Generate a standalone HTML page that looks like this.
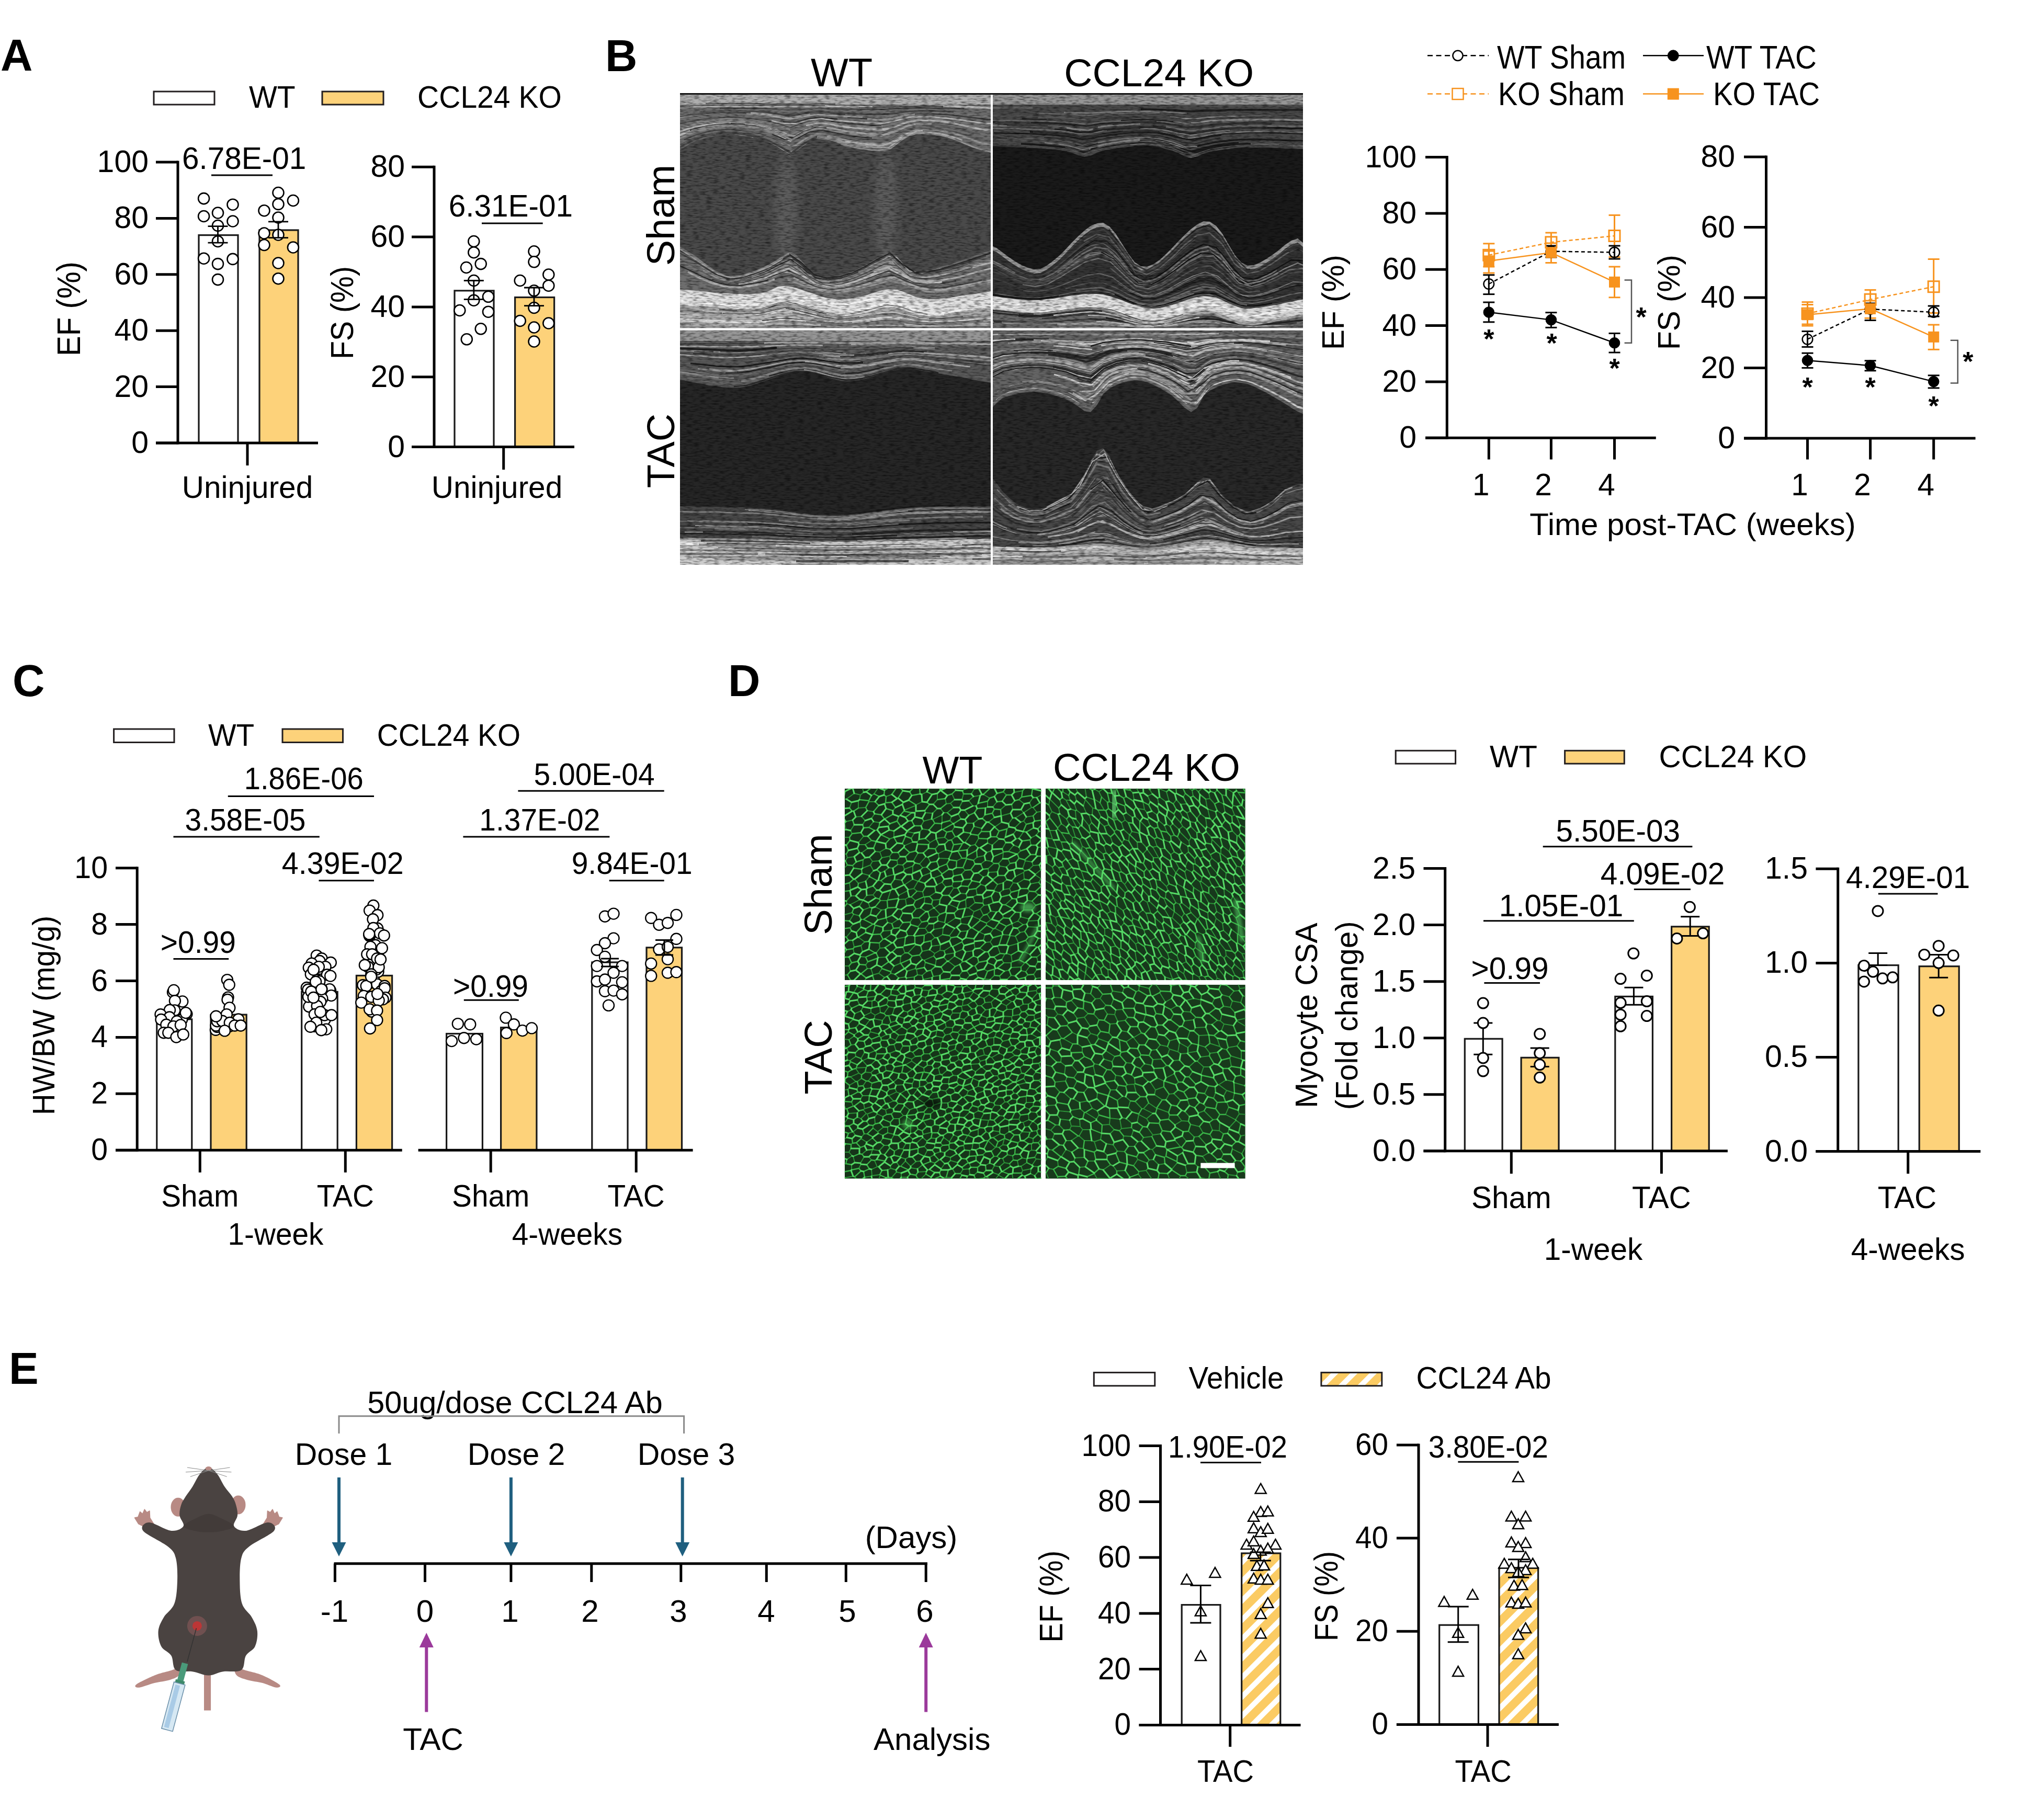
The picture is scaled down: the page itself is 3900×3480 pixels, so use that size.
<!DOCTYPE html><html><head><meta charset="utf-8"><style>html,body{margin:0;padding:0;background:#fff;width:3900px;height:3480px;overflow:hidden}svg{display:block}</style></head><body>
<svg width="3900" height="3480" viewBox="0 0 3900 3480" font-family="Liberation Sans, sans-serif" font-size="58.5">
<defs><pattern id="hatch" patternUnits="userSpaceOnUse" width="26" height="26" patternTransform="rotate(45)"><rect width="26" height="26" fill="#fff"/><rect width="16" height="26" fill="#FBCB63"/></pattern></defs>
<text x="1" y="135" font-size="85" font-weight="bold">A</text>
<rect x="294" y="175" width="116" height="25" fill="#fff" stroke="#231F20" stroke-width="3"/>
<text x="476" y="206" textLength="88.7" lengthAdjust="spacingAndGlyphs">WT</text>
<rect x="616" y="175" width="117" height="25" fill="#FDD27A" stroke="#231F20" stroke-width="3"/>
<text x="798" y="206" textLength="275.8" lengthAdjust="spacingAndGlyphs">CCL24 KO</text>
<rect x="380" y="449.6" width="75" height="397.4" fill="#fff" stroke="#1a1a1a" stroke-width="3.2"/>
<rect x="496" y="440" width="74" height="407" fill="#FDD27A" stroke="#1a1a1a" stroke-width="3.2"/>
<line x1="340" y1="307.5" x2="340" y2="849.5" stroke="#000" stroke-width="5"/>
<line x1="298" y1="847" x2="340" y2="847" stroke="#000" stroke-width="5"/>
<text x="284" y="866" textLength="32.8" lengthAdjust="spacingAndGlyphs" text-anchor="end" font-size="59">0</text>
<line x1="298" y1="739.6" x2="340" y2="739.6" stroke="#000" stroke-width="5"/>
<text x="284" y="758.6" textLength="65.6" lengthAdjust="spacingAndGlyphs" text-anchor="end" font-size="59">20</text>
<line x1="298" y1="632.2" x2="340" y2="632.2" stroke="#000" stroke-width="5"/>
<text x="284" y="651.2" textLength="65.6" lengthAdjust="spacingAndGlyphs" text-anchor="end" font-size="59">40</text>
<line x1="298" y1="524.8" x2="340" y2="524.8" stroke="#000" stroke-width="5"/>
<text x="284" y="543.8" textLength="65.6" lengthAdjust="spacingAndGlyphs" text-anchor="end" font-size="59">60</text>
<line x1="298" y1="417.4" x2="340" y2="417.4" stroke="#000" stroke-width="5"/>
<text x="284" y="436.4" textLength="65.6" lengthAdjust="spacingAndGlyphs" text-anchor="end" font-size="59">80</text>
<line x1="298" y1="310" x2="340" y2="310" stroke="#000" stroke-width="5"/>
<text x="284" y="329" textLength="98.4" lengthAdjust="spacingAndGlyphs" text-anchor="end" font-size="59">100</text>
<line x1="298" y1="847" x2="608" y2="847" stroke="#000" stroke-width="5"/>
<line x1="473" y1="847" x2="473" y2="890" stroke="#000" stroke-width="5"/>
<circle cx="389.6" cy="379.6" r="10.5" fill="#fff" stroke="#000" stroke-width="2.6"/>
<circle cx="445" cy="391.2" r="10.5" fill="#fff" stroke="#000" stroke-width="2.6"/>
<circle cx="389.6" cy="413.5" r="10.5" fill="#fff" stroke="#000" stroke-width="2.6"/>
<circle cx="416.5" cy="407" r="10.5" fill="#fff" stroke="#000" stroke-width="2.6"/>
<circle cx="445" cy="423" r="10.5" fill="#fff" stroke="#000" stroke-width="2.6"/>
<circle cx="416.5" cy="431.5" r="10.5" fill="#fff" stroke="#000" stroke-width="2.6"/>
<circle cx="416.5" cy="461.5" r="10.5" fill="#fff" stroke="#000" stroke-width="2.6"/>
<circle cx="389.6" cy="494.2" r="10.5" fill="#fff" stroke="#000" stroke-width="2.6"/>
<circle cx="445" cy="495.4" r="10.5" fill="#fff" stroke="#000" stroke-width="2.6"/>
<circle cx="416.5" cy="504.6" r="10.5" fill="#fff" stroke="#000" stroke-width="2.6"/>
<circle cx="416.5" cy="534.6" r="10.5" fill="#fff" stroke="#000" stroke-width="2.6"/>
<line x1="416.5" y1="432.7" x2="416.5" y2="464.2" stroke="#000" stroke-width="2.8"/>
<line x1="397.5" y1="432.7" x2="435.5" y2="432.7" stroke="#000" stroke-width="2.8"/>
<line x1="397.5" y1="464.2" x2="435.5" y2="464.2" stroke="#000" stroke-width="2.8"/>
<circle cx="532" cy="368.5" r="10.5" fill="#fff" stroke="#000" stroke-width="2.6"/>
<circle cx="560.4" cy="383.5" r="10.5" fill="#fff" stroke="#000" stroke-width="2.6"/>
<circle cx="532" cy="390.4" r="10.5" fill="#fff" stroke="#000" stroke-width="2.6"/>
<circle cx="505" cy="402.7" r="10.5" fill="#fff" stroke="#000" stroke-width="2.6"/>
<circle cx="532" cy="416" r="10.5" fill="#fff" stroke="#000" stroke-width="2.6"/>
<circle cx="505" cy="446" r="10.5" fill="#fff" stroke="#000" stroke-width="2.6"/>
<circle cx="532" cy="449" r="10.5" fill="#fff" stroke="#000" stroke-width="2.6"/>
<circle cx="505" cy="468.5" r="10.5" fill="#fff" stroke="#000" stroke-width="2.6"/>
<circle cx="560.4" cy="473" r="10.5" fill="#fff" stroke="#000" stroke-width="2.6"/>
<circle cx="532" cy="503" r="10.5" fill="#fff" stroke="#000" stroke-width="2.6"/>
<circle cx="532" cy="532.7" r="10.5" fill="#fff" stroke="#000" stroke-width="2.6"/>
<line x1="532" y1="423.8" x2="532" y2="454.6" stroke="#000" stroke-width="2.8"/>
<line x1="513" y1="423.8" x2="551" y2="423.8" stroke="#000" stroke-width="2.8"/>
<line x1="513" y1="454.6" x2="551" y2="454.6" stroke="#000" stroke-width="2.8"/>
<text x="348" y="323" textLength="237.4" lengthAdjust="spacingAndGlyphs">6.78E-01</text>
<line x1="404" y1="335" x2="521" y2="335" stroke="#000" stroke-width="3"/>
<text transform="translate(153 590.5) rotate(-90)" textLength="181" lengthAdjust="spacingAndGlyphs" text-anchor="middle" font-size="62.5">EF (%)</text>
<text x="473" y="952" textLength="250.4" lengthAdjust="spacingAndGlyphs" text-anchor="middle">Uninjured</text>
<rect x="869" y="555.8" width="75" height="298.8" fill="#fff" stroke="#1a1a1a" stroke-width="3.2"/>
<rect x="984.6" y="568.5" width="75" height="286.1" fill="#FDD27A" stroke="#1a1a1a" stroke-width="3.2"/>
<line x1="830" y1="316.7" x2="830" y2="857.1" stroke="#000" stroke-width="5"/>
<line x1="787" y1="854.6" x2="830" y2="854.6" stroke="#000" stroke-width="5"/>
<text x="774" y="873.6" textLength="32.8" lengthAdjust="spacingAndGlyphs" text-anchor="end" font-size="59">0</text>
<line x1="787" y1="720.8" x2="830" y2="720.8" stroke="#000" stroke-width="5"/>
<text x="774" y="739.8" textLength="65.6" lengthAdjust="spacingAndGlyphs" text-anchor="end" font-size="59">20</text>
<line x1="787" y1="586.9" x2="830" y2="586.9" stroke="#000" stroke-width="5"/>
<text x="774" y="605.9" textLength="65.6" lengthAdjust="spacingAndGlyphs" text-anchor="end" font-size="59">40</text>
<line x1="787" y1="453" x2="830" y2="453" stroke="#000" stroke-width="5"/>
<text x="774" y="472" textLength="65.6" lengthAdjust="spacingAndGlyphs" text-anchor="end" font-size="59">60</text>
<line x1="787" y1="319.2" x2="830" y2="319.2" stroke="#000" stroke-width="5"/>
<text x="774" y="338.2" textLength="65.6" lengthAdjust="spacingAndGlyphs" text-anchor="end" font-size="59">80</text>
<line x1="787" y1="854.6" x2="1098" y2="854.6" stroke="#000" stroke-width="5"/>
<line x1="962.7" y1="854.6" x2="962.7" y2="898" stroke="#000" stroke-width="5"/>
<circle cx="905.8" cy="461.5" r="10.5" fill="#fff" stroke="#000" stroke-width="2.6"/>
<circle cx="905.8" cy="482.7" r="10.5" fill="#fff" stroke="#000" stroke-width="2.6"/>
<circle cx="891.5" cy="511.5" r="10.5" fill="#fff" stroke="#000" stroke-width="2.6"/>
<circle cx="919.2" cy="504.6" r="10.5" fill="#fff" stroke="#000" stroke-width="2.6"/>
<circle cx="905.8" cy="536.5" r="10.5" fill="#fff" stroke="#000" stroke-width="2.6"/>
<circle cx="933.5" cy="567.3" r="10.5" fill="#fff" stroke="#000" stroke-width="2.6"/>
<circle cx="905.8" cy="574.2" r="10.5" fill="#fff" stroke="#000" stroke-width="2.6"/>
<circle cx="878.8" cy="593.5" r="10.5" fill="#fff" stroke="#000" stroke-width="2.6"/>
<circle cx="933.5" cy="596.2" r="10.5" fill="#fff" stroke="#000" stroke-width="2.6"/>
<circle cx="919.2" cy="628.8" r="10.5" fill="#fff" stroke="#000" stroke-width="2.6"/>
<circle cx="892.3" cy="648.8" r="10.5" fill="#fff" stroke="#000" stroke-width="2.6"/>
<line x1="905.8" y1="536.5" x2="905.8" y2="572.3" stroke="#000" stroke-width="2.8"/>
<line x1="886.8" y1="536.5" x2="924.8" y2="536.5" stroke="#000" stroke-width="2.8"/>
<line x1="886.8" y1="572.3" x2="924.8" y2="572.3" stroke="#000" stroke-width="2.8"/>
<circle cx="1021" cy="480.8" r="10.5" fill="#fff" stroke="#000" stroke-width="2.6"/>
<circle cx="1021" cy="500.8" r="10.5" fill="#fff" stroke="#000" stroke-width="2.6"/>
<circle cx="994.2" cy="536.5" r="10.5" fill="#fff" stroke="#000" stroke-width="2.6"/>
<circle cx="1048.8" cy="525" r="10.5" fill="#fff" stroke="#000" stroke-width="2.6"/>
<circle cx="1048.8" cy="546.2" r="10.5" fill="#fff" stroke="#000" stroke-width="2.6"/>
<circle cx="1021" cy="555.8" r="10.5" fill="#fff" stroke="#000" stroke-width="2.6"/>
<circle cx="1021" cy="588.5" r="10.5" fill="#fff" stroke="#000" stroke-width="2.6"/>
<circle cx="994.2" cy="613.5" r="10.5" fill="#fff" stroke="#000" stroke-width="2.6"/>
<circle cx="1048.8" cy="618" r="10.5" fill="#fff" stroke="#000" stroke-width="2.6"/>
<circle cx="1021" cy="626" r="10.5" fill="#fff" stroke="#000" stroke-width="2.6"/>
<circle cx="1021" cy="653" r="10.5" fill="#fff" stroke="#000" stroke-width="2.6"/>
<line x1="1021" y1="550" x2="1021" y2="584.6" stroke="#000" stroke-width="2.8"/>
<line x1="1002" y1="550" x2="1040" y2="550" stroke="#000" stroke-width="2.8"/>
<line x1="1002" y1="584.6" x2="1040" y2="584.6" stroke="#000" stroke-width="2.8"/>
<text x="857.7" y="413.5" textLength="237.4" lengthAdjust="spacingAndGlyphs">6.31E-01</text>
<line x1="921" y1="427" x2="1037.7" y2="427" stroke="#000" stroke-width="3"/>
<text transform="translate(675 598) rotate(-90)" textLength="178" lengthAdjust="spacingAndGlyphs" text-anchor="middle" font-size="61">FS (%)</text>
<text x="950" y="952" textLength="250.4" lengthAdjust="spacingAndGlyphs" text-anchor="middle">Uninjured</text>
<text x="1157" y="136" font-size="85" font-weight="bold">B</text>
<filter id="speck" x="0" y="0" width="100%" height="100%"><feTurbulence type="fractalNoise" baseFrequency="0.08 0.35" numOctaves="2" seed="3"/><feColorMatrix type="matrix" values="0 0 0 0 0  0 0 0 0 0  0 0 0 0 0  -2.2 0 0 0 1.25"/></filter><filter id="eblur"><feGaussianBlur stdDeviation="8"/></filter>
<clipPath id="ewt1"><rect x="1300" y="181" width="594" height="446.5"/></clipPath>
<g clip-path="url(#ewt1)">
<path d="M1295 175 1307 175 1319 175 1331 175 1343 175 1355 175 1367 175 1379 175 1391 175 1403 175 1415 175 1427 175 1439 175 1451 175 1463 175 1475 175 1487 175 1499 175 1511 175 1523 175 1535 175 1547 175 1559 175 1571 175 1583 175 1595 175 1607 175 1619 175 1631 175 1643 175 1655 175 1667 175 1679 175 1691 175 1703 175 1715 175 1727 175 1739 175 1751 175 1763 175 1775 175 1787 175 1799 175 1811 175 1823 175 1835 175 1847 175 1859 175 1871 175 1883 175 1895 175 1899 175 L1899 640 1895 640 1883 640 1871 640 1859 640 1847 640 1835 640 1823 640 1811 640 1799 640 1787 640 1775 640 1763 640 1751 640 1739 640 1727 640 1715 640 1703 640 1691 640 1679 640 1667 640 1655 640 1643 640 1631 640 1619 640 1607 640 1595 640 1583 640 1571 640 1559 640 1547 640 1535 640 1523 640 1511 640 1499 640 1487 640 1475 640 1463 640 1451 640 1439 640 1427 640 1415 640 1403 640 1391 640 1379 640 1367 640 1355 640 1343 640 1331 640 1319 640 1307 640 1295 640Z" fill="#6e6e6e"/>
<path d="M1295 180 1307 180 1319 180 1331 180 1343 180 1355 180 1367 180 1379 180 1391 180 1403 180 1415 180 1427 180 1439 180 1451 180 1463 180 1475 180 1487 180 1499 180 1511 180 1523 180 1535 180 1547 180 1559 180 1571 180 1583 180 1595 180 1607 180 1619 180 1631 180 1643 180 1655 180 1667 180 1679 180 1691 180 1703 180 1715 180 1727 180 1739 180 1751 180 1763 180 1775 180 1787 180 1799 180 1811 180 1823 180 1835 180 1847 180 1859 180 1871 180 1883 180 1895 180 1899 180 L1899 200 1895 200 1883 200 1871 200 1859 200 1847 200 1835 200 1823 200 1811 200 1799 200 1787 200 1775 200 1763 200 1751 200 1739 200 1727 200 1715 200 1703 200 1691 200 1679 200 1667 200 1655 200 1643 200 1631 200 1619 200 1607 200 1595 200 1583 200 1571 200 1559 200 1547 200 1535 200 1523 200 1511 200 1499 200 1487 200 1475 200 1463 200 1451 200 1439 200 1427 200 1415 200 1403 200 1391 200 1379 200 1367 200 1355 200 1343 200 1331 200 1319 200 1307 200 1295 200Z" fill="#afafaf"/>
<g fill="none" opacity="0.70"><path d="M1472 233l24 7 24 2 24 -9 24 -3 24 3 24 3 24 2 24 2 24 0 24 -4 24 -8 24 -3 24 1 24 2 24 4 24 4 24 4 19 1" stroke="#787878" stroke-width="3"/><path d="M1451 214l24 2 24 3 24 -1 24 -3 24 -1 24 1 24 2 24 0 24 1 24 0 24 -2 24 -3 24 -1 15 0M1544 215l24 -1 24 1 24 1 24 1 20 1M1620 225l24 1 24 1 24 1 24 -5 24 -5 24 -1 24 1 24 1 24 3 24 3 24 3 15 1" stroke="#282828" stroke-width="2.5"/><path d="M1577 203l24 1 24 1 24 0 24 0 24 0 24 -1 24 -1 24 -1 24 1 24 0 24 1 24 1 24 1 10 0M1295 260l24 -9 24 -6 24 -4 24 -2 24 1 24 3 24 5 24 9 24 12 24 -14 16 -8" stroke="#d8d8d8" stroke-width="4"/><path d="M1495 255l24 4 24 -14 24 -5 24 4 24 5 7 1" stroke="#787878" stroke-width="1.5"/><path d="M1337 213l24 -2 24 0 24 0 1 0" stroke="#686868" stroke-width="3.5"/><path d="M1506 251l24 -6 24 -9 24 0 24 4 24 4 24 2 24 1 24 0 24 -9 24 -7 24 -1 7 1M1637 217l24 1 24 0 24 -1 24 -4 24 -1 24 0 24 1 24 1 24 2 24 2 22 1M1637 258l24 2 24 2 24 -6 24 -13 24 -5 24 1 24 3 9 1" stroke="#686868" stroke-width="2"/><path d="M1656 288l24 3 24 -6 24 -18 24 -9 24 0 24 4 24 6 24 10 24 10 24 5 3 0" stroke="#585858" stroke-width="2"/><path d="M1295 225l24 -4 24 -3 24 -1 24 -1 24 0 24 2 24 2 24 4 24 4 24 -5 24 -4 24 1 24 2 24 1 18 1" stroke="#b8b8b8" stroke-width="2.5"/><path d="M1593 268l24 7 24 5 12 1M1417 214l24 1 24 2 24 2 24 3 24 -4 24 -2 24 0 24 2 24 1 24 1 24 0 24 -1 24 -3 24 -2 24 0 24 1 17 0" stroke="#c8c8c8" stroke-width="2.5"/><path d="M1403 257l24 3 24 6 24 9 19 12" stroke="#a8a8a8" stroke-width="2"/><path d="M1376 207l24 0 24 0 24 0 24 1 24 1 24 1 24 -2 24 -1 24 1 24 1 24 0 24 0 24 0 24 -1 24 -1 24 -1 24 1 24 0 24 1 11 0M1359 238l24 -2 24 0 24 2 24 4 24 6 14 6" stroke="#282828" stroke-width="2"/><path d="M1295 207l24 -1 24 -1 24 -1 24 0 24 0 24 0 24 1 24 2 24 1 24 -2 24 -1 24 0 24 1 24 0 24 1 2 0M1453 267l24 10 24 15 24 -4 24 -18 24 -3 24 7 24 7 24 4 24 3 14 1" stroke="#888888" stroke-width="2.5"/><path d="M1349 215l24 -1 24 0 24 1 24 1 24 1 24 3 24 2 24 -4 24 -2 24 1 24 2 24 1 24 0 24 1 24 -2 24 -4 24 -1 24 0 24 1 15 1M1410 212l24 1 24 2 24 2 24 4 24 -3 24 -4 24 1 24 1 24 2 24 0 24 1 24 0 24 -4 13 -2" stroke="#585858" stroke-width="3.5"/><path d="M1402 213l24 1 24 1 24 2 24 3 24 0 24 -4 24 -1 24 1 24 2 24 1 24 0 24 1 24 -3 24 -3 24 -1 24 0 24 1 13 1" stroke="#282828" stroke-width="4"/><path d="M1344 213l24 -1 24 -1 24 1 24 0 24 2 24 3 24 3 24 -4 24 -3 24 1 24 2 24 1 24 1 24 0 24 -1 24 -4 3 0M1295 279l24 -12 24 -8 24 -5 24 -2 24 1 24 4 14 4" stroke="#484848" stroke-width="1.5"/><path d="M1481 208l24 1 24 -1 24 -1 24 0 24 0 24 1 19 0M1456 244l24 7 24 10 24 -5 24 -12 24 0 24 4 24 5 24 2 24 2 24 1 24 -11 24 -9 24 -1 24 1 24 4 24 5 24 7 9 2M1319 218l24 -2 24 -1 24 -1 24 0 24 1 24 2 24 3 24 5 24 -5 24 -4 24 1 20 2" stroke="#585858" stroke-width="2.5"/><path d="M1440 263l24 7 24 13 24 15 24 -18 24 -14 24 3 24 8 24 5 24 4 24 2 24 -5 24 -17 14 -7M1295 224l24 -4 24 -2 24 -2 24 0 24 0 12 1M1308 267l24 -10 24 -6 24 -3 24 0 24 2 24 5 24 8 24 12 10 7" stroke="#383838" stroke-width="2"/><path d="M1581 261l24 7 24 5 24 4 24 2 24 -2 24 -16 21 -10M1658 228l24 1 24 -2 24 -6 19 -2" stroke="#a8a8a8" stroke-width="4"/><path d="M1642 205l24 0 24 0 24 -1 24 0 24 -1 24 0 17 1M1295 284l24 -13 24 -9 24 -5 24 -3 24 2 10 1" stroke="#484848" stroke-width="3.5"/><path d="M1595 240l24 4 24 2 24 2 24 1 24 -8 24 -9 24 -2 24 1 24 3 24 5 24 6 24 4 16 1M1369 229l24 -1 24 1 24 2 24 4 24 6 21 7" stroke="#c8c8c8" stroke-width="2"/><path d="M1349 198l24 0 24 0 24 0 24 0 24 1 24 0 24 0 24 0 24 -1 24 1 8 0" stroke="#383838" stroke-width="2.5"/><path d="M1295 253l24 -8 24 -5 24 -4 24 -1 24 1 24 2 24 5 24 7 17 6M1616 270l24 4 24 2 24 2 24 -9 24 -15 24 -4 4 0" stroke="#d8d8d8" stroke-width="3"/><path d="M1482 253l24 11 24 -8 24 -12 24 0 23 6" stroke="#181818" stroke-width="4"/><path d="M1642 260l24 3 24 1 21 -7M1616 220l24 1 24 1 24 0 24 -2 24 -4 24 -1 24 0 24 1 24 2 24 2 24 2 19 0" stroke="#787878" stroke-width="3.5"/><path d="M1533 264l24 -12 24 1 24 6 24 5 24 2 24 2 24 -1 24 -14 24 -8 24 -1 24 3 24 4 24 7 24 8 24 4 6 0M1514 292l24 -19 24 -11 24 4 24 7 24 5 24 3 24 3 24 -7 24 -16 24 -7 7 0" stroke="#585858" stroke-width="3"/><path d="M1603 270l24 6 24 4 24 2 24 0 24 -17 24 -11 24 -1 24 2 24 6 21 7" stroke="#c8c8c8" stroke-width="3"/><path d="M1397 236l24 2 24 3 24 5 24 9 24 6 24 -13 24 -6 24 3 24 5 24 3 24 2 24 2 18 -3M1497 233l24 1 24 -7 24 -2 24 2 8 1" stroke="#282828" stroke-width="3"/><path d="M1607 276l24 6 24 4 24 2 24 -4 24 -18 24 -10 24 0 24 3 24 7 24 10 24 9 24 6 4 0" stroke="#a8a8a8" stroke-width="3"/><path d="M1589 233l24 3 24 3 24 1 24 1" stroke="#181818" stroke-width="3"/><path d="M1332 233l24 -3 24 -2 24 0 24 1 24 3 24 5 24 7 24 -1 24 -9 24 -2 24 4 24 3 24 2 24 2 20 0" stroke="#888888" stroke-width="4"/><path d="M1369 235l24 -2 24 1 24 3 24 4 21 7" stroke="#b8b8b8" stroke-width="3.5"/><path d="M1426 257l24 5 24 10 24 15 20 4M1555 243l24 1 24 5 24 3 24 3 24 1 24 1 24 -12 24 -8 24 0 10 0" stroke="#c8c8c8" stroke-width="1.5"/><path d="M1476 256l24 11 24 -2 24 -13 24 -3 24 5 24 5 24 3 23 2" stroke="#181818" stroke-width="2"/><path d="M1295 238l24 -6 24 -4 24 -2 24 -2 24 1 24 2 24 3 24 6 24 8 24 -9 24 -6 24 1 24 4 24 2 24 2 1 0" stroke="#383838" stroke-width="1.5"/><path d="M1424 239l24 3 24 6 24 9 24 3 24 -13 24 -4 24 3 24 5 24 3 24 2 24 2 24 -7 24 -11 14 -3M1435 216l24 2 24 3 24 5 24 -4 18 -3" stroke="#b8b8b8" stroke-width="4"/><path d="M1319 249l24 -6 24 -4 24 -2 24 1 24 3 24 5 24 9 24 12 24 -14 24 -9 21 1" stroke="#181818" stroke-width="2.5"/><path d="M1311 256l24 -8 24 -5 24 -3 24 0 24 3 24 4 24 8 7 3M1303 246l24 -8 24 -4 24 -2 24 -1 24 1 24 3 2 1" stroke="#989898" stroke-width="3"/><path d="M1540 271l24 -10 24 5 24 8 24 4 19 3" stroke="#989898" stroke-width="4"/><path d="M1475 231l24 5 24 0 24 -7 24 -2 24 3 24 2 24 2 24 1 24 1 24 -6 24 -6 24 -1 24 1 24 2 24 3 24 4 24 3 16 0M1541 240l24 -5 24 3 24 4 24 3 24 1 24 2 24 -5 24 -9 24 -4 24 1 24 2 24 4 24 5 24 5 22 2" stroke="#d8d8d8" stroke-width="2.5"/><path d="M1322 250l24 -6 24 -4 24 -1 24 1 24 3 24 5 24 9 24 10 24 -14 24 -8 24 3 24 5 24 3 24 3 24 1 5 0" stroke="#989898" stroke-width="3.5"/><path d="M1560 234l24 2 24 4 24 3 24 2 24 1 24 -2 24 -10 24 -5 24 0 24 1 24 4 2 1" stroke="#b8b8b8" stroke-width="1.5"/><path d="M1320 242l24 -5 24 -3 24 -1 24 1 24 2 24 4 24 8 24 9 24 -11 24 -8 24 2 23 4" stroke="#888888" stroke-width="1.5"/><path d="M1295 267l24 -11 24 -7 24 -4 20 -2" stroke="#989898" stroke-width="2.5"/><path d="M1494 273l24 7 24 -17 24 -8 24 4 24 7 24 4 24 3 24 2 24 -8 24 -15 24 -5 24 0 24 4 24 6 24 9 24 8 21 3" stroke="#a8a8a8" stroke-width="3.5"/><path d="M1369 256l24 -2 24 2 24 4 24 7 24 12 24 14 24 -19 24 -12 1 0" stroke="#383838" stroke-width="4"/><path d="M1413 246l24 4 24 6 24 10 24 15 24 -15 24 -13 24 2 24 7 24 5 24 3 24 2 24 -2 24 -15 24 -9 24 -1 24 3 10 1" stroke="#686868" stroke-width="3"/><path d="M1320 204l24 0 24 0 24 -1 24 1 24 0 24 0 24 0 24 0 24 0 24 0 24 0 24 0 24 0 24 0 12 0" stroke="#d8d8d8" stroke-width="2"/></g>
<path d="M1295 288 1307 283 1319 275 1331 269 1343 266 1355 262 1367 260 1379 258 1391 257 1403 257 1415 259 1427 261 1439 263 1451 266 1463 270 1475 276 1487 283 1499 291 1511 300 1523 291 1535 281 1547 271 1559 266 1571 267 1583 270 1595 274 1607 277 1619 281 1631 283 1643 285 1655 287 1667 288 1679 289 1691 290 1703 285 1715 276 1727 267 1739 260 1751 257 1763 256 1775 257 1787 258 1799 260 1811 263 1823 267 1835 272 1847 277 1859 282 1871 286 1883 290 1895 292 1899 292 L1899 478 1895 478 1883 482 1871 486 1859 491 1847 495 1835 499 1823 503 1811 507 1799 510 1787 514 1775 517 1763 519 1751 520 1739 516 1727 505 1715 490 1703 479 1691 484 1679 491 1667 499 1655 506 1643 513 1631 519 1619 524 1607 527 1595 529 1583 531 1571 530 1559 526 1547 517 1535 502 1523 488 1511 481 1499 487 1487 495 1475 503 1463 509 1451 514 1439 519 1427 523 1415 527 1403 529 1391 528 1379 524 1367 518 1355 509 1343 500 1331 490 1319 483 1307 475 1295 470Z" fill="#4a4a4a"/>
<g fill="#6a6a6a" opacity="0.6" filter="url(#eblur)"><ellipse cx="1503" cy="400" rx="22" ry="105"/><ellipse cx="1693" cy="395" rx="22" ry="105"/></g>
<g fill="none" opacity="0.75"><path d="M1556 540l24 6 24 -1 24 -6 24 -9 24 -10 24 -9 24 12 24 14 24 2 24 -2 24 -4 8 -2M1295 500l24 11 24 13 24 11 24 7 24 0 24 -4 24 -6 24 -10 24 -7 24 14 24 14 24 5 24 -2 1 0" stroke="#383838" stroke-width="1.5"/><path d="M1295 475l24 13 24 16 24 17 24 10 24 -1 24 -7 24 -9 24 -14 24 -13 24 20 9 10" stroke="#888888" stroke-width="2"/><path d="M1321 496l24 16 24 15 24 9 24 -2 24 -7 24 -9 24 -13 24 -11 24 22 24 19 24 4 24 -4 24 -7 24 -12 24 -14 24 -10 24 25 7 6" stroke="#c8c8c8" stroke-width="1.5"/><path d="M1637 520l24 -13 24 -15 24 -8 24 32 24 7 24 -4 24 -6 24 -7 24 -8 24 -8 16 -6" stroke="#585858" stroke-width="2.5"/><path d="M1417 537l24 -5 24 -7 24 -11 24 -7 24 16 24 15 24 4 24 -2 24 -6 24 -9 24 -11 24 -8 24 17 2 2M1295 497l24 12 24 14 24 12 24 7 24 0 24 -5 24 -6 24 -11 24 -8 24 15 24 15 24 5 24 -2 24 -6 24 -9 24 -11 0 0" stroke="#989898" stroke-width="3"/><path d="M1427 528l24 -8 24 -10 24 -15 24 2 24 25 24 12 24 0 24 -5 24 -10 24 -12 24 -13 24 4 24 23 24 4 24 -3 13 -3M1619 541l24 -8 24 -9 24 -10 4 -1M1538 514l24 18 24 4 24 -4 24 -8 24 -11 24 -13 24 -9 24 25 24 10 24 -2 24 -4 24 -7 24 -7" stroke="#383838" stroke-width="2"/><path d="M1406 544l24 -3 24 -5 24 -9 24 -10 24 7 24 15 24 9 24 0 24 -4 24 -8 24 -9 24 -9 24 5 2 1M1631 537l24 -9 24 -10 24 -8 24 15 24 12 24 1 24 -2 24 -4 24 -6 24 -7 24 -6 4 0M1558 539l24 5 24 -1 24 -6 24 -9 24 -11 24 -8 24 14 24 13 24 1 11 0" stroke="#c8c8c8" stroke-width="3"/><path d="M1620 534l24 -10 24 -12 24 -12 24 5 24 22 24 3 24 -3 24 -5 24 -7 24 -7 24 -8 15 -3M1607 557l24 -4 24 -7 24 -7 24 -6 24 8 24 10 24 5 24 1 24 -3 24 -5 24 -5 24 -4 4 0M1336 529l24 10 24 8 24 2 24 -3 12 -2M1506 535l24 9 24 8 24 6 24 2 24 -4 24 -6 24 -6 24 -7 24 4 24 9 24 7 17 2M1555 529l24 7 24 -2 24 -7 24 -11 24 -13 24 -12 24 17 24 17M1328 514l24 13 24 12 24 4 9 0" stroke="#a8a8a8" stroke-width="2.5"/><path d="M1295 506l24 11 24 12 24 10 24 6 24 1 24 -4 24 -5 6 -2M1415 535l24 -6 24 -9 24 -13 24 -11 24 17 24 22 24 4 15 -1" stroke="#181818" stroke-width="2"/><path d="M1499 521l24 4 24 15 24 10 24 2 24 -4 24 -7 14 -6M1453 535l24 -9 24 -11 24 6 24 18 24 8 24 1 24 -4 8 -3" stroke="#989898" stroke-width="2"/><path d="M1476 529l24 -10 24 4 24 15 24 9 24 2 24 -4 24 -7 24 -9 24 -9 24 2 24 15 21 5" stroke="#d8d8d8" stroke-width="3"/><path d="M1557 542l24 6 24 -1 24 -5 24 -8 24 -9 24 -7 24 10 24 11 24 4 24 0 24 -4 24 -5 24 -6 24 -6 6 0M1505 533l24 8 24 8 24 7 24 1 24 -4 24 -5 24 -6 24 -7 24 3 24 9 24 7 24 4 24 -2 24 -4 24 -4 24 -5 10 -1M1350 519l24 13 24 6 24 -3 24 -6 24 -9 24 -12 24 -5 24 22 24 14 24 2 24 -4 24 -7 24 -11 24 -12 13 -6" stroke="#888888" stroke-width="3"/><path d="M1405 533l24 -4 24 -8 24 -11 9 -5" stroke="#585858" stroke-width="1.5"/><path d="M1618 532l24 -9 24 -12 24 -12 24 3 24 22 24 4 24 -2 24 -6 24 -6 24 -8 24 -7 17 -4M1462 530l24 -11 24 -9 24 14 24 17 24 5 24 -2 24 -6 24 -9 24 -11 24 -8 24 14 24 13 24 2 24 -3 24 -4 5 -1" stroke="#c8c8c8" stroke-width="2.5"/><path d="M1628 522l24 -13 24 -14 24 -13 24 21 24 18 8 0M1389 536l24 0 24 -5 24 -8 24 -11 24 -11 24 14 24 19 24 6 24 -1 11 -3" stroke="#383838" stroke-width="2.5"/><path d="M1295 500l24 11 24 13 24 11 24 7 24 0 24 -4 24 -6 24 -10 24 -7 24 14 24 14 24 5 24 -2 24 -6 24 -8 24 -10 24 -7 16 7M1605 528l24 -7 24 -12 24 -14 21 -11M1354 540l24 7 24 3 21 -1" stroke="#787878" stroke-width="2.5"/><path d="M1356 523l24 11 24 4 24 -4 24 -7 24 -9 24 -13 24 4 24 21 24 10 24 1 24 -5 24 -9 24 -11 24 -12 1 0" stroke="#484848" stroke-width="3"/><path d="M1295 482l24 12 24 15 24 15 24 8 14 1M1361 533l24 8 24 2 24 -3 24 -6 24 -8 24 -9 24 9 24 14 24 7 24 0 24 -5 24 -7 24 -9 24 -8 24 7 24 13 4 1M1464 540l24 -9 24 -5 24 12 24 11 24 5 24 -1 24 -5 24 -7 24 -9 24 -6 24 10 24 10 24 4 24 1 24 -4 24 -5 24 -5 5 -1M1550 523l24 10 24 -1 24 -6 24 -11 24 -13 24 -13 24 10 24 22 24 1 24 -4 24 -6 24 -7 24 -8 23 -8M1655 534l24 -10 24 -7 24 13 24 11 24 2 24 -1 24 -4 5 -1" stroke="#383838" stroke-width="3"/><path d="M1614 535l24 -8 24 -10 24 -12 24 -4 24 22 24 7 24 0 24 -4 24 -6 24 -7 24 -7 21 -5M1315 520l24 12 24 10 24 6 24 2 24 -3 24 -5 22 -8" stroke="#c8c8c8" stroke-width="3.5"/><path d="M1618 526l24 -10 24 -13 24 -14 24 3 24 26 24 4 24 -5 24 -6 24 -7 24 -9 1 0" stroke="#c8c8c8" stroke-width="2"/><path d="M1295 497l24 12 24 13 24 12 24 8 24 0 24 -5 24 -7 24 -11 24 -7 24 14M1467 523l24 -13 24 -8 24 21 24 16 24 3 24 -3 24 -7 24 -11 24 -12 24 -9 24 24 24 9 24 -1 24 -4 24 -6 15 -4" stroke="#686868" stroke-width="2"/><path d="M1412 543l24 -4 24 -7 24 -10 24 -8 24 12 24 15 24 6 24 -1 24 -5 24 -9 24 -9 24 -9 24 12 24 12 24 3 24 -1 5 -1" stroke="#d8d8d8" stroke-width="3.5"/><path d="M1295 472l24 12 24 17 24 17 24 11 24 -2 20 -6" stroke="#888888" stroke-width="1.5"/><path d="M1295 498l24 12 24 13 19 10M1510 532l24 10 24 8 24 6 24 -1 24 -4 24 -6 24 -6 24 -6 24 6 24 9 24 6 24 2 24 -2 24 -4 24 -5 24 -5 5 0" stroke="#787878" stroke-width="3"/><path d="M1437 531l24 -8 24 -11 24 -11 24 15 24 19 24 5 5 0" stroke="#a8a8a8" stroke-width="3"/><path d="M1295 474l24 13 24 16 24 18 24 10 24 -2 24 -7 24 -9 24 -14 24 -13 24 20 24 23 24 4 24 -3 24 -7 24 -13 24 -14 9 -5M1632 551l24 -6 24 -7 24 -5 24 7 24 10 24 5 24 1 24 -3 24 -4 24 -5 24 -5 3 0" stroke="#a8a8a8" stroke-width="2"/><path d="M1344 517l24 13 24 8 24 -1 24 -5 24 -8 24 -12 24 -8 24 17 24 17 24 4 24 -2 24 -7 24 -10 24 -11 24 -9 24 18 19 11" stroke="#989898" stroke-width="3.5"/><path d="M1363 519l24 11 24 1 24 -7 24 -9 24 -13 24 -14 24 14 24 26 24 6 24 -2 24 -7 24 -12 24 -14 24 -13 24 19 7 8M1404 539l24 -4 24 -7 24 -10 24 -13 24 3 24 22 24 11 24 0 24 -5 24 -9 24 -11 24 -12 24 5 24 20 24 4 24 -2 24 -5 24 -7 23 -7" stroke="#484848" stroke-width="2"/><path d="M1542 522l24 14 24 2 24 -3 24 -8 24 -11 24 -12 24 -5 24 23 23 8M1435 523l24 -10 24 -13 24 -15 24 14 24 27 24 7 24 -3 24 -7 24 -12 1 -1" stroke="#989898" stroke-width="2.5"/><path d="M1295 477l24 12 24 16 24 18 24 10 24 -2 24 -7 24 -9 24 -14 24 -13 24 20 24 23 24 4 24 -3 24 -7 10 -5" stroke="#282828" stroke-width="3"/><path d="M1517 531l24 12 24 10 24 3 24 -2 24 -5 24 -7 24 -9 24 -3 24 11 24 9 24 4 24 -1 24 -4 24 -5 24 -5 22 -4" stroke="#b8b8b8" stroke-width="3.5"/><path d="M1297 494l24 13 24 14 24 13 24 7 24 0 24 -6 24 -7 24 -12 24 -8 24 17 24 16 24 5 24 -3 24 -7 24 -10 13 -6" stroke="#585858" stroke-width="2"/><path d="M1509 486l24 17 24 23 24 6 24 -3 24 -7 24 -12 24 -14 24 -12 24 21 24 16 24 -1 24 -5 24 -7 24 -8 24 -8 24 -8 4 0" stroke="#181818" stroke-width="2.5"/><path d="M1610 534l24 -8 24 -11 24 -13 24 -9 24 24 24 11 24 -2 24 -4 24 -6 24 -8 24 -7 24 -6 1 0" stroke="#787878" stroke-width="3.5"/><path d="M1301 477l24 16 24 16 24 15 24 7 24 -3 24 -8 24 -9 24 -14 4 -3" stroke="#b8b8b8" stroke-width="2.5"/></g>
<path d="M1295 553 1307 554 1319 555 1331 556 1343 557 1355 558 1367 560 1379 561 1391 561 1403 562 1415 562 1427 563 1439 562 1451 561 1463 559 1475 554 1487 548 1499 547 1511 548 1523 551 1535 555 1547 559 1559 563 1571 567 1583 570 1595 572 1607 573 1619 572 1631 570 1643 567 1655 565 1667 561 1679 557 1691 554 1703 553 1715 554 1727 558 1739 563 1751 568 1763 571 1775 572 1787 572 1799 571 1811 570 1823 568 1835 566 1847 564 1859 563 1871 561 1883 559 1895 557 1899 557 L1899 587 1895 587 1883 589 1871 591 1859 593 1847 594 1835 596 1823 598 1811 600 1799 601 1787 602 1775 602 1763 601 1751 598 1739 593 1727 588 1715 584 1703 583 1691 584 1679 587 1667 591 1655 595 1643 597 1631 600 1619 602 1607 603 1595 602 1583 600 1571 597 1559 593 1547 589 1535 585 1523 581 1511 578 1499 577 1487 578 1475 584 1463 589 1451 591 1439 592 1427 593 1415 592 1403 592 1391 591 1379 591 1367 590 1355 588 1343 587 1331 586 1319 585 1307 584 1295 583Z" fill="#e1e1e1"/>
<g fill="none" opacity="0.90"><path d="M1582 572l24 3 24 -3 24 -5 24 -7 24 -5 24 5 24 10 24 4 24 -1 24 -3 24 -3 24 -4 24 -4 5 0M1358 577l24 3 24 1 24 0 24 -1 24 -8 24 -6 24 5 24 7 24 8 3 1M1295 558l24 2 24 3 24 2 24 2 24 1 24 0 24 -3 24 -11 24 0 24 6 24 8 24 7 24 3 14 -1" stroke="#d8d8d8" stroke-width="3"/><path d="M1295 574l24 2 24 3 24 2 24 2 24 1 24 -1 24 -2 24 -11 24 0 24 6 4 2" stroke="#f8f8f8" stroke-width="4"/><path d="M1363 584l24 2 24 2 24 0 24 -3 24 -10 24 -2 24 6 24 8 24 7 24 4 24 -2 24 -5 24 -7 24 -6 24 4 24 10 10 3M1511 573l24 6 24 8 18 5M1429 582l24 -1 24 -8 16 -6M1473 583l24 -9 24 4 24 8 24 7 24 6 24 1 24 -5 24 -6 24 -7 24 -1 24 9 24 8 24 1 24 -2 24 -3 6 -1" stroke="#f8f8f8" stroke-width="2.5"/><path d="M1323 580l24 3 24 2 24 2 24 0 24 0 24 -4 24 -11 24 2 24 7 24 8 24 7 24 2 2 0" stroke="#d8d8d8" stroke-width="4.5"/><path d="M1366 568l24 2 24 1 24 -1 21 -2M1295 565l24 2 24 2 24 2 24 2 24 1 24 0 24 -3 24 -11 24 0 24 7 24 8 24 7 24 3 24 -3 24 -5 24 -8 24 -4 12 1M1531 567l24 8 24 8 24 4 24 -2 24 -5 24 -8 24 -5 24 4 24 9 24 5 24 0 24 -3 24 -3 24 -4 24 -4 8 0" stroke="#e8e8e8" stroke-width="4"/><path d="M1526 562l24 8 24 7 24 5 24 0 8 -2" stroke="#e8e8e8" stroke-width="5"/><path d="M1517 560l24 7 24 8 24 6 24 2 24 -4 24 -6 24 -7 0 -1" stroke="#f8f8f8" stroke-width="3"/><path d="M1486 573l24 -2 24 7 24 8 24 7 2 0" stroke="#d8d8d8" stroke-width="2.5"/><path d="M1582 592l24 3 24 -3 24 -5 24 -7 24 -5 24 5 24 9 24 5 24 -1 7 -1" stroke="#e8e8e8" stroke-width="2"/></g>
<path d="M1295 583 1307 584 1319 585 1331 586 1343 587 1355 588 1367 590 1379 591 1391 591 1403 592 1415 592 1427 593 1439 592 1451 591 1463 589 1475 584 1487 578 1499 577 1511 578 1523 581 1535 585 1547 589 1559 593 1571 597 1583 600 1595 602 1607 603 1619 602 1631 600 1643 597 1655 595 1667 591 1679 587 1691 584 1703 583 1715 584 1727 588 1739 593 1751 598 1763 601 1775 602 1787 602 1799 601 1811 600 1823 598 1835 596 1847 594 1859 593 1871 591 1883 589 1895 587 1899 587 L1899 640 1895 640 1883 640 1871 640 1859 640 1847 640 1835 640 1823 640 1811 640 1799 640 1787 640 1775 640 1763 640 1751 640 1739 640 1727 640 1715 640 1703 640 1691 640 1679 640 1667 640 1655 640 1643 640 1631 640 1619 640 1607 640 1595 640 1583 640 1571 640 1559 640 1547 640 1535 640 1523 640 1511 640 1499 640 1487 640 1475 640 1463 640 1451 640 1439 640 1427 640 1415 640 1403 640 1391 640 1379 640 1367 640 1355 640 1343 640 1331 640 1319 640 1307 640 1295 640Z" fill="#aaaaaa"/>
<g fill="none" opacity="0.70"><path d="M1375 592l24 2 24 0 24 -1 24 -5 24 -9 24 3 24 7 24 8 13 3M1336 618l24 1 24 0 24 0 24 0 24 0 1 0M1378 605l24 1 24 0 24 -1 24 -4 24 -5 24 3 24 4 24 5 24 4 24 0 24 -3 24 -3 24 -5 24 0 24 5 24 5 24 1 24 -1 24 -2 18 -2" stroke="#383838" stroke-width="2.5"/><path d="M1568 613l24 3 24 0 24 -2 24 -3 24 -4 24 0 24 4 24 4 24 1 24 -1 24 -2 24 -2 24 -1 19 -1M1467 624l24 -1 24 0 24 1 24 1 24 0 24 1 24 -1 24 0 17 -1M1654 626l24 -1 24 0 24 0 24 1 24 0 24 0 24 0 24 0 24 -1 24 0 5 0" stroke="#484848" stroke-width="3.5"/><path d="M1453 630l24 -1 24 0 24 0 24 1 24 0 24 0 24 0 24 0 24 0 24 -1 24 0 24 1 24 0 24 0 24 0 3 0" stroke="#585858" stroke-width="4"/><path d="M1319 610l24 1 24 1 24 1 23 0M1573 608l24 3 24 0 24 -3 18 -4" stroke="#a8a8a8" stroke-width="3"/><path d="M1628 609l24 -3 24 -5 24 -3 24 2 24 7 24 3 24 0 24 -2 21 -2" stroke="#484848" stroke-width="4"/><path d="M1617 606l24 -4 24 -5 24 -6 24 -1 24 8 24 6 24 2 24 -2 24 -3 24 -3 24 -3 18 -2M1458 604l24 -5 24 -2 24 3 24 5 24 4 24 2 24 -1 24 -3 24 -4 24 -3 24 2 21 5" stroke="#a8a8a8" stroke-width="2"/><path d="M1614 610l24 -3 24 -4 24 -5 24 -1 24 5 24 6 18 2" stroke="#d8d8d8" stroke-width="2"/><path d="M1295 606l24 1 22 1M1615 603l24 -4 24 -5 24 -8 24 -1 24 8 24 8 24 2 22 -2" stroke="#f8f8f8" stroke-width="4"/><path d="M1365 616l24 1 24 0 24 0 24 -1 24 -3 24 -1 24 3 24 2 24 3 24 1 24 -1 24 -2 24 -2 24 -2 8 0" stroke="#787878" stroke-width="3"/><path d="M1295 619l24 0 24 1 24 0 19 1M1364 616l24 0 24 1 24 0 24 -1 24 -3 24 0 24 1 24 2 24 2 24 1 24 0 24 -2 23 -1" stroke="#484848" stroke-width="2.5"/><path d="M1308 608l24 1 24 1 24 1 24 0 24 0 24 0 24 -4 24 -2 24 2 24 3 24 3 16 2" stroke="#a8a8a8" stroke-width="2.5"/><path d="M1295 610l24 0 24 1 24 1 24 1 24 0 24 0 24 -1 24 -4 24 0 24 2 24 3 24 3 12 1M1433 600l24 -2 24 -7 24 -3 24 4 24 6 24 6 24 4 22 -1" stroke="#f8f8f8" stroke-width="3"/><path d="M1409 610l24 0 24 -1 24 -5 24 -2 24 3 24 4 24 4 24 3 24 -1 24 -3 24 -3 24 -4 24 2 12 2M1295 605l24 1 23 1" stroke="#c8c8c8" stroke-width="3.5"/><path d="M1656 613l24 -4 24 -2 24 3 24 5 24 2 24 -1 24 -1 24 -2 24 -2 24 -2 3 0" stroke="#787878" stroke-width="2.5"/><path d="M1618 617l24 -2 24 -3 24 -3 24 0 24 4 24 3 24 1 24 -1 24 -2 24 -1 24 -2 17 -1M1342 595l24 2 24 1 24 1 24 0 24 -2 24 -8 24 -1 24 5 24 6 24 6 24 2 24 -2 5 -1" stroke="#888888" stroke-width="4"/><path d="M1295 600l24 1 24 2 24 1 24 2 24 0 24 0 24 -2 24 -7 24 0 24 4 24 5 24 5 24 2 18 -1" stroke="#c8c8c8" stroke-width="3"/><path d="M1403 611l24 1 24 -1 24 -3 10 -3M1552 610l24 4 24 3 24 -1 24 -2 24 -4 24 -3 24 1 24 5 24 3 7 1" stroke="#989898" stroke-width="2"/><path d="M1402 600l24 1 24 -1 24 -5 24 -5 24 3 24 5 16 4M1385 620l24 0 24 0 24 0 24 -2 24 0 24 1 24 1 24 1 24 1 24 0 20 -1" stroke="#e8e8e8" stroke-width="4"/><path d="M1601 621l24 0 24 -2 24 -2 24 -2 24 1 24 3 24 2 24 0 24 -1 23 -1" stroke="#585858" stroke-width="3.5"/><path d="M1617 619l24 -2 24 -3 24 -3 24 0 6 0" stroke="#484848" stroke-width="3"/><path d="M1295 625l24 0 24 0 24 0 24 0 7 0" stroke="#686868" stroke-width="1.5"/><path d="M1580 624l24 0 24 0 24 0 24 -1 24 -1 24 1 24 1 24 0 24 0 12 0M1336 601l24 1 24 1 24 1 5 0" stroke="#a8a8a8" stroke-width="1.5"/><path d="M1322 608l24 1 24 1 24 1 24 1 24 0 24 -2 24 -6 17 0" stroke="#e8e8e8" stroke-width="2"/><path d="M1502 590l24 4 24 6 24 6 24 4 24 -1 21 -3" stroke="#383838" stroke-width="2"/><path d="M1367 620l24 0 24 0 24 0 24 0 24 -3 24 0 24 1 24 3 24 2 24 0 24 0 24 -2 24 -2 24 -1 24 1 24 3 24 1 24 0 9 0M1575 604l24 4 24 -1 24 -4 24 -5 0 0" stroke="#c8c8c8" stroke-width="2"/><path d="M1632 617l24 -2 24 -2 24 -1 24 2 24 2 24 2 24 -1 24 -1 24 -1 24 -1 8 0M1515 598l24 4 24 5 24 4 24 2 24 -3 24 -3 24 -5 24 -2 24 5 24 5 24 2 24 -1 24 -2 24 -2 24 -2 24 -2 0 0" stroke="#585858" stroke-width="2.5"/><path d="M1318 614l24 1 24 0 24 1 24 0 24 0 17 0" stroke="#b8b8b8" stroke-width="3.5"/><path d="M1517 625l24 1 24 0 24 1 24 0 24 0 24 -1 24 0 9 0" stroke="#383838" stroke-width="4"/><path d="M1467 602l24 -8 24 1 24 5 24 6 24 5 19 1M1409 593l24 0 24 -2 24 -9 24 -3 24 5 24 7 24 7 24 4 22 0" stroke="#f8f8f8" stroke-width="1.5"/><path d="M1508 607l24 2 24 4 24 3 24 2 24 -1 24 -2 24 -4 24 -2 20 1" stroke="#d8d8d8" stroke-width="3"/><path d="M1592 615l24 0 24 -2 24 -3 24 -3 24 -1 24 4 24 4 24 1 24 -1 24 -1 24 -2 24 -2 19 -1" stroke="#f8f8f8" stroke-width="2"/><path d="M1305 617l24 0 24 1 24 0 24 0 24 1 24 -1 24 -1 24 -2 24 1 24 2 24 1 24 2 24 0 5 0M1557 608l24 3 24 2 24 -1 24 -3 24 -4 24 -2 24 2 24 5 24 2 24 0 24 -1 24 -2 24 -2 24 -2 6 0" stroke="#888888" stroke-width="3.5"/><path d="M1569 621l24 1 24 0 24 -1 24 -1 24 -1 24 0 16 1" stroke="#585858" stroke-width="3"/><path d="M1295 607l24 1 24 1 24 1 24 1 24 0 24 0 24 -1 24 -6 24 0 24 4 24 4 3 0" stroke="#a8a8a8" stroke-width="3.5"/><path d="M1299 591l24 2 24 2 20 1" stroke="#888888" stroke-width="2.5"/><path d="M1457 614l24 -3 24 -2 24 3 24 2 24 3 24 2 24 -1 4 0" stroke="#383838" stroke-width="3.5"/><path d="M1343 595l24 2 24 2 24 1 24 -1 24 -2 7 -2" stroke="#d8d8d8" stroke-width="3.5"/><path d="M1337 586l24 2 24 2 24 2 24 0 24 -2 24 -9 24 -4 24 6 24 7 24 7 24 5 24 -2 24 -5 24 -6 24 -6 24 3 24 9 24 5 4 1" stroke="#787878" stroke-width="2"/><path d="M1295 613l24 1 24 1 24 1 24 0 24 1 24 0 24 -1 2 -1" stroke="#e8e8e8" stroke-width="3"/><path d="M1431 626l24 0 24 -1 24 -1 24 1 24 1 24 1 24 0 24 0 24 -1 10 0" stroke="#787878" stroke-width="3.5"/><path d="M1382 599l24 1 24 0 24 -1 24 -6 24 -5 18 3" stroke="#484848" stroke-width="2"/><path d="M1321 620l24 0 24 0 24 0 24 1 24 -1 24 0 24 -1 24 0 24 1 6 0" stroke="#b8b8b8" stroke-width="2.5"/><path d="M1295 594l24 1 24 2 24 2 13 0" stroke="#787878" stroke-width="4"/><path d="M1349 614l24 1 24 1 24 0 24 0 24 -2 24 -3 24 1 24 2 20 2" stroke="#f8f8f8" stroke-width="2.5"/><path d="M1541 615l24 2 24 2 24 0 24 -1 24 -1 24 -2 24 0 24 1 24 2 24 1 24 0 24 -1 24 -1 24 -1 22 0" stroke="#686868" stroke-width="2.5"/><path d="M1608 607l24 -3 24 -5 24 -7 24 -4 24 6 24 8 24 4 24 -1 6 -1" stroke="#989898" stroke-width="1.5"/></g>
<rect x="1300" y="181" width="594" height="446.5" filter="url(#speck)" opacity="0.55"/>
</g>
<clipPath id="eko1"><rect x="1898" y="181" width="593" height="446.5"/></clipPath>
<g clip-path="url(#eko1)">
<path d="M1893 175 1905 175 1917 175 1929 175 1941 175 1953 175 1965 175 1977 175 1989 175 2001 175 2013 175 2025 175 2037 175 2049 175 2061 175 2073 175 2085 175 2097 175 2109 175 2121 175 2133 175 2145 175 2157 175 2169 175 2181 175 2193 175 2205 175 2217 175 2229 175 2241 175 2253 175 2265 175 2277 175 2289 175 2301 175 2313 175 2325 175 2337 175 2349 175 2361 175 2373 175 2385 175 2397 175 2409 175 2421 175 2433 175 2445 175 2457 175 2469 175 2481 175 2493 175 2496 175 L2496 640 2493 640 2481 640 2469 640 2457 640 2445 640 2433 640 2421 640 2409 640 2397 640 2385 640 2373 640 2361 640 2349 640 2337 640 2325 640 2313 640 2301 640 2289 640 2277 640 2265 640 2253 640 2241 640 2229 640 2217 640 2205 640 2193 640 2181 640 2169 640 2157 640 2145 640 2133 640 2121 640 2109 640 2097 640 2085 640 2073 640 2061 640 2049 640 2037 640 2025 640 2013 640 2001 640 1989 640 1977 640 1965 640 1953 640 1941 640 1929 640 1917 640 1905 640 1893 640Z" fill="#1e1e1e"/>
<path d="M1893 180 1905 180 1917 180 1929 180 1941 180 1953 180 1965 180 1977 180 1989 180 2001 180 2013 180 2025 180 2037 180 2049 180 2061 180 2073 180 2085 180 2097 180 2109 180 2121 180 2133 180 2145 180 2157 180 2169 180 2181 180 2193 180 2205 180 2217 180 2229 180 2241 180 2253 180 2265 180 2277 180 2289 180 2301 180 2313 180 2325 180 2337 180 2349 180 2361 180 2373 180 2385 180 2397 180 2409 180 2421 180 2433 180 2445 180 2457 180 2469 180 2481 180 2493 180 2496 180 L2496 200 2493 200 2481 200 2469 200 2457 200 2445 200 2433 200 2421 200 2409 200 2397 200 2385 200 2373 200 2361 200 2349 200 2337 200 2325 200 2313 200 2301 200 2289 200 2277 200 2265 200 2253 200 2241 200 2229 200 2217 200 2205 200 2193 200 2181 200 2169 200 2157 200 2145 200 2133 200 2121 200 2109 200 2097 200 2085 200 2073 200 2061 200 2049 200 2037 200 2025 200 2013 200 2001 200 1989 200 1977 200 1965 200 1953 200 1941 200 1929 200 1917 200 1905 200 1893 200Z" fill="#969696"/>
<path d="M1893 200 1905 200 1917 200 1929 200 1941 200 1953 200 1965 200 1977 200 1989 200 2001 200 2013 200 2025 200 2037 200 2049 200 2061 200 2073 200 2085 200 2097 200 2109 200 2121 200 2133 200 2145 200 2157 200 2169 200 2181 200 2193 200 2205 200 2217 200 2229 200 2241 200 2253 200 2265 200 2277 200 2289 200 2301 200 2313 200 2325 200 2337 200 2349 200 2361 200 2373 200 2385 200 2397 200 2409 200 2421 200 2433 200 2445 200 2457 200 2469 200 2481 200 2493 200 2496 200 L2496 285 2493 285 2481 285 2469 284 2457 284 2445 283 2433 283 2421 282 2409 282 2397 282 2385 282 2373 282 2361 283 2349 285 2337 286 2325 288 2313 290 2301 294 2289 299 2277 302 2265 299 2253 293 2241 288 2229 285 2217 281 2205 279 2193 278 2181 278 2169 279 2157 281 2145 282 2133 284 2121 286 2109 288 2097 292 2085 298 2073 300 2061 297 2049 292 2037 289 2025 287 2013 286 2001 285 1989 284 1977 283 1965 283 1953 282 1941 282 1929 281 1917 281 1905 280 1893 280Z" fill="#484848"/>
<g fill="none" opacity="0.70"><path d="M1893 279l24 1 24 1 21 1M2241 201l24 1 24 0 24 -1 24 0 24 0 24 0 24 0 24 0 17 0M1893 263l24 1 24 1 24 0 24 2 24 1 24 3 24 6 24 0 24 -7 24 -3 24 -3 24 -2 24 1 24 4 5 1" stroke="#282828" stroke-width="2"/><path d="M1979 253l24 1 24 2 24 3 24 5 24 -6 24 -4 24 -2 24 -2 24 -1 24 3 24 4 24 8 24 -1 24 -6 24 -3 24 -1 24 -1 24 0 3 0" stroke="#b8b8b8" stroke-width="2.5"/><path d="M2226 253l24 5 24 6 24 -4 24 -4 24 -2 24 -2 24 0 24 0 24 0 24 1 24 1 6 0" stroke="#888888" stroke-width="1.5"/><path d="M2082 285l24 -8 24 -4 24 -4 24 -2 24 1 24 4 24 7 23 9M1893 240l24 0 24 0 24 1 24 1 24 1 24 1 24 4 5 1" stroke="#a8a8a8" stroke-width="3"/><path d="M2160 276l24 -2 24 1 24 6 24 8 24 7 24 -8 24 -5 24 -4 24 -1 24 -1 24 1 24 1 24 0 24 1 0 0" stroke="#888888" stroke-width="3"/><path d="M2237 224l24 3 24 1 24 -3 24 -1 24 -1 24 0 24 0 24 0M2015 233l24 2 24 2 24 0 24 -3 24 -2 24 -1 24 -1 24 1 24 2 14 2" stroke="#b8b8b8" stroke-width="3"/><path d="M2181 209l24 0 24 1 24 1 24 2 24 -2 24 0 24 -1 24 0 24 0 24 0 24 0 24 0 24 0 3 0M2179 264l24 1 24 4 24 6 24 8 24 -6 24 -5 24 -3 24 -2 24 0 24 0 24 1 24 1 24 0 5 0M2221 278l24 7 24 10 24 -3 24 -7 24 -4 24 -3 24 -1 24 1 24 0 24 1 11 1" stroke="#080808" stroke-width="3"/><path d="M2223 203l24 0 24 0 24 0 24 0 24 0 24 0 24 0 24 0 24 0 24 0 24 0 9 0M2198 224l24 1 24 3 24 4 24 -2 24 -2 24 -2 24 -1 24 0 24 0 24 0 24 1 24 0 10 0" stroke="#484848" stroke-width="3"/><path d="M1963 276l24 1 24 2 24 3 24 7 24 2 24 -9 24 -4 24 -3 24 -3 1 0" stroke="#383838" stroke-width="3"/><path d="M2016 247l24 2 24 4 24 -1 24 -4 24 -2 24 -2 24 -1 24 0 24 4 24 5 24 3 24 -4 24 -3 24 -2 8 -1M1893 233l24 0 24 1 24 0 24 1 24 0 24 2 19 2" stroke="#181818" stroke-width="4"/><path d="M1893 230l24 0 24 1 24 0 24 1 24 0 24 2 24 3 24 0 24 -4 24 -1 24 -2 24 -1 24 1 24 2 24 3 24 4 24 -3 11 -2" stroke="#686868" stroke-width="2.5"/><path d="M1984 225l24 0 24 1 24 2 24 2 24 -3 21 -2" stroke="#686868" stroke-width="3.5"/><path d="M1918 250l24 0 24 1 24 1 24 1 24 2 24 5 24 0 24 -6 24 -2 24 -3 24 -1 24 1 24 3 24 6 17 5M1893 268l24 0 24 1 24 1 24 1 4 0M2172 214l24 0 24 1 24 1 24 2 24 0 24 -2 24 -1 24 0 24 0 24 0 24 0 24 0 24 0 12 0M2178 253l24 0 24 4 24 5 24 7 24 -4 24 -5 24 -3 24 -1 24 -1 24 0 24 1 24 1 24 0 6 0" stroke="#484848" stroke-width="3.5"/><path d="M2027 281l24 5 24 6 24 -8 24 -5 24 -4 24 -2 24 -1 24 4 24 6 24 10 24 -1 24 -8 24 -4 24 -2 24 -2 24 1 24 0 10 1" stroke="#686868" stroke-width="3"/><path d="M2147 283l24 -3 24 -1 24 4 24 7 24 11 24 -2 24 -8 24 -5 24 -2 24 -1 20 0M1893 230l24 1 24 0 24 1 24 0 24 1 24 1 24 4 24 0 24 -4 24 -2 24 -1 24 -1 24 0 24 3 24 3 5 1" stroke="#787878" stroke-width="2.5"/><path d="M1977 254l24 1 24 2 24 3 24 5 24 -5 12 -3M1909 267l24 1 24 1 24 1 24 1 24 3 24 5 24 5 9 -2" stroke="#585858" stroke-width="2"/><path d="M2143 230l24 -1 24 0 24 1 24 2 24 4 24 0 24 -3 24 -1 24 -1 24 -1 24 0 24 0 24 1 24 0 17 0M1900 254l24 1 24 0 24 1 24 1 24 2 24 2 24 6 24 -3 24 -5 24 -3 24 -2 24 -1 24 1 24 5 24 6 24 3 24 -6 24 -3 3 -1" stroke="#080808" stroke-width="2.5"/><path d="M2029 262l24 4 24 4 24 -7 24 -3 24 -3 24 -2 21 0" stroke="#383838" stroke-width="1.5"/><path d="M1893 245l24 1 24 0 24 1 24 1 24 1 24 2 24 5 24 0 24 -6 7 0" stroke="#989898" stroke-width="1.5"/><path d="M2249 256l24 7 24 -4 24 -4 24 -3 24 -1 24 -1 24 0 24 1 24 0 24 1 7 0M2170 231l24 0 24 1 24 2 24 4 24 0 24 -3 24 -2 24 -1 24 0 1 0M2049 287l24 7 24 -8 24 -5 24 -4 24 -3 24 -1 24 4 24 6 24 10 24 0 24 -8 24 -4 24 -3 24 -1 24 0 24 1 24 1 24 1 10 0" stroke="#686868" stroke-width="2"/><path d="M1913 239l24 1 24 0 24 1 24 1 24 1 24 4 24 2 9 -2M2099 243l24 -3 24 -1 24 -2 9 0" stroke="#989898" stroke-width="3"/><path d="M1996 263l24 1 24 3 24 7 24 -4 24 -6 24 -3 24 -2 24 -1 24 1 24 5 24 8 24 3 24 -7 24 -4 1 0" stroke="#181818" stroke-width="1.5"/><path d="M1933 234l24 0 24 0 24 1 24 1 24 2 24 3 24 -4 24 -2 24 -1 24 -1 24 0 14 0" stroke="#181818" stroke-width="3"/><path d="M2086 286l24 -8 24 -4 24 -3 24 -2 24 1 24 5 24 8 24 7 24 -7 24 -5 24 -3 18 -2M1969 252l24 1 24 2 24 2 24 6 24 -2 24 -5 24 -3 10 -1M2204 242l24 3 24 4 24 5 24 -3 24 -4 24 -2 24 -1 24 0 24 0 24 0 24 1 24 0 4 0" stroke="#080808" stroke-width="4"/><path d="M2173 252l24 -1 24 3 24 5 24 8 24 -3 24 -5 24 -3 24 -1 24 -1 24 0 24 0 24 1 24 1 11 0M2055 276l24 4 24 -7 24 -4 24 -3 24 -2 24 -1 24 4 24 6 24 9 24 -4 24 -6 24 -3 24 -2 24 -1 24 0 24 1 24 1 24 1 1 0" stroke="#080808" stroke-width="2"/><path d="M2229 242l24 5 24 4 24 -4 24 -3 24 -2 24 -1 24 0 24 0 24 0 24 1 24 0 3 0" stroke="#787878" stroke-width="3.5"/><path d="M2243 231l24 4 24 -1 24 -3 24 -1 24 -1 24 0 24 0 24 0 24 0 24 1 13 0" stroke="#a8a8a8" stroke-width="3.5"/><path d="M1893 221l24 1 24 0 24 0 24 1 24 0 24 1" stroke="#585858" stroke-width="2.5"/><path d="M2034 215l24 1 24 0 24 -1 24 -1 24 -1 24 0 24 0 24 1 24 1 19 2" stroke="#989898" stroke-width="2.5"/><path d="M1925 240l24 1 24 0 24 1 24 1 18 2" stroke="#383838" stroke-width="2"/><path d="M2253 202l24 1 24 -1 24 0 24 0 24 0 24 0 24 0 24 0 24 0 24 0 3 0M2107 230l24 -2 24 -1 24 -1 24 0 24 2 24 3 24 4 2 0" stroke="#585858" stroke-width="3.5"/><path d="M1954 227l24 1 24 0 16 1M2230 211l24 2 24 1 24 -1 24 -1 24 -1 24 0 24 0 24 0 24 0 24 0 24 0 2 0" stroke="#181818" stroke-width="2.5"/><path d="M1925 264l24 1 24 0 24 2 24 1 24 4 24 6 24 -4 24 -6 24 -3 24 -2 19 -1" stroke="#787878" stroke-width="1.5"/><path d="M2080 290l24 -9 24 -5 24 -3 24 -2 24 0 24 4 24 7 20 9" stroke="#888888" stroke-width="4"/><path d="M2001 227l24 1 24 1 24 3 24 -3 24 -2 24 -1 24 -1 24 -1 24 2 24 2 24 4 24 0 7 -2" stroke="#484848" stroke-width="4"/><path d="M2180 246l24 0 24 3 24 5 24 5 24 -4 24 -4 24 -2 3 0M1997 273l24 2 24 4 24 7 24 -5 24 -6 24 -4 24 -2 14 -1" stroke="#989898" stroke-width="2"/><path d="M2121 246l24 -2 24 -1 24 -1 24 2 24 3 24 6 24 0 24 -4 24 -3 24 -1 24 -1 24 0 14 0" stroke="#282828" stroke-width="3"/><path d="M1907 238l24 1 24 0 24 1 24 0" stroke="#383838" stroke-width="2.5"/><path d="M2127 237l24 -2 24 -1 24 0 24 2 24 3 24 5 24 -2 24 -3 24 -2 24 -1 24 -1 24 0 16 1M1975 253l24 1 24 2 24 3 24 5 24 -4 24 -4 24 -3 24 -2 24 -1 24 2 1 0" stroke="#282828" stroke-width="3.5"/><path d="M1893 206l24 0 24 0 24 0 9 0" stroke="#686868" stroke-width="4"/><path d="M2104 227l24 -1 24 -1 24 -1 6 0M1903 234l24 1 24 0 20 0" stroke="#383838" stroke-width="3.5"/><path d="M2099 273l24 -4 24 -3 24 -2 24 -1 24 3 24 6 24 9 22 -1" stroke="#888888" stroke-width="2.5"/><path d="M2031 205l24 1 24 0 24 -1 24 0 24 0 24 0 10 0" stroke="#484848" stroke-width="1.5"/><path d="M1952 275l24 1 24 2 24 2 24 4 24 7 24 -7 24 -5 24 -4 24 -2 24 -1 24 2 24 6 24 10 24 1 24 -8 24 -4 24 -3 24 -1 7 0" stroke="#080808" stroke-width="3.5"/><path d="M2195 222l24 1 24 2 24 4 24 -1 24 -2 24 -2 24 0 24 -1 24 0 24 0 24 1 24 0 13 0M2036 281l24 7 24 1 24 -9 24 -4 24 -3 24 -2 24 1 24 5 24 7 24 8 2 0" stroke="#484848" stroke-width="2"/><path d="M1982 217l24 0 24 1 24 1 24 2 24 -3 24 -1 24 0 24 -1 24 0 19 0" stroke="#787878" stroke-width="2"/></g>
<path d="M1893 280 1905 280 1917 281 1929 281 1941 282 1953 282 1965 283 1977 283 1989 284 2001 285 2013 286 2025 287 2037 289 2049 292 2061 297 2073 300 2085 298 2097 292 2109 288 2121 286 2133 284 2145 282 2157 281 2169 279 2181 278 2193 278 2205 279 2217 281 2229 285 2241 288 2253 293 2265 299 2277 302 2289 299 2301 294 2313 290 2325 288 2337 286 2349 285 2361 283 2373 282 2385 282 2397 282 2409 282 2421 282 2433 283 2445 283 2457 284 2469 284 2481 285 2493 285 2496 285 L2496 466 2493 466 2481 456 2469 460 2457 468 2445 478 2433 487 2421 495 2409 502 2397 507 2385 508 2373 502 2361 488 2349 468 2337 447 2325 432 2313 424 2301 423 2289 429 2277 438 2265 449 2253 461 2241 474 2229 486 2217 497 2205 505 2193 510 2181 509 2169 501 2157 485 2145 466 2133 447 2121 433 2109 426 2097 427 2085 432 2073 441 2061 452 2049 464 2037 477 2025 489 2013 499 2001 508 1989 514 1977 515 1965 512 1953 507 1941 500 1929 492 1917 483 1905 474 1893 469Z" fill="#1a1a1a"/>
<path d="M1893 469 1905 474 1917 483 1929 492 1941 500 1953 507 1965 512 1977 515 1989 514 2001 508 2013 499 2025 489 2037 477 2049 464 2061 452 2073 441 2085 432 2097 427 2109 426 2121 433 2133 447 2145 466 2157 485 2169 501 2181 509 2193 510 2205 505 2217 497 2229 486 2241 474 2253 461 2265 449 2277 438 2289 429 2301 423 2313 424 2325 432 2337 447 2349 468 2361 488 2373 502 2385 508 2397 507 2409 502 2421 495 2433 487 2445 478 2457 468 2469 460 2481 456 2493 466 2496 466 L2496 474 2493 474 2481 464 2469 468 2457 476 2445 486 2433 495 2421 503 2409 510 2397 515 2385 516 2373 510 2361 496 2349 476 2337 455 2325 440 2313 432 2301 431 2289 437 2277 446 2265 457 2253 469 2241 482 2229 494 2217 505 2205 513 2193 518 2181 517 2169 509 2157 493 2145 474 2133 455 2121 441 2109 434 2097 435 2085 440 2073 449 2061 460 2049 472 2037 485 2025 497 2013 507 2001 516 1989 522 1977 523 1965 520 1953 515 1941 508 1929 500 1917 491 1905 482 1893 477Z" fill="#969696"/>
<path d="M1893 477 1905 482 1917 491 1929 500 1941 508 1953 515 1965 520 1977 523 1989 522 2001 516 2013 507 2025 497 2037 485 2049 472 2061 460 2073 449 2085 440 2097 435 2109 434 2121 441 2133 455 2145 474 2157 493 2169 509 2181 517 2193 518 2205 513 2217 505 2229 494 2241 482 2253 469 2265 457 2277 446 2289 437 2301 431 2313 432 2325 440 2337 455 2349 476 2361 496 2373 510 2385 516 2397 515 2409 510 2421 503 2433 495 2445 486 2457 476 2469 468 2481 464 2493 474 2496 474 L2496 572 2493 572 2481 574 2469 577 2457 579 2445 582 2433 584 2421 586 2409 588 2397 589 2385 590 2373 589 2361 585 2349 580 2337 574 2325 569 2313 567 2301 566 2289 568 2277 571 2265 575 2253 579 2241 583 2229 586 2217 589 2205 590 2193 589 2181 587 2169 583 2157 579 2145 574 2133 570 2121 566 2109 563 2097 562 2085 562 2073 562 2061 564 2049 565 2037 567 2025 569 2013 571 2001 572 1989 574 1977 574 1965 574 1953 573 1941 572 1929 570 1917 569 1905 567 1893 566Z" fill="#343434"/>
<g fill="none" opacity="0.70"><path d="M1957 526l24 4 24 -8 24 -19 24 -22 24 -20 24 -10 15 3M1938 529l24 9 24 2 24 -8 24 -15 24 -17 24 -13 24 -6 24 13 24 27 24 20 24 1 24 -12 24 -18 24 -18 24 -12 24 4 0 0" stroke="#383838" stroke-width="2.5"/><path d="M1893 501l24 11 24 13 24 9 24 1 24 -11 24 -17 14 -11M1899 499l24 15 24 14 24 7 24 -2 24 -14 24 -19 23 -19M2031 545l24 -10 24 -9 24 -3 24 7 24 18 24 16 24 4 24 -7 24 -12 24 -13 24 -10 24 0 24 16 24 20 24 6 24 -5 24 -8 7 -3" stroke="#989898" stroke-width="1.5"/><path d="M2038 485l24 -23 24 -19 24 -4 24 21 24 37 24 22 24 -5 24 -19 24 -24 24 -22 24 -14 24 10 19 27M1893 517l24 9 24 11 24 7 24 0 24 -9 24 -13 24 -15 24 -11 24 -2 24 13 24 25 24 16 24 0 24 -12 24 -17 24 -15 24 -10 24 5 3 3" stroke="#484848" stroke-width="2.5"/><path d="M2136 462l24 38 24 20 24 -7 24 -21 24 -24 24 -23 24 -13 24 13 24 38 24 32 24 1 24 -13 24 -18 24 -17 13 -1M1893 490l24 12 24 15 24 10 24 1 24 -12 24 -20 24 -21 24 -17 24 -5 24 18 12 17M1911 511l24 14 24 10 24 4 24 -8 24 -16 24 -19 24 -16 24 -8 24 11 24 28 10 12" stroke="#585858" stroke-width="2"/><path d="M1893 522l24 8 24 10 24 6 24 1 24 -8 24 -13 24 -14 24 -10 24 -2 24 13 24 23 10 9M2196 577l24 -3 24 -9 24 -11 24 -8 24 -1 24 12 24 15 24 5 6 0M1984 533l24 -10 24 -17 24 -20 24 -17 24 -8 24 13 24 31 24 24 24 2 13 -6" stroke="#383838" stroke-width="1.5"/><path d="M1893 499l24 11 24 14 24 10 24 1 24 -12 24 -18 24 -20 24 -15 24 -5 24 18 24 31 24 20 17 1M1903 561l24 4 24 4 24 1 24 -2 24 -3 24 -5 24 -3 24 -2 24 4 24 9 23 10" stroke="#787878" stroke-width="2"/><path d="M1893 530l24 8 24 9 24 6 24 1 24 -8 20 -10M2255 521l24 -16 24 -9 24 7 24 24 24 21 24 2 24 -8 24 -11 24 -12 24 2 1 0M2251 579l24 -8 24 -5 24 2 24 11 17 7" stroke="#484848" stroke-width="1.5"/><path d="M2185 545l24 -3 24 -14 24 -18 24 -16 5 -3" stroke="#585858" stroke-width="3"/><path d="M2157 515l24 20 24 -2 24 -15 24 -20 24 -19 24 -12 24 6 24 29 24 28 24 4 24 -9 24 -14 24 -14 24 2 3 0M2131 563l24 11 24 9 24 3 24 -4 24 -8 24 -9 24 -5 24 2 24 12 24 10 24 1 24 -3 13 -2M1893 563l24 3 24 3 24 2 24 0 24 -3 11 -2" stroke="#080808" stroke-width="2.5"/><path d="M2168 582l24 6 24 -1 24 -6 24 -8 24 -8 24 -2 24 8 24 12 24 6 18 -1M2249 519l24 -18 24 -12 24 2 24 24 24 26 24 7 24 -7 24 -12 24 -13 24 -3 7 3" stroke="#888888" stroke-width="2.5"/><path d="M2178 542l24 1 24 -12 24 -18 24 -18 24 -12 24 3 24 25 24 27 24 6 24 -8 24 -12 1 -1M2155 571l24 10 24 3 24 -5 5 -2M2188 581l24 -1 24 -7 24 -10 24 -10 24 -4 16 4" stroke="#888888" stroke-width="1.5"/><path d="M2037 515l24 -17 24 -14 24 -3 24 16 24 28 24 18 24 -2 24 -13 24 -19 24 -18 24 -11 5 -1M2010 533l24 -14 24 -17 24 -13 24 -5 24 13 24 26 24 20 24 1 24 -12 24 -18 24 -17 24 -12 24 3 24 24 24 26 22 7M2117 476l24 23 24 29 24 12 24 -8 24 -17 24 -20 24 -17 24 -7 24 15 24 32 24 20 24 -3 24 -11 12 -7" stroke="#989898" stroke-width="2.5"/><path d="M2122 512l24 20 24 21 24 7 24 -7 24 -14 24 -15 24 -13 24 -3 24 16 24 24 24 11 23 -3" stroke="#686868" stroke-width="2.5"/><path d="M2138 542l24 16 24 10 24 -1 24 -9 24 -12 24 -11 24 -6 24 8 24 18 24 13 24 -1 24 -6 24 -8 24 -8 22 0M1956 556l24 2 24 -4 24 -8 24 -10 24 -9 24 -4 24 6 24 17 24 16 24 5 24 -5 24 -12 24 -13 24 -10 24 -1 24 14 24 20 19 7" stroke="#787878" stroke-width="1.5"/><path d="M2200 545l24 -12 24 -17 24 -18 24 -13 24 2 24 22 24 28 24 8 24 -7 15 -7M1924 509l24 13 24 8 24 -2 24 -15 24 -20 24 -19 24 -14 24 1 24 24 24 31 24 15 16 -4M2105 482l24 13 24 27 24 20 24 2 24 -13 24 -17 24 -18 24 -13 24 3 24 25 24 27 10 5" stroke="#080808" stroke-width="1.5"/><path d="M2243 555l24 -12 24 -10 24 -2 24 13 24 19 24 7 24 -3 24 -7 24 -9 24 -6 13 1M2102 477l24 11 24 27 24 23 24 4 24 -11 24 -19 24 -19 24 -14 24 1 24 22 24 30 24 10 24 -7 24 -12 24 -14 24 -7 10 6M2160 560l24 10 24 1 24 -8 24 -11 24 -11 24 -6 24 6 15 10" stroke="#181818" stroke-width="2.5"/><path d="M1893 491l24 12 24 16 24 10 24 1 24 -12 24 -21 24 -21 24 -18 24 -5 24 19 8 11" stroke="#383838" stroke-width="3"/><path d="M2241 518l24 -20 24 -15 24 -4 24 18 24 31 24 15 24 -5 24 -11 24 -14 24 -10 15 6" stroke="#a8a8a8" stroke-width="2.5"/><path d="M2051 490l24 -18 24 -11 24 7 24 29 24 29 24 7 24 -12 24 -20 24 -21 24 -17 24 -3 24 22 2 3" stroke="#282828" stroke-width="2"/><path d="M2003 523l24 -18 24 -21 24 -20 24 -12 24 8 24 32 24 30 24 6 24 -13 24 -21 24 -22 18 -14M2217 513l24 -21 24 -23 24 -19 24 -5 24 23 24 37 24 19 24 -6 24 -14 24 -18 24 -11 15 9" stroke="#585858" stroke-width="1.5"/><path d="M2110 495l24 15 24 24 24 16 24 -1 24 -12 24 -16 24 -16 24 -10 24 6 24 25 24 22 24 2 24 -8 24 -11 24 -12 24 1 2 0" stroke="#282828" stroke-width="1.5"/><path d="M2150 529l24 20 24 5 24 -9 24 -15 10 -8M2037 552l24 -7 24 -4 24 0 24 9 24 13 24 11 24 1 24 -6 24 -9 24 -11 24 -6 24 4 24 14 24 13 24 1 24 -4 13 -3" stroke="#686868" stroke-width="2"/><path d="M1893 496l24 12 24 14M1955 544l24 4 24 -5 24 -13 24 -15 24 -14 24 -7 24 7 24 23 24 22 24 6 24 -9 14 -8" stroke="#989898" stroke-width="2"/><path d="M2181 586l24 2 24 -3 24 -8 24 -8 24 -5 24 3 24 11 24 9 24 1 24 -3 24 -5 24 -5 18 -4M1905 517l24 12 24 10 24 4 24 -5 24 -12 24 -16 24 -14 24 -8 24 5 24 23 24 23 8 5M2200 552l24 -10 24 -16 24 -16 24 -11 24 1 24 21 24 24 24 7 24 -7 24 -10 24 -12 24 -4 8 3" stroke="#585858" stroke-width="2.5"/><path d="M1899 508l24 13 24 12 24 7 24 -2 24 -12 24 -17 24 -17 24 -13 24 1 24 21 24 28 24 14 24 -6 24 -16 24 -19 24 -17 24 -9 24 13 7 8" stroke="#484848" stroke-width="2"/><path d="M2072 461l24 -13 24 5 24 30 24 32 24 10 24 -11 24 -21 24 -24 24 -19 24 -5 24 21 24 38 24 20 24 -6 24 -14 24 -17 8 -5" stroke="#787878" stroke-width="2.5"/><path d="M2160 554l24 11 24 -1 24 -10 24 -14 24 -12 24 -8 24 8 24 21 24 16 24 0 24 -7 24 -9 24 -10 24 1M2153 571l24 10 24 4 24 -4 24 -8 24 -9 10 -3" stroke="#a8a8a8" stroke-width="1.5"/><path d="M2022 521l24 -18 24 -18 24 -12 24 3 24 23 24 29 24 12 24 -8 24 -17 24 -20 24 -17 24 -6 24 15 14 19" stroke="#888888" stroke-width="3"/><path d="M1893 552l24 5 24 5 24 4 9 0M1980 568l24 -3 24 -6 24 -6 24 -5 24 -2 24 5 24 12 24 13 24 5 24 -4 23 -8" stroke="#383838" stroke-width="2"/><path d="M2057 555l24 -4 24 -1 24 7 24 12 24 10 24 4 24 -4 24 -9 24 -9 24 -7 24 1 24 13 24 12 15 3" stroke="#787878" stroke-width="3"/><path d="M1986 539l24 -9 24 -15 24 -17 24 -14 24 -4 24 13 24 27 24 20 24 1 1 -1" stroke="#686868" stroke-width="1.5"/><path d="M2226 575l24 -9 24 -10 24 -8 24 2 24 14 24 14 24 2 24 -4 24 -6 24 -7 24 -4 6 0" stroke="#888888" stroke-width="2"/><path d="M2120 439l24 31 24 35 24 12 24 -13 24 -22 24 -25 24 -20 24 -7 24 22 24 40 24 23 6 0" stroke="#181818" stroke-width="3"/></g>
<path d="M1893 566 1905 567 1917 569 1929 570 1941 572 1953 573 1965 574 1977 574 1989 574 2001 572 2013 571 2025 569 2037 567 2049 565 2061 564 2073 562 2085 562 2097 562 2109 563 2121 566 2133 570 2145 574 2157 579 2169 583 2181 587 2193 589 2205 590 2217 589 2229 586 2241 583 2253 579 2265 575 2277 571 2289 568 2301 566 2313 567 2325 569 2337 574 2349 580 2361 585 2373 589 2385 590 2397 589 2409 588 2421 586 2433 584 2445 582 2457 579 2469 577 2481 574 2493 572 2496 572 L2496 600 2493 600 2481 602 2469 605 2457 607 2445 610 2433 612 2421 614 2409 616 2397 617 2385 618 2373 617 2361 613 2349 608 2337 602 2325 597 2313 595 2301 594 2289 596 2277 599 2265 603 2253 607 2241 611 2229 614 2217 617 2205 618 2193 617 2181 615 2169 611 2157 607 2145 602 2133 598 2121 594 2109 591 2097 590 2085 590 2073 590 2061 592 2049 593 2037 595 2025 597 2013 599 2001 600 1989 602 1977 602 1965 602 1953 601 1941 600 1929 598 1917 597 1905 595 1893 594Z" fill="#dcdcdc"/>
<g fill="none" opacity="0.90"><path d="M1917 590l24 4 24 1 24 0 24 -3 24 -3 24 -4 24 -2 24 2 24 6 24 10 1 0" stroke="#d8d8d8" stroke-width="2.5"/><path d="M1893 576l24 3 24 3 24 2 16 0" stroke="#f8f8f8" stroke-width="3"/><path d="M2213 619l24 -5 24 -8 24 -7 24 -3 24 6 10 5" stroke="#f8f8f8" stroke-width="3.5"/><path d="M2118 577l24 8 24 9 24 7 24 0 24 -5 24 -8 24 -7 24 -3 24 7 24 11 24 6 3 0M1971 597l24 -1 24 -3 24 -4 24 -3 24 -1 24 3 24 7 24 10 24 7 24 1 24 -5 24 -8 24 -7 22 -4" stroke="#f8f8f8" stroke-width="2.5"/><path d="M1893 579l24 2 24 4 24 1 24 0 24 -3 24 -3 2 -1" stroke="#c8c8c8" stroke-width="2.5"/><path d="M1959 582l24 0 24 -2 14 -2" stroke="#d8d8d8" stroke-width="4.5"/><path d="M2173 610l24 4 24 -1 24 -7 24 -8 24 -6 24 0 24 9 24 11 24 3 24 -3 24 -4 24 -5 24 -5 11 -1" stroke="#d8d8d8" stroke-width="4"/><path d="M2238 597l24 -7 24 -7 24 -3 24 7 24 11 24 6 24 -2 24 -3 24 -5 24 -6 7 -1" stroke="#f8f8f8" stroke-width="5"/><path d="M2137 589l24 10 24 7 24 2 24 -5 24 -7 7 -3M1893 584l24 3 24 3 24 2 24 -1 24 -2 24 -4 24 -3 24 -2 24 1 24 7 24 9 5 2" stroke="#e8e8e8" stroke-width="4"/><path d="M2094 571l24 4 24 8 24 9 24 7 24 0 2 -1" stroke="#e8e8e8" stroke-width="4.5"/></g>
<path d="M1893 594 1905 595 1917 597 1929 598 1941 600 1953 601 1965 602 1977 602 1989 602 2001 600 2013 599 2025 597 2037 595 2049 593 2061 592 2073 590 2085 590 2097 590 2109 591 2121 594 2133 598 2145 602 2157 607 2169 611 2181 615 2193 617 2205 618 2217 617 2229 614 2241 611 2253 607 2265 603 2277 599 2289 596 2301 594 2313 595 2325 597 2337 602 2349 608 2361 613 2373 617 2385 618 2397 617 2409 616 2421 614 2433 612 2445 610 2457 607 2469 605 2481 602 2493 600 2496 600 L2496 640 2493 640 2481 640 2469 640 2457 640 2445 640 2433 640 2421 640 2409 640 2397 640 2385 640 2373 640 2361 640 2349 640 2337 640 2325 640 2313 640 2301 640 2289 640 2277 640 2265 640 2253 640 2241 640 2229 640 2217 640 2205 640 2193 640 2181 640 2169 640 2157 640 2145 640 2133 640 2121 640 2109 640 2097 640 2085 640 2073 640 2061 640 2049 640 2037 640 2025 640 2013 640 2001 640 1989 640 1977 640 1965 640 1953 640 1941 640 1929 640 1917 640 1905 640 1893 640Z" fill="#696969"/>
<g fill="none" opacity="0.70"><path d="M1893 616l24 1 24 1 24 0 24 0 24 -1 24 -1 24 -1 24 0 24 0 12 1M1987 604l24 -2 24 -3 24 -3 24 -2 24 1 24 5 24 9 24 7 24 3 24 -3 24 -6 24 -7 24 -5 24 2 24 9 24 9 24 1 24 -2 12 -2" stroke="#888888" stroke-width="2.5"/><path d="M2155 617l24 4 24 2 24 -2 24 -4 24 -4 24 -2 24 1 18 4" stroke="#383838" stroke-width="2"/><path d="M1900 615l24 1 24 1 24 1 24 -1 24 -1 24 -1 24 -1 24 -1 24 1 24 3 24 3 24 3 24 0 24 -2 24 -2 24 -3 13 -1" stroke="#181818" stroke-width="3.5"/><path d="M1958 599l24 1 24 -3 24 -3 24 -4 24 -2 24 0 24 5 24 9 24 8 24 5 24 -2 24 -6 24 -8 24 -6 0 0" stroke="#b8b8b8" stroke-width="3"/><path d="M1965 630l24 0 24 0 24 0 24 0 24 0 24 0 24 0 24 0 24 1 24 0 24 0 24 -1 24 0 24 0 24 0 24 0 24 1 2 0" stroke="#787878" stroke-width="1.5"/><path d="M2176 619l24 3 24 -2 13 -2" stroke="#888888" stroke-width="3.5"/><path d="M2228 619l24 -5 24 -4 24 -4 24 2 12 3" stroke="#484848" stroke-width="3"/><path d="M1996 609l24 -2 24 -3 24 -2 24 -1 24 2 24 6 24 7 24 6 24 0 24 -4 10 -2M1948 601l24 1 24 -1 24 -3 3 0" stroke="#080808" stroke-width="2"/><path d="M2135 600l24 8 24 6 24 2 24 -3 24 -6 24 -7 24 -4 24 3 24 10 24 7 24 0 24 -3 24 -4 24 -4 24 -4 1 0M2021 620l24 0 24 -1 24 0 24 0 24 2 24 2 24 1 24 0 24 -1 24 -1 24 -2 24 0 24 1 24 2 24 1 3 0M2106 614l24 3 24 3 24 4 24 1 24 -1 24 -3 24 -3 24 -2 24 0 24 5 24 3 22 1" stroke="#c8c8c8" stroke-width="3.5"/><path d="M2084 610l24 1 24 3 24 5 24 5 24 1 24 -2 24 -4 24 -4 24 -2 24 1 24 6 24 4 24 1 24 -2 24 -2 24 -3 11 -1" stroke="#383838" stroke-width="3.5"/><path d="M1893 612l24 2 24 1 24 1 24 0 24 -1 24 -2 24 -2 24 -1 24 1 24 3 10 2" stroke="#181818" stroke-width="1.5"/><path d="M2180 621l24 1 24 -2 24 -2 24 -3 24 -2 24 1 24 4 24 3 24 1 24 -2 2 0M2200 628l24 0 24 0 24 -1 24 -1 24 0 24 1 24 1 24 0 24 0 24 0 24 -1 17 0" stroke="#a8a8a8" stroke-width="3"/><path d="M2177 619l24 3 24 -2 24 -5 24 -6 24 -5 24 1 24 8 24 7 24 2 24 -2 24 -4 24 -3 1 -1" stroke="#383838" stroke-width="2.5"/><path d="M2115 619l24 2 24 3 24 3 24 0 24 -2 24 -2 24 -3 24 -1 24 2 24 4 24 2 24 0 24 -1 24 -2 24 -2 21 -1M2035 596l24 -4 24 -2 24 1 24 6 24 9 24 8 24 3 24 -3 19 -5" stroke="#b8b8b8" stroke-width="1.5"/><path d="M2114 608l24 4 24 5 24 4 24 0 24 -2 24 -4 24 -4 24 -2 24 2 24 6 24 4 24 0 24 -2 24 -2 24 -3 22 -2M2051 602l24 -2 24 0 24 3 24 7 24 7 24 5 13 0M1893 593l24 2 24 3 24 2 24 0 24 -3 24 -3 24 -4 24 -1 24 1 24 6 24 9 24 8 24 2 24 -3 24 -7 9 -3" stroke="#080808" stroke-width="3"/><path d="M2104 624l24 0 24 2 24 1 24 0 24 0 2 0M1915 617l24 1 24 0 24 0 24 0 24 -2 24 -1 24 -1 24 1 24 2 24 3 24 3 24 1 24 -1 24 -3 24 -2 2 0" stroke="#d8d8d8" stroke-width="3"/><path d="M2177 624l24 1 24 0 24 -1 24 -1 24 0 24 0 24 1 24 1 24 0 6 0" stroke="#b8b8b8" stroke-width="2.5"/><path d="M2160 622l24 2 24 0 24 -1 24 -1 24 -2 24 0 24 0 24 3 24 1 24 0 24 -1 24 -1 24 -1 24 0" stroke="#585858" stroke-width="2"/><path d="M2080 602l24 0 24 4 24 7 24 6 24 3 24 -2 24 -5 24 -5 21 -4" stroke="#e8e8e8" stroke-width="4"/><path d="M2090 589l24 3 24 7 24 10 24 7 24 1 24 -5 24 -7 24 -8 24 -3 24 5 24 11 24 7 17 0" stroke="#b8b8b8" stroke-width="3.5"/><path d="M2101 599l24 4 24 6 24 7 24 4 24 -1 7 -2" stroke="#585858" stroke-width="3.5"/><path d="M1947 605l24 1 24 -1 24 -2 24 -4 24 -2 24 -1 24 2 24 6 24 8 24 6 24 2 24 -5 24 -6 24 -7 24 -3 24 5 24 10 24 6 24 -1 7 -1" stroke="#181818" stroke-width="2.5"/><path d="M1893 597l24 3 24 2 24 2 24 0 24 -3 24 -3 24 -3 24 -1 22 1" stroke="#080808" stroke-width="2.5"/><path d="M2028 625l24 0 24 0 24 0 24 0 24 1 24 0 24 1 24 -1 24 0 13 0M1999 608l24 -2 24 -3 24 -2 24 0 24 2 24 6 24 6 24 5 24 0 24 -4 24 -6 24 -5 11 -1" stroke="#484848" stroke-width="2.5"/><path d="M2014 603l24 -3 24 -2 24 -2 24 2 24 5 24 8 24 6 24 2 24 -3 24 -6 24 -6 24 -4 24 3 24 9 24 6 24 1 24 -3 24 -4 15 -2" stroke="#e8e8e8" stroke-width="2.5"/><path d="M2036 618l24 -1 24 -1 24 1 24 2 24 4 24 3 24 1 24 -2 24 -2 10 -1" stroke="#989898" stroke-width="2"/><path d="M2145 630l24 0 24 0 24 0 24 0 24 0 24 0 24 0 24 0 24 0 24 0 24 0 24 0 24 0 24 0 15 0" stroke="#282828" stroke-width="3"/><path d="M2039 620l24 -1 24 -1 24 1 24 2 24 2 24 2 24 1 24 -1 24 -2 24 -2 24 -2 19 1" stroke="#a8a8a8" stroke-width="2"/><path d="M2012 627l24 -1 24 0 24 0 24 0 24 1 24 1 24 1 24 0 24 0 21 -1" stroke="#a8a8a8" stroke-width="2.5"/><path d="M2141 622l24 1 24 1 24 0 24 -1 24 -1 24 -1 24 0 24 1 24 1 24 1 24 0 24 -1 24 0 20 -1" stroke="#e8e8e8" stroke-width="2"/><path d="M1976 601l24 -2 24 -3 24 -4 24 -2 24 -1 22 3" stroke="#787878" stroke-width="3"/><path d="M2198 627l24 -1 24 -2 24 -2 24 -2 24 0 24 3 24 3 24 1 24 -1 24 -1 24 -2 24 -1 10 -1" stroke="#686868" stroke-width="2"/><path d="M2253 623l24 -3 24 -1 24 1 24 3 24 2 12 1" stroke="#686868" stroke-width="4"/><path d="M2241 613l24 -6 24 -5 24 -1 24 5 24 8 24 4 24 -2 24 -2 24 -4 24 -4 14 -1" stroke="#989898" stroke-width="3"/><path d="M2206 626l24 0 24 -1 24 0 24 -1 24 0 24 1 24 1 24 0 24 0 24 -1 24 0 24 0 2 0" stroke="#585858" stroke-width="3"/><path d="M1992 609l24 -2 24 -3 24 -2 4 0" stroke="#282828" stroke-width="2.5"/><path d="M1915 616l24 1 24 1 24 0 24 -1 24 -1 24 -1 24 -1 13 0" stroke="#686868" stroke-width="3"/><path d="M2226 618l24 -7 24 -8 24 -5 24 1 24 10 24 10 24 2 24 -3 24 -5 24 -5 22 -4" stroke="#c8c8c8" stroke-width="2.5"/></g>
<rect x="1898" y="181" width="593" height="446.5" filter="url(#speck)" opacity="0.55"/>
</g>
<clipPath id="ewt2"><rect x="1300" y="631.5" width="594" height="448.5"/></clipPath>
<g clip-path="url(#ewt2)">
<path d="M1295 628 1307 628 1319 628 1331 628 1343 628 1355 628 1367 628 1379 628 1391 628 1403 628 1415 628 1427 628 1439 628 1451 628 1463 628 1475 628 1487 628 1499 628 1511 628 1523 628 1535 628 1547 628 1559 628 1571 628 1583 628 1595 628 1607 628 1619 628 1631 628 1643 628 1655 628 1667 628 1679 628 1691 628 1703 628 1715 628 1727 628 1739 628 1751 628 1763 628 1775 628 1787 628 1799 628 1811 628 1823 628 1835 628 1847 628 1859 628 1871 628 1883 628 1895 628 1899 628 L1899 1090 1895 1090 1883 1090 1871 1090 1859 1090 1847 1090 1835 1090 1823 1090 1811 1090 1799 1090 1787 1090 1775 1090 1763 1090 1751 1090 1739 1090 1727 1090 1715 1090 1703 1090 1691 1090 1679 1090 1667 1090 1655 1090 1643 1090 1631 1090 1619 1090 1607 1090 1595 1090 1583 1090 1571 1090 1559 1090 1547 1090 1535 1090 1523 1090 1511 1090 1499 1090 1487 1090 1475 1090 1463 1090 1451 1090 1439 1090 1427 1090 1415 1090 1403 1090 1391 1090 1379 1090 1367 1090 1355 1090 1343 1090 1331 1090 1319 1090 1307 1090 1295 1090Z" fill="#505050"/>
<path d="M1295 632 1307 632 1319 632 1331 632 1343 632 1355 632 1367 632 1379 632 1391 632 1403 632 1415 632 1427 632 1439 632 1451 632 1463 632 1475 632 1487 632 1499 632 1511 632 1523 632 1535 632 1547 632 1559 632 1571 632 1583 632 1595 632 1607 632 1619 632 1631 632 1643 632 1655 632 1667 632 1679 632 1691 632 1703 632 1715 632 1727 632 1739 632 1751 632 1763 632 1775 632 1787 632 1799 632 1811 632 1823 632 1835 632 1847 632 1859 632 1871 632 1883 632 1895 632 1899 632 L1899 652 1895 652 1883 652 1871 652 1859 652 1847 652 1835 652 1823 652 1811 652 1799 652 1787 652 1775 652 1763 652 1751 652 1739 652 1727 652 1715 652 1703 652 1691 652 1679 652 1667 652 1655 652 1643 652 1631 652 1619 652 1607 652 1595 652 1583 652 1571 652 1559 652 1547 652 1535 652 1523 652 1511 652 1499 652 1487 652 1475 652 1463 652 1451 652 1439 652 1427 652 1415 652 1403 652 1391 652 1379 652 1367 652 1355 652 1343 652 1331 652 1319 652 1307 652 1295 652Z" fill="#969696"/>
<path d="M1295 652 1307 652 1319 652 1331 652 1343 652 1355 652 1367 652 1379 652 1391 652 1403 652 1415 652 1427 652 1439 652 1451 652 1463 652 1475 652 1487 652 1499 652 1511 652 1523 652 1535 652 1547 652 1559 652 1571 652 1583 652 1595 652 1607 652 1619 652 1631 652 1643 652 1655 652 1667 652 1679 652 1691 652 1703 652 1715 652 1727 652 1739 652 1751 652 1763 652 1775 652 1787 652 1799 652 1811 652 1823 652 1835 652 1847 652 1859 652 1871 652 1883 652 1895 652 1899 652 L1899 732 1895 732 1883 730 1871 728 1859 726 1847 723 1835 721 1823 719 1811 717 1799 715 1787 713 1775 711 1763 709 1751 706 1739 704 1727 705 1715 707 1703 710 1691 713 1679 717 1667 721 1655 724 1643 727 1631 728 1619 729 1607 728 1595 725 1583 722 1571 718 1559 715 1547 712 1535 711 1523 711 1511 713 1499 716 1487 720 1475 724 1463 728 1451 732 1439 736 1427 739 1415 741 1403 741 1391 741 1379 740 1367 738 1355 737 1343 734 1331 732 1319 730 1307 727 1295 726Z" fill="#585858"/>
<g fill="none" opacity="0.70"><path d="M1502 687l24 -3 24 1 24 4 24 4 24 2 24 -2 24 -4 24 -4 24 -4 24 -1 24 3 24 3 24 2 24 3 24 2 24 3 13 0" stroke="#888888" stroke-width="3.5"/><path d="M1314 722l24 5 24 4 24 2 24 1 24 -4 24 -6 24 -8 24 -7 24 -3 24 3 24 6 24 6 24 2 23 -4M1295 691l24 2 24 2 24 2 24 2 24 0 24 -3 24 -4 24 -5 24 -3 20 -2" stroke="#686868" stroke-width="4"/><path d="M1423 699l24 -3 24 -4 24 -5 24 -3 24 0 24 3 24 4 24 2 24 0 24 -3 24 -4 24 -4 24 -2 24 2 24 3 24 2 24 2 24 2 24 3 3 0M1350 672l24 1 24 1 15 0M1497 706l24 -5 24 0 24 5 24 6 24 4 24 -1 24 -5 24 -7 6 -1M1334 701l24 3 24 2 22 0" stroke="#484848" stroke-width="2.5"/><path d="M1295 690l24 2 24 2 24 2 24 1 24 0 24 -2 24 -4 24 -4 24 -3 24 -1 24 1 15 3M1397 665l24 -1 24 -1 24 -1 24 -1 24 -1 24 0 24 1 24 1 24 1 24 -1 22 0M1548 707l24 5 24 6 24 3 24 -2 24 -5 24 -7 24 -6 24 -2 24 5 5 0M1416 659l24 0 24 -1 24 -1 24 -1 24 0 24 1 24 0 24 1 24 0 10 0" stroke="#585858" stroke-width="3.5"/><path d="M1470 718l24 -7 24 -6 24 0 24 5 24 6 24 5 24 -1 24 -5 24 -7 24 -6 24 -4 24 3 24 4 24 4 12 2" stroke="#181818" stroke-width="4"/><path d="M1325 676l24 1 24 1 24 1 24 -1 24 -1 24 -2 24 -3 24 -1 24 -1 24 2 24 2 24 1 24 0 24 -1 24 -3 24 -2 24 -1 24 1 7 1" stroke="#282828" stroke-width="2.5"/><path d="M1295 668l24 1 24 1 12 0M1295 670l24 1 8 1" stroke="#989898" stroke-width="3"/><path d="M1298 660l24 1 24 0 24 1 24 0 15 0" stroke="#181818" stroke-width="2"/><path d="M1317 667l24 1 24 1 24 1 24 0 24 -1 24 -2 24 -1 24 -2 24 0 24 0 24 2 24 1 24 0 24 -1 0 0M1567 684l24 4 24 3 24 -1 24 -3 24 -4 24 -4 24 -1 22 1M1295 656l24 0 24 0 24 0 24 0 24 0 24 0 24 0 24 0 24 -1 24 0 24 0 24 1 3 0M1365 671l24 0 24 0 24 -1 24 -1 24 -3 24 -1 24 -1 24 1 24 1 24 2 24 0 24 -1 24 -1 24 -2 24 -2 24 0 24 2 4 0M1569 690l24 5 24 2 24 -1 24 -3 24 -5 24 -4 24 -1 24 2 24 2 24 3 24 2 24 3 24 3 18 1" stroke="#686868" stroke-width="2.5"/><path d="M1295 707l24 3 24 3 24 4 24 1 24 0 24 -4 24 -5 24 -7 24 -5 24 -2 24 3 24 5 24 5 24 1 24 -4 24 -5 24 -6 8 -2M1410 663l24 -1 24 0 24 -1 24 -1 19 0M1604 661l24 0 24 0 24 -1 24 0 24 -1 24 0 24 1 24 0 24 1 24 0 24 0 24 1 7 0" stroke="#787878" stroke-width="2.5"/><path d="M1611 674l24 0 24 -2 24 -2 24 -2 24 -2 24 1 24 2 24 1 24 1 24 2 24 1 24 1 0 0" stroke="#686868" stroke-width="3"/><path d="M1345 697l24 2 24 1 24 0 24 -3 24 -4 24 -4 24 -3 24 -1 24 2 24 3 24 3 24 0 24 -2 24 -4 24 -3 24 -3 24 1 23 3" stroke="#686868" stroke-width="1.5"/><path d="M1575 676l24 3 24 1 24 -1 24 -3 24 -2 24 -3 24 -1 24 2 5 1" stroke="#282828" stroke-width="3.5"/><path d="M1356 706l24 2 24 1 24 -2 24 -4 24 -5 24 -5 24 -3 24 1 24 4 24 4 24 2 24 -1 24 -4 12 -2M1573 679l24 2 24 1 24 -1 24 -2 24 -3 24 -2 24 -1 24 2 24 2 24 1 24 2 24 1 24 2 14 1" stroke="#c8c8c8" stroke-width="3.5"/><path d="M1577 684l24 3 24 1 24 -2 24 -3 24 -3 24 -3 24 0 24 2 24 2 24 2 24 2 24 2 24 2 10 0" stroke="#a8a8a8" stroke-width="3"/><path d="M1594 691l24 2 24 -1 24 -3 24 -4 24 -4 24 -1 24 2 24 2 24 3 24 2 24 2 24 2 17 1M1295 680l24 1 24 2 24 1 24 1 24 0 24 -2 24 -3 24 -3 24 -3 24 0 24 1 24 3 24 2 24 0 24 -1 7 -1" stroke="#383838" stroke-width="1.5"/><path d="M1482 669l24 -2 24 -1 24 1 24 2 24 1 24 1 24 -1 24 -2 24 -2 24 -1 24 -1 24 2 14 0M1541 666l24 1 24 2 24 2 24 0 24 -2 24 -2 11 -1" stroke="#282828" stroke-width="4"/><path d="M1627 658l24 0 24 -1 24 0 24 -1 24 0 24 1 24 0 24 0 24 0 24 1 24 0 8 0M1513 672l24 -1 24 2 24 2 24 2 24 0 23 -1" stroke="#d8d8d8" stroke-width="3"/><path d="M1632 655l24 0 24 0 24 0 24 0 24 0 24 0 24 0 24 0 24 0 19 0M1575 711l24 6 24 2 24 -3 24 -5 24 -7 22 -5" stroke="#a8a8a8" stroke-width="2"/><path d="M1295 657l24 0 24 0 24 0 24 0 24 0 24 0 24 0 24 -1 24 0 24 0 24 0 24 1 24 0 24 0 3 0M1425 693l24 -3 24 -4 24 -4 24 -3 24 0 24 3 2 0" stroke="#383838" stroke-width="2"/><path d="M1295 678l24 2 24 1 24 2 24 1 24 -1 24 -1 24 -3 24 -3 24 -2 24 -1 24 2 24 2 24 2 24 0 24 -1 24 -3 24 -2 24 -2 24 0 4 1" stroke="#c8c8c8" stroke-width="2.5"/><path d="M1295 714l24 3 24 3 24 4 24 2 22 0" stroke="#787878" stroke-width="3.5"/><path d="M1606 682l24 0 24 -1 24 -3 20 -2" stroke="#282828" stroke-width="2"/><path d="M1417 729l24 -5 24 -7 24 -7 24 -5 24 -2 24 3 24 7 24 5 24 0 24 -4 24 -6 24 -7 24 -4 24 1 24 5 24 4 19 3" stroke="#989898" stroke-width="4"/><path d="M1334 705l24 3 24 2 24 1 24 -2 24 -5 24 -5 24 -5 24 -2 24 1 24 4 24 4 24 2 24 -2 24 -4 7 -1M1537 707l24 4 24 7 24 5 24 0 20 -3M1295 711l24 3 24 3 24 4 24 2 12 0" stroke="#a8a8a8" stroke-width="2.5"/><path d="M1295 662l24 0 24 0 24 1 24 0 24 0 24 0 24 -1 24 -1 24 -1 24 0 24 0 14 1M1493 696l24 -4 24 0 24 3 24 5 24 3 24 -1 24 -3 24 -5 24 -4 24 -3 24 2 24 3 24 3 24 3 24 3 2 0" stroke="#c8c8c8" stroke-width="3"/><path d="M1465 693l24 -5 24 -3 24 -1 24 2 24 4 24 3 24 0 12 -1" stroke="#c8c8c8" stroke-width="2"/><path d="M1364 673l24 0 24 0 24 -1 24 -2 24 -2 24 -1 24 -1 24 1 24 1 24 2 24 0 24 -1 24 -1 24 -2 24 -2 24 0 24 2 15 0M1612 699l24 0 24 -4 24 -4 24 -5 24 -2 24 1 24 3 24 3 20 2" stroke="#a8a8a8" stroke-width="4"/><path d="M1603 696l24 1 24 -2 24 -4 24 -5 24 -3 24 0 24 3 24 3 24 2 24 3 24 2 24 3 8 0" stroke="#282828" stroke-width="1.5"/><path d="M1466 678l24 -3 24 -2 24 0 24 1 24 2 24 2 24 0 11 -1" stroke="#888888" stroke-width="3"/><path d="M1374 723l24 2 24 -1 24 -5 24 -7 24 -7 24 -4 24 -1 24 4 24 6 24 4 24 0 24 -5 24 -6 23 -5M1653 670l24 -1 24 -2 24 -2 21 0M1409 711l24 -2 24 -5 24 -5 24 -5 24 -2 10 0" stroke="#484848" stroke-width="2"/><path d="M1616 714l24 -1 24 -5 24 -6 1 0M1403 739l24 -2 24 -7 24 -8 24 -7 24 -5 24 1 24 6 24 6 24 4 24 -2 24 -6 24 -7 24 -7 24 -2 24 4 24 4 7 2" stroke="#181818" stroke-width="2.5"/><path d="M1617 676l24 0 24 -2 24 -2 24 -2 24 -1 24 1 24 1 24 2 24 1 24 1 3 0" stroke="#585858" stroke-width="2"/><path d="M1360 678l24 1 24 0 24 -1 24 -2 24 -2 24 -3 24 -1 24 1 6 0" stroke="#484848" stroke-width="3"/><path d="M1461 656l24 -1 24 0 24 0 24 0 24 0 24 1 24 0 24 0 24 -1 24 0 24 -1 24 0 19 1" stroke="#b8b8b8" stroke-width="4"/><path d="M1320 695l24 2 24 3 24 1 24 0 24 -3 24 -4 24 -4 24 -4 24 -1 24 2 24 4 24 3 24 0 18 -1" stroke="#080808" stroke-width="3"/><path d="M1377 672l24 0 24 -1 24 -1 24 -1 24 -2 24 -1 24 0 24 1 24 2 24 0 24 0 24 -1 24 -1 24 -2 24 0 6 0" stroke="#484848" stroke-width="3.5"/><path d="M1633 679l24 -1 24 -3 24 -2 24 -2 24 1 13 1" stroke="#181818" stroke-width="3"/><path d="M1621 709l24 -2 24 -4 24 -6 24 -4 24 -2 24 4 24 3 24 3 24 3 24 3 24 4 14 1" stroke="#585858" stroke-width="3"/><path d="M1614 721l24 -1 24 -5 24 -7 24 -6 24 -3 24 3 24 4 24 4 24 3 24 4 24 4 21 2" stroke="#686868" stroke-width="2"/><path d="M1295 668l24 0 24 1 24 1 24 1 10 0" stroke="#b8b8b8" stroke-width="2"/><path d="M1387 713l24 0 24 -3 24 -5 24 -5 24 -5 24 -2 24 2 24 4 24 5 4 0" stroke="#080808" stroke-width="2"/><path d="M1566 680l24 3 24 2 24 0 24 -2 24 -3 24 -3 24 -2 24 2 24 2 24 1 24 2 24 2 24 2 21 1" stroke="#787878" stroke-width="3"/><path d="M1295 666l24 1 24 1 24 1 24 1 24 0 24 -1 24 -2 22 -2" stroke="#080808" stroke-width="4"/></g>
<path d="M1295 726 1307 727 1319 730 1331 732 1343 734 1355 737 1367 738 1379 740 1391 741 1403 741 1415 741 1427 739 1439 736 1451 732 1463 728 1475 724 1487 720 1499 716 1511 713 1523 711 1535 711 1547 712 1559 715 1571 718 1583 722 1595 725 1607 728 1619 729 1631 728 1643 727 1655 724 1667 721 1679 717 1691 713 1703 710 1715 707 1727 705 1739 704 1751 706 1763 709 1775 711 1787 713 1799 715 1811 717 1823 719 1835 721 1847 723 1859 726 1871 728 1883 730 1895 732 1899 732 L1899 968 1895 968 1883 968 1871 968 1859 968 1847 968 1835 968 1823 968 1811 968 1799 968 1787 969 1775 969 1763 969 1751 970 1739 971 1727 972 1715 973 1703 975 1691 976 1679 978 1667 979 1655 981 1643 982 1631 983 1619 984 1607 985 1595 985 1583 985 1571 984 1559 984 1547 983 1535 981 1523 980 1511 978 1499 977 1487 975 1475 974 1463 973 1451 972 1439 971 1427 971 1415 970 1403 970 1391 970 1379 969 1367 969 1355 969 1343 969 1331 969 1319 968 1307 968 1295 968Z" fill="#262626"/>
<path d="M1295 968 1307 968 1319 968 1331 969 1343 969 1355 969 1367 969 1379 969 1391 970 1403 970 1415 970 1427 971 1439 971 1451 972 1463 973 1475 974 1487 975 1499 977 1511 978 1523 980 1535 981 1547 983 1559 984 1571 984 1583 985 1595 985 1607 985 1619 984 1631 983 1643 982 1655 981 1667 979 1679 978 1691 976 1703 975 1715 973 1727 972 1739 971 1751 970 1763 969 1775 969 1787 969 1799 968 1811 968 1823 968 1835 968 1847 968 1859 968 1871 968 1883 968 1895 968 1899 968 L1899 1030 1895 1030 1883 1030 1871 1031 1859 1031 1847 1031 1835 1031 1823 1032 1811 1032 1799 1032 1787 1033 1775 1033 1763 1033 1751 1033 1739 1034 1727 1034 1715 1034 1703 1034 1691 1035 1679 1035 1667 1035 1655 1035 1643 1036 1631 1036 1619 1036 1607 1036 1595 1036 1583 1036 1571 1036 1559 1036 1547 1036 1535 1035 1523 1035 1511 1034 1499 1034 1487 1033 1475 1033 1463 1032 1451 1032 1439 1032 1427 1032 1415 1031 1403 1031 1391 1031 1379 1031 1367 1031 1355 1031 1343 1030 1331 1030 1319 1030 1307 1030 1295 1030Z" fill="#464646"/>
<g fill="none" opacity="0.75"><path d="M1564 1029l24 0 24 0 24 -1 24 0 24 -1 24 -1 24 -1 24 -1 24 0 24 -1 24 -1 24 0 24 0 23 -1M1532 1033l24 1 24 0 24 0 24 0 24 0 24 -1 24 0 24 -1 24 -1 6 0M1295 988l24 0 24 1 24 0 11 0" stroke="#484848" stroke-width="3"/><path d="M1626 1028l24 0 24 -1 24 -1 24 -1 24 -1 24 0 24 -1 24 -1 24 0 24 0 24 -1 9 0" stroke="#484848" stroke-width="2.5"/><path d="M1295 1006l24 0 24 0 24 1 24 0 24 0 24 1 24 1 13 1M1438 978l24 1 24 2 24 3 24 3 24 2 24 1 24 0 24 -1 24 -3 24 -2 24 -3 24 -3 24 -2 24 -1 24 0 24 0 17 -1" stroke="#282828" stroke-width="2"/><path d="M1366 1011l24 1 24 0 24 1 12 0M1563 991l24 1 24 0 24 -2 24 -2 24 -3 24 -2 24 -2 24 -2 24 -1 24 0 24 -1 24 0 18 0M1357 1018l24 0 24 1 24 0 24 1 24 1 24 1 24 1 24 1 24 1 24 0 24 0 24 -1 24 -1 24 -1 24 -1 24 0 24 -1 24 -1 13 0" stroke="#b8b8b8" stroke-width="2"/><path d="M1295 1008l24 1 24 0 24 0 24 1 24 0 8 0" stroke="#787878" stroke-width="2.5"/><path d="M1514 1027l24 1 24 1 24 0 24 0 24 -1 24 0 24 -1 24 -1 24 -1 24 -1 24 0 24 -1 24 0 24 -1 24 0 19 -1" stroke="#787878" stroke-width="2"/><path d="M1597 994l24 -1 24 -2 24 -2 24 -3 24 -2 24 -2 24 -1 24 -1 24 -1 24 0 24 0 24 0 14 0M1309 1018l24 0 24 0 24 1 24 0 24 1 24 0 24 1 24 2 24 1 24 1 24 1 24 0 24 -1 24 0 24 -1 18 -1M1627 1024l24 -1 24 -1 24 -1 24 -1 24 -1 24 -1 24 0 24 -1 24 0 24 -1 24 0 8 0" stroke="#b8b8b8" stroke-width="3"/><path d="M1314 996l24 0 24 0 24 1 24 0 24 1 24 1 24 2 24 2 24 2 24 2 0 0M1424 974l24 1 24 1 24 3 24 3 24 3 24 2 24 1 24 -1 24 -2 24 -3 24 -3 24 -3 24 -2 24 -2 24 -1 24 0 24 0 24 0 13 0" stroke="#a8a8a8" stroke-width="1.5"/><path d="M1562 993l24 1 24 0 24 -1 24 -3 24 -2 24 -3 24 -2 24 -1 24 -1 24 -1 6 0" stroke="#b8b8b8" stroke-width="1.5"/><path d="M1608 1012l24 -1 24 -2 24 -1 24 -2 24 -2 24 -1 24 -1 24 0 24 -1 24 0 24 0 24 -1 3 0" stroke="#383838" stroke-width="2.5"/><path d="M1295 1032l24 0 24 0 24 0 24 1 24 0 24 0 24 1 24 1 24 1 22 1" stroke="#282828" stroke-width="3"/><path d="M1344 1017l24 0 24 0 24 1 24 0 24 1 24 1 24 2 24 1 24 1 24 1 24 0 24 -1 24 -1 24 -1 24 -1 24 -1 24 -1 24 -1 24 0 22 -1" stroke="#282828" stroke-width="3.5"/><path d="M1438 1026l24 1 24 1 24 1 0 0M1336 1007l24 0 24 1 24 0 24 1 24 0 24 2 24 1 24 2 24 2 24 0 24 0 24 0 24 -1 24 -2 24 -1 24 -1 24 -1 2 0" stroke="#787878" stroke-width="3"/><path d="M1429 1001l24 1 24 1 24 2 24 3 24 1 24 1 24 1 24 -1 24 -1 24 -2 24 -2 24 -2 24 -1 24 -1 24 -1 24 0 24 -1 24 0 24 0 14 0" stroke="#080808" stroke-width="2.5"/><path d="M1601 994l24 -1 24 -2 24 -2 24 -3 24 -3 24 -2 24 -1 24 0 24 -1 24 0 24 0 19 0M1306 1030l24 0 24 1 24 0 24 0 24 0 24 1 24 1 24 1 24 1 24 1 24 0 24 0 24 0 24 0 24 -1 24 0 12 -1" stroke="#a8a8a8" stroke-width="3.5"/><path d="M1295 978l24 1 24 0 24 0 24 1 24 1 24 0 24 2 24 2 24 3 24 2 24 2 24 1 24 0 24 -1 18 -2M1620 1004l24 -2 24 -1 24 -3 24 -2 23 -1" stroke="#989898" stroke-width="2.5"/><path d="M1545 1004l24 2 24 0 24 0 24 -2 24 -2 24 -2 24 -1 24 -2 24 -1" stroke="#585858" stroke-width="3"/><path d="M1431 976l24 2 24 2 24 2 24 3 24 3 24 1 24 1 24 -1 24 -3 24 -2 24 -3 24 -3 17 -1M1329 1005l24 0 24 1 24 0 24 1 24 0 24 2 24 1 3 1" stroke="#a8a8a8" stroke-width="2"/><path d="M1614 983l24 -2 24 -3 24 -3 24 -3 24 -2 24 -2 24 -1 24 0 20 0" stroke="#181818" stroke-width="2"/><path d="M1589 1001l24 -1 24 -1 24 -2 24 -2 24 -3 24 -2 24 -1 24 -1 24 0 3 0M1363 1014l24 0 24 0 24 1 24 1 24 1 24 1 24 2 24 1 24 1 24 0 24 -1 24 -1 24 -1 24 -1 24 -1 24 -1 2 0" stroke="#383838" stroke-width="2"/><path d="M1598 1031l24 0 24 0 24 -1 24 -1 24 0 24 -1 24 0 24 -1 24 -1 24 0 24 -1 24 0 13 0M1295 1020l24 0 24 0 24 1 24 0 24 0 24 1 24 0 24 2 24 1 24 1 24 1 24 0 24 0 24 0 24 -1 24 -1 24 -1 12 0" stroke="#181818" stroke-width="3"/><path d="M1295 1026l24 1 24 0 24 0 24 1 24 0 24 0 24 1 24 1 24 1 24 1 24 1 24 0 24 0 24 0 24 -1 8 0" stroke="#484848" stroke-width="1.5"/><path d="M1500 1022l24 1 24 1 24 1 24 0 24 0 24 -1 24 -1 24 -1 24 -1 24 -1 24 -1 24 0 24 -1 24 0 24 -1 22 0" stroke="#888888" stroke-width="1.5"/><path d="M1639 1034l24 0 24 -1 24 -1 24 0 24 -1 24 0 24 -1 24 -1 17 0" stroke="#b8b8b8" stroke-width="2.5"/><path d="M1489 995l24 2 24 2 24 2 24 1 24 -1 24 -1 24 -2 24 -2 24 -2 24 -2 24 -1 24 -1 24 -1 24 0 24 0 24 -1 6 0" stroke="#888888" stroke-width="3.5"/><path d="M1352 986l24 0 24 1 24 0 24 1 24 2 24 2 24 2 24 3 22 1" stroke="#585858" stroke-width="2"/><path d="M1366 1013l24 0 24 1 24 0 24 1 24 2 24 1 24 2 20 1" stroke="#686868" stroke-width="3"/><path d="M1511 991l24 3 24 1 19 1" stroke="#585858" stroke-width="2.5"/><path d="M1629 1021l24 -1 24 -1 24 -2 24 -1 24 -1 24 -1 24 0 24 -1 24 0 24 0 24 -1 6 0" stroke="#181818" stroke-width="3.5"/><path d="M1521 983l24 3 24 2 24 1 24 -1 24 -2 24 -3 24 -3 24 -3 24 -2 24 -1 24 -1 24 -1 24 0 24 0 24 0 18 0" stroke="#888888" stroke-width="2.5"/><path d="M1330 1031l24 1 24 0 24 0 24 1 24 0 24 1 24 1 24 1 24 1 24 0 24 0 24 0 24 0 24 -1 24 0 24 -1 24 0 24 -1 13 0" stroke="#282828" stroke-width="2.5"/><path d="M1298 997l24 0 24 1 24 0 24 1 24 0 24 1 24 1 24 2 24 2 24 2 24 2 24 0 24 0 24 -1 24 -2 24 -2 24 -1 12 -1" stroke="#989898" stroke-width="1.5"/><path d="M1295 986l24 0 24 0 24 1 8 0" stroke="#383838" stroke-width="1.5"/></g>
<path d="M1295 1030 1307 1030 1319 1030 1331 1030 1343 1030 1355 1031 1367 1031 1379 1031 1391 1031 1403 1031 1415 1031 1427 1032 1439 1032 1451 1032 1463 1032 1475 1033 1487 1033 1499 1034 1511 1034 1523 1035 1535 1035 1547 1036 1559 1036 1571 1036 1583 1036 1595 1036 1607 1036 1619 1036 1631 1036 1643 1036 1655 1035 1667 1035 1679 1035 1691 1035 1703 1034 1715 1034 1727 1034 1739 1034 1751 1033 1763 1033 1775 1033 1787 1033 1799 1032 1811 1032 1823 1032 1835 1031 1847 1031 1859 1031 1871 1031 1883 1030 1895 1030 1899 1030 L1899 1090 1895 1090 1883 1090 1871 1090 1859 1090 1847 1090 1835 1090 1823 1090 1811 1090 1799 1090 1787 1090 1775 1090 1763 1090 1751 1090 1739 1090 1727 1090 1715 1090 1703 1090 1691 1090 1679 1090 1667 1090 1655 1090 1643 1090 1631 1090 1619 1090 1607 1090 1595 1090 1583 1090 1571 1090 1559 1090 1547 1090 1535 1090 1523 1090 1511 1090 1499 1090 1487 1090 1475 1090 1463 1090 1451 1090 1439 1090 1427 1090 1415 1090 1403 1090 1391 1090 1379 1090 1367 1090 1355 1090 1343 1090 1331 1090 1319 1090 1307 1090 1295 1090Z" fill="#cdcdcd"/>
<g fill="none" opacity="0.80"><path d="M1584 1070l24 0 24 0 24 -1 24 0 24 0 24 0 24 0 24 0 9 0" stroke="#e8e8e8" stroke-width="2"/><path d="M1484 1062l24 1 24 0 24 1 24 0 24 0 13 0M1502 1059l24 0 24 1 24 0 11 0" stroke="#d8d8d8" stroke-width="3.5"/><path d="M1587 1062l24 0 24 0 24 0 12 -1M1504 1058l24 1 24 0 24 0 24 0 24 0 24 0 24 0 24 0 24 -1 11 0" stroke="#989898" stroke-width="3"/><path d="M1464 1047l24 0 24 1 24 1 24 0 6 0" stroke="#787878" stroke-width="4.5"/><path d="M1571 1076l24 0 24 0 24 0 24 0 9 0" stroke="#a8a8a8" stroke-width="5"/><path d="M1388 1061l24 1 24 0 24 0 24 0 24 1 24 0 24 0 24 0 24 0 24 0 24 0 24 0 24 0 24 0 24 -1 24 0 17 0" stroke="#a8a8a8" stroke-width="3.5"/><path d="M1494 1079l24 0 24 0 24 0 24 0 10 0M1373 1047l24 0 24 0 24 1 24 0 24 1 24 0 24 1 24 0 13 0" stroke="#787878" stroke-width="2.5"/><path d="M1347 1053l24 1 24 0 24 0 24 0 24 0 24 1 24 0 24 1 24 0 24 0 24 0 24 0 24 0 24 0 24 -1 24 0 24 0 24 -1 24 0 6 0" stroke="#989898" stroke-width="2"/><path d="M1510 1049l24 1 24 0 24 0 24 0 24 0 24 0 24 0 24 -1 24 0 24 0 24 -1 8 0" stroke="#a8a8a8" stroke-width="4"/><path d="M1626 1044l24 0 24 0 24 -1 24 0 24 0 24 -1 24 0 24 -1 24 0 24 -1 24 0 9 0" stroke="#d8d8d8" stroke-width="2.5"/><path d="M1509 1051l24 1 24 0 24 0 24 0 24 0 24 0 24 0 24 -1 24 0 24 0 24 -1 24 0 24 0 24 -1 24 0 24 0 6 0M1595 1065l24 0 24 0 24 0 24 -1 24 0 24 0 24 0 24 0 10 0" stroke="#686868" stroke-width="3.5"/><path d="M1431 1068l24 0 24 0 24 0 24 1 24 0 24 0 24 0 24 0 24 0 24 0 24 -1 24 0 24 0 24 0 23 0" stroke="#383838" stroke-width="3"/><path d="M1578 1070l24 0 24 0 24 0 24 0 24 0 24 -1 24 0 24 0 24 0 24 0 24 0 24 0 24 0 9 0" stroke="#585858" stroke-width="4"/><path d="M1573 1070l24 0 24 0 24 0 24 0 24 0 24 0 24 0 24 0 24 0 24 -1 24 0 22 0" stroke="#b8b8b8" stroke-width="3"/><path d="M1295 1031l24 0 24 0 24 0 24 1 24 0 24 0 1 0" stroke="#989898" stroke-width="3.5"/><path d="M1503 1059l24 1 24 0 24 0 24 0 24 0 17 0M1295 1062l24 0 24 0 24 0 24 0 0 0" stroke="#b8b8b8" stroke-width="4.5"/><path d="M1463 1060l24 1 24 0 24 0 24 1 24 0 24 0 24 0 24 -1 24 0 24 0 24 0 24 0 24 -1 24 0 24 0 24 0 24 -1 6 0" stroke="#686868" stroke-width="4.5"/><path d="M1351 1040l24 0 24 0 24 1 24 0 24 0 24 1 24 1 24 1 24 0 24 0 24 0 24 0 24 0 24 -1 24 0 24 -1 24 0 2 0" stroke="#484848" stroke-width="4.5"/><path d="M1295 1059l24 0 24 0 24 0 24 0 24 0 24 1 10 0" stroke="#686868" stroke-width="4"/><path d="M1295 1042l24 0 24 0 24 0 24 1 24 0 24 0 24 1 24 0 24 1 24 1 24 0 24 1 24 -1 24 0 24 0 24 0 15 -1" stroke="#888888" stroke-width="4.5"/><path d="M1319 1062l24 0 24 0 24 0 24 0 24 0 24 0 24 1 24 0 24 1 24 0 24 0 24 0 12 0" stroke="#c8c8c8" stroke-width="2"/><path d="M1295 1052l24 0 24 0 24 0 24 0 24 1 24 0 24 0 24 1 24 0 24 1 24 0 19 0" stroke="#686868" stroke-width="2.5"/><path d="M1427 1068l24 0 24 0 24 1 24 0 24 0 24 0 24 0 24 0 24 0 24 0 24 0 24 0 17 0" stroke="#a8a8a8" stroke-width="3"/><path d="M1559 1045l24 0 24 0 24 0 24 0 24 0 24 -1 24 0 24 -1 24 0 24 0 24 -1 24 0 24 -1 24 0 4 0M1499 1060l24 0 24 0 24 1 24 0 24 0 24 -1 24 0 24 0 24 0 24 0 24 -1 24 0 24 0 24 -1 24 0 24 0 16 0" stroke="#484848" stroke-width="3"/><path d="M1366 1069l24 1 24 0 24 0 24 0 24 0 24 0 11 0" stroke="#989898" stroke-width="4"/><path d="M1404 1048l24 1 24 0 24 0 24 1 24 1 24 0 24 1 24 0 24 -1 24 0 24 0 24 0 24 -1 24 0 24 0 24 -1 24 0 24 -1 24 0 20 0" stroke="#585858" stroke-width="3.5"/><path d="M1649 1045l24 -1 24 0 24 0 24 -1 24 0 24 -1 24 0 2 0" stroke="#585858" stroke-width="2.5"/><path d="M1528 1061l24 0 24 0 24 0 24 0 24 0 24 0 10 0" stroke="#282828" stroke-width="2.5"/><path d="M1295 1040l24 0 17 0" stroke="#f8f8f8" stroke-width="5"/><path d="M1340 1034l24 0 24 0 24 1 24 0 24 1 24 0 24 1 24 1 17 1" stroke="#383838" stroke-width="3.5"/><path d="M1566 1075l24 0 24 0 24 -1 24 0 24 0 16 0" stroke="#b8b8b8" stroke-width="2.5"/><path d="M1522 1073l24 0 24 0 24 0 24 0 24 0 24 0 24 0 24 0 23 0" stroke="#383838" stroke-width="4.5"/><path d="M1483 1043l24 1 24 0 24 1 24 0 24 0 24 0 24 0 24 -1 24 0 24 -1 24 0 24 0 24 -1 24 0 20 -1" stroke="#d8d8d8" stroke-width="3"/><path d="M1325 1065l24 0 24 0 24 0 24 0 24 1 24 0 24 0 24 0 24 1 24 0 24 0 24 0 24 0 24 0 23 -1" stroke="#888888" stroke-width="4"/></g>
<rect x="1300" y="631.5" width="594" height="448.5" filter="url(#speck)" opacity="0.55"/>
</g>
<clipPath id="eko2"><rect x="1898" y="631.5" width="593" height="448.5"/></clipPath>
<g clip-path="url(#eko2)">
<path d="M1893 628 1905 628 1917 628 1929 628 1941 628 1953 628 1965 628 1977 628 1989 628 2001 628 2013 628 2025 628 2037 628 2049 628 2061 628 2073 628 2085 628 2097 628 2109 628 2121 628 2133 628 2145 628 2157 628 2169 628 2181 628 2193 628 2205 628 2217 628 2229 628 2241 628 2253 628 2265 628 2277 628 2289 628 2301 628 2313 628 2325 628 2337 628 2349 628 2361 628 2373 628 2385 628 2397 628 2409 628 2421 628 2433 628 2445 628 2457 628 2469 628 2481 628 2493 628 2496 628 L2496 1090 2493 1090 2481 1090 2469 1090 2457 1090 2445 1090 2433 1090 2421 1090 2409 1090 2397 1090 2385 1090 2373 1090 2361 1090 2349 1090 2337 1090 2325 1090 2313 1090 2301 1090 2289 1090 2277 1090 2265 1090 2253 1090 2241 1090 2229 1090 2217 1090 2205 1090 2193 1090 2181 1090 2169 1090 2157 1090 2145 1090 2133 1090 2121 1090 2109 1090 2097 1090 2085 1090 2073 1090 2061 1090 2049 1090 2037 1090 2025 1090 2013 1090 2001 1090 1989 1090 1977 1090 1965 1090 1953 1090 1941 1090 1929 1090 1917 1090 1905 1090 1893 1090Z" fill="#505050"/>
<path d="M1893 632 1905 632 1917 632 1929 632 1941 632 1953 632 1965 632 1977 632 1989 632 2001 632 2013 632 2025 632 2037 632 2049 632 2061 632 2073 632 2085 632 2097 632 2109 632 2121 632 2133 632 2145 632 2157 632 2169 632 2181 632 2193 632 2205 632 2217 632 2229 632 2241 632 2253 632 2265 632 2277 632 2289 632 2301 632 2313 632 2325 632 2337 632 2349 632 2361 632 2373 632 2385 632 2397 632 2409 632 2421 632 2433 632 2445 632 2457 632 2469 632 2481 632 2493 632 2496 632 L2496 792 2493 792 2481 787 2469 780 2457 772 2445 765 2433 758 2421 751 2409 745 2397 739 2385 734 2373 732 2361 731 2349 733 2337 736 2325 741 2313 747 2301 757 2289 780 2277 788 2265 780 2253 768 2241 757 2229 749 2217 742 2205 736 2193 731 2181 728 2169 727 2157 729 2145 732 2133 737 2121 743 2109 754 2097 775 2085 788 2073 786 2061 777 2049 769 2037 763 2025 759 2013 755 2001 752 1989 750 1977 749 1965 750 1953 751 1941 754 1929 757 1917 761 1905 771 1893 783Z" fill="#646464"/>
<g fill="none" opacity="0.75"><path d="M2062 692l24 3 24 -14 24 -6 24 -4 24 0 24 4 24 5 24 8 24 7 24 -12 24 -7 24 -3 24 0 24 3 24 5 24 5 24 7 16 3M2184 716l24 8 24 11 24 17 24 14 24 -28 24 -12 24 -6 10 -2M2236 662l24 6 24 2 24 -9 24 -2 24 -2 24 0 24 3 24 3 24 3 24 4 20 2" stroke="#484848" stroke-width="1.5"/><path d="M1893 652l24 -2 24 -1 22 -1" stroke="#f8f8f8" stroke-width="3"/><path d="M2004 678l24 3 24 4 24 7 24 -7 24 -11 24 -4 24 -1 24 2 24 4 24 6 24 9 24 -3 24 -11 24 -4 16 -1M2060 723l24 7 24 -21 24 -11 24 -6 24 0 24 5 24 8 24 12 24 13 24 -18 24 -12 24 -5 20 -1M2146 687l24 -2 24 2 24 7 24 8 24 13 24 -2 24 -18 24 -5 24 -3 24 2 24 6 24 7 24 9 24 8 14 2" stroke="#181818" stroke-width="3.5"/><path d="M1893 724l24 -14 24 -4 24 -3 5 0M1990 652l24 0 24 1 24 2 24 1 24 -4 24 -2 24 -1 24 0 24 1 24 2 24 2 24 2 24 -4 24 -2 24 -1 24 0 24 1" stroke="#f8f8f8" stroke-width="2"/><path d="M2242 711l24 15 24 -3 24 -19 3 -1" stroke="#787878" stroke-width="4"/><path d="M1942 655l24 -1 24 0 24 1 24 1 24 3 24 2 21 -6" stroke="#a8a8a8" stroke-width="3.5"/><path d="M1893 701l24 -9 24 -4 24 -2 24 1 24 2 24 3 24 7 24 4 24 -15 24 -7 24 -4 24 0 24 4 5 1M1893 776l24 -21 24 -7 24 -4M2006 668l24 2 24 4 24 4 24 -6 24 -8 24 -3 24 -1 24 2 24 4 24 5 24 6 24 -4 24 -8 24 -3 24 -1 19 1M2189 673l24 4 24 5 24 9 24 4 24 -15 24 -4 24 -3 24 1 24 4 24 5 24 6 24 6 19 3" stroke="#a8a8a8" stroke-width="2.5"/><path d="M2099 748l24 -24 24 -9 24 -3 24 4 24 9 24 13 24 20 24 -6 24 -25 24 -8 24 -4 24 3 21 8M2129 658l24 -3 24 0 24 2 24 3 24 4 24 5 24 -5 24 -5 24 -3 24 0 24 1 24 3 8 1" stroke="#484848" stroke-width="2.5"/><path d="M2122 723l24 -9 24 -4 24 3 24 9 24 12 24 19 24 -2 24 -26 14 -5M1893 709l24 -11 24 -4 24 -2 24 0 24 3 24 4 24 7 24 5 24 -17 24 -9 24 -4 24 0 24 4 17 5" stroke="#d8d8d8" stroke-width="1.5"/><path d="M1927 656l24 -1 24 -1 18 1M2172 633l24 0 24 1 24 0 24 0 24 0 24 0 24 -1 19 0M1946 672l24 -1 24 1 24 1 1 1M2253 657l24 3 24 -5 24 -2 24 -1 24 -1 24 2 24 1 24 2 24 3 24 1 3 1" stroke="#a8a8a8" stroke-width="3"/><path d="M1984 746l24 4 24 8 24 12 24 15 24 -25 24 -23 0 0M2215 677l24 6 24 8 24 2 24 -13 24 -4 24 -2 24 0 24 4 24 5 3 1" stroke="#585858" stroke-width="3.5"/><path d="M1893 722l24 -13 24 -5 24 -2 24 0 24 3 24 5 24 9 24 6 16 -12M2202 708l24 9 24 13 24 15 24 -18 24 -14 24 -6 24 -2 24 5 24 9 24 9 24 11 1 0" stroke="#989898" stroke-width="2"/><path d="M2104 658l24 -4 24 -1 24 -1 24 1 24 3 24 3 24 4 24 -4 24 -4 24 -2 24 0 24 1 24 2 24 2 24 3 24 3 8 0M2100 760l24 -26 24 -10 24 -3 24 5 24 10 24 15 24 21 24 -7 24 -28 24 -9 24 -4 24 5 24 10 24 11 10 6M1956 705l24 -1 24 2 24 4 24 7 24 10 24 -12 24 -16 24 -6 24 -2 24 3 24 7 24 9 24 14 24 -5M2108 687l24 -8 24 -3 24 -1 24 4 16 3" stroke="#585858" stroke-width="3"/><path d="M1893 676l24 -6 24 -2 24 -1 24 0 22 2M1944 654l24 0 24 0 24 1 24 1 24 2 24 1 24 -5 24 -2 24 -1 15 0M2064 748l24 5 24 -28 12 -7" stroke="#a8a8a8" stroke-width="2"/><path d="M2198 686l24 6 24 8 24 12 24 -8 24 -13 24 -5 24 -2 24 3 24 6 24 7 24 7 24 8 10 1" stroke="#787878" stroke-width="2"/><path d="M2003 673l24 2 24 3 24 5 24 -5 24 -8 24 -3 24 -2 24 2 24 3 24 5 24 7 24 -2 3 -2M1893 715l24 -11 24 -4 24 -2 24 0 24 2 24 5 24 7 24 6 24 -18 24 -9 12 -3M1893 655l24 -3 24 -1 24 -1 24 0 24 1 24 1 24 2 24 2 24 -5 24 -2 24 -2 24 0 24 1 24 2 24 3 24 3 9 -1M1938 670l24 -1 24 0 24 1 3 0M2123 674l24 -4 24 -1 24 1 24 4 24 5 6 2" stroke="#181818" stroke-width="2"/><path d="M2110 745l24 -15 24 -7 24 0 20 6M1966 732l24 1 24 4 24 7 24 13 24 8 24 -30 24 -14 24 -7 24 0 24 7 24 11 24 17 24 16 2 0" stroke="#a8a8a8" stroke-width="4"/><path d="M2214 643l24 1 24 2 24 0 24 -3 24 -1 24 0 24 0 24 1 24 1 24 1 24 1 18 1M2152 653l24 -1 24 1 24 2 24 3 24 4 24 -3 24 -4 6 -1" stroke="#888888" stroke-width="3.5"/><path d="M2231 650l24 2 24 3 24 -5 24 -2 24 -1 24 0 22 1" stroke="#989898" stroke-width="3"/><path d="M1970 674l24 0 24 2 24 3 24 5 24 1 24 -11 24 -5 24 -2 24 0 24 4 24 4 6 1M1941 649l24 0 24 0 16 0" stroke="#181818" stroke-width="4"/><path d="M2121 736l24 -11 24 -4 24 4 24 10 24 14 24 22 24 -2 24 -30 24 -10 24 -5 24 4 24 10 24 12 24 13 24 15 15 4M2186 648l24 1 24 2 24 2 24 2 24 -4 24 -2 24 0 2 0" stroke="#f8f8f8" stroke-width="3.5"/><path d="M2023 720l24 7 24 12 24 -4 24 -23 24 -9 24 -4 9 0M2243 696l24 12 24 -3 24 -16 24 -5 24 -2 2 0" stroke="#b8b8b8" stroke-width="1.5"/><path d="M2059 677l24 3 24 -9 24 -6 24 -3 24 0 24 2 6 1M2186 654l24 2 24 2 24 5 24 2 24 -7 24 -2 24 -1 24 0 24 1 24 3 23 2" stroke="#383838" stroke-width="1.5"/><path d="M1998 650l24 1 24 1 24 2 24 -1 24 -4 24 -1 24 -1 24 0 24 2 24 1 24 3 8 1" stroke="#585858" stroke-width="2"/><path d="M2109 670l24 -5 24 -3 24 0 24 2 24 4 24 6 24 7 24 -10 24 -5 24 -3 24 0 24 2 24 4 24 4 24 5 24 4 3 0M2042 749l24 14 24 2 24 -31 24 -12 24 -6 24 1 24 9 24 12 24 19 4 3" stroke="#c8c8c8" stroke-width="2"/><path d="M1893 640l24 -1 24 0 24 0 24 0 24 0 24 0 24 0 24 1 24 -1 24 0 24 0 5 0" stroke="#e8e8e8" stroke-width="2"/><path d="M2231 686l24 9 24 8 24 -14 24 -7 24 -3 24 -1 24 4 24 5 24 6 24 7 24 4 1 0M2127 634l24 -1 24 0 24 0 24 1 24 0 24 0 24 0 24 0 24 -1 13 0M2238 672l24 8 24 2 24 -12 24 -4 24 -2 24 1 24 3 24 5 24 4 24 5 18 3" stroke="#484848" stroke-width="2"/><path d="M2023 657l24 2 24 3 24 -2 24 -6 24 -2 24 -1 24 1 24 2 24 2 24 5 24 0 24 -6 24 -2 24 -1 24 1 24 1 24 3 24 2 4 1M2103 731l24 -18 24 -7 24 -2 24 5 11 3" stroke="#c8c8c8" stroke-width="3"/><path d="M2014 661l24 2 24 3 24 2 2 0M2068 749l24 -2 24 -26 24 -10 24 -5 24 2 24 8 24 10 24 17 24 8 24 -28 24 -9 24 -5 24 1 24 8 24 9 24 11 24 12 4 2M1893 688l24 -8 24 -3 4 -1M2002 638l24 1 24 0 24 0 24 0 24 -1 24 0 24 0 24 0 24 0 24 1 24 0 24 0 24 -1 16 0M2105 661l24 -4 24 -1 24 -1 24 1 24 3 24 3 24 4 24 -4 24 -4 24 -2 14 0M1907 750l24 -11 24 -5 24 -1 24 3 24 6 24 9 24 15 24 -14 24 -25 24 -10 11 -3" stroke="#e8e8e8" stroke-width="2.5"/><path d="M2133 667l24 -3 24 0 24 3 24 4 24 6 24 7 24 -10 24 -6 24 -2 24 -1 24 3 24 4 24 4 24 5 24 4 3 0" stroke="#888888" stroke-width="1.5"/><path d="M1904 764l24 -14 24 -5 24 -3 24 3 24 6 24 10 24 16 24 -10 24 -30 24 -11 24 -4 24 3 24 11 24 13 24 22 24 1 13 -22" stroke="#e8e8e8" stroke-width="1.5"/><path d="M1901 691l24 -6 24 -3 24 -1 24 1 24 2 24 4 24 6 2 1" stroke="#888888" stroke-width="2.5"/><path d="M2206 655l24 3 24 5 24 4 24 -7 24 -4 24 -1 24 -1 24 2 24 3 24 3 24 4 21 2" stroke="#080808" stroke-width="1.5"/><path d="M2016 704l24 5 24 9 24 4 24 -21 24 -9 24 -4 24 0 24 6 24 7 24 12 24 10 24 -20 24 -8 24 -5 17 0" stroke="#e8e8e8" stroke-width="3"/><path d="M2224 710l24 11 24 16 24 -13 24 -16 24 -6 24 -2 24 4 24 8 24 8 24 11 24 9 8 1" stroke="#282828" stroke-width="3"/><path d="M1921 748l24 -6 24 -3 24 1 24 5 24 7 24 15 23 5M2246 648l24 2 24 -2 24 -2 24 -1 24 0 24 0 24 1 24 2 24 1 24 1 10 0M2176 705l24 5 24 9 24 13 24 17 24 -14 24 -18 24 -7 24 -2 24 4 24 9 24 9 24 12 24 10 8 1" stroke="#484848" stroke-width="3.5"/><path d="M2013 702l24 5 24 8 24 6 24 -19 24 -10 24 -5 24 0 24 5 24 7 22 10M1893 686l24 -8 24 -2 24 -2 24 0 24 2 24 3 24 5 24 3 24 -11 24 -6 24 -3 8 0" stroke="#181818" stroke-width="2.5"/><path d="M2111 717l24 -11 24 -6 24 0 24 7 24 9 24 14 24 13 24 -24 24 -10 24 -6 24 0 24 6 24 9 24 9 24 11 24 8 1 0" stroke="#b8b8b8" stroke-width="2"/><path d="M2216 700l24 8 24 14 24 2 24 -21 24 -7 24 -3 24 2 24 6 24 8 24 8 12 5M2015 716l24 6 24 10 24 4 24 -23 24 -10 24 -5 24 0 24 6 24 9 24 13 24 11 24 -22 21 -9" stroke="#f8f8f8" stroke-width="2.5"/><path d="M1960 740l24 -1 24 4 24 7 24 11 24 14 24 -25 24 -20 24 -9 24 -2 24 6 24 11 24 16 24 20 24 -18 24 -21 24 -8 24 -2 24 5 18 8M1965 636l24 0 24 0 24 0 24 1 24 0 24 -1 24 0 24 0 24 0 24 0 24 0 15 0" stroke="#686868" stroke-width="3"/><path d="M1908 639l24 -1 24 0 24 0 24 0 24 1 24 0 24 1 24 -1 24 -1 24 0 3 0" stroke="#787878" stroke-width="1.5"/><path d="M2120 721l24 -9 24 -4 24 3 24 8 24 11 21 16" stroke="#686868" stroke-width="3.5"/><path d="M2196 659l24 3 24 4 24 5 24 -2 24 -7 24 -2 24 -1 12 0" stroke="#f8f8f8" stroke-width="1.5"/><path d="M2193 673l24 5 24 5 24 9 24 -1 24 -12 24 -4 24 -2 24 2 24 4 24 4 24 6 24 5 15 2M2174 705l24 4 24 9 24 12 24 18 24 -10 24 -21 24 -7 24 -2 24 3 24 9 24 10 24 11 24 11 10 2" stroke="#181818" stroke-width="1.5"/><path d="M1954 730l24 -2 24 3 24 5 24 9 24 14 24 -12 24 -24 24 -10 24 -3 24 4 24 9 24 13 24 19 24 -3 24 -27 18 -6M2242 681l24 8 24 -1 24 -12 24 -4 24 -2 24 2 24 4 24 5 24 5 24 6 14 1" stroke="#989898" stroke-width="2.5"/><path d="M1932 669l24 -1 24 -1 24 1 24 2 24 3 2 1" stroke="#989898" stroke-width="1.5"/><path d="M2149 700l24 -2 24 4 24 8 24 11 24 17 24 -9 24 -19 24 -7 24 -3 24 4 24 8 24 9 24 10 24 10 11 2" stroke="#383838" stroke-width="3"/><path d="M2145 713l24 -4 24 3 24 9 24 12 24 19 24 -1 24 -27 24 -8 24 -4 24 3 24 8 24 10 24 12 24 12 15 4" stroke="#b8b8b8" stroke-width="4"/><path d="M1894 723l24 -13 24 -5 24 -2 24 0 24 3 24 5 24 10 24 5 24 -21 24 -10 24 -5 24 0 24 5 24 8 24 12 24 11 24 -20 1 0" stroke="#080808" stroke-width="2"/><path d="M2094 768l24 -31 24 -11 24 -5 24 2 24 10 24 12 24 21 24 6 21 -30" stroke="#c8c8c8" stroke-width="2.5"/><path d="M1893 777l24 -21 24 -7 24 -4 24 0 24 5 24 8 24 14 24 9 24 -32 24 -16 24 -8 24 -1 24 8 24 12 24 19 24 18 10 -4" stroke="#787878" stroke-width="3.5"/><path d="M2017 687l24 4 24 6 24 3 24 -16 24 -6 24 -3 16 0" stroke="#b8b8b8" stroke-width="3"/><path d="M2202 649l24 2 24 2 24 4 24 -4 24 -3 24 -2 24 0 24 1 24 2 24 2 24 2 3 1" stroke="#383838" stroke-width="2"/><path d="M2050 655l24 3 24 -2 24 -4 24 -2 24 -1 24 1 24 2 24 2 24 3 24 0 24 -5 24 -1 24 -1 24 0 24 2 18 1" stroke="#f8f8f8" stroke-width="4"/><path d="M2195 695l24 7 24 10 24 15 24 -4 24 -19 24 -6 24 -3 24 2 24 7 24 8 24 9 24 10 13 2" stroke="#d8d8d8" stroke-width="3"/><path d="M2089 739l24 -25 24 -10 24 -5 24 0 24 7 24 10 24 15 24 10 24 -25 24 -10 24 -4 24 0 24 6 24 9 24 10 24 11 23 6" stroke="#c8c8c8" stroke-width="4"/><path d="M1893 703l24 -10 24 -3 24 -2 24 0 24 2 24 4 24 7 24 5 24 -16 24 -9 24 -4 24 0 24 4 17 4" stroke="#c8c8c8" stroke-width="3.5"/><path d="M1976 650l24 0 24 1 24 1 24 2 24 -1 24 -4 24 -1 24 -1 24 1 11 0" stroke="#d8d8d8" stroke-width="2"/><path d="M2190 679l24 4 24 7 24 10 24 4 24 -17 24 -5 24 -3 24 1 24 5 24 5 24 7 24 7 18 3" stroke="#383838" stroke-width="3.5"/><path d="M2085 662l24 -7 24 -3 24 -2 24 0 24 2 24 2 24 4 24 4 0 0" stroke="#080808" stroke-width="2.5"/><path d="M2102 642l24 -1 24 0 24 0 24 0 24 0 24 1 24 1 24 0 24 -2 24 0 24 0 24 0 24 1 24 0 24 1 15 0" stroke="#888888" stroke-width="3"/><path d="M2155 671l24 0 24 3 24 5 24 8 24 8 24 -11 24 -8 24 -3 24 -1 24 3 24 5 24 6" stroke="#a8a8a8" stroke-width="1.5"/><path d="M1893 762l24 -18 24 -6 24 -4 24 0 24 4 24 7 14 6" stroke="#585858" stroke-width="4"/><path d="M2137 665l24 -2 24 0 24 3 24 4 24 6 24 4 24 -10 24 -4 24 -2 24 0 24 3 21 3" stroke="#d8d8d8" stroke-width="4"/></g>
<path d="M1893 783 1905 771 1917 761 1929 757 1941 754 1953 751 1965 750 1977 749 1989 750 2001 752 2013 755 2025 759 2037 763 2049 769 2061 777 2073 786 2085 788 2097 775 2109 754 2121 743 2133 737 2145 732 2157 729 2169 727 2181 728 2193 731 2205 736 2217 742 2229 749 2241 757 2253 768 2265 780 2277 788 2289 780 2301 757 2313 747 2325 741 2337 736 2349 733 2361 731 2373 732 2385 734 2397 739 2409 745 2421 751 2433 758 2445 765 2457 772 2469 780 2481 787 2493 792 2496 792 L2496 923 2493 924 2481 926 2469 930 2457 935 2445 946 2433 958 2421 965 2409 972 2397 977 2385 979 2373 976 2361 969 2349 959 2337 948 2325 931 2313 915 2301 913 2289 922 2277 934 2265 945 2253 952 2241 958 2229 963 2217 969 2205 974 2193 975 2181 967 2169 954 2157 938 2145 921 2133 899 2121 872 2109 857 2097 862 2085 882 2073 907 2061 930 2049 943 2037 950 2025 955 2013 962 2001 969 1989 973 1977 974 1965 972 1953 968 1941 962 1929 952 1917 940 1905 924 1893 909Z" fill="#282828"/>
<path d="M1893 909 1905 924 1917 940 1929 952 1941 962 1953 968 1965 972 1977 974 1989 973 2001 969 2013 962 2025 955 2037 950 2049 943 2061 930 2073 907 2085 882 2097 862 2109 857 2121 872 2133 899 2145 921 2157 938 2169 954 2181 967 2193 975 2205 974 2217 969 2229 963 2241 958 2253 952 2265 945 2277 934 2289 922 2301 913 2313 915 2325 931 2337 948 2349 959 2361 969 2373 976 2385 979 2397 977 2409 972 2421 965 2433 958 2445 946 2457 935 2469 930 2481 926 2493 924 2496 923 L2496 1048 2493 1048 2481 1048 2469 1048 2457 1047 2445 1047 2433 1047 2421 1046 2409 1046 2397 1045 2385 1043 2373 1041 2361 1039 2349 1037 2337 1035 2325 1033 2313 1032 2301 1032 2289 1033 2277 1035 2265 1037 2253 1040 2241 1042 2229 1044 2217 1046 2205 1048 2193 1048 2181 1048 2169 1047 2157 1045 2145 1044 2133 1042 2121 1041 2109 1040 2097 1040 2085 1040 2073 1041 2061 1042 2049 1044 2037 1045 2025 1046 2013 1047 2001 1048 1989 1048 1977 1048 1965 1048 1953 1047 1941 1047 1929 1046 1917 1046 1905 1045 1893 1045Z" fill="#484848"/>
<g fill="none" opacity="0.75"><path d="M1974 1044l24 0 24 -1 24 -3 24 -3 24 -2 24 0 24 4 24 3 24 2 24 -1 24 -4 22 -5M1947 1037l24 1 24 0 24 -2 24 -4 24 -5 24 -7 24 0 24 7 24 7 24 4 24 -1 12 -2M1959 1023l24 2 24 -3 24 -6 24 -7 24 -17 24 -14 24 12 24 17 6 3" stroke="#a8a8a8" stroke-width="2.5"/><path d="M2052 989l24 -22 24 -22 24 10 24 26 24 18 24 10 24 -5 24 -8 22 -9M1919 949l24 20 24 8 24 0 24 -10 24 -11 24 -21 24 -45 24 -19 24 42 24 35 24 26 24 4 24 -10 24 -11 24 -18 13 -12M2248 1027l24 -7 24 -6 24 1 24 8 24 6 24 4 12 1M2031 1005l24 -8 24 -19 24 -16 24 12 24 20 24 15 24 7 24 -6 24 -7 24 -9 24 -12 5 -1" stroke="#686868" stroke-width="3"/><path d="M1938 968l24 11 24 2 24 -8 24 -13 24 -15 24 -43 24 -30 14 14" stroke="#787878" stroke-width="3.5"/><path d="M1907 971l24 17 24 9 24 3 24 -3 24 -9 24 -9 24 -24 10 -12M2186 1033l24 0 24 -5 24 -6 24 -8 24 -5 24 7 24 7 24 7 24 2 24 -1 24 -4 12 -2" stroke="#787878" stroke-width="2.5"/><path d="M2107 929l24 24 24 26 24 18 24 6 24 -8 24 -8 24 -12 24 -15 24 9 24 19 24 12 24 3 22 -5M2082 1025l24 -3 24 5 24 7 24 5 24 1 24 -3 24 -5 24 -6 24 -5 24 1 24 6 24 6 24 4 24 0 24 -1 24 -1 24 0 6 0M1893 1025l24 5 24 4 24 2 24 1 24 -3 24 -3 8 -1" stroke="#989898" stroke-width="2"/><path d="M2003 1023l24 -6 24 -6 24 -14 24 -16 24 7 24 18 24 12 24 8 24 -4 24 -7 24 -8 24 -10 24 -2 24 13 24 10 24 6 1 0M1893 949l24 23 24 16 24 7 24 1 24 -8 24 -9 24 -16 24 -35 24 -18 24 31 24 29 24 22 24 5 10 -3M2056 989l24 -23 24 -18 24 16 24 24 24 17 24 7 24 -7 24 -7 24 -11 24 -13 24 4 24 17 24 12 24 4 24 -4 24 -8 24 -10 24 -3 8 -1" stroke="#686868" stroke-width="1.5"/><path d="M1893 995l24 12 8 3M2000 1038l24 -4 24 -3 24 -7 24 -8 24 2 24 9 24 7 24 4 24 -2 24 -5 24 -6 24 -6 24 -3 24 6 9 3M2024 1040l24 -3 24 -4 24 -4 24 1 24 5 24 5 24 3 24 -2 24 -4 24 -6 24 -5 24 -2 24 4 24 6 24 4 24 3 24 0 24 -1 24 0 3 0" stroke="#b8b8b8" stroke-width="2"/><path d="M2045 1013l24 -11 24 -15 24 -1 24 17 24 12 24 8 24 -1 24 -6 24 -7 24 -10 24 -5 24 10 23 9M2001 970l24 -13 24 -12 24 -35 24 -42 24 10 24 47 24 31 24 20 24 -6 24 -10 24 -13 24 -23 24 -6 24 32 24 20 24 10 24 -7 24 -14 24 -22 14 -5M2199 1027l24 -5 24 -6 24 -8 24 -10 24 1 24 12 10 4" stroke="#c8c8c8" stroke-width="2.5"/><path d="M2070 923l24 -43 24 0 24 46 24 31 24 22 24 -3 24 -10 24 -12 24 -21 24 -11 24 29 24 21 24 12 24 -5 24 -12 24 -22 24 -8 18 -4" stroke="#989898" stroke-width="1.5"/><path d="M1969 986l24 0 24 -11 24 -10 5 -2M2171 963l24 17 24 -7 24 -10 24 -13 1 -1" stroke="#080808" stroke-width="2.5"/><path d="M1896 1003l24 10 24 8 24 3 24 0 24 -4 24 -5 24 -10 24 -17 24 -5 24 16 24 14 24 10 24 1 24 -6 24 -7 24 -9 24 -8 24 8 24 11 24 8 1 1M2217 1020l24 -6 24 -8 24 -10 24 -3 10 5M2034 1039l24 -4 24 -5 24 -2 24 4 24 5 24 5 24 1 21 -3M1913 973l24 16 24 8 24 2 24 -6 24 -10 24 -11 24 -30 24 -22 24 23 24 29 24 20 24 8 24 -8 24 -8 24 -13 24 -16 24 7 24 21 15 9" stroke="#a8a8a8" stroke-width="3"/><path d="M1996 1016l24 -7 24 -6 24 -14 24 -22 24 -2 24 23 24 17 24 11 24 -1 24 -7 24 -8 24 -12 24 -7 4 1" stroke="#585858" stroke-width="1.5"/><path d="M1949 1045l24 1 24 0 24 -2 24 -3 24 -5 24 -4 24 0 24 6 24 5 24 3 24 -1 24 -4 24 -6 24 -5 24 -3 24 4 24 5 24 5 20 3" stroke="#181818" stroke-width="3.5"/><path d="M2198 999l24 -6 24 -9 24 -11 24 -17 24 2 24 22 24 14 24 6 24 -5 24 -10 24 -14 24 -5 10 -1" stroke="#b8b8b8" stroke-width="1.5"/><path d="M1893 1002l24 11 24 8 24 3 24 1 24 -4 24 -5 24 -9 24 -16 24 -9 24 15 24 15 24 11 24 2 24 -5 24 -7 24 -9 24 -9 2 0" stroke="#282828" stroke-width="1.5"/><path d="M1906 936l24 25 24 15 24 5 24 -5 24 -13 24 -11 24 -35 24 -41 1 -1M2086 881l24 -21 24 44 24 37 24 27 24 6 24 -11M2017 995l24 -7 24 -16 24 -28 24 -9 24 28 24 22 24 16 24 2 24 -8 24 -9 24 -13 24 -12 24 15 24 16 24 11 24 0 14 -3M2146 960l24 24 24 14 24 -6 24 -8 24 -11 24 -18 24 -3 24 24 24 15 24 8 24 -4 24 -10 24 -16 24 -6 14 -2" stroke="#888888" stroke-width="2"/><path d="M1984 1021l24 -4 24 -6 24 -8 24 -19 24 -14 24 14 24 18 24 14 24 6 24 -6 24 -7 24 -9 24 -11 24 3 24 14 24 10 24 4 24 -2 24 -6 4 -2" stroke="#989898" stroke-width="2.5"/><path d="M1932 1011l24 6 24 2 24 -2 24 -7 24 -7 24 -18 24 -18 24 9 24 21 24 15 24 8 24 -4 24 -7 13 -5M2224 1032l24 -6 24 -6 24 -6 24 1 24 7 24 7 24 4 24 0 24 -2 24 -2 24 -1 8 0" stroke="#181818" stroke-width="2.5"/><path d="M2204 998l24 -9 24 -9 24 -14 24 -16 24 12 24 21 24 13 24 3 24 -8 24 -13 24 -12 24 -4 4 -1M1983 1023l24 -3 24 -5 24 -7 24 -15 14 -9" stroke="#c8c8c8" stroke-width="3.5"/><path d="M2246 1033l24 -6 24 -6 24 0 24 6 24 6 24 5 24 1 24 -1 24 -2 24 0 10 -1" stroke="#787878" stroke-width="1.5"/><path d="M1901 953l24 21 24 14 24 5 24 -2 24 -10 24 -8 24 -23 24 -34 24 -2 15 23" stroke="#888888" stroke-width="3"/><path d="M1895 963l24 19 24 13 24 6 24 0 24 -7 24 -8 24 -14 24 -30 24 -12 24 27 24 24 24 18 24 3 24 -8 24 -9 24 -13 24 -13 24 13 24 17 1 1M2071 924l24 -43 24 5 24 46 24 30 24 21 24 -4 2 -1" stroke="#383838" stroke-width="2.5"/><path d="M2127 925l24 35 24 24 24 11 24 -8 24 -9 24 -12 24 -19 24 4 24 24 24 16 24 6 24 -7 24 -12 24 -16 24 -5 9 -1" stroke="#080808" stroke-width="1.5"/><path d="M2214 979l24 -9 24 -12 24 -19 24 -11 24 27 24 19 10 7" stroke="#484848" stroke-width="2"/><path d="M2220 1010l24 -8 24 -9 24 -14M2198 1040l24 -3 24 -5 24 -6 24 -5 24 0 24 6 24 5 24 5 24 1 24 -1 24 -1 24 0 10 0M1895 992l24 12 24 9 24 4 24 0 3 0" stroke="#282828" stroke-width="2"/><path d="M2085 936l24 -18 24 29 24 27 6 6" stroke="#080808" stroke-width="2"/><path d="M1944 1011l24 4 24 1 24 -6 24 -7 24 -12 24 -23 24 -8 24 22 24 18 24 14 24 2 24 -7 24 -8 24 -11 24 -10 3 0" stroke="#888888" stroke-width="2.5"/><path d="M2049 987l24 -22 24 -27 24 7 24 30 24 20 24 13 24 -5 24 -7 24 -10 24 -16 24 -3 24 20 24 14 24 7 24 -3 24 -8 24 -13 6 -2" stroke="#383838" stroke-width="3"/><path d="M2060 1017l24 -14 24 -7 24 12 24 12 24 9 24 2 24 -5 24 -6 24 -8 24 -7 8 -1M2242 1020l24 -7 24 -9 24 -2 24 10 24 9 24 5 24 0 24 -3 24 -5 24 -2 14 0" stroke="#d8d8d8" stroke-width="2.5"/><path d="M2003 1027l24 -4 24 -5 24 -10 24 -11 24 5 24 13 24 9 24 5 24 -3 24 -6 24 -7 24 -8 24 -1 24 9 24 8 24 5 24 0 16 -1" stroke="#d8d8d8" stroke-width="3"/><path d="M1949 972l24 6 24 -2 24 -13 24 -11 24 -29 24 -46 24 -3 24 48 24 33 24 23 24 -2 24 -10 24 -13 24 -21 24 -12 24 29 24 21 24 13 21 -3" stroke="#181818" stroke-width="3"/><path d="M1928 965l24 15 24 5 24 -4 24 -12 24 -11 24 -31 24 -40 24 7 24 44 24 29 24 18 24 -4 3 -1" stroke="#888888" stroke-width="3.5"/><path d="M2133 951l24 26 24 19 24 5 24 -9 24 -8 24 -14 24 -14 24 12 24 19 9 5M2112 1032l24 4 24 5 24 3 24 0 24 -4 24 -5 24 -5 24 -4 24 3 24 5 3 0" stroke="#686868" stroke-width="2.5"/><path d="M1944 968l24 9 24 -1 24 -11 24 -12 24 -23 24 -47 24 -16 24 45 24 35 24 27 24 3 24 -10" stroke="#d8d8d8" stroke-width="2"/><path d="M2180 968l24 9 24 -10 24 -11 24 -17 24 -20 24 14 24 27 24 17 24 2 24 -10 24 -18 24 -16 24 -6 4 -1M2149 950l24 26 24 15 24 -8 24 -9 24 -13 24 -20 24 1 24 27 15 11" stroke="#585858" stroke-width="2"/><path d="M1977 994l24 -3 24 -10 24 -9 24 -27 24 -32 24 6 24 36 24 24 24 16 22 -4M1899 942l24 24 24 15 24 6 24 0 24 -11 24 -9 24 -22 24 -38 24 -8 24 39 3 4" stroke="#383838" stroke-width="2"/><path d="M1965 1024l24 1 24 -4 24 -6 24 -8 24 -17 18 -9M2185 1020l24 0 24 -6 24 -7 24 -10 24 -8 24 10 24 11 24 9 24 1 24 -4 3 0" stroke="#484848" stroke-width="2.5"/><path d="M2094 1017l24 1 24 9 24 7 24 4 24 -1 24 -5 24 -6 24 -7 24 -3 24 6 24 7 12 3" stroke="#484848" stroke-width="3"/><path d="M1958 1001l24 3 24 -5 24 -9 24 -9 24 -26 24 -24 24 15 24 29 24 20 24 10 24 -7 24 -8 24 -10 24 -16 24 2 24 20 6 3" stroke="#484848" stroke-width="1.5"/><path d="M1893 969l24 18 24 13 24 6 21 1" stroke="#282828" stroke-width="3"/><path d="M2226 1005l24 -8 24 -10 24 -12 24 6 24 16 24 11 24 3 24 -4 24 -8 24 -9 24 -2 6 -1" stroke="#b8b8b8" stroke-width="2.5"/></g>
<path d="M1893 1045 1905 1045 1917 1046 1929 1046 1941 1047 1953 1047 1965 1048 1977 1048 1989 1048 2001 1048 2013 1047 2025 1046 2037 1045 2049 1044 2061 1042 2073 1041 2085 1040 2097 1040 2109 1040 2121 1041 2133 1042 2145 1044 2157 1045 2169 1047 2181 1048 2193 1048 2205 1048 2217 1046 2229 1044 2241 1042 2253 1040 2265 1037 2277 1035 2289 1033 2301 1032 2313 1032 2325 1033 2337 1035 2349 1037 2361 1039 2373 1041 2385 1043 2397 1045 2409 1046 2421 1046 2433 1047 2445 1047 2457 1047 2469 1048 2481 1048 2493 1048 2496 1048 L2496 1090 2493 1090 2481 1090 2469 1090 2457 1090 2445 1090 2433 1090 2421 1090 2409 1090 2397 1090 2385 1090 2373 1090 2361 1090 2349 1090 2337 1090 2325 1090 2313 1090 2301 1090 2289 1090 2277 1090 2265 1090 2253 1090 2241 1090 2229 1090 2217 1090 2205 1090 2193 1090 2181 1090 2169 1090 2157 1090 2145 1090 2133 1090 2121 1090 2109 1090 2097 1090 2085 1090 2073 1090 2061 1090 2049 1090 2037 1090 2025 1090 2013 1090 2001 1090 1989 1090 1977 1090 1965 1090 1953 1090 1941 1090 1929 1090 1917 1090 1905 1090 1893 1090Z" fill="#b9b9b9"/>
<g fill="none" opacity="0.80"><path d="M2158 1050l24 2 24 0 24 -3 24 -4 24 -4 24 -2 10 0" stroke="#888888" stroke-width="4"/><path d="M2252 1082l24 0 24 0 24 0 24 0 24 0 24 0 24 0 24 0 24 0 24 0 4 0" stroke="#a8a8a8" stroke-width="3.5"/><path d="M2235 1052l24 -4 24 -3 24 -1 24 1 24 3 24 3 24 2 24 1 24 1 24 0 21 0" stroke="#585858" stroke-width="5"/><path d="M2255 1076l24 -1 24 0 24 0 24 1 24 0 24 0 24 1 13 0M2074 1044l24 -1 24 1 24 3 24 2 24 1 24 -1 24 -4 24 -4 24 -4 24 -1 16 2" stroke="#d8d8d8" stroke-width="2.5"/><path d="M1893 1063l24 1 24 0 24 1 24 0 19 -1" stroke="#c8c8c8" stroke-width="2"/><path d="M1893 1064l24 1 24 0 24 1 24 0 24 -1 23 -1M2121 1062l24 1 24 2 24 0 24 -1 24 -2 24 -2 24 -2 24 -1 24 1 24 3 24 2 24 1 24 1 24 0 24 0 2 0" stroke="#f8f8f8" stroke-width="2.5"/><path d="M1913 1053l24 0 24 1 24 1 24 -1 24 -1 24 -2 20 -2" stroke="#484848" stroke-width="4"/><path d="M2105 1059l24 1 24 2 24 1 24 1 24 -2 24 -3 24 -3 24 -2 24 0 24 2 24 3 24 2 24 1 24 1 24 0 24 1 7 0" stroke="#e8e8e8" stroke-width="2"/><path d="M1893 1077l24 0 24 0 24 0 24 0 24 0 24 0 24 0 24 -1 24 0 24 1 24 0 24 0 6 0M2195 1076l24 0 24 0 24 0 24 0 24 0 7 0" stroke="#888888" stroke-width="4.5"/><path d="M2229 1066l24 -2 24 -2 24 -1 24 0 24 1 24 2 24 2 11 0M1908 1060l24 1 24 0 24 1 24 0 24 -1 24 -2 24 -1 24 -1 24 1 24 2 24 1 24 1 24 -1 24 -3 24 -3 24 -2 24 0 10 0" stroke="#989898" stroke-width="2.5"/><path d="M2231 1069l24 -1 24 -1 24 -1 24 0 24 1 24 2 24 1 24 0 24 0 24 0 24 0 1 0" stroke="#888888" stroke-width="3"/><path d="M2143 1051l24 2 24 1 24 -1 24 -3 24 -4 24 -3 24 -1 24 1 24 4 24 3 24 2 24 1 24 1 24 0 17 0M1923 1047l24 1 24 0 24 0 24 -1 24 -2 24 -2 24 -2 24 1 24 2 24 3 24 1 24 0 24 -4 8 -1" stroke="#b8b8b8" stroke-width="4"/><path d="M2127 1043l24 2 24 3 24 0 24 -2 24 -4 24 -4 24 -4 6 0" stroke="#686868" stroke-width="5"/><path d="M1955 1048l24 1 24 0 24 -2 24 -2 24 -3 24 -1 24 2 24 2 24 3 24 1 24 -2 24 -4 24 -5 24 -3 24 -1 24 2 24 5 24 4 24 2 16 1" stroke="#989898" stroke-width="4"/><path d="M1893 1066l24 0 24 0 24 1 24 0 24 -1 24 0 24 -1 24 -1 24 0 9 0M2162 1063l24 1 24 0 24 -2 24 -2 24 -3 24 -1 24 1 24 2 24 2 24 2 24 1 24 0 24 0 22 0" stroke="#989898" stroke-width="2"/><path d="M1917 1050l24 1 24 1 24 0 24 0 24 -2 24 -2 24 -2 24 0 18 1" stroke="#e8e8e8" stroke-width="3"/><path d="M2130 1069l24 1 24 1 24 0 24 -1 24 -1 24 -1 24 -1 24 0 24 1 24 1 24 1 24 0 24 0 3 0" stroke="#686868" stroke-width="4.5"/><path d="M2163 1063l24 1 24 -1 24 -2 24 -3 14 -1M2185 1064l24 -1 24 -1 24 -2 24 -2 24 -1 24 0 24 2 24 2 24 1 24 1 24 0 24 1 23 0" stroke="#484848" stroke-width="3"/><path d="M2091 1063l24 0 24 2 24 1 24 1 24 0 24 -2 24 -3 24 -2 24 -1 24 1 24 2 24 2 24 2 24 0 24 1 24 0 21 0" stroke="#c8c8c8" stroke-width="5"/><path d="M1893 1072l24 0 24 0 24 1 24 0 24 0 24 -1 21 0" stroke="#686868" stroke-width="3.5"/><path d="M2223 1055l24 -3 24 -4 24 -3 24 0 24 3 24 3 24 3 24 2 24 1 24 0 24 0 9 0M2028 1053l24 -3 24 -2 14 -1" stroke="#d8d8d8" stroke-width="4.5"/><path d="M1955 1065l24 0 24 0 24 0 24 -1 24 -1 24 -1 24 1 24 1 24 1 19 0" stroke="#686868" stroke-width="4"/><path d="M2248 1055l24 -3 24 -2 24 0 24 2 24 3 24 2 24 1 24 1 24 0 12 0" stroke="#e8e8e8" stroke-width="4"/><path d="M1893 1046l24 1 24 1 24 1 24 0 24 -1 24 -2 0 0" stroke="#d8d8d8" stroke-width="2"/></g>
<rect x="1898" y="631.5" width="593" height="448.5" filter="url(#speck)" opacity="0.55"/>
</g>
<rect x="1300" y="178" width="1191" height="3" fill="#111"/>
<rect x="1894" y="181" width="4" height="899" fill="#fff"/>
<rect x="1300" y="627.5" width="1191" height="4" fill="#fff"/>
<text x="1609" y="165" textLength="118.2" lengthAdjust="spacingAndGlyphs" text-anchor="middle" font-size="76">WT</text>
<text x="2215.7" y="165" textLength="362.7" lengthAdjust="spacingAndGlyphs" text-anchor="middle" font-size="75">CCL24 KO</text>
<text transform="translate(1289 411.5) rotate(-90)" textLength="193.3" lengthAdjust="spacingAndGlyphs" text-anchor="middle" font-size="74">Sham</text>
<text transform="translate(1289 862) rotate(-90)" textLength="142.5" lengthAdjust="spacingAndGlyphs" text-anchor="middle" font-size="74">TAC</text>
<line x1="2729" y1="106.3" x2="2846" y2="106.3" stroke="#000" stroke-width="2.5" stroke-dasharray="10 6.5"/>
<circle cx="2787" cy="106.3" r="9.6" fill="#fff" stroke="#000" stroke-width="2.5"/>
<text x="2862" y="130.6" textLength="246" lengthAdjust="spacingAndGlyphs" font-size="63">WT Sham</text>
<line x1="3141" y1="106.3" x2="3257" y2="106.3" stroke="#000" stroke-width="2.5"/>
<circle cx="3198.8" cy="106.3" r="10.5" fill="#000" stroke="#000" stroke-width="1"/>
<text x="3262" y="130.6" textLength="211" lengthAdjust="spacingAndGlyphs" font-size="63">WT TAC</text>
<line x1="2729" y1="179.6" x2="2846" y2="179.6" stroke="#F7931E" stroke-width="2.5" stroke-dasharray="10 6.5"/>
<rect x="2776.5" y="169.1" width="21" height="21" fill="#fff" stroke="#F7931E" stroke-width="2.5"/>
<text x="2864" y="201.2" textLength="242" lengthAdjust="spacingAndGlyphs" font-size="63">KO Sham</text>
<line x1="3141" y1="179.6" x2="3257" y2="179.6" stroke="#F7931E" stroke-width="2.5"/>
<rect x="3187.8" y="168.6" width="22" height="22" fill="#F7931E"/>
<text x="3275" y="201.2" textLength="204" lengthAdjust="spacingAndGlyphs" font-size="63">KO TAC</text>
<line x1="2766.3" y1="298.1" x2="2766.3" y2="839.8" stroke="#000" stroke-width="5"/>
<line x1="2725" y1="837.3" x2="2766.3" y2="837.3" stroke="#000" stroke-width="5"/>
<text x="2708" y="856.3" textLength="32.8" lengthAdjust="spacingAndGlyphs" text-anchor="end" font-size="59">0</text>
<line x1="2725" y1="730" x2="2766.3" y2="730" stroke="#000" stroke-width="5"/>
<text x="2708" y="749" textLength="65.6" lengthAdjust="spacingAndGlyphs" text-anchor="end" font-size="59">20</text>
<line x1="2725" y1="622.6" x2="2766.3" y2="622.6" stroke="#000" stroke-width="5"/>
<text x="2708" y="641.6" textLength="65.6" lengthAdjust="spacingAndGlyphs" text-anchor="end" font-size="59">40</text>
<line x1="2725" y1="515.3" x2="2766.3" y2="515.3" stroke="#000" stroke-width="5"/>
<text x="2708" y="534.3" textLength="65.6" lengthAdjust="spacingAndGlyphs" text-anchor="end" font-size="59">60</text>
<line x1="2725" y1="407.9" x2="2766.3" y2="407.9" stroke="#000" stroke-width="5"/>
<text x="2708" y="426.9" textLength="65.6" lengthAdjust="spacingAndGlyphs" text-anchor="end" font-size="59">80</text>
<line x1="2725" y1="300.6" x2="2766.3" y2="300.6" stroke="#000" stroke-width="5"/>
<text x="2708" y="319.6" textLength="98.4" lengthAdjust="spacingAndGlyphs" text-anchor="end" font-size="59">100</text>
<line x1="2725" y1="837.3" x2="3165.8" y2="837.3" stroke="#000" stroke-width="5"/>
<line x1="2846.3" y1="837.3" x2="2846.3" y2="878.5" stroke="#000" stroke-width="5"/>
<text x="2831.3" y="947" textLength="32.5" lengthAdjust="spacingAndGlyphs" text-anchor="middle">1</text>
<line x1="2965.4" y1="837.3" x2="2965.4" y2="878.5" stroke="#000" stroke-width="5"/>
<text x="2950.4" y="947" textLength="32.5" lengthAdjust="spacingAndGlyphs" text-anchor="middle">2</text>
<line x1="3086.5" y1="837.3" x2="3086.5" y2="878.5" stroke="#000" stroke-width="5"/>
<text x="3071.5" y="947" textLength="32.5" lengthAdjust="spacingAndGlyphs" text-anchor="middle">4</text>
<text transform="translate(2569 578) rotate(-90)" textLength="182" lengthAdjust="spacingAndGlyphs" text-anchor="middle">EF (%)</text>
<line x1="2846.3" y1="465.8" x2="2846.3" y2="510" stroke="#F7931E" stroke-width="3"/>
<line x1="2835.3" y1="465.8" x2="2857.3" y2="465.8" stroke="#F7931E" stroke-width="3"/>
<line x1="2835.3" y1="510" x2="2857.3" y2="510" stroke="#F7931E" stroke-width="3"/>
<line x1="2965.4" y1="445" x2="2965.4" y2="482" stroke="#F7931E" stroke-width="3"/>
<line x1="2954.4" y1="445" x2="2976.4" y2="445" stroke="#F7931E" stroke-width="3"/>
<line x1="2954.4" y1="482" x2="2976.4" y2="482" stroke="#F7931E" stroke-width="3"/>
<line x1="3086.5" y1="411.4" x2="3086.5" y2="491.5" stroke="#F7931E" stroke-width="3"/>
<line x1="3075.5" y1="411.4" x2="3097.5" y2="411.4" stroke="#F7931E" stroke-width="3"/>
<line x1="3075.5" y1="491.5" x2="3097.5" y2="491.5" stroke="#F7931E" stroke-width="3"/>
<line x1="2846.3" y1="480" x2="2846.3" y2="522" stroke="#F7931E" stroke-width="3"/>
<line x1="2835.3" y1="480" x2="2857.3" y2="480" stroke="#F7931E" stroke-width="3"/>
<line x1="2835.3" y1="522" x2="2857.3" y2="522" stroke="#F7931E" stroke-width="3"/>
<line x1="2965.4" y1="465" x2="2965.4" y2="502.5" stroke="#F7931E" stroke-width="3"/>
<line x1="2954.4" y1="465" x2="2976.4" y2="465" stroke="#F7931E" stroke-width="3"/>
<line x1="2954.4" y1="502.5" x2="2976.4" y2="502.5" stroke="#F7931E" stroke-width="3"/>
<line x1="3086.5" y1="510" x2="3086.5" y2="568.7" stroke="#F7931E" stroke-width="3"/>
<line x1="3075.5" y1="510" x2="3097.5" y2="510" stroke="#F7931E" stroke-width="3"/>
<line x1="3075.5" y1="568.7" x2="3097.5" y2="568.7" stroke="#F7931E" stroke-width="3"/>
<line x1="2846.3" y1="525.8" x2="2846.3" y2="562.6" stroke="#000" stroke-width="3"/>
<line x1="2835.3" y1="525.8" x2="2857.3" y2="525.8" stroke="#000" stroke-width="3"/>
<line x1="2835.3" y1="562.6" x2="2857.3" y2="562.6" stroke="#000" stroke-width="3"/>
<line x1="2965.4" y1="470" x2="2965.4" y2="492" stroke="#000" stroke-width="3"/>
<line x1="2954.4" y1="470" x2="2976.4" y2="470" stroke="#000" stroke-width="3"/>
<line x1="2954.4" y1="492" x2="2976.4" y2="492" stroke="#000" stroke-width="3"/>
<line x1="3086.5" y1="470" x2="3086.5" y2="495" stroke="#000" stroke-width="3"/>
<line x1="3075.5" y1="470" x2="3097.5" y2="470" stroke="#000" stroke-width="3"/>
<line x1="3075.5" y1="495" x2="3097.5" y2="495" stroke="#000" stroke-width="3"/>
<line x1="2846.3" y1="578" x2="2846.3" y2="615.8" stroke="#000" stroke-width="3"/>
<line x1="2835.3" y1="578" x2="2857.3" y2="578" stroke="#000" stroke-width="3"/>
<line x1="2835.3" y1="615.8" x2="2857.3" y2="615.8" stroke="#000" stroke-width="3"/>
<line x1="2965.4" y1="597.6" x2="2965.4" y2="626.3" stroke="#000" stroke-width="3"/>
<line x1="2954.4" y1="597.6" x2="2976.4" y2="597.6" stroke="#000" stroke-width="3"/>
<line x1="2954.4" y1="626.3" x2="2976.4" y2="626.3" stroke="#000" stroke-width="3"/>
<line x1="3086.5" y1="637.4" x2="3086.5" y2="674" stroke="#000" stroke-width="3"/>
<line x1="3075.5" y1="637.4" x2="3097.5" y2="637.4" stroke="#000" stroke-width="3"/>
<line x1="3075.5" y1="674" x2="3097.5" y2="674" stroke="#000" stroke-width="3"/>
<path d="M2846.3 487.8 L2965.4 463.3 L3086.5 451" fill="none" stroke="#F7931E" stroke-width="2.5" stroke-dasharray="7 5"/>
<path d="M2846.3 498.9 L2965.4 483 L3086.5 539.3" fill="none" stroke="#F7931E" stroke-width="2.5"/>
<path d="M2846.3 543 L2965.4 480.5 L3086.5 482.5" fill="none" stroke="#000" stroke-width="2.5" stroke-dasharray="7 5"/>
<path d="M2846.3 597 L2965.4 611.6 L3086.5 655.7" fill="none" stroke="#000" stroke-width="2.5"/>
<circle cx="2846.3" cy="543" r="9.8" fill="none" stroke="#000" stroke-width="2.5"/>
<circle cx="2965.4" cy="480.5" r="9.8" fill="none" stroke="#000" stroke-width="2.5"/>
<circle cx="3086.5" cy="482.5" r="9.8" fill="none" stroke="#000" stroke-width="2.5"/>
<circle cx="2846.3" cy="597" r="10.3" fill="#000" stroke="#000" stroke-width="1"/>
<circle cx="2965.4" cy="611.6" r="10.3" fill="#000" stroke="#000" stroke-width="1"/>
<circle cx="3086.5" cy="655.7" r="10.3" fill="#000" stroke="#000" stroke-width="1"/>
<rect x="2835.8" y="477.3" width="21" height="21" fill="none" stroke="#F7931E" stroke-width="3"/>
<rect x="2954.9" y="452.8" width="21" height="21" fill="none" stroke="#F7931E" stroke-width="3"/>
<rect x="3076" y="440.5" width="21" height="21" fill="none" stroke="#F7931E" stroke-width="3"/>
<rect x="2835.8" y="488.4" width="21" height="21" fill="#F7931E"/>
<rect x="2954.9" y="472.5" width="21" height="21" fill="#F7931E"/>
<rect x="3076" y="528.8" width="21" height="21" fill="#F7931E"/>
<text x="2846.3" y="666" text-anchor="middle" font-size="52" font-weight="bold">*</text>
<text x="2966.7" y="674" text-anchor="middle" font-size="52" font-weight="bold">*</text>
<text x="3086.5" y="722" text-anchor="middle" font-size="52" font-weight="bold">*</text>
<path d="M3105.6 535.6H3119V655.7H3105.6" fill="none" stroke="#555" stroke-width="2.5"/>
<text x="3137.5" y="624" text-anchor="middle" font-size="52" font-weight="bold">*</text>
<line x1="3376.5" y1="297.5" x2="3376.5" y2="840.5" stroke="#000" stroke-width="5"/>
<line x1="3334" y1="838" x2="3376.5" y2="838" stroke="#000" stroke-width="5"/>
<text x="3317" y="857" textLength="32.8" lengthAdjust="spacingAndGlyphs" text-anchor="end" font-size="59">0</text>
<line x1="3334" y1="703.5" x2="3376.5" y2="703.5" stroke="#000" stroke-width="5"/>
<text x="3317" y="722.5" textLength="65.6" lengthAdjust="spacingAndGlyphs" text-anchor="end" font-size="59">20</text>
<line x1="3334" y1="569" x2="3376.5" y2="569" stroke="#000" stroke-width="5"/>
<text x="3317" y="588" textLength="65.6" lengthAdjust="spacingAndGlyphs" text-anchor="end" font-size="59">40</text>
<line x1="3334" y1="434.5" x2="3376.5" y2="434.5" stroke="#000" stroke-width="5"/>
<text x="3317" y="453.5" textLength="65.6" lengthAdjust="spacingAndGlyphs" text-anchor="end" font-size="59">60</text>
<line x1="3334" y1="300" x2="3376.5" y2="300" stroke="#000" stroke-width="5"/>
<text x="3317" y="319" textLength="65.6" lengthAdjust="spacingAndGlyphs" text-anchor="end" font-size="59">80</text>
<line x1="3334" y1="838" x2="3776.6" y2="838" stroke="#000" stroke-width="5"/>
<line x1="3455.5" y1="838" x2="3455.5" y2="878.5" stroke="#000" stroke-width="5"/>
<text x="3440.5" y="947" textLength="32.5" lengthAdjust="spacingAndGlyphs" text-anchor="middle">1</text>
<line x1="3575.6" y1="838" x2="3575.6" y2="878.5" stroke="#000" stroke-width="5"/>
<text x="3560.6" y="947" textLength="32.5" lengthAdjust="spacingAndGlyphs" text-anchor="middle">2</text>
<line x1="3696.7" y1="838" x2="3696.7" y2="878.5" stroke="#000" stroke-width="5"/>
<text x="3681.7" y="947" textLength="32.5" lengthAdjust="spacingAndGlyphs" text-anchor="middle">4</text>
<text transform="translate(3211 578) rotate(-90)" textLength="182" lengthAdjust="spacingAndGlyphs" text-anchor="middle">FS (%)</text>
<line x1="3455.5" y1="577.6" x2="3455.5" y2="620" stroke="#F7931E" stroke-width="3"/>
<line x1="3444.5" y1="577.6" x2="3466.5" y2="577.6" stroke="#F7931E" stroke-width="3"/>
<line x1="3444.5" y1="620" x2="3466.5" y2="620" stroke="#F7931E" stroke-width="3"/>
<line x1="3575.6" y1="554.4" x2="3575.6" y2="590" stroke="#F7931E" stroke-width="3"/>
<line x1="3564.6" y1="554.4" x2="3586.6" y2="554.4" stroke="#F7931E" stroke-width="3"/>
<line x1="3564.6" y1="590" x2="3586.6" y2="590" stroke="#F7931E" stroke-width="3"/>
<line x1="3696.7" y1="495.5" x2="3696.7" y2="598.5" stroke="#F7931E" stroke-width="3"/>
<line x1="3685.7" y1="495.5" x2="3707.7" y2="495.5" stroke="#F7931E" stroke-width="3"/>
<line x1="3685.7" y1="598.5" x2="3707.7" y2="598.5" stroke="#F7931E" stroke-width="3"/>
<line x1="3455.5" y1="582.5" x2="3455.5" y2="623" stroke="#F7931E" stroke-width="3"/>
<line x1="3444.5" y1="582.5" x2="3466.5" y2="582.5" stroke="#F7931E" stroke-width="3"/>
<line x1="3444.5" y1="623" x2="3466.5" y2="623" stroke="#F7931E" stroke-width="3"/>
<line x1="3575.6" y1="575" x2="3575.6" y2="608.3" stroke="#F7931E" stroke-width="3"/>
<line x1="3564.6" y1="575" x2="3586.6" y2="575" stroke="#F7931E" stroke-width="3"/>
<line x1="3564.6" y1="608.3" x2="3586.6" y2="608.3" stroke="#F7931E" stroke-width="3"/>
<line x1="3696.7" y1="621" x2="3696.7" y2="668.3" stroke="#F7931E" stroke-width="3"/>
<line x1="3685.7" y1="621" x2="3707.7" y2="621" stroke="#F7931E" stroke-width="3"/>
<line x1="3685.7" y1="668.3" x2="3707.7" y2="668.3" stroke="#F7931E" stroke-width="3"/>
<line x1="3455.5" y1="633.5" x2="3455.5" y2="663.4" stroke="#000" stroke-width="3"/>
<line x1="3444.5" y1="633.5" x2="3466.5" y2="633.5" stroke="#000" stroke-width="3"/>
<line x1="3444.5" y1="663.4" x2="3466.5" y2="663.4" stroke="#000" stroke-width="3"/>
<line x1="3575.6" y1="580" x2="3575.6" y2="612.5" stroke="#000" stroke-width="3"/>
<line x1="3564.6" y1="580" x2="3586.6" y2="580" stroke="#000" stroke-width="3"/>
<line x1="3564.6" y1="612.5" x2="3586.6" y2="612.5" stroke="#000" stroke-width="3"/>
<line x1="3696.7" y1="585" x2="3696.7" y2="605" stroke="#000" stroke-width="3"/>
<line x1="3685.7" y1="585" x2="3707.7" y2="585" stroke="#000" stroke-width="3"/>
<line x1="3685.7" y1="605" x2="3707.7" y2="605" stroke="#000" stroke-width="3"/>
<line x1="3455.5" y1="675.2" x2="3455.5" y2="703.4" stroke="#000" stroke-width="3"/>
<line x1="3444.5" y1="675.2" x2="3466.5" y2="675.2" stroke="#000" stroke-width="3"/>
<line x1="3444.5" y1="703.4" x2="3466.5" y2="703.4" stroke="#000" stroke-width="3"/>
<line x1="3575.6" y1="689.7" x2="3575.6" y2="708.8" stroke="#000" stroke-width="3"/>
<line x1="3564.6" y1="689.7" x2="3586.6" y2="689.7" stroke="#000" stroke-width="3"/>
<line x1="3564.6" y1="708.8" x2="3586.6" y2="708.8" stroke="#000" stroke-width="3"/>
<line x1="3696.7" y1="717.8" x2="3696.7" y2="741.9" stroke="#000" stroke-width="3"/>
<line x1="3685.7" y1="717.8" x2="3707.7" y2="717.8" stroke="#000" stroke-width="3"/>
<line x1="3685.7" y1="741.9" x2="3707.7" y2="741.9" stroke="#000" stroke-width="3"/>
<path d="M3455.5 599.7 L3575.6 572.7 L3696.7 548.2" fill="none" stroke="#F7931E" stroke-width="2.5" stroke-dasharray="7 5"/>
<path d="M3455.5 601.7 L3575.6 590.4 L3696.7 644.3" fill="none" stroke="#F7931E" stroke-width="2.5"/>
<path d="M3455.5 648.7 L3575.6 591 L3696.7 597" fill="none" stroke="#000" stroke-width="2.5" stroke-dasharray="7 5"/>
<path d="M3455.5 689.2 L3575.6 699 L3696.7 729.6" fill="none" stroke="#000" stroke-width="2.5"/>
<circle cx="3455.5" cy="648.7" r="9.8" fill="none" stroke="#000" stroke-width="2.5"/>
<circle cx="3575.6" cy="591" r="9.8" fill="none" stroke="#000" stroke-width="2.5"/>
<circle cx="3696.7" cy="597" r="9.8" fill="none" stroke="#000" stroke-width="2.5"/>
<circle cx="3455.5" cy="689.2" r="10.3" fill="#000" stroke="#000" stroke-width="1"/>
<circle cx="3575.6" cy="699" r="10.3" fill="#000" stroke="#000" stroke-width="1"/>
<circle cx="3696.7" cy="729.6" r="10.3" fill="#000" stroke="#000" stroke-width="1"/>
<rect x="3445" y="589.2" width="21" height="21" fill="none" stroke="#F7931E" stroke-width="3"/>
<rect x="3565.1" y="562.2" width="21" height="21" fill="none" stroke="#F7931E" stroke-width="3"/>
<rect x="3686.2" y="537.7" width="21" height="21" fill="none" stroke="#F7931E" stroke-width="3"/>
<rect x="3445" y="591.2" width="21" height="21" fill="#F7931E"/>
<rect x="3565.1" y="579.9" width="21" height="21" fill="#F7931E"/>
<rect x="3686.2" y="633.8" width="21" height="21" fill="#F7931E"/>
<text x="3455.5" y="758" text-anchor="middle" font-size="52" font-weight="bold">*</text>
<text x="3575.6" y="758" text-anchor="middle" font-size="52" font-weight="bold">*</text>
<text x="3696.7" y="793.6" text-anchor="middle" font-size="52" font-weight="bold">*</text>
<path d="M3728.8 650.7H3742.8V732.5H3728.8" fill="none" stroke="#555" stroke-width="2.5"/>
<text x="3762.4" y="709" text-anchor="middle" font-size="52" font-weight="bold">*</text>
<text x="3236" y="1022.5" textLength="623.4" lengthAdjust="spacingAndGlyphs" text-anchor="middle" font-size="60">Time post-TAC (weeks)</text>
<text x="24" y="1331" font-size="85" font-weight="bold">C</text>
<rect x="217.6" y="1394" width="115.4" height="25.5" fill="#fff" stroke="#231F20" stroke-width="3"/>
<text x="398" y="1426" textLength="88.2" lengthAdjust="spacingAndGlyphs">WT</text>
<rect x="540" y="1394" width="115.5" height="25.5" fill="#FDD27A" stroke="#231F20" stroke-width="3"/>
<text x="720.7" y="1426" textLength="274.4" lengthAdjust="spacingAndGlyphs">CCL24 KO</text>
<rect x="299.8" y="1948.9" width="67" height="250.3" fill="#fff" stroke="#1a1a1a" stroke-width="3.2"/>
<rect x="403" y="1940.1" width="68.2" height="259.1" fill="#FDD27A" stroke="#1a1a1a" stroke-width="3.2"/>
<rect x="576.7" y="1896.4" width="68.5" height="302.8" fill="#fff" stroke="#1a1a1a" stroke-width="3.2"/>
<rect x="681.4" y="1865.4" width="68.2" height="333.8" fill="#FDD27A" stroke="#1a1a1a" stroke-width="3.2"/>
<rect x="853.6" y="1976.5" width="68.8" height="222.7" fill="#fff" stroke="#1a1a1a" stroke-width="3.2"/>
<rect x="957.6" y="1964.7" width="68.3" height="234.5" fill="#FDD27A" stroke="#1a1a1a" stroke-width="3.2"/>
<rect x="1131.8" y="1840" width="68.2" height="359.2" fill="#fff" stroke="#1a1a1a" stroke-width="3.2"/>
<rect x="1236" y="1811.8" width="67.5" height="387.4" fill="#FDD27A" stroke="#1a1a1a" stroke-width="3.2"/>
<line x1="262.2" y1="1657.2" x2="262.2" y2="2201.7" stroke="#000" stroke-width="5"/>
<line x1="221" y1="2199.2" x2="262.2" y2="2199.2" stroke="#000" stroke-width="5"/>
<text x="206" y="2218.2" textLength="31.8" lengthAdjust="spacingAndGlyphs" text-anchor="end" font-size="59">0</text>
<line x1="221" y1="2091.3" x2="262.2" y2="2091.3" stroke="#000" stroke-width="5"/>
<text x="206" y="2110.3" textLength="31.8" lengthAdjust="spacingAndGlyphs" text-anchor="end" font-size="59">2</text>
<line x1="221" y1="1983.4" x2="262.2" y2="1983.4" stroke="#000" stroke-width="5"/>
<text x="206" y="2002.4" textLength="31.8" lengthAdjust="spacingAndGlyphs" text-anchor="end" font-size="59">4</text>
<line x1="221" y1="1875.5" x2="262.2" y2="1875.5" stroke="#000" stroke-width="5"/>
<text x="206" y="1894.5" textLength="31.8" lengthAdjust="spacingAndGlyphs" text-anchor="end" font-size="59">6</text>
<line x1="221" y1="1767.6" x2="262.2" y2="1767.6" stroke="#000" stroke-width="5"/>
<text x="206" y="1786.6" textLength="31.8" lengthAdjust="spacingAndGlyphs" text-anchor="end" font-size="59">8</text>
<line x1="221" y1="1659.7" x2="262.2" y2="1659.7" stroke="#000" stroke-width="5"/>
<text x="206" y="1678.7" textLength="63.7" lengthAdjust="spacingAndGlyphs" text-anchor="end" font-size="59">10</text>
<line x1="221" y1="2199.2" x2="768.7" y2="2199.2" stroke="#000" stroke-width="5"/>
<line x1="799.6" y1="2199.2" x2="1324.6" y2="2199.2" stroke="#000" stroke-width="5"/>
<line x1="382.3" y1="2199.2" x2="382.3" y2="2241.8" stroke="#000" stroke-width="5"/>
<line x1="660.3" y1="2199.2" x2="660.3" y2="2241.8" stroke="#000" stroke-width="5"/>
<line x1="938.2" y1="2199.2" x2="938.2" y2="2241.8" stroke="#000" stroke-width="5"/>
<line x1="1216.2" y1="2199.2" x2="1216.2" y2="2241.8" stroke="#000" stroke-width="5"/>
<circle cx="330.5" cy="1897.3" r="10.5" fill="#fff" stroke="#000" stroke-width="2.4"/>
<circle cx="335.6" cy="1936.7" r="10.5" fill="#fff" stroke="#000" stroke-width="2.4"/>
<circle cx="348.8" cy="1914.9" r="10.5" fill="#fff" stroke="#000" stroke-width="2.4"/>
<circle cx="308.8" cy="1947.9" r="10.5" fill="#fff" stroke="#000" stroke-width="2.4"/>
<circle cx="317.8" cy="1949.1" r="10.5" fill="#fff" stroke="#000" stroke-width="2.4"/>
<circle cx="332.2" cy="1893.4" r="10.5" fill="#fff" stroke="#000" stroke-width="2.4"/>
<circle cx="334.4" cy="1913.7" r="10.5" fill="#fff" stroke="#000" stroke-width="2.4"/>
<circle cx="333.8" cy="1931.9" r="10.5" fill="#fff" stroke="#000" stroke-width="2.4"/>
<circle cx="338.4" cy="1951.6" r="10.5" fill="#fff" stroke="#000" stroke-width="2.4"/>
<circle cx="324.5" cy="1931.3" r="10.5" fill="#fff" stroke="#000" stroke-width="2.4"/>
<circle cx="307" cy="1939.7" r="10.5" fill="#fff" stroke="#000" stroke-width="2.4"/>
<circle cx="324" cy="1945" r="10.5" fill="#fff" stroke="#000" stroke-width="2.4"/>
<circle cx="356.9" cy="1939" r="10.5" fill="#fff" stroke="#000" stroke-width="2.4"/>
<circle cx="352.5" cy="1941.2" r="10.5" fill="#fff" stroke="#000" stroke-width="2.4"/>
<circle cx="347.6" cy="1949.5" r="10.5" fill="#fff" stroke="#000" stroke-width="2.4"/>
<circle cx="308" cy="1949.5" r="10.5" fill="#fff" stroke="#000" stroke-width="2.4"/>
<circle cx="335.9" cy="1977.8" r="10.5" fill="#fff" stroke="#000" stroke-width="2.4"/>
<circle cx="355.2" cy="1936.6" r="10.5" fill="#fff" stroke="#000" stroke-width="2.4"/>
<circle cx="338.2" cy="1952.7" r="10.5" fill="#fff" stroke="#000" stroke-width="2.4"/>
<circle cx="317.9" cy="1959.3" r="10.5" fill="#fff" stroke="#000" stroke-width="2.4"/>
<circle cx="331.6" cy="1962.6" r="10.5" fill="#fff" stroke="#000" stroke-width="2.4"/>
<circle cx="345.4" cy="1959.9" r="10.5" fill="#fff" stroke="#000" stroke-width="2.4"/>
<circle cx="313" cy="1974.7" r="10.5" fill="#fff" stroke="#000" stroke-width="2.4"/>
<circle cx="321.8" cy="1974.7" r="10.5" fill="#fff" stroke="#000" stroke-width="2.4"/>
<circle cx="337.1" cy="1983" r="10.5" fill="#fff" stroke="#000" stroke-width="2.4"/>
<circle cx="350.3" cy="1978" r="10.5" fill="#fff" stroke="#000" stroke-width="2.4"/>
<circle cx="434.4" cy="1873.6" r="10.5" fill="#fff" stroke="#000" stroke-width="2.4"/>
<circle cx="438.2" cy="1883" r="10.5" fill="#fff" stroke="#000" stroke-width="2.4"/>
<circle cx="436" cy="1907.1" r="10.5" fill="#fff" stroke="#000" stroke-width="2.4"/>
<circle cx="440.2" cy="1960.6" r="10.5" fill="#fff" stroke="#000" stroke-width="2.4"/>
<circle cx="412.4" cy="1969.3" r="10.5" fill="#fff" stroke="#000" stroke-width="2.4"/>
<circle cx="431.8" cy="1956.6" r="10.5" fill="#fff" stroke="#000" stroke-width="2.4"/>
<circle cx="435" cy="1911.5" r="10.5" fill="#fff" stroke="#000" stroke-width="2.4"/>
<circle cx="438.8" cy="1926.9" r="10.5" fill="#fff" stroke="#000" stroke-width="2.4"/>
<circle cx="433.3" cy="1939.6" r="10.5" fill="#fff" stroke="#000" stroke-width="2.4"/>
<circle cx="455.8" cy="1949" r="10.5" fill="#fff" stroke="#000" stroke-width="2.4"/>
<circle cx="439.1" cy="1962.3" r="10.5" fill="#fff" stroke="#000" stroke-width="2.4"/>
<circle cx="415.1" cy="1963.5" r="10.5" fill="#fff" stroke="#000" stroke-width="2.4"/>
<circle cx="413" cy="1961" r="10.5" fill="#fff" stroke="#000" stroke-width="2.4"/>
<circle cx="415.2" cy="1952.7" r="10.5" fill="#fff" stroke="#000" stroke-width="2.4"/>
<circle cx="425" cy="1952.2" r="10.5" fill="#fff" stroke="#000" stroke-width="2.4"/>
<circle cx="439.3" cy="1955.5" r="10.5" fill="#fff" stroke="#000" stroke-width="2.4"/>
<circle cx="448.7" cy="1961" r="10.5" fill="#fff" stroke="#000" stroke-width="2.4"/>
<circle cx="460.2" cy="1961" r="10.5" fill="#fff" stroke="#000" stroke-width="2.4"/>
<circle cx="413.1" cy="1943.2" r="10.5" fill="#fff" stroke="#000" stroke-width="2.4"/>
<circle cx="429.5" cy="1970.9" r="10.5" fill="#fff" stroke="#000" stroke-width="2.4"/>
<circle cx="605.4" cy="1827.1" r="10.5" fill="#fff" stroke="#000" stroke-width="2.4"/>
<circle cx="615" cy="1832.7" r="10.5" fill="#fff" stroke="#000" stroke-width="2.4"/>
<circle cx="632.3" cy="1840.5" r="10.5" fill="#fff" stroke="#000" stroke-width="2.4"/>
<circle cx="611" cy="1837.5" r="10.5" fill="#fff" stroke="#000" stroke-width="2.4"/>
<circle cx="590.8" cy="1924.7" r="10.5" fill="#fff" stroke="#000" stroke-width="2.4"/>
<circle cx="611.5" cy="1852.3" r="10.5" fill="#fff" stroke="#000" stroke-width="2.4"/>
<circle cx="631.5" cy="1894" r="10.5" fill="#fff" stroke="#000" stroke-width="2.4"/>
<circle cx="595.9" cy="1842.2" r="10.5" fill="#fff" stroke="#000" stroke-width="2.4"/>
<circle cx="590.3" cy="1850.2" r="10.5" fill="#fff" stroke="#000" stroke-width="2.4"/>
<circle cx="622.1" cy="1848.6" r="10.5" fill="#fff" stroke="#000" stroke-width="2.4"/>
<circle cx="609.4" cy="1848.6" r="10.5" fill="#fff" stroke="#000" stroke-width="2.4"/>
<circle cx="594.3" cy="1863" r="10.5" fill="#fff" stroke="#000" stroke-width="2.4"/>
<circle cx="625.3" cy="1863.8" r="10.5" fill="#fff" stroke="#000" stroke-width="2.4"/>
<circle cx="599.4" cy="1854.3" r="10.5" fill="#fff" stroke="#000" stroke-width="2.4"/>
<circle cx="631.7" cy="1866.1" r="10.5" fill="#fff" stroke="#000" stroke-width="2.4"/>
<circle cx="606.2" cy="1874.1" r="10.5" fill="#fff" stroke="#000" stroke-width="2.4"/>
<circle cx="586.3" cy="1888.5" r="10.5" fill="#fff" stroke="#000" stroke-width="2.4"/>
<circle cx="607.8" cy="1890.8" r="10.5" fill="#fff" stroke="#000" stroke-width="2.4"/>
<circle cx="621" cy="1949.8" r="10.5" fill="#fff" stroke="#000" stroke-width="2.4"/>
<circle cx="601.2" cy="1962.3" r="10.5" fill="#fff" stroke="#000" stroke-width="2.4"/>
<circle cx="630.1" cy="1891.6" r="10.5" fill="#fff" stroke="#000" stroke-width="2.4"/>
<circle cx="614.9" cy="1891.2" r="10.5" fill="#fff" stroke="#000" stroke-width="2.4"/>
<circle cx="589" cy="1892.3" r="10.5" fill="#fff" stroke="#000" stroke-width="2.4"/>
<circle cx="610.8" cy="1876.4" r="10.5" fill="#fff" stroke="#000" stroke-width="2.4"/>
<circle cx="603.6" cy="1877.3" r="10.5" fill="#fff" stroke="#000" stroke-width="2.4"/>
<circle cx="633.3" cy="1903.6" r="10.5" fill="#fff" stroke="#000" stroke-width="2.4"/>
<circle cx="589.5" cy="1906" r="10.5" fill="#fff" stroke="#000" stroke-width="2.4"/>
<circle cx="595" cy="1896" r="10.5" fill="#fff" stroke="#000" stroke-width="2.4"/>
<circle cx="615.8" cy="1909.2" r="10.5" fill="#fff" stroke="#000" stroke-width="2.4"/>
<circle cx="612.6" cy="1915.5" r="10.5" fill="#fff" stroke="#000" stroke-width="2.4"/>
<circle cx="606.2" cy="1923.5" r="10.5" fill="#fff" stroke="#000" stroke-width="2.4"/>
<circle cx="601.4" cy="1939.5" r="10.5" fill="#fff" stroke="#000" stroke-width="2.4"/>
<circle cx="620.5" cy="1941" r="10.5" fill="#fff" stroke="#000" stroke-width="2.4"/>
<circle cx="612.5" cy="1934.9" r="10.5" fill="#fff" stroke="#000" stroke-width="2.4"/>
<circle cx="599.2" cy="1907.5" r="10.5" fill="#fff" stroke="#000" stroke-width="2.4"/>
<circle cx="614.7" cy="1891.6" r="10.5" fill="#fff" stroke="#000" stroke-width="2.4"/>
<circle cx="604.6" cy="1955.4" r="10.5" fill="#fff" stroke="#000" stroke-width="2.4"/>
<circle cx="593.5" cy="1963.3" r="10.5" fill="#fff" stroke="#000" stroke-width="2.4"/>
<circle cx="633.7" cy="1941" r="10.5" fill="#fff" stroke="#000" stroke-width="2.4"/>
<circle cx="623.7" cy="1968.1" r="10.5" fill="#fff" stroke="#000" stroke-width="2.4"/>
<circle cx="614.2" cy="1969.7" r="10.5" fill="#fff" stroke="#000" stroke-width="2.4"/>
<circle cx="714.4" cy="1871.9" r="10.5" fill="#fff" stroke="#000" stroke-width="2.4"/>
<circle cx="713.8" cy="1731.5" r="10.5" fill="#fff" stroke="#000" stroke-width="2.4"/>
<circle cx="706.6" cy="1741.1" r="10.5" fill="#fff" stroke="#000" stroke-width="2.4"/>
<circle cx="721.7" cy="1749.8" r="10.5" fill="#fff" stroke="#000" stroke-width="2.4"/>
<circle cx="713" cy="1757.8" r="10.5" fill="#fff" stroke="#000" stroke-width="2.4"/>
<circle cx="721.7" cy="1775.3" r="10.5" fill="#fff" stroke="#000" stroke-width="2.4"/>
<circle cx="713.8" cy="1774.5" r="10.5" fill="#fff" stroke="#000" stroke-width="2.4"/>
<circle cx="706.6" cy="1789.7" r="10.5" fill="#fff" stroke="#000" stroke-width="2.4"/>
<circle cx="723" cy="1857.9" r="10.5" fill="#fff" stroke="#000" stroke-width="2.4"/>
<circle cx="717.7" cy="1807.2" r="10.5" fill="#fff" stroke="#000" stroke-width="2.4"/>
<circle cx="708.2" cy="1810.4" r="10.5" fill="#fff" stroke="#000" stroke-width="2.4"/>
<circle cx="701.8" cy="1824.7" r="10.5" fill="#fff" stroke="#000" stroke-width="2.4"/>
<circle cx="719.7" cy="1853.8" r="10.5" fill="#fff" stroke="#000" stroke-width="2.4"/>
<circle cx="700.4" cy="1885.1" r="10.5" fill="#fff" stroke="#000" stroke-width="2.4"/>
<circle cx="711.4" cy="1824.7" r="10.5" fill="#fff" stroke="#000" stroke-width="2.4"/>
<circle cx="725.7" cy="1832.7" r="10.5" fill="#fff" stroke="#000" stroke-width="2.4"/>
<circle cx="726.3" cy="1784.6" r="10.5" fill="#fff" stroke="#000" stroke-width="2.4"/>
<circle cx="705.8" cy="1787.7" r="10.5" fill="#fff" stroke="#000" stroke-width="2.4"/>
<circle cx="720.9" cy="1832.7" r="10.5" fill="#fff" stroke="#000" stroke-width="2.4"/>
<circle cx="710.7" cy="1934.2" r="10.5" fill="#fff" stroke="#000" stroke-width="2.4"/>
<circle cx="703.4" cy="1848.6" r="10.5" fill="#fff" stroke="#000" stroke-width="2.4"/>
<circle cx="724.1" cy="1849.4" r="10.5" fill="#fff" stroke="#000" stroke-width="2.4"/>
<circle cx="709.8" cy="1863" r="10.5" fill="#fff" stroke="#000" stroke-width="2.4"/>
<circle cx="711.4" cy="1878.9" r="10.5" fill="#fff" stroke="#000" stroke-width="2.4"/>
<circle cx="693.8" cy="1883.7" r="10.5" fill="#fff" stroke="#000" stroke-width="2.4"/>
<circle cx="700.2" cy="1885.3" r="10.5" fill="#fff" stroke="#000" stroke-width="2.4"/>
<circle cx="720.9" cy="1882.1" r="10.5" fill="#fff" stroke="#000" stroke-width="2.4"/>
<circle cx="735.3" cy="1885.3" r="10.5" fill="#fff" stroke="#000" stroke-width="2.4"/>
<circle cx="734.2" cy="1788.7" r="10.5" fill="#fff" stroke="#000" stroke-width="2.4"/>
<circle cx="731.8" cy="1908.2" r="10.5" fill="#fff" stroke="#000" stroke-width="2.4"/>
<circle cx="728.9" cy="1894.8" r="10.5" fill="#fff" stroke="#000" stroke-width="2.4"/>
<circle cx="695.4" cy="1904.4" r="10.5" fill="#fff" stroke="#000" stroke-width="2.4"/>
<circle cx="735.4" cy="1889.7" r="10.5" fill="#fff" stroke="#000" stroke-width="2.4"/>
<circle cx="709.8" cy="1906" r="10.5" fill="#fff" stroke="#000" stroke-width="2.4"/>
<circle cx="730.3" cy="1812.9" r="10.5" fill="#fff" stroke="#000" stroke-width="2.4"/>
<circle cx="736.9" cy="1907.6" r="10.5" fill="#fff" stroke="#000" stroke-width="2.4"/>
<circle cx="709.5" cy="1867.6" r="10.5" fill="#fff" stroke="#000" stroke-width="2.4"/>
<circle cx="732.1" cy="1910.8" r="10.5" fill="#fff" stroke="#000" stroke-width="2.4"/>
<circle cx="724.1" cy="1913.1" r="10.5" fill="#fff" stroke="#000" stroke-width="2.4"/>
<circle cx="690.7" cy="1917.1" r="10.5" fill="#fff" stroke="#000" stroke-width="2.4"/>
<circle cx="721.5" cy="1900.6" r="10.5" fill="#fff" stroke="#000" stroke-width="2.4"/>
<circle cx="697.4" cy="1845.3" r="10.5" fill="#fff" stroke="#000" stroke-width="2.4"/>
<circle cx="706.6" cy="1929.9" r="10.5" fill="#fff" stroke="#000" stroke-width="2.4"/>
<circle cx="727.5" cy="1834.6" r="10.5" fill="#fff" stroke="#000" stroke-width="2.4"/>
<circle cx="720.9" cy="1932.3" r="10.5" fill="#fff" stroke="#000" stroke-width="2.4"/>
<circle cx="720.9" cy="1950.6" r="10.5" fill="#fff" stroke="#000" stroke-width="2.4"/>
<circle cx="705.7" cy="1786" r="10.5" fill="#fff" stroke="#000" stroke-width="2.4"/>
<circle cx="707.4" cy="1966.5" r="10.5" fill="#fff" stroke="#000" stroke-width="2.4"/>
<circle cx="875.3" cy="1957.6" r="10.5" fill="#fff" stroke="#000" stroke-width="2.4"/>
<circle cx="898.8" cy="1958.8" r="10.5" fill="#fff" stroke="#000" stroke-width="2.4"/>
<circle cx="887" cy="1984.7" r="10.5" fill="#fff" stroke="#000" stroke-width="2.4"/>
<circle cx="863.5" cy="1990.6" r="10.5" fill="#fff" stroke="#000" stroke-width="2.4"/>
<circle cx="910.6" cy="1987" r="10.5" fill="#fff" stroke="#000" stroke-width="2.4"/>
<circle cx="967" cy="1945.9" r="10.5" fill="#fff" stroke="#000" stroke-width="2.4"/>
<circle cx="982.4" cy="1958.8" r="10.5" fill="#fff" stroke="#000" stroke-width="2.4"/>
<circle cx="998.8" cy="1970.6" r="10.5" fill="#fff" stroke="#000" stroke-width="2.4"/>
<circle cx="1016.5" cy="1965.9" r="10.5" fill="#fff" stroke="#000" stroke-width="2.4"/>
<circle cx="968.2" cy="1975.3" r="10.5" fill="#fff" stroke="#000" stroke-width="2.4"/>
<circle cx="1156.5" cy="1752.2" r="10.5" fill="#fff" stroke="#000" stroke-width="2.4"/>
<circle cx="1173" cy="1747.1" r="10.5" fill="#fff" stroke="#000" stroke-width="2.4"/>
<circle cx="1173" cy="1794.1" r="10.5" fill="#fff" stroke="#000" stroke-width="2.4"/>
<circle cx="1156.5" cy="1803.5" r="10.5" fill="#fff" stroke="#000" stroke-width="2.4"/>
<circle cx="1141.2" cy="1816.5" r="10.5" fill="#fff" stroke="#000" stroke-width="2.4"/>
<circle cx="1156.5" cy="1829.4" r="10.5" fill="#fff" stroke="#000" stroke-width="2.4"/>
<circle cx="1141.2" cy="1847.1" r="10.5" fill="#fff" stroke="#000" stroke-width="2.4"/>
<circle cx="1189.4" cy="1847.1" r="10.5" fill="#fff" stroke="#000" stroke-width="2.4"/>
<circle cx="1173" cy="1860" r="10.5" fill="#fff" stroke="#000" stroke-width="2.4"/>
<circle cx="1141.2" cy="1876.5" r="10.5" fill="#fff" stroke="#000" stroke-width="2.4"/>
<circle cx="1156.5" cy="1873" r="10.5" fill="#fff" stroke="#000" stroke-width="2.4"/>
<circle cx="1189.4" cy="1878.1" r="10.5" fill="#fff" stroke="#000" stroke-width="2.4"/>
<circle cx="1156.5" cy="1895.3" r="10.5" fill="#fff" stroke="#000" stroke-width="2.4"/>
<circle cx="1173" cy="1894.1" r="10.5" fill="#fff" stroke="#000" stroke-width="2.4"/>
<circle cx="1189.4" cy="1901.2" r="10.5" fill="#fff" stroke="#000" stroke-width="2.4"/>
<circle cx="1163.5" cy="1922.4" r="10.5" fill="#fff" stroke="#000" stroke-width="2.4"/>
<circle cx="1244.7" cy="1755.3" r="10.5" fill="#fff" stroke="#000" stroke-width="2.4"/>
<circle cx="1260" cy="1768.2" r="10.5" fill="#fff" stroke="#000" stroke-width="2.4"/>
<circle cx="1276.5" cy="1764.7" r="10.5" fill="#fff" stroke="#000" stroke-width="2.4"/>
<circle cx="1293" cy="1749.4" r="10.5" fill="#fff" stroke="#000" stroke-width="2.4"/>
<circle cx="1293" cy="1795.3" r="10.5" fill="#fff" stroke="#000" stroke-width="2.4"/>
<circle cx="1260" cy="1815.3" r="10.5" fill="#fff" stroke="#000" stroke-width="2.4"/>
<circle cx="1276.5" cy="1810.6" r="10.5" fill="#fff" stroke="#000" stroke-width="2.4"/>
<circle cx="1276.5" cy="1834.1" r="10.5" fill="#fff" stroke="#000" stroke-width="2.4"/>
<circle cx="1244.7" cy="1842.4" r="10.5" fill="#fff" stroke="#000" stroke-width="2.4"/>
<circle cx="1244.7" cy="1865.9" r="10.5" fill="#fff" stroke="#000" stroke-width="2.4"/>
<circle cx="1276.5" cy="1860" r="10.5" fill="#fff" stroke="#000" stroke-width="2.4"/>
<circle cx="1293" cy="1858.8" r="10.5" fill="#fff" stroke="#000" stroke-width="2.4"/>
<line x1="1166" y1="1833" x2="1166" y2="1848" stroke="#000" stroke-width="3"/>
<line x1="1149" y1="1833" x2="1183" y2="1833" stroke="#000" stroke-width="3"/>
<line x1="1149" y1="1848" x2="1183" y2="1848" stroke="#000" stroke-width="3"/>
<line x1="1270" y1="1797.6" x2="1270" y2="1826" stroke="#000" stroke-width="3"/>
<line x1="1253" y1="1797.6" x2="1287" y2="1797.6" stroke="#000" stroke-width="3"/>
<line x1="1253" y1="1826" x2="1287" y2="1826" stroke="#000" stroke-width="3"/>
<text x="466.7" y="1509.3" textLength="228" lengthAdjust="spacingAndGlyphs">1.86E-06</text>
<line x1="435.8" y1="1522.5" x2="715" y2="1522.5" stroke="#000" stroke-width="3"/>
<text x="353.5" y="1588.2" textLength="231" lengthAdjust="spacingAndGlyphs">3.58E-05</text>
<line x1="331.5" y1="1600" x2="610.8" y2="1600" stroke="#000" stroke-width="3"/>
<text x="538.8" y="1670.5" textLength="233" lengthAdjust="spacingAndGlyphs">4.39E-02</text>
<line x1="609.5" y1="1683.8" x2="715" y2="1683.8" stroke="#000" stroke-width="3"/>
<text x="306.8" y="1821.5" textLength="144" lengthAdjust="spacingAndGlyphs">&gt;0.99</text>
<line x1="331.5" y1="1833.4" x2="437.2" y2="1833.4" stroke="#000" stroke-width="3"/>
<text x="1020.6" y="1501.1" textLength="231" lengthAdjust="spacingAndGlyphs">5.00E-04</text>
<line x1="990.4" y1="1512.2" x2="1269.7" y2="1512.2" stroke="#000" stroke-width="3"/>
<text x="916.3" y="1588.2" textLength="231" lengthAdjust="spacingAndGlyphs">1.37E-02</text>
<line x1="885.4" y1="1600" x2="1165.4" y2="1600" stroke="#000" stroke-width="3"/>
<text x="1092.7" y="1670.5" textLength="231" lengthAdjust="spacingAndGlyphs">9.84E-01</text>
<line x1="1164.7" y1="1683.8" x2="1269.7" y2="1683.8" stroke="#000" stroke-width="3"/>
<text x="866" y="1905.5" textLength="144" lengthAdjust="spacingAndGlyphs">&gt;0.99</text>
<line x1="886.8" y1="1912.3" x2="991.8" y2="1912.3" stroke="#000" stroke-width="3"/>
<text x="382.3" y="2307" textLength="148.2" lengthAdjust="spacingAndGlyphs" text-anchor="middle">Sham</text>
<text x="660.3" y="2307" textLength="109.3" lengthAdjust="spacingAndGlyphs" text-anchor="middle">TAC</text>
<text x="938.2" y="2307" textLength="148.2" lengthAdjust="spacingAndGlyphs" text-anchor="middle">Sham</text>
<text x="1216.2" y="2307" textLength="109.3" lengthAdjust="spacingAndGlyphs" text-anchor="middle">TAC</text>
<text x="527" y="2380" textLength="182.9" lengthAdjust="spacingAndGlyphs" text-anchor="middle">1-week</text>
<text x="1084.4" y="2380" textLength="211.3" lengthAdjust="spacingAndGlyphs" text-anchor="middle">4-weeks</text>
<text transform="translate(104 1941.5) rotate(-90)" textLength="381.4" lengthAdjust="spacingAndGlyphs" text-anchor="middle">HW/BW (mg/g)</text>
<text x="1392" y="1330.8" font-size="85" font-weight="bold">D</text>
<filter id="hb" x="-50%" y="-50%" width="200%" height="200%"><feGaussianBlur stdDeviation="3"/></filter>
<filter id="gblur" x="-2%" y="-2%" width="104%" height="104%"><feGaussianBlur stdDeviation="0.7"/></filter>
<clipPath id="h1"><rect x="1614.8" y="1507.8" width="375.5" height="366.3"/></clipPath>
<g clip-path="url(#h1)">
<rect x="1614.8" y="1507.8" width="375.5" height="366.3" fill="#16331a"/>
<g fill="none" stroke-linecap="round">
<path d="M1755 1685 1745 1681M1755 1685 1747 1699M1747 1699 1736 1701M1745 1681 1729 1692M1911 1707 1918 1701M1918 1701 1930 1699M1930 1699 1933 1706M1915 1835 1921 1824M1922 1730 1935 1718M1618 1616 1618 1616M1618 1616 1605 1624M1618 1633 1607 1633M1652 1877 1656 1870M1634 1876 1633 1874M1660 1884 1671 1875M1626 1874 1633 1874M1841 1815 1826 1821M1825 1822 1826 1821M1745 1670 1745 1656M1729 1662 1745 1656M1983 1773 1965 1772M1992 1721 1989 1728M1696 1722 1697 1721M1735 1703 1718 1712M1724 1683 1710 1681M1697 1721 1703 1702M1718 1712 1717 1718M1683 1669 1691 1666M1679 1683 1684 1684M1694 1676 1709 1672M1684 1684 1691 1690M1618 1792 1628 1780M1612 1807 1599 1810M1846 1820 1860 1818M1864 1814 1862 1803M1883 1820 1873 1813M1804 1858 1797 1865M1819 1865 1816 1859M1813 1838 1826 1848M1813 1838 1825 1828M1840 1839 1835 1844M1863 1800 1862 1803M1899 1776 1893 1785M1883 1787 1872 1782M1617 1586 1615 1573M1609 1601 1624 1601M1634 1681 1641 1689M1624 1688 1626 1702M1613 1691 1606 1682M1671 1875 1684 1877M1684 1877 1684 1879M1630 1798 1633 1811M1669 1767 1671 1767M1694 1830 1679 1831M1675 1822 1682 1813M1682 1813 1692 1812M1691 1666 1699 1659M1707 1660 1699 1659M1633 1638 1620 1640M1620 1640 1616 1646M1618 1633 1620 1640M1609 1664 1620 1654M1632 1660 1630 1655M1868 1711 1860 1715M1868 1711 1866 1699M1847 1709 1849 1716M1875 1691 1873 1687M1851 1695 1852 1701M1992 1721 1991 1712M1902 1775 1916 1782M1917 1749 1918 1755M1956 1768 1946 1761M1937 1774 1934 1766M1946 1761 1935 1766M1935 1766 1934 1766M1963 1767 1956 1768M1950 1783 1959 1781M1950 1783 1945 1775M1917 1787 1930 1788M1951 1753 1946 1761M1957 1740 1958 1728M1957 1740 1973 1740M1973 1740 1980 1731M1980 1731 1973 1723M1973 1723 1964 1722M1966 1761 1985 1760M1951 1753 1967 1757M1986 1771 1983 1773M1633 1823 1631 1814M1612 1826 1615 1830M1696 1722 1683 1722M1655 1685 1662 1676M1679 1683 1677 1684M1662 1674 1648 1670M1641 1689 1655 1685M1615 1749 1629 1745M1615 1749 1610 1756M1632 1748 1624 1761M1646 1773 1644 1762M1625 1774 1631 1767M1610 1760 1605 1770M1782 1878 1768 1888M1825 1822 1807 1825M1811 1838 1804 1830M1864 1847 1859 1847M1898 1793 1893 1801M1893 1801 1899 1810M1883 1787 1880 1798M1884 1802 1893 1801M1917 1787 1916 1788M1912 1823 1907 1809M1941 1790 1947 1803M1941 1790 1931 1789M1946 1804 1928 1809M1930 1788 1931 1789M1924 1823 1933 1826M1884 1694 1875 1691M1907 1691 1900 1703M1918 1688 1907 1691M1911 1707 1901 1704M1879 1727 1880 1718M1881 1731 1890 1730M1864 1726 1860 1715M1905 1744 1894 1742M1894 1759 1886 1765M1894 1759 1887 1748M1880 1750 1873 1758M1896 1758 1894 1759M1886 1769 1886 1765M1894 1742 1887 1748M1874 1738 1880 1750M1874 1738 1881 1731M1850 1780 1856 1774M1863 1800 1862 1795M1836 1781 1850 1780M1626 1588 1629 1594M1602 1556 1611 1546M1611 1562 1605 1561M1608 1534 1611 1546M1608 1534 1614 1528M1628 1534 1624 1545M1614 1528 1618 1528M1711 1863 1718 1870M1711 1863 1703 1861M1703 1861 1696 1867M1716 1884 1714 1875M1721 1842 1722 1828M1721 1842 1709 1847M1699 1839 1701 1840M1649 1820 1646 1808M1646 1808 1653 1801M1645 1829 1655 1830M1681 1803 1682 1813M1641 1792 1653 1801M1668 1865 1669 1864M1691 1869 1680 1861M1669 1864 1680 1861M1680 1861 1686 1852M1703 1858 1709 1847M1655 1845 1659 1839M1655 1845 1658 1852M1658 1852 1665 1852M1669 1864 1665 1852M1722 1828 1730 1822M1726 1811 1730 1822M1790 1834 1788 1846M1697 1764 1694 1755M1713 1735 1716 1738M1704 1786 1692 1795M1731 1792 1714 1795M1729 1808 1726 1811M1704 1779 1688 1780M1800 1586 1800 1575M1827 1511 1826 1507M1845 1508 1840 1512M1845 1508 1848 1492M1826 1507 1832 1492M1792 1529 1792 1517M1792 1529 1784 1538M1729 1662 1726 1654M1726 1654 1716 1653M1943 1719 1946 1716M1755 1631 1746 1647M1758 1652 1770 1638M1779 1669 1763 1675M1779 1669 1780 1666M1772 1658 1764 1659M1758 1652 1764 1659M1836 1708 1847 1709M1837 1694 1839 1685M1831 1698 1823 1698M1823 1698 1820 1694M1820 1694 1822 1686M1814 1712 1823 1698M1880 1677 1870 1669M1930 1699 1937 1688M1937 1688 1945 1689M1996 1620 1984 1620M1983 1637 1980 1634M1997 1634 1994 1637M1986 1687 1970 1690M1968 1704 1965 1699M1985 1711 1979 1705M2002 1675 1990 1680M1990 1680 1986 1687M1979 1673 1990 1680M1968 1683 1970 1690M1963 1711 1968 1704M1958 1681 1945 1689M1816 1871 1815 1881M1747 1699 1753 1704M1718 1720 1731 1719M1738 1715 1731 1719M1731 1719 1733 1732M1693 1739 1685 1740M1673 1734 1685 1740M1678 1759 1675 1752M1694 1755 1694 1755M1676 1702 1669 1711M1674 1717 1669 1711M1669 1711 1657 1712M1619 1728 1625 1730M1619 1728 1618 1723M1625 1730 1644 1720M1618 1723 1627 1713M1627 1713 1636 1713M1611 1738 1615 1749M1821 1810 1819 1809M1819 1809 1805 1818M1785 1828 1787 1823M1805 1818 1797 1817M1787 1823 1797 1817M1798 1806 1798 1807M1797 1817 1798 1807M1787 1823 1777 1816M1798 1807 1781 1809M1837 1871 1834 1865M1834 1865 1840 1857M1870 1869 1866 1861M1854 1865 1847 1873M1881 1853 1888 1857M1869 1856 1866 1861M1848 1856 1854 1865M1841 1886 1848 1875M1893 1873 1882 1872M1893 1873 1901 1865M1913 1873 1911 1866M1903 1852 1901 1853M1864 1726 1852 1736M1874 1738 1862 1743M1862 1743 1852 1736M1846 1720 1847 1736M1852 1736 1847 1736M1618 1528 1633 1517M1613 1526 1598 1521M1610 1756 1599 1754M1620 1864 1604 1866M1626 1857 1623 1847M1623 1847 1609 1847M1772 1857 1763 1865M1782 1869 1765 1873M1782 1869 1784 1867M1797 1865 1784 1867M1767 1850 1769 1840M1785 1828 1767 1836M1705 1766 1717 1758M1719 1774 1726 1764M1717 1758 1720 1757M1697 1764 1705 1766M1721 1778 1719 1774M1723 1739 1726 1746M1651 1599 1641 1611M1649 1660 1650 1644M1800 1586 1802 1586M1822 1575 1816 1569M1763 1533 1751 1539M1691 1566 1691 1566M1698 1580 1701 1575M1667 1505 1659 1495M1651 1515 1648 1503M1678 1505 1683 1495M1633 1501 1630 1506M1633 1517 1645 1520M1645 1520 1651 1515M1645 1520 1643 1529M1678 1505 1679 1506M1679 1506 1671 1518M1666 1521 1671 1518M1852 1531 1861 1523M1842 1518 1839 1529M1823 1544 1811 1554M1860 1541 1852 1531M1840 1532 1834 1544M1924 1520 1918 1514M1807 1527 1809 1537M1825 1529 1817 1536M1825 1529 1820 1518M1809 1537 1817 1536M1823 1544 1817 1536M1798 1511 1798 1511M1783 1555 1792 1546M1783 1567 1801 1558M1804 1554 1798 1546M1768 1550 1769 1554M1769 1554 1783 1555M1766 1570 1781 1566M1776 1587 1763 1585M1766 1570 1761 1579M1801 1573 1801 1558M1816 1569 1819 1561M1811 1554 1804 1554M1796 1505 1798 1497M1772 1514 1762 1519M1758 1507 1773 1499M1790 1603 1806 1601M1770 1638 1774 1639M1779 1649 1774 1639M1769 1603 1778 1611M1778 1611 1790 1604M1838 1672 1845 1664M1890 1668 1907 1667M1880 1677 1888 1674M1889 1661 1890 1668M1889 1661 1900 1651M1945 1633 1944 1633M1927 1642 1931 1651M1951 1627 1945 1633M1917 1642 1918 1630M1911 1656 1924 1658M1917 1642 1909 1651M1924 1658 1931 1651M1960 1646 1955 1661M1960 1646 1973 1648M1975 1655 1973 1648M1975 1655 1967 1663M1959 1665 1955 1661M1987 1654 1975 1655M1979 1672 1990 1663M1979 1672 1979 1673M1958 1681 1957 1668M1957 1668 1959 1665M1808 1696 1801 1687M1801 1687 1791 1692M1753 1704 1764 1705M1742 1715 1750 1722M1764 1705 1766 1715M1789 1706 1777 1714M1768 1715 1766 1715M1797 1720 1783 1721M1845 1737 1847 1736M1830 1736 1814 1729M1814 1729 1810 1732M1796 1729 1786 1736M1786 1736 1797 1748M1632 1748 1643 1751M1651 1758 1646 1758M1643 1733 1650 1721M1660 1726 1663 1735M1650 1740 1663 1735M1657 1712 1650 1721M1829 1773 1825 1775M1818 1793 1815 1789M1825 1775 1815 1789M1792 1793 1802 1787M1787 1793 1779 1783M1803 1774 1802 1787M1803 1774 1785 1777M1780 1799 1787 1793M1774 1783 1769 1775M1769 1775 1776 1766M1785 1766 1785 1777M1756 1775 1769 1775M1774 1783 1767 1788M1735 1789 1747 1789M1736 1822 1751 1806M1763 1819 1777 1816M1933 1865 1925 1873M1929 1855 1920 1857M1915 1835 1919 1841M1961 1798 1967 1808M1977 1808 1982 1811M1982 1811 1985 1811M1967 1808 1959 1820M1969 1825 1959 1820M1933 1865 1941 1866M1947 1872 1943 1884M1859 1751 1840 1754M1851 1768 1837 1766M1837 1766 1836 1757M1836 1757 1840 1754M1873 1758 1859 1752M1862 1743 1859 1751M1616 1513 1605 1508M1752 1853 1754 1864M1750 1852 1734 1857M1748 1868 1733 1870M1763 1865 1754 1864M1730 1885 1733 1870M1718 1870 1731 1868M1758 1826 1763 1835M1767 1836 1763 1835M1643 1630 1647 1631M1654 1615 1642 1615M1659 1622 1647 1631M1650 1644 1654 1640M1670 1665 1664 1654M1681 1646 1668 1647M1664 1654 1668 1647M1662 1674 1670 1665M1649 1660 1664 1654M1662 1639 1668 1647M1654 1615 1666 1607M1661 1582 1670 1571M1682 1573 1670 1571M1672 1588 1677 1587M1751 1540 1729 1549M1707 1550 1712 1544M1718 1561 1721 1559M1629 1551 1632 1551M1641 1531 1641 1545M1717 1526 1715 1527M1666 1565 1672 1556M1857 1518 1863 1508M1714 1506 1723 1508M1775 1615 1778 1611M1795 1615 1788 1623M1900 1651 1896 1647M1785 1679 1800 1673M1917 1500 1902 1509M1957 1668 1941 1676M1918 1688 1925 1682M1937 1688 1934 1684M2001 1602 1992 1605M2004 1589 1986 1590M1981 1597 1986 1590M1971 1616 1969 1606M1971 1602 1969 1606M1971 1602 1981 1597M1942 1604 1948 1603M1948 1620 1938 1616M1957 1590 1948 1603M1951 1627 1948 1620M1928 1628 1938 1616M1923 1611 1916 1623M1919 1605 1922 1601M1937 1595 1943 1587M1956 1590 1957 1590M1751 1738 1760 1736M1768 1715 1767 1727M1781 1729 1785 1736M1827 1755 1809 1767M1806 1764 1808 1767M1808 1767 1809 1767M1808 1744 1810 1746M1793 1761 1806 1764M1756 1775 1755 1772M1745 1755 1740 1763M1980 1871 1995 1869M1919 1841 1933 1841M1933 1826 1935 1839M1935 1839 1933 1841M1742 1603 1748 1593M1753 1610 1757 1605M1754 1614 1753 1610M1763 1585 1758 1591M1748 1593 1734 1590M1745 1610 1729 1617M1722 1580 1723 1580M1751 1551 1749 1554M1647 1561 1636 1562M1647 1561 1654 1569M1649 1577 1654 1569M1626 1588 1633 1577M1617 1571 1630 1568M1705 1519 1694 1523M1670 1552 1658 1550M1661 1533 1673 1533M1641 1545 1655 1544M1661 1531 1661 1533M1860 1541 1866 1541M1861 1523 1874 1521M1866 1541 1870 1536M1871 1507 1878 1498M1892 1526 1880 1519M1902 1509 1895 1505M1820 1589 1825 1581M1832 1556 1837 1566M1795 1641 1794 1632M1902 1581 1915 1572M1890 1572 1901 1563M1934 1538 1936 1548M1923 1539 1913 1548M1932 1555 1914 1560M1951 1572 1940 1583M1936 1564 1928 1575M1957 1570 1962 1562M1957 1570 1951 1572M1957 1554 1941 1564M1957 1554 1957 1554M1957 1570 1962 1576M1925 1585 1929 1581M1952 1548 1957 1554M2006 1580 1993 1575M1762 1763 1757 1755M1776 1766 1773 1761M1755 1772 1762 1763M1792 1753 1777 1754M1760 1736 1770 1743M1785 1736 1774 1743M1960 1869 1965 1864M1980 1871 1976 1863M1995 1869 2000 1863M1729 1617 1725 1613M1709 1601 1709 1589M1709 1601 1701 1604M1684 1596 1684 1596M1706 1630 1701 1637M1717 1630 1721 1638M1702 1644 1701 1637M1715 1645 1721 1638M1686 1640 1701 1637M1716 1653 1715 1645M1906 1533 1898 1543M1888 1532 1888 1543M1823 1675 1821 1663M1845 1664 1841 1659M1814 1642 1795 1641M1794 1632 1808 1625M1806 1601 1813 1607M1826 1600 1819 1606M1910 1604 1897 1616M1923 1506 1938 1506M2001 1559 1993 1568M2001 1559 1994 1551M1994 1551 1982 1553M1993 1575 1993 1568M1962 1562 1975 1560M1957 1554 1972 1544M1975 1544 1972 1544M1975 1544 1982 1553M1933 1850 1952 1849M1959 1841 1952 1849M1952 1856 1961 1858M1682 1629 1694 1622M1682 1629 1673 1628M1686 1640 1682 1629M1675 1609 1675 1609M1888 1543 1884 1545M1883 1558 1878 1565M1896 1647 1884 1645M1875 1652 1884 1645M1829 1646 1839 1641M1849 1625 1855 1617M1939 1515 1955 1512M1972 1544 1968 1535M1958 1537 1948 1529M1968 1535 1975 1525M1969 1825 1972 1830M1961 1858 1969 1847M1844 1549 1852 1559M1861 1645 1868 1639M1868 1639 1882 1636M1895 1627 1886 1630M1871 1603 1864 1615M1888 1612 1888 1604M1870 1621 1874 1621M1897 1616 1888 1612M1855 1617 1864 1615M1845 1611 1856 1595M1877 1584 1876 1590M1988 1535 2000 1537M1982 1525 1992 1519M1992 1519 2005 1519M1976 1863 1982 1854M1982 1854 1979 1848M1861 1574 1848 1574M1871 1566 1861 1574M1877 1584 1862 1580M1997 1502 1990 1512M1992 1519 1990 1512M1982 1830 1984 1839M1982 1830 1991 1823M1991 1823 2002 1822M1979 1848 1984 1839" stroke="#2c9438" stroke-width="1.9"/>
<path d="M1914 1715 1930 1711M1933 1706 1930 1711M1912 1823 1921 1824M1912 1823 1900 1830M1906 1837 1900 1830M1922 1730 1916 1730M1618 1616 1622 1626M1622 1626 1618 1633M1656 1870 1646 1862M1671 1875 1668 1865M1634 1890 1634 1876M1626 1874 1614 1884M1839 1836 1825 1828M1839 1801 1843 1808M1839 1801 1821 1810M1728 1692 1729 1692M1728 1692 1724 1683M1743 1672 1745 1670M1727 1667 1729 1662M1977 1789 1966 1792M1966 1792 1959 1781M1965 1772 1959 1781M1989 1728 2000 1734M1713 1735 1697 1736M1697 1736 1696 1722M1697 1721 1717 1718M1735 1703 1736 1701M1710 1681 1703 1691M1703 1691 1706 1700M1706 1700 1703 1702M1694 1676 1684 1684M1709 1672 1711 1673M1630 1798 1622 1798M1618 1792 1622 1798M1609 1789 1618 1792M1889 1820 1883 1820M1889 1820 1893 1830M1887 1837 1871 1840M1871 1840 1869 1831M1869 1831 1861 1828M1840 1839 1846 1838M1840 1839 1839 1836M1846 1838 1861 1828M1797 1874 1816 1871M1816 1871 1819 1865M1811 1838 1799 1849M1799 1849 1804 1858M1816 1859 1826 1848M1826 1848 1835 1844M1922 1730 1935 1737M1935 1739 1935 1737M1873 1813 1884 1802M1935 1718 1943 1719M1901 1846 1888 1841M1899 1776 1886 1769M1886 1769 1872 1782M1618 1616 1625 1607M1625 1607 1624 1601M1614 1674 1606 1682M1632 1681 1634 1681M1632 1681 1624 1688M1641 1689 1640 1696M1647 1662 1648 1670M1647 1662 1632 1660M1613 1691 1624 1688M1669 1895 1684 1879M1697 1889 1684 1879M1618 1816 1631 1814M1631 1814 1633 1811M1655 1776 1655 1783M1646 1773 1637 1783M1655 1783 1641 1792M1669 1767 1655 1776M1671 1767 1673 1769M1668 1787 1673 1769M1683 1786 1668 1787M1683 1786 1688 1780M1673 1769 1688 1773M1679 1831 1675 1822M1616 1646 1620 1654M1620 1654 1630 1655M1630 1655 1637 1648M1866 1699 1852 1701M1875 1691 1866 1699M1851 1695 1858 1684M1873 1687 1858 1684M2004 1705 1991 1712M1902 1775 1910 1764M1916 1782 1924 1771M1924 1771 1910 1764M1941 1744 1930 1756M1930 1756 1918 1755M1905 1744 1910 1742M1918 1755 1910 1762M1945 1775 1956 1768M1924 1771 1934 1766M1951 1745 1941 1744M1951 1745 1957 1740M1945 1726 1958 1728M1989 1728 1980 1731M1985 1711 1973 1723M1976 1746 1981 1747M1981 1747 1989 1753M1966 1761 1967 1757M2000 1734 1981 1747M1963 1767 1966 1761M1618 1816 1612 1826M1597 1825 1612 1826M1623 1830 1615 1830M1687 1707 1681 1719M1681 1719 1683 1722M1677 1684 1662 1676M1658 1698 1669 1694M1676 1702 1669 1694M1628 1780 1625 1774M1610 1776 1625 1774M1629 1745 1632 1748M1610 1760 1624 1761M1871 1840 1864 1847M1869 1856 1864 1847M1898 1793 1916 1788M1916 1788 1910 1807M1907 1809 1910 1807M1899 1776 1902 1775M1931 1789 1924 1807M1946 1804 1947 1803M1966 1792 1961 1798M1950 1783 1941 1790M1961 1798 1947 1803M1924 1823 1921 1824M1933 1826 1947 1818M1884 1694 1886 1702M1907 1691 1898 1683M1901 1704 1900 1703M1879 1727 1881 1731M1880 1718 1895 1713M1895 1713 1899 1726M1899 1726 1890 1730M1864 1726 1879 1727M1886 1765 1874 1760M1887 1748 1880 1750M1874 1760 1873 1758M1862 1795 1846 1793M1871 1782 1858 1774M1856 1774 1858 1774M1872 1782 1871 1782M1839 1801 1840 1797M1874 1760 1858 1774M1830 1791 1836 1781M1624 1601 1629 1594M1624 1545 1629 1551M1691 1869 1696 1867M1691 1869 1684 1877M1645 1829 1644 1826M1623 1830 1628 1841M1640 1838 1628 1841M1653 1801 1661 1800M1673 1822 1655 1830M1673 1822 1661 1815M1681 1803 1663 1802M1633 1811 1646 1808M1683 1786 1688 1796M1681 1803 1688 1796M1703 1861 1703 1858M1703 1858 1686 1852M1699 1839 1685 1849M1686 1852 1685 1849M1659 1839 1678 1832M1655 1830 1659 1839M1643 1844 1655 1845M1646 1862 1658 1852M1706 1820 1714 1812M1678 1759 1694 1755M1697 1736 1693 1739M1706 1750 1694 1755M1708 1802 1705 1803M1714 1795 1712 1789M1692 1812 1705 1803M1731 1792 1729 1808M1688 1796 1692 1795M1735 1789 1732 1781M1800 1575 1787 1574M1776 1587 1787 1574M1772 1534 1777 1538M1707 1660 1716 1653M1749 1650 1745 1656M1726 1654 1734 1647M1933 1706 1948 1702M1946 1716 1948 1702M1749 1650 1758 1652M1755 1631 1765 1631M1780 1666 1772 1658M1759 1664 1764 1659M1756 1685 1763 1675M1756 1685 1768 1689M1755 1685 1756 1685M1849 1716 1846 1720M1835 1724 1846 1720M1839 1685 1822 1686M1851 1695 1837 1694M1836 1708 1831 1698M1842 1682 1856 1681M1983 1637 1994 1637M1970 1634 1980 1634M1981 1616 1971 1616M1991 1694 1979 1705M1991 1694 1986 1687M1979 1705 1968 1704M2001 1693 1991 1694M1968 1683 1958 1681M1951 1699 1965 1699M1814 1712 1802 1712M1808 1696 1820 1694M1753 1704 1742 1715M1738 1715 1742 1715M1716 1738 1723 1739M1683 1722 1673 1734M1675 1752 1685 1740M1681 1719 1674 1717M1625 1703 1609 1705M1625 1703 1626 1702M1611 1738 1619 1728M1629 1745 1632 1737M1807 1825 1805 1818M1830 1791 1818 1793M1818 1793 1815 1799M1790 1834 1785 1828M1828 1880 1837 1871M1858 1878 1848 1875M1880 1872 1882 1872M1882 1872 1888 1857M1873 1887 1880 1872M1913 1873 1899 1883M1925 1879 1925 1873M1888 1857 1901 1853M1901 1865 1901 1853M1901 1865 1911 1866M1616 1513 1613 1526M1620 1864 1626 1857M1626 1874 1620 1864M1628 1841 1623 1847M1780 1855 1772 1857M1780 1855 1784 1867M1765 1873 1763 1865M1788 1848 1780 1855M1721 1842 1722 1842M1722 1842 1729 1852M1788 1846 1769 1840M1767 1836 1769 1840M1705 1766 1708 1775M1719 1774 1708 1775M1704 1779 1708 1775M1726 1746 1720 1757M1639 1622 1643 1630M1629 1594 1646 1592M1646 1592 1651 1599M1637 1648 1650 1644M1802 1586 1822 1575M1816 1569 1801 1573M1768 1550 1777 1538M1751 1539 1751 1540M1715 1570 1718 1561M1715 1570 1701 1575M1707 1557 1691 1566M1682 1573 1680 1582M1667 1505 1656 1514M1678 1505 1667 1505M1695 1493 1701 1505M1691 1511 1701 1505M1643 1529 1661 1531M1666 1521 1661 1531M1857 1518 1842 1518M1839 1529 1840 1532M1811 1554 1819 1561M1916 1532 1924 1520M1916 1532 1906 1533M1901 1523 1906 1517M1906 1517 1918 1514M1820 1518 1811 1521M1792 1529 1807 1527M1827 1511 1820 1518M1840 1512 1842 1518M1781 1566 1783 1567M1763 1565 1766 1570M1787 1574 1783 1567M1809 1537 1798 1546M1731 1638 1734 1647M1731 1638 1739 1630M1751 1627 1739 1630M1796 1505 1776 1506M1782 1519 1772 1514M1775 1500 1776 1506M1759 1518 1758 1507M1701 1505 1712 1504M1802 1586 1810 1591M1810 1591 1806 1601M1765 1631 1775 1622M1754 1614 1775 1615M1940 1531 1934 1538M1924 1520 1934 1520M1862 1670 1856 1663M1856 1663 1845 1664M1898 1682 1908 1674M1889 1661 1879 1662M1911 1656 1907 1667M1911 1656 1909 1651M1909 1651 1900 1651M1985 1794 1993 1795M1993 1795 1999 1788M2009 1649 1995 1644M1995 1644 1994 1637M1948 1641 1942 1649M1948 1641 1945 1633M1942 1649 1931 1651M1959 1644 1948 1641M1959 1644 1970 1634M1951 1627 1963 1623M1918 1630 1918 1629M1928 1628 1918 1629M1928 1628 1944 1633M1967 1663 1959 1665M1959 1644 1960 1646M1987 1654 1990 1663M1990 1663 2004 1664M1791 1692 1787 1695M1787 1695 1789 1706M1770 1695 1764 1705M1746 1730 1750 1722M1743 1747 1751 1738M1746 1730 1751 1738M1750 1722 1766 1715M1777 1714 1768 1715M1802 1712 1797 1720M1777 1714 1783 1721M1835 1724 1830 1736M1845 1737 1831 1739M1797 1720 1796 1729M1797 1748 1808 1744M1667 1736 1664 1749M1669 1767 1651 1758M1664 1749 1651 1758M1643 1751 1646 1758M1667 1736 1663 1735M1792 1793 1787 1793M1815 1789 1802 1787M1780 1799 1781 1809M1774 1783 1779 1783M1749 1790 1767 1788M1749 1790 1749 1804M1767 1788 1766 1802M1780 1799 1766 1802M1736 1822 1730 1822M1763 1819 1760 1808M1933 1865 1929 1855M1911 1866 1920 1857M1903 1852 1907 1851M1919 1841 1907 1851M1985 1794 1977 1808M1956 1821 1959 1820M1947 1872 1960 1869M1986 1887 1998 1879M1627 1497 1605 1508M1752 1853 1750 1852M1754 1864 1748 1868M1767 1850 1752 1853M1748 1882 1748 1868M1729 1852 1730 1852M1730 1852 1734 1857M1744 1828 1740 1834M1744 1828 1758 1826M1736 1822 1744 1828M1722 1842 1740 1834M1763 1819 1758 1826M1750 1852 1752 1845M1654 1615 1659 1622M1683 1669 1676 1663M1651 1599 1659 1599M1666 1607 1659 1599M1661 1582 1672 1588M1661 1582 1651 1583M1725 1538 1727 1534M1751 1539 1737 1530M1759 1518 1743 1521M1729 1549 1728 1551M1721 1559 1728 1551M1632 1551 1641 1545M1712 1544 1705 1534M1691 1566 1685 1558M1707 1550 1694 1546M1685 1558 1672 1556M1750 1502 1739 1514M1737 1495 1723 1508M1723 1508 1726 1512M1758 1507 1750 1502M1743 1521 1739 1514M1714 1506 1712 1504M1717 1526 1726 1512M1714 1506 1705 1519M1775 1622 1788 1623M1791 1631 1788 1623M1790 1604 1795 1615M1918 1630 1899 1638M1838 1672 1823 1675M1801 1687 1805 1681M1918 1514 1923 1506M1922 1500 1923 1506M1921 1674 1925 1682M1934 1684 1941 1676M1908 1674 1921 1674M1969 1606 1954 1608M1957 1590 1962 1591M1918 1629 1916 1623M1923 1611 1919 1605M1783 1721 1781 1729M1767 1727 1781 1729M1824 1746 1827 1755M1810 1746 1806 1764M1831 1739 1824 1746M1797 1748 1792 1753M1792 1753 1793 1761M1755 1772 1741 1768M1726 1764 1740 1763M1741 1768 1740 1763M1933 1850 1933 1841M1956 1821 1948 1835M1948 1835 1935 1839M1745 1610 1742 1603M1769 1603 1757 1605M1761 1579 1748 1579M1734 1589 1734 1590M1739 1630 1728 1620M1731 1563 1743 1554M1736 1570 1743 1569M1728 1551 1743 1554M1715 1570 1722 1580M1748 1579 1743 1569M1633 1577 1630 1568M1651 1583 1649 1577M1705 1534 1693 1535M1693 1535 1694 1523M1693 1535 1691 1537M1691 1511 1690 1520M1671 1518 1681 1523M1690 1520 1694 1523M1670 1552 1680 1540M1655 1544 1658 1550M1655 1544 1661 1533M1673 1533 1680 1540M1878 1498 1895 1504M1880 1519 1895 1505M1892 1526 1888 1532M1888 1532 1870 1536M1901 1523 1892 1526M1810 1591 1820 1589M1823 1575 1825 1581M1823 1575 1837 1566M1800 1673 1801 1671M1801 1671 1792 1661M1791 1647 1779 1649M1791 1647 1795 1658M1791 1631 1794 1632M1902 1581 1890 1572M1914 1560 1914 1560M1913 1548 1914 1560M1910 1604 1905 1600M1922 1601 1925 1585M1925 1585 1910 1589M1905 1600 1910 1589M1936 1564 1941 1564M1956 1590 1962 1576M1910 1589 1901 1581M1993 1575 1984 1585M1962 1591 1976 1583M1962 1576 1975 1573M1773 1761 1762 1763M1757 1755 1770 1743M1777 1754 1774 1743M1745 1755 1757 1755M1965 1864 1976 1863M1700 1587 1709 1589M1725 1613 1731 1599M1715 1612 1709 1601M1742 1603 1731 1599M1709 1601 1709 1601M1701 1604 1684 1596M1666 1607 1675 1609M1706 1630 1717 1630M1702 1644 1715 1645M1681 1646 1686 1640M1913 1548 1901 1547M1901 1563 1897 1555M1897 1555 1901 1547M1901 1547 1898 1543M1814 1662 1810 1652M1828 1659 1829 1646M1829 1646 1815 1644M1815 1644 1810 1652M1801 1671 1814 1662M1795 1658 1810 1652M1841 1659 1828 1659M1819 1628 1808 1625M1819 1628 1823 1615M1823 1615 1819 1606M1806 1614 1813 1607M1813 1607 1819 1606M1820 1629 1814 1642M1820 1589 1826 1600M1826 1600 1831 1599M1823 1615 1840 1613M1840 1613 1842 1611M1905 1600 1894 1600M1993 1568 1978 1570M1978 1570 1975 1560M1982 1553 1975 1560M1948 1835 1959 1841M1952 1849 1952 1856M1965 1864 1961 1858M1673 1628 1670 1622M1670 1622 1675 1609M1702 1624 1694 1622M1701 1604 1693 1613M1897 1555 1883 1558M1886 1572 1878 1565M1868 1546 1884 1545M1856 1663 1864 1652M1841 1659 1848 1642M1848 1642 1861 1645M1864 1652 1861 1645M1879 1662 1875 1652M1849 1625 1832 1627M1839 1641 1831 1627M1839 1641 1847 1641M1831 1627 1832 1627M1847 1641 1849 1636M1848 1642 1847 1641M1840 1613 1832 1627M1842 1611 1845 1611M1955 1512 1960 1506M1960 1506 1958 1503M1940 1531 1948 1529M1955 1512 1953 1524M1948 1529 1953 1524M1953 1524 1972 1521M1960 1506 1974 1508M1972 1521 1974 1508M1959 1841 1961 1840M1961 1840 1969 1847M1868 1546 1863 1554M1852 1559 1863 1554M1849 1636 1867 1626M1868 1639 1867 1626M1871 1603 1888 1604M1864 1615 1870 1621M1871 1603 1870 1597M1870 1597 1856 1595M1893 1590 1876 1590M1870 1597 1876 1590M1975 1544 1988 1535M1975 1525 1982 1525M1994 1551 2000 1537M1862 1580 1855 1593M1842 1591 1855 1593M1974 1508 1985 1496M1974 1508 1974 1508M1972 1830 1982 1830" stroke="#3ab548" stroke-width="2.4"/>
<path d="M1729 1692 1736 1701M1914 1715 1911 1707M1915 1835 1906 1837M1914 1715 1910 1724M1935 1718 1930 1711M1910 1724 1916 1730M1618 1616 1602 1612M1652 1877 1634 1876M1633 1874 1645 1862M1646 1862 1645 1862M1653 1883 1652 1877M1668 1865 1656 1870M1839 1836 1846 1820M1846 1820 1841 1815M1825 1828 1825 1822M1821 1810 1826 1821M1843 1808 1841 1815M1745 1681 1743 1672M1743 1672 1733 1672M1724 1683 1733 1672M1727 1667 1733 1672M1983 1773 1983 1780M1983 1780 1977 1789M1992 1721 2007 1718M1713 1735 1718 1720M1718 1720 1717 1718M1728 1692 1711 1700M1711 1700 1718 1712M1727 1667 1711 1673M1710 1681 1711 1673M1711 1700 1706 1700M1687 1707 1681 1702M1687 1707 1703 1702M1703 1691 1691 1690M1681 1702 1691 1690M1683 1669 1679 1683M1691 1666 1694 1676M1639 1792 1630 1798M1639 1792 1637 1783M1628 1780 1637 1783M1612 1807 1622 1798M1843 1808 1862 1803M1860 1818 1864 1814M1887 1837 1893 1830M1883 1820 1869 1831M1860 1818 1861 1828M1873 1813 1864 1814M1797 1874 1797 1865M1804 1858 1816 1859M1813 1838 1811 1838M1935 1739 1917 1749M1916 1730 1910 1742M1917 1749 1910 1742M1863 1800 1880 1798M1884 1802 1880 1798M1935 1737 1945 1726M1945 1726 1943 1719M1906 1837 1901 1846M1887 1837 1888 1841M1900 1830 1893 1830M1883 1787 1893 1785M1600 1581 1615 1573M1606 1591 1617 1586M1614 1674 1609 1664M1640 1696 1626 1702M1624 1673 1632 1660M1624 1673 1632 1681M1648 1670 1634 1681M1624 1673 1614 1674M1618 1816 1612 1807M1655 1776 1646 1773M1639 1792 1641 1792M1668 1787 1655 1783M1668 1787 1668 1787M1688 1780 1688 1773M1694 1830 1702 1822M1702 1822 1692 1812M1709 1672 1707 1660M1633 1638 1637 1648M1608 1647 1616 1646M1847 1709 1852 1701M1849 1716 1860 1715M1941 1744 1935 1739M1896 1758 1910 1762M1896 1758 1905 1744M1945 1775 1937 1774M1965 1772 1963 1767M1916 1782 1917 1787M1930 1788 1937 1774M1951 1753 1951 1745M1930 1756 1935 1766M1910 1764 1910 1762M1964 1722 1958 1728M1985 1711 1991 1712M1976 1746 1967 1757M1985 1760 1989 1753M1973 1740 1976 1746M2003 1750 1989 1753M1986 1771 1985 1760M1986 1771 1996 1768M1623 1830 1633 1823M1677 1684 1669 1694M1655 1685 1658 1698M1681 1702 1676 1702M1662 1674 1662 1676M1647 1701 1640 1696M1647 1701 1656 1700M1656 1700 1658 1698M1610 1756 1610 1760M1644 1762 1631 1767M1624 1761 1631 1767M1794 1880 1782 1878M1807 1825 1804 1830M1888 1841 1881 1853M1881 1853 1869 1856M1846 1838 1859 1847M1899 1810 1907 1809M1893 1785 1898 1793M1889 1820 1899 1810M1928 1809 1924 1807M1910 1807 1924 1807M1924 1823 1928 1809M1946 1804 1947 1818M1868 1711 1878 1711M1878 1711 1886 1702M1898 1683 1884 1694M1886 1702 1900 1703M1918 1688 1918 1701M1878 1711 1880 1718M1901 1704 1895 1713M1910 1724 1899 1726M1894 1742 1890 1730M1862 1795 1871 1782M1846 1793 1850 1780M1840 1797 1846 1793M1840 1797 1830 1791M1617 1586 1626 1588M1611 1546 1624 1545M1611 1562 1629 1551M1628 1534 1618 1528M1615 1573 1617 1571M1617 1571 1611 1562M1696 1867 1705 1879M1705 1879 1714 1875M1714 1875 1718 1870M1697 1889 1705 1879M1715 1828 1722 1828M1715 1828 1701 1840M1709 1847 1701 1840M1706 1820 1715 1828M1706 1820 1702 1822M1694 1830 1699 1839M1645 1829 1640 1838M1644 1826 1633 1823M1615 1830 1607 1842M1661 1815 1649 1820M1661 1815 1663 1802M1663 1802 1661 1800M1644 1826 1649 1820M1673 1822 1675 1822M1668 1787 1661 1800M1665 1852 1676 1845M1678 1832 1676 1845M1643 1844 1640 1838M1645 1862 1636 1855M1643 1844 1636 1855M1679 1831 1678 1832M1685 1849 1676 1845M1714 1812 1726 1811M1799 1849 1788 1848M1804 1830 1790 1834M1788 1846 1788 1848M1671 1767 1678 1759M1688 1773 1697 1764M1716 1738 1706 1750M1693 1739 1694 1755M1708 1802 1714 1795M1705 1803 1692 1795M1712 1789 1704 1786M1714 1812 1708 1802M1731 1792 1735 1789M1721 1778 1732 1781M1721 1778 1712 1789M1704 1779 1704 1786M1789 1593 1780 1591M1789 1593 1800 1586M1780 1591 1776 1587M1827 1511 1840 1512M1772 1534 1782 1519M1782 1519 1792 1517M1777 1538 1784 1538M1749 1650 1746 1647M1746 1647 1734 1647M1964 1722 1963 1711M1963 1711 1946 1716M1765 1631 1770 1638M1763 1675 1759 1664M1768 1689 1781 1678M1781 1678 1779 1669M1745 1670 1759 1664M1836 1708 1820 1718M1820 1721 1820 1718M1820 1721 1835 1724M1837 1694 1831 1698M1842 1682 1839 1685M1856 1681 1858 1684M1814 1712 1820 1718M1873 1687 1880 1677M1862 1670 1856 1681M1862 1670 1870 1669M1948 1702 1951 1699M1951 1699 1945 1689M1980 1634 1984 1620M1970 1634 1963 1623M1981 1616 1984 1620M1971 1616 1963 1623M1970 1690 1965 1699M1979 1673 1968 1683M1797 1874 1794 1880M1808 1696 1799 1708M1802 1712 1799 1708M1735 1703 1738 1715M1723 1739 1733 1732M1656 1700 1657 1712M1613 1691 1607 1699M1636 1713 1644 1720M1632 1737 1625 1730M1625 1703 1627 1713M1606 1721 1618 1723M1647 1701 1636 1713M1819 1809 1815 1799M1798 1806 1815 1799M1777 1816 1781 1809M1819 1865 1834 1865M1835 1844 1840 1857M1859 1847 1848 1856M1840 1857 1848 1856M1870 1869 1858 1878M1866 1861 1854 1865M1848 1875 1847 1873M1880 1872 1870 1869M1859 1887 1858 1878M1837 1871 1847 1873M1893 1873 1899 1883M1913 1873 1925 1873M1901 1846 1903 1852M1614 1528 1613 1526M1630 1506 1616 1513M1630 1506 1633 1517M1636 1855 1626 1857M1782 1878 1782 1869M1761 1883 1765 1873M1711 1863 1729 1852M1772 1857 1767 1850M1726 1764 1720 1757M1706 1750 1717 1758M1622 1626 1639 1622M1633 1638 1643 1630M1625 1607 1641 1611M1639 1622 1642 1615M1641 1611 1642 1615M1647 1662 1649 1660M1800 1575 1801 1573M1772 1534 1763 1533M1768 1550 1751 1551M1751 1551 1751 1540M1718 1561 1707 1557M1701 1575 1691 1566M1691 1566 1682 1573M1698 1580 1680 1582M1651 1515 1656 1514M1648 1503 1659 1495M1633 1501 1648 1503M1628 1534 1641 1531M1641 1531 1643 1529M1679 1506 1691 1511M1656 1514 1666 1521M1852 1531 1840 1532M1861 1523 1857 1518M1834 1544 1823 1544M1834 1544 1837 1549M1837 1549 1832 1556M1832 1556 1819 1561M1860 1541 1844 1549M1844 1549 1837 1549M1906 1533 1901 1523M1807 1527 1811 1521M1798 1511 1792 1517M1798 1511 1811 1521M1839 1529 1825 1529M1798 1511 1813 1505M1813 1505 1826 1507M1783 1555 1781 1566M1804 1554 1801 1558M1798 1546 1792 1546M1784 1538 1792 1546M1769 1554 1763 1565M1763 1585 1761 1579M1755 1631 1751 1627M1796 1505 1798 1511M1813 1505 1813 1491M1776 1506 1772 1514M1763 1533 1762 1519M1759 1518 1762 1519M1716 1493 1712 1504M1789 1593 1790 1603M1772 1658 1779 1649M1751 1627 1754 1614M1775 1615 1775 1622M1780 1591 1769 1603M1790 1603 1790 1604M1940 1531 1934 1520M1916 1532 1923 1539M1934 1538 1923 1539M1842 1682 1838 1672M1888 1674 1890 1668M1888 1674 1898 1682M1908 1674 1907 1667M1870 1669 1879 1662M1898 1683 1898 1682M1983 1780 1999 1782M1985 1794 1977 1789M1944 1633 1927 1642M1917 1642 1927 1642M1942 1649 1943 1660M1943 1660 1955 1661M1983 1637 1973 1648M1987 1654 1995 1644M1979 1672 1967 1663M1799 1708 1789 1706M1768 1689 1770 1695M1781 1678 1785 1679M1785 1679 1791 1692M1787 1695 1770 1695M1733 1732 1746 1730M1726 1746 1743 1747M1830 1736 1831 1739M1820 1721 1814 1729M1796 1729 1810 1732M1810 1732 1808 1744M1673 1734 1667 1736M1675 1752 1664 1749M1644 1762 1646 1758M1643 1733 1650 1740M1660 1726 1650 1721M1650 1721 1650 1721M1632 1737 1643 1733M1644 1720 1650 1721M1643 1751 1650 1740M1674 1717 1660 1726M1836 1781 1829 1773M1785 1777 1779 1783M1798 1806 1792 1793M1785 1766 1776 1766M1751 1806 1749 1804M1751 1806 1760 1808M1760 1808 1766 1802M1747 1789 1756 1775M1747 1789 1749 1790M1729 1808 1749 1804M1920 1857 1907 1851M1967 1808 1977 1808M1993 1795 1997 1802M1985 1811 1997 1802M1982 1811 1969 1825M1947 1818 1956 1821M1941 1866 1947 1872M1962 1881 1960 1869M1859 1752 1859 1751M1859 1752 1851 1768M1856 1774 1851 1768M1845 1737 1840 1754M1829 1773 1837 1766M1611 1738 1600 1740M1734 1857 1731 1868M1731 1868 1733 1870M1740 1834 1742 1842M1763 1835 1752 1845M1742 1842 1752 1845M1730 1852 1742 1842M1647 1631 1654 1640M1685 1654 1681 1646M1685 1654 1676 1663M1670 1665 1676 1663M1699 1659 1695 1654M1695 1654 1685 1654M1654 1640 1662 1639M1651 1583 1646 1592M1659 1599 1672 1588M1680 1582 1677 1587M1725 1538 1729 1549M1727 1534 1737 1530M1737 1530 1743 1521M1725 1538 1712 1544M1707 1550 1707 1557M1727 1534 1717 1526M1715 1527 1705 1534M1694 1546 1685 1558M1670 1571 1666 1565M1845 1508 1858 1505M1863 1490 1858 1505M1858 1505 1863 1508M1739 1514 1726 1512M1705 1519 1715 1527M1774 1639 1791 1631M1899 1638 1896 1647M1822 1686 1820 1679M1820 1679 1823 1675M1820 1679 1805 1681M1805 1681 1800 1673M1906 1517 1902 1509M1928 1665 1938 1663M1928 1665 1921 1674M1938 1663 1941 1676M1925 1682 1934 1684M1924 1658 1928 1665M1943 1660 1938 1663M1992 1605 1981 1597M1981 1616 1992 1605M1954 1608 1948 1603M1954 1608 1948 1620M1933 1611 1938 1616M1933 1611 1942 1604M1971 1602 1962 1591M1923 1611 1933 1611M1937 1595 1922 1601M1937 1595 1942 1604M1943 1587 1956 1590M1760 1736 1767 1727M1786 1736 1785 1736M1824 1746 1810 1746M1836 1757 1827 1755M1825 1775 1809 1767M1793 1761 1785 1766M1803 1774 1808 1767M1732 1781 1741 1768M1743 1747 1745 1755M1974 1882 1980 1871M1998 1879 1995 1869M1929 1855 1933 1850M1745 1610 1753 1610M1757 1605 1758 1591M1758 1591 1748 1593M1748 1579 1734 1589M1728 1620 1729 1617M1731 1563 1736 1570M1743 1569 1749 1562M1749 1562 1749 1554M1749 1554 1743 1554M1721 1559 1731 1563M1723 1580 1736 1570M1734 1589 1723 1580M1763 1565 1749 1562M1633 1577 1649 1577M1630 1568 1636 1562M1632 1551 1636 1562M1666 1565 1654 1569M1694 1546 1691 1537M1681 1523 1690 1520M1672 1556 1670 1552M1691 1537 1680 1540M1647 1561 1658 1550M1681 1523 1673 1533M1874 1521 1870 1536M1871 1507 1877 1519M1880 1519 1877 1519M1895 1505 1895 1504M1863 1508 1871 1507M1874 1521 1877 1519M1903 1494 1895 1504M1822 1575 1823 1575M1780 1666 1792 1661M1792 1661 1795 1658M1791 1647 1795 1641M1915 1572 1914 1560M1901 1563 1914 1560M1936 1548 1932 1555M1919 1605 1910 1604M1951 1572 1941 1564M1940 1583 1929 1581M1928 1575 1929 1581M1957 1554 1962 1562M1943 1587 1940 1583M1936 1548 1952 1548M1932 1555 1936 1564M1915 1572 1928 1575M1902 1581 1901 1581M1986 1590 1984 1585M1975 1573 1976 1583M1984 1585 1976 1583M1773 1761 1777 1754M1770 1743 1774 1743M1698 1580 1700 1587M1677 1587 1684 1596M1684 1596 1700 1587M1722 1580 1709 1589M1725 1613 1715 1612M1709 1601 1730 1596M1731 1599 1730 1596M1734 1590 1730 1596M1675 1609 1684 1596M1728 1620 1717 1630M1702 1624 1706 1630M1702 1624 1715 1612M1731 1638 1721 1638M1695 1654 1702 1644M1888 1543 1898 1543M1814 1662 1821 1663M1828 1659 1821 1663M1814 1642 1815 1644M1808 1625 1806 1614M1820 1629 1819 1628M1795 1615 1806 1614M1831 1599 1842 1611M1916 1623 1897 1624M1897 1616 1897 1624M1899 1638 1895 1627M1895 1627 1897 1624M1934 1520 1939 1515M1939 1515 1938 1506M1901 1581 1893 1590M1894 1600 1893 1590M1975 1573 1978 1570M1941 1866 1952 1856M1694 1622 1693 1613M1693 1613 1675 1609M1662 1639 1673 1628M1659 1622 1670 1622M1883 1558 1884 1545M1890 1572 1886 1572M1866 1541 1868 1546M1864 1652 1875 1652M1849 1625 1849 1636M1820 1629 1831 1627M1855 1617 1845 1611M1938 1506 1948 1498M1952 1548 1958 1537M1968 1535 1958 1537M1975 1525 1972 1521M1972 1830 1961 1840M1878 1565 1871 1566M1871 1566 1863 1554M1837 1566 1845 1567M1845 1567 1852 1559M1884 1645 1882 1636M1886 1630 1882 1636M1888 1612 1874 1621M1886 1630 1874 1621M1894 1600 1888 1604M1867 1626 1870 1621M1886 1572 1877 1584M1982 1525 1988 1535M1969 1847 1979 1848M1982 1854 1997 1852M1861 1574 1862 1580M1848 1574 1841 1583M1841 1583 1842 1591M1845 1567 1848 1574M1856 1595 1855 1593M1825 1581 1841 1583M1831 1599 1842 1591M1990 1512 1974 1508M1984 1839 1999 1839M1985 1811 1991 1823" stroke="#55d865" stroke-width="3"/>
</g>
<ellipse cx="1965" cy="1735" rx="14" ry="9" fill="#5ad86a" opacity="0.6" filter="url(#hb)"/>
<path d="M1950 1840 L1985 1770" stroke="#5ad86a" stroke-width="6" opacity="0.6" filter="url(#hb)"/>
</g>
<clipPath id="h2"><rect x="1999" y="1507.8" width="381.8" height="366.3"/></clipPath>
<g clip-path="url(#h2)">
<rect x="1999" y="1507.8" width="381.8" height="366.3" fill="#17381c"/>
<g fill="none" stroke-linecap="round">
<path d="M2185 1702 2196 1714M2218 1714 2214 1724M2229 1706 2228 1717M2225 1718 2228 1717M2315 1853 2306 1854M2300 1836 2295 1837M2285 1812 2299 1822M2266 1786 2265 1791M2285 1803 2285 1812M2263 1697 2250 1690M2202 1699 2197 1683M2233 1703 2230 1695M2209 1682 2218 1683M2218 1683 2230 1695M2248 1695 2250 1690M2245 1678 2233 1671M2094 1611 2084 1598M2084 1598 2083 1593M2085 1590 2083 1593M2102 1592 2099 1593M2197 1723 2212 1737M2214 1724 2215 1730M2225 1718 2231 1732M2241 1755 2237 1755M2241 1755 2245 1743M2231 1732 2245 1743M2226 1738 2236 1755M2096 1623 2109 1633M2115 1631 2110 1617M2064 1605 2069 1601M2064 1605 2069 1618M2069 1618 2076 1622M2090 1642 2094 1636M2090 1642 2086 1641M2086 1641 2076 1622M2182 1679 2188 1677M2156 1660 2158 1648M2315 1777 2326 1795M2299 1822 2305 1822M2011 1682 2010 1691M2031 1688 2028 1679M2045 1867 2041 1861M2028 1868 2040 1878M2245 1743 2245 1743M2285 1718 2272 1718M2325 1756 2321 1769M2325 1756 2337 1765M2321 1769 2322 1771M2337 1765 2339 1779M2350 1789 2339 1779M2376 1651 2391 1665M2248 1669 2240 1657M2301 1638 2294 1641M2312 1647 2317 1641M2317 1641 2329 1651M2314 1655 2327 1670M2307 1659 2315 1676M2327 1670 2328 1672M2328 1672 2322 1678M2311 1727 2322 1728M2326 1743 2322 1728M1993 1864 1998 1856M2025 1871 2028 1868M2170 1845 2182 1861M2184 1872 2172 1865M2082 1579 2087 1573M2111 1580 2102 1572M2144 1667 2137 1649M2124 1657 2112 1643M2123 1617 2129 1629M2123 1600 2127 1612M2016 1669 2012 1658M2001 1650 2012 1658M2024 1659 2031 1672M2039 1665 2033 1657M2017 1653 2024 1659M2041 1646 2052 1641M2007 1588 2012 1604M2012 1604 2000 1602M2007 1588 2019 1588M2012 1604 2014 1606M2038 1642 2029 1628M2073 1683 2067 1665M2087 1675 2089 1680M2156 1683 2150 1691M2150 1691 2144 1685M2346 1801 2356 1819M2332 1803 2343 1817M2320 1806 2326 1809M2332 1803 2326 1809M2308 1806 2298 1806M2381 1838 2374 1823M2381 1838 2370 1837M2361 1823 2363 1830M2366 1817 2374 1823M2358 1838 2344 1827M2343 1817 2344 1827M2099 1782 2090 1787M2079 1766 2082 1783M2054 1754 2052 1745M2031 1688 2038 1693M2042 1674 2046 1679M1998 1664 1993 1665M2010 1691 1998 1684M2049 1760 2052 1770M2066 1781 2074 1782M2082 1783 2076 1783M2057 1882 2054 1874M2033 1789 2020 1779M2022 1768 2018 1773M2018 1773 2020 1779M2256 1769 2241 1755M2256 1769 2263 1763M2245 1743 2259 1754M2175 1623 2174 1610M2182 1610 2192 1621M2185 1633 2193 1624M2164 1590 2160 1596M2159 1596 2148 1586M2148 1586 2144 1573M2144 1573 2151 1568M2157 1573 2151 1568M2178 1593 2164 1590M2158 1608 2149 1605M2149 1605 2145 1611M2146 1615 2145 1611M2159 1596 2158 1608M2161 1633 2159 1627M2135 1586 2130 1589M2111 1580 2120 1577M2242 1783 2241 1775M2265 1791 2257 1788M2265 1809 2259 1804M2259 1804 2253 1794M2265 1503 2279 1511M2285 1508 2280 1497M2305 1564 2295 1556M2305 1564 2307 1581M2295 1556 2288 1565M2299 1595 2293 1591M2289 1569 2285 1573M2256 1552 2261 1562M2269 1554 2275 1571M2276 1551 2269 1554M2257 1538 2269 1537M2285 1573 2275 1571M2266 1517 2262 1524M2262 1508 2265 1503M2279 1511 2281 1522M2295 1496 2299 1506M2285 1508 2291 1514M2291 1514 2299 1506M2207 1604 2212 1618M2212 1618 2204 1620M2199 1579 2194 1567M2196 1563 2194 1567M2364 1656 2361 1666M2334 1632 2347 1642M2334 1632 2332 1632M2350 1652 2341 1652M2292 1622 2282 1624M2314 1634 2306 1623M2306 1623 2303 1615M2317 1641 2314 1634M2335 1647 2329 1651M2334 1632 2334 1622M2334 1622 2317 1605M2317 1605 2316 1614M2306 1590 2316 1601M2317 1605 2316 1601M2300 1787 2306 1784M2300 1787 2289 1782M2285 1785 2289 1782M2320 1806 2313 1811M2315 1777 2309 1776M2309 1745 2310 1758M2296 1724 2290 1723M2321 1749 2325 1756M2290 1757 2295 1751M2289 1757 2277 1745M2277 1745 2274 1738M2259 1754 2264 1747M2268 1749 2264 1747M2227 1622 2218 1623M2248 1669 2254 1660M2269 1683 2265 1667M2245 1629 2238 1634M2236 1610 2225 1606M2254 1660 2247 1647M2341 1699 2355 1709M2331 1657 2344 1669M2343 1681 2344 1669M2311 1708 2325 1723M2311 1697 2317 1693M2325 1723 2329 1712M2329 1712 2321 1697M2317 1693 2311 1681M2321 1697 2332 1695M2282 1697 2296 1706M2282 1697 2277 1690M2311 1727 2299 1706M2325 1723 2325 1724M2265 1667 2268 1662M2266 1657 2268 1662M2349 1735 2339 1716M2340 1700 2341 1713M2028 1839 2032 1854M2028 1839 2016 1832M2016 1832 2014 1836M2013 1848 1999 1838M1996 1881 1980 1870M1997 1855 1983 1838M2063 1635 2066 1627M2080 1641 2067 1627M2046 1627 2047 1622M2060 1647 2066 1645M2069 1618 2067 1627M2021 1623 2004 1619M2002 1622 2007 1634M2002 1622 2004 1619M2007 1634 2014 1641M2014 1606 2021 1623M2033 1624 2029 1610M2029 1610 2025 1606M2000 1637 2007 1634M2223 1753 2225 1763M2208 1755 2222 1767M2212 1737 2213 1742M2242 1783 2234 1788M2234 1788 2226 1780M2105 1696 2089 1680M2085 1686 2096 1705M2098 1658 2108 1666M2150 1691 2157 1703M2152 1538 2150 1541M2126 1517 2131 1522M2121 1533 2134 1539M2109 1508 2106 1501M2381 1838 2386 1842M2374 1823 2387 1825M2049 1760 2045 1757M2037 1770 2048 1777M2029 1722 2035 1723M2018 1754 2026 1751M2018 1754 2022 1768M2016 1702 2029 1722M2026 1727 2014 1717M1993 1696 1994 1698M2096 1775 2102 1765M2074 1695 2070 1701M2074 1695 2072 1686M2066 1699 2053 1680M2051 1660 2058 1676M2046 1679 2053 1680M2055 1701 2066 1699M2139 1855 2151 1867M2154 1894 2145 1879M2097 1802 2097 1806M2028 1839 2032 1833M2045 1848 2044 1843M2023 1557 2011 1552M2024 1545 2026 1556M2024 1545 2007 1528M2011 1552 2005 1539M2007 1528 2005 1539M2201 1648 2204 1661M2192 1661 2197 1666M2205 1640 2215 1640M2220 1665 2219 1665M2217 1642 2215 1640M2216 1669 2219 1665M2193 1624 2205 1640M2204 1620 2215 1640M2230 1695 2235 1690M2229 1672 2220 1665M2129 1568 2137 1567M2147 1557 2151 1568M2328 1851 2327 1846M2340 1832 2334 1827M2358 1838 2360 1844M2344 1827 2340 1832M2355 1852 2345 1843M2370 1837 2378 1855M2360 1844 2376 1858M2378 1855 2390 1857M2276 1580 2288 1592M2307 1581 2316 1585M2328 1601 2333 1603M2394 1651 2381 1638M2382 1626 2392 1632M2381 1638 2378 1627M2365 1598 2356 1589M2368 1598 2365 1598M2153 1523 2148 1526M2167 1532 2168 1529M2185 1533 2188 1548M2188 1548 2175 1546M2188 1548 2193 1554M2193 1583 2180 1570M2212 1558 2202 1551M2258 1610 2271 1618M2271 1618 2272 1629M2272 1629 2265 1635M2255 1621 2260 1631M2260 1631 2265 1635M2271 1644 2266 1657M2238 1599 2245 1597M2231 1591 2226 1578M2237 1580 2230 1576M2251 1600 2258 1610M2215 1569 2226 1578M2244 1556 2246 1561M2257 1573 2246 1561M2230 1560 2227 1560M2237 1580 2242 1575M2257 1538 2249 1529M2243 1537 2249 1529M2232 1550 2234 1549M2248 1726 2255 1729M2248 1726 2238 1707M2255 1729 2259 1726M2254 1710 2257 1714M2274 1738 2259 1726M2392 1694 2384 1697M2376 1707 2383 1711M2382 1731 2387 1719M2366 1738 2368 1735M2353 1722 2357 1714M2357 1714 2364 1724M2386 1741 2368 1735M2371 1749 2366 1738M2349 1735 2357 1732M2369 1676 2377 1690M2358 1673 2361 1689M2379 1674 2369 1676M2372 1658 2364 1656M2300 1704 2294 1686M2286 1680 2294 1686M2268 1662 2279 1668M2311 1697 2296 1685M2326 1743 2338 1750M2354 1777 2347 1767M1983 1804 1997 1819M1997 1819 1998 1823M2004 1811 1997 1819M2286 1828 2279 1834M2327 1870 2323 1860M2327 1870 2323 1877M2327 1870 2341 1877M2341 1877 2344 1888M2297 1865 2303 1868M2056 1601 2050 1601M2050 1601 2050 1612M2050 1612 2044 1614M2056 1601 2050 1581M2011 1552 2006 1559M2100 1569 2105 1562M2105 1562 2099 1549M2112 1776 2112 1788M2112 1788 2108 1790M2160 1793 2171 1805M2160 1793 2157 1806M2171 1805 2174 1818M2170 1819 2174 1818M2173 1839 2170 1819M2143 1502 2149 1509M2168 1529 2166 1516M2166 1516 2161 1511M2179 1517 2177 1515M2364 1804 2366 1803M2354 1777 2366 1786M2355 1747 2363 1755M2363 1755 2368 1769M2349 1735 2355 1747M2339 1745 2349 1751M2367 1786 2368 1769M2380 1775 2368 1769M2380 1775 2384 1773M1995 1726 1989 1712M1994 1698 1996 1707M2009 1749 2018 1754M2022 1741 2010 1728M2102 1723 2108 1740M2084 1724 2084 1726M2082 1736 2088 1748M2082 1736 2084 1726M2077 1716 2070 1701M2128 1784 2126 1779M2112 1776 2118 1774M2126 1779 2118 1774M2103 1753 2108 1758M2053 1716 2056 1724M2072 1732 2069 1734M2053 1730 2056 1724M2046 1711 2053 1716M2055 1701 2058 1709M2071 1746 2069 1734M2077 1716 2064 1715M1995 1726 1991 1733M2139 1855 2133 1865M2134 1889 2132 1878M2032 1833 2029 1826M2001 1805 2004 1797M2072 1877 2070 1877M2072 1877 2075 1861M2075 1861 2061 1851M2062 1871 2060 1866M2050 1841 2044 1843M2097 1806 2100 1816M2081 1807 2091 1817M2091 1817 2100 1816M2107 1804 2114 1818M2114 1818 2104 1819M2012 1516 2011 1516M2000 1494 2004 1507M2015 1498 2018 1503M2007 1528 2007 1528M2029 1539 2026 1529M2043 1521 2032 1514M2060 1515 2055 1501M2357 1867 2357 1881M2355 1852 2361 1865M2361 1865 2357 1867M2338 1849 2343 1858M2328 1851 2341 1867M2269 1586 2261 1580M2261 1580 2254 1586M2273 1608 2277 1601M2273 1608 2255 1590M2257 1573 2261 1580M2242 1575 2254 1586M2274 1617 2273 1608M2353 1617 2350 1628M2337 1618 2350 1628M2371 1622 2364 1629M2170 1561 2179 1570M2153 1554 2165 1563M2229 1533 2217 1524M2213 1526 2215 1537M2213 1543 2215 1537M2281 1652 2282 1664M2284 1642 2285 1652M2296 1685 2298 1677M2303 1868 2311 1882M2297 1865 2292 1868M2292 1868 2300 1885M2185 1873 2198 1881M2190 1857 2192 1859M2039 1582 2029 1575M2029 1575 2022 1583M2029 1592 2022 1585M2050 1601 2044 1594M2044 1576 2050 1581M2026 1556 2039 1566M2039 1566 2044 1576M2040 1610 2029 1592M2019 1588 2022 1585M2055 1520 2058 1531M2043 1521 2046 1530M2031 1525 2038 1530M2046 1530 2038 1530M2117 1534 2106 1524M2111 1549 2103 1535M2109 1508 2101 1514M2093 1509 2101 1514M2101 1514 2106 1524M2250 1827 2253 1820M2240 1820 2234 1803M2246 1807 2239 1800M2265 1827 2253 1820M2209 1769 2214 1778M2133 1809 2123 1811M2152 1836 2142 1829M2143 1813 2139 1814M2123 1825 2114 1818M2207 1860 2201 1854M2212 1874 2207 1860M2190 1836 2198 1845M2234 1851 2242 1873M2248 1857 2254 1869M2227 1868 2242 1873M2144 1685 2134 1685M2193 1725 2200 1746M2193 1725 2185 1720M2185 1740 2191 1746M2197 1723 2193 1725M2196 1762 2191 1746M2108 1758 2122 1760M2145 1782 2146 1781M2015 1788 2021 1798M1989 1776 1998 1780M2126 1840 2122 1841M2123 1854 2122 1841M2030 1806 2033 1816M2054 1825 2054 1825M2048 1777 2052 1785M2041 1805 2053 1803M2049 1794 2053 1803M2088 1558 2089 1545M2088 1558 2082 1558M2077 1555 2071 1541M2071 1541 2075 1529M2075 1529 2089 1545M2095 1546 2089 1545M2087 1573 2082 1558M2074 1527 2075 1529M2082 1579 2070 1564M2054 1537 2058 1549M2067 1556 2058 1549M2066 1578 2068 1579M2376 1858 2378 1869M2378 1869 2369 1870M2292 1868 2282 1862M2280 1878 2280 1863M2253 1855 2263 1862M2263 1862 2265 1853M2235 1833 2250 1840M2268 1839 2259 1843M2250 1827 2254 1838M2235 1833 2232 1822M2092 1529 2077 1524M2077 1524 2074 1505M2103 1535 2092 1528M2062 1498 2074 1505M2187 1778 2189 1786M2199 1799 2210 1792M2176 1802 2171 1805M2262 1887 2260 1875M2260 1875 2268 1873M2276 1879 2268 1873M2263 1862 2268 1873M2139 1713 2147 1718M2151 1707 2137 1692M2155 1736 2147 1741M2147 1741 2136 1733M2123 1710 2134 1717M2134 1685 2137 1692M2172 1722 2166 1727M2135 1763 2143 1772M2159 1740 2166 1756M2159 1740 2169 1741M2166 1756 2177 1760M2179 1752 2176 1747M2185 1740 2176 1747M2117 1730 2123 1743M2131 1746 2133 1746M2118 1718 2121 1723M2136 1733 2132 1733M2147 1759 2133 1746M2116 1747 2123 1743M2143 1772 2149 1765M2147 1759 2149 1765M2199 1533 2194 1522M2203 1518 2194 1522M2367 1786 2373 1791M2373 1791 2382 1804M2018 1773 2011 1766M1999 1764 2011 1766M2006 1749 1996 1744M1983 1758 1994 1757M2091 1817 2095 1830M2075 1861 2088 1873M2088 1873 2091 1882M2077 1847 2077 1846M2047 1547 2056 1550M2056 1550 2057 1566M2038 1530 2047 1547M2066 1578 2057 1566M2058 1582 2049 1564M2373 1894 2372 1878M2372 1878 2384 1893M2387 1521 2382 1516M2376 1529 2367 1515M2376 1529 2388 1533M2367 1515 2364 1512M2364 1512 2359 1495M2322 1516 2327 1511M2339 1537 2330 1533M2339 1537 2342 1553M2355 1561 2360 1558M2360 1558 2355 1545M2360 1558 2364 1561M2364 1561 2371 1578M2235 1532 2230 1514M2215 1509 2216 1508M2216 1508 2230 1514M2214 1833 2208 1828M2203 1809 2203 1809M2233 1836 2221 1828M2188 1810 2189 1806M2168 1770 2167 1769M2158 1790 2162 1783M2176 1802 2172 1788M2185 1776 2168 1770M2203 1518 2198 1510M2177 1515 2169 1500M2382 1804 2392 1809M2119 1868 2118 1854M2075 1819 2065 1812M2054 1825 2061 1822M2053 1803 2061 1812M2095 1830 2090 1835M2358 1517 2358 1516M2358 1516 2346 1508M2336 1520 2344 1521M2374 1540 2383 1551M2385 1562 2381 1567M2379 1566 2381 1567M2357 1540 2365 1542M2371 1578 2385 1584M2381 1567 2386 1580M2383 1600 2388 1595M2385 1584 2388 1595M2324 1552 2309 1547M2322 1537 2313 1527M2308 1546 2305 1528M2313 1527 2305 1528M2337 1557 2327 1550M2313 1565 2309 1547M2311 1516 2313 1527M2077 1847 2088 1853M2090 1835 2092 1840M2092 1840 2104 1852M2095 1864 2095 1864M2095 1864 2107 1863M2114 1869 2118 1886" stroke="#2c9438" stroke-width="1.9"/>
<path d="M2185 1690 2182 1695M2185 1690 2199 1700M2199 1700 2201 1713M2185 1702 2182 1695M2196 1714 2201 1713M2202 1699 2211 1703M2218 1714 2211 1703M2212 1695 2211 1703M2212 1695 2229 1706M2218 1714 2225 1718M2295 1837 2298 1845M2285 1812 2281 1816M2299 1822 2300 1836M2295 1837 2286 1828M2286 1828 2281 1816M2268 1787 2285 1803M2281 1816 2271 1809M2289 1798 2285 1803M2289 1798 2285 1785M2275 1777 2285 1785M2245 1678 2248 1669M2248 1669 2248 1669M2266 1683 2248 1669M2212 1695 2209 1682M2248 1695 2235 1690M2233 1671 2229 1672M2235 1690 2229 1672M2104 1594 2115 1613M2115 1613 2110 1617M2168 1698 2174 1691M2168 1698 2156 1683M2160 1670 2153 1673M2105 1645 2112 1643M2112 1643 2109 1633M2115 1631 2109 1633M2094 1611 2096 1623M2076 1622 2084 1621M2084 1621 2075 1604M2092 1628 2084 1621M2173 1670 2170 1657M2171 1656 2187 1667M2188 1677 2187 1667M2160 1669 2173 1670M2158 1648 2170 1657M2185 1690 2182 1679M2331 1799 2326 1795M2289 1798 2298 1806M2029 1691 2030 1704M2009 1674 2011 1682M2016 1669 2028 1679M1996 1871 1996 1881M2045 1867 2040 1878M2041 1861 2032 1854M2013 1875 2008 1880M2228 1717 2244 1730M2244 1730 2245 1743M2281 1708 2264 1698M2264 1698 2269 1716M2331 1782 2339 1779M2354 1796 2346 1801M2354 1796 2350 1789M2376 1651 2372 1658M2379 1674 2372 1658M2379 1674 2387 1680M2240 1657 2230 1657M2312 1647 2314 1655M2301 1655 2307 1659M2321 1749 2326 1743M2013 1875 2009 1865M1998 1856 2009 1865M2025 1871 2012 1864M2024 1854 2017 1848M2017 1848 2013 1848M2082 1579 2085 1590M2102 1592 2099 1585M2087 1573 2099 1585M2111 1580 2116 1594M2144 1667 2139 1668M2139 1668 2126 1661M2124 1657 2126 1644M2115 1631 2120 1635M2144 1667 2153 1673M2127 1612 2139 1620M2123 1600 2116 1594M2120 1635 2129 1629M2141 1644 2140 1641M2152 1639 2145 1635M1997 1650 1986 1640M1997 1650 1998 1664M2024 1659 2033 1657M2031 1672 2042 1674M2017 1653 2012 1658M2064 1662 2060 1647M2041 1646 2049 1658M1992 1594 2000 1602M2005 1585 2007 1588M2033 1624 2029 1628M2039 1665 2049 1658M2033 1657 2030 1649M2038 1642 2030 1649M2073 1683 2085 1686M2067 1665 2080 1668M2085 1686 2089 1680M2139 1668 2144 1685M2168 1698 2169 1700M2169 1700 2182 1713M2331 1799 2332 1803M2356 1819 2343 1817M2310 1787 2326 1795M2305 1822 2311 1828M2308 1806 2313 1811M2317 1820 2311 1828M2310 1840 2314 1834M2361 1823 2366 1817M2356 1819 2361 1823M2354 1796 2364 1804M2099 1782 2096 1775M2079 1766 2087 1764M2054 1754 2064 1763M2071 1760 2067 1747M2052 1745 2056 1740M2038 1693 2049 1694M2046 1679 2049 1694M1993 1665 1996 1682M2074 1782 2076 1783M2040 1878 2044 1889M2022 1768 2034 1776M2259 1754 2263 1763M2256 1769 2258 1774M2175 1623 2185 1633M2182 1610 2174 1610M2164 1590 2157 1573M2160 1596 2159 1596M2174 1610 2160 1596M2166 1622 2158 1608M2166 1622 2159 1627M2181 1649 2172 1647M2139 1620 2146 1615M2131 1593 2123 1600M2131 1593 2145 1611M2142 1589 2135 1586M2131 1593 2130 1589M2130 1589 2120 1577M2257 1788 2253 1794M2253 1794 2242 1783M2248 1776 2242 1774M2258 1774 2248 1776M2265 1503 2263 1494M2285 1508 2279 1511M2305 1585 2289 1569M2306 1590 2305 1585M2261 1548 2269 1554M2276 1551 2288 1565M2266 1517 2276 1525M2269 1537 2262 1524M2262 1508 2266 1517M2281 1522 2276 1525M2207 1604 2197 1596M2198 1616 2204 1620M2192 1598 2197 1596M2212 1573 2214 1582M2199 1579 2206 1584M2206 1584 2214 1582M2207 1604 2212 1601M2206 1584 2212 1601M2364 1656 2354 1640M2347 1642 2350 1652M2332 1632 2335 1647M2301 1638 2296 1626M2296 1626 2292 1622M2294 1641 2289 1636M2214 1582 2219 1589M2212 1601 2224 1607M2219 1589 2225 1606M2325 1628 2314 1634M2316 1614 2305 1612M2332 1632 2325 1628M2289 1757 2290 1757M2289 1757 2284 1768M2290 1757 2305 1778M2306 1784 2305 1778M2309 1776 2305 1778M2309 1745 2292 1737M2310 1758 2305 1757M2291 1740 2292 1737M2296 1724 2309 1734M2290 1723 2292 1737M2312 1741 2309 1745M2309 1776 2305 1757M2276 1730 2291 1740M2276 1730 2274 1738M2276 1761 2268 1749M2277 1745 2268 1749M2212 1618 2218 1623M2254 1660 2265 1667M2245 1629 2254 1634M2238 1634 2240 1642M2240 1642 2247 1647M2236 1610 2245 1629M2227 1622 2238 1634M2237 1646 2222 1636M2237 1646 2240 1642M2338 1681 2343 1681M2344 1669 2349 1668M2311 1708 2311 1697M2311 1681 2315 1676M2322 1678 2332 1695M2341 1699 2340 1700M2281 1708 2282 1697M2296 1706 2299 1706M2311 1708 2300 1704M2322 1728 2325 1724M2325 1724 2335 1734M2335 1734 2349 1735M2017 1848 2014 1836M2180 1843 2190 1857M2074 1651 2066 1645M2090 1642 2098 1658M2091 1662 2079 1650M2080 1668 2074 1651M2064 1662 2067 1665M1988 1612 2002 1622M2213 1742 2223 1753M2213 1742 2205 1749M2241 1775 2225 1763M2222 1767 2226 1780M2170 1840 2159 1828M2163 1852 2163 1852M2159 1828 2152 1836M2105 1696 2106 1706M2126 1661 2125 1664M2111 1661 2125 1664M2148 1526 2140 1521M2148 1526 2152 1538M2150 1541 2135 1535M2131 1522 2135 1535M2134 1539 2138 1548M2153 1554 2150 1541M2132 1502 2140 1521M2126 1517 2117 1516M2117 1516 2121 1533M2045 1757 2033 1738M2045 1757 2027 1753M2027 1753 2026 1751M2029 1722 2026 1727M2035 1723 2043 1737M2034 1776 2037 1770M2016 1702 2011 1708M2011 1708 2014 1717M2011 1708 1994 1698M2071 1746 2084 1758M2099 1755 2088 1748M2030 1704 2035 1710M2035 1710 2037 1719M2038 1693 2046 1711M2072 1686 2058 1676M2184 1872 2185 1873M2143 1842 2154 1854M2154 1866 2151 1867M2090 1787 2097 1802M2081 1796 2097 1806M2189 1641 2186 1651M2204 1661 2197 1666M2186 1651 2192 1661M2181 1649 2186 1651M2205 1679 2197 1666M2187 1667 2192 1661M2205 1647 2219 1665M2205 1647 2205 1640M2220 1665 2220 1647M2198 1616 2192 1621M2119 1546 2131 1555M2119 1546 2114 1550M2114 1550 2118 1561M2118 1561 2129 1568M2137 1567 2131 1555M2121 1533 2117 1534M2117 1534 2119 1546M2135 1586 2129 1568M2120 1577 2117 1569M2117 1569 2118 1561M2144 1573 2137 1567M2323 1860 2328 1851M2314 1834 2327 1846M2327 1828 2331 1844M2327 1828 2334 1827M2345 1843 2340 1832M2317 1820 2327 1828M2326 1809 2334 1827M2360 1844 2355 1852M2376 1858 2378 1855M2293 1591 2288 1592M2288 1592 2289 1604M2308 1496 2314 1513M2337 1618 2333 1603M2348 1591 2356 1589M2364 1612 2365 1598M2382 1626 2380 1614M2380 1614 2368 1598M2378 1627 2371 1622M2167 1532 2153 1523M2172 1543 2167 1550M2193 1554 2196 1563M2215 1569 2212 1573M2185 1533 2196 1539M2202 1551 2196 1539M2262 1508 2249 1499M2249 1517 2248 1500M2274 1617 2282 1624M2289 1636 2284 1642M2284 1642 2272 1629M2238 1599 2231 1591M2245 1597 2237 1580M2239 1608 2238 1599M2219 1589 2231 1591M2251 1600 2245 1597M2216 1552 2212 1558M2261 1562 2257 1573M2249 1548 2244 1556M2230 1560 2240 1571M2249 1548 2243 1537M2249 1517 2246 1518M2244 1556 2234 1549M2243 1537 2235 1532M2244 1730 2248 1726M2264 1747 2255 1729M2233 1703 2238 1707M2269 1716 2257 1714M2384 1697 2386 1707M2370 1712 2376 1707M2387 1719 2383 1711M2366 1738 2357 1732M2386 1741 2382 1731M2377 1690 2367 1694M2376 1707 2367 1694M2386 1707 2383 1711M2277 1690 2286 1680M2296 1685 2294 1686M2337 1765 2342 1763M1996 1831 1984 1825M1996 1831 1998 1823M2001 1805 1990 1795M2016 1832 2011 1816M2011 1816 2004 1811M2298 1845 2293 1851M2293 1851 2282 1843M2306 1854 2310 1866M2323 1877 2310 1866M2310 1866 2303 1868M2064 1605 2056 1601M2047 1622 2044 1614M2029 1610 2040 1610M2061 1584 2069 1601M2058 1582 2050 1581M2012 1516 2018 1503M2029 1515 2018 1503M2026 1529 2031 1525M2005 1585 1999 1571M1992 1566 1999 1571M1999 1571 2007 1564M2007 1564 2006 1559M1988 1554 1995 1550M1998 1535 2005 1539M2114 1550 2111 1549M2111 1549 2099 1549M2102 1765 2112 1776M2108 1790 2110 1795M2105 1696 2111 1692M2155 1821 2143 1813M2155 1821 2161 1813M2143 1813 2143 1799M2187 1829 2174 1818M2187 1829 2190 1836M2155 1495 2161 1511M2161 1511 2149 1509M2366 1786 2366 1803M2353 1762 2368 1769M2368 1769 2368 1769M2371 1749 2363 1755M2366 1786 2367 1786M2384 1773 2384 1761M1996 1707 1989 1712M1995 1726 2005 1730M2005 1730 2010 1728M2010 1728 2008 1723M2014 1717 2008 1723M2102 1742 2084 1726M2102 1722 2100 1709M2102 1722 2102 1723M2128 1784 2126 1796M2126 1796 2112 1788M2053 1716 2058 1709M2056 1724 2069 1734M2064 1715 2058 1709M2145 1879 2137 1874M2011 1816 2018 1817M2018 1817 2016 1802M2060 1848 2061 1851M2100 1816 2104 1819M2066 1781 2067 1796M2081 1807 2081 1807M2067 1796 2081 1807M2024 1545 2029 1539M2046 1514 2043 1521M2032 1497 2032 1514M2029 1515 2032 1514M2357 1867 2343 1858M2356 1881 2344 1876M2269 1586 2277 1601M2284 1605 2277 1601M2251 1600 2255 1590M2367 1640 2364 1629M2367 1640 2355 1637M2355 1637 2350 1628M2349 1607 2335 1601M2349 1607 2350 1606M2354 1640 2355 1637M2170 1561 2165 1563M2179 1570 2179 1591M2180 1570 2179 1570M2157 1573 2166 1574M2217 1524 2213 1526M2216 1552 2213 1543M2196 1539 2199 1533M2281 1652 2285 1652M2282 1664 2298 1677M2285 1652 2294 1659M2301 1674 2298 1677M2279 1668 2282 1664M2039 1582 2044 1594M2044 1594 2029 1592M2022 1583 2022 1585M2023 1557 2029 1575M2007 1564 2022 1583M2103 1535 2106 1524M2250 1827 2240 1820M2234 1788 2239 1800M2208 1755 2209 1769M2196 1776 2207 1787M2139 1814 2142 1829M2139 1814 2133 1809M2140 1831 2124 1823M2126 1796 2133 1809M2110 1795 2123 1811M2143 1842 2140 1831M2126 1840 2123 1825M2227 1868 2221 1861M2192 1859 2201 1854M2236 1848 2248 1857M2254 1869 2242 1873M2242 1873 2242 1873M2111 1692 2115 1694M2115 1694 2123 1694M2123 1683 2131 1683M2123 1710 2118 1718M2178 1727 2185 1720M2200 1746 2191 1746M2163 1707 2172 1722M2172 1722 2178 1727M2205 1749 2200 1746M2366 1803 2377 1810M2116 1747 2123 1760M2116 1747 2108 1740M2123 1760 2122 1760M2004 1797 1998 1780M2016 1802 2021 1798M2003 1778 1998 1780M2122 1841 2111 1833M2029 1826 2033 1816M2033 1789 2038 1802M2015 1788 2020 1779M2050 1841 2047 1827M2033 1816 2047 1827M2038 1802 2041 1805M2041 1805 2054 1825M2052 1785 2049 1794M2067 1796 2063 1796M2072 1877 2084 1886M2099 1549 2095 1546M2083 1593 2068 1579M2061 1584 2066 1578M1995 1517 1990 1518M1998 1535 1990 1518M2394 1869 2385 1876M2361 1865 2369 1870M2380 1614 2389 1612M2282 1843 2277 1849M2282 1862 2277 1849M2289 1885 2280 1878M2265 1827 2268 1839M2277 1849 2268 1839M2265 1853 2259 1843M2254 1838 2250 1840M2235 1833 2233 1836M2233 1836 2236 1848M2232 1822 2240 1820M2092 1529 2092 1528M2088 1511 2077 1504M2077 1504 2074 1505M2093 1509 2088 1511M2187 1778 2196 1776M2189 1786 2199 1799M2210 1792 2220 1805M2232 1822 2220 1806M2220 1806 2220 1805M2176 1802 2188 1810M2188 1810 2193 1822M2189 1806 2203 1809M2193 1822 2203 1829M2280 1878 2276 1879M2139 1713 2135 1707M2150 1716 2151 1707M2155 1736 2147 1718M2134 1717 2136 1733M2123 1694 2135 1707M2157 1703 2151 1707M2166 1727 2150 1716M2185 1776 2177 1760M2185 1776 2187 1778M2147 1741 2151 1752M2166 1756 2164 1762M2151 1752 2164 1762M2121 1723 2132 1733M2132 1733 2133 1746M2123 1743 2131 1746M2102 1722 2117 1730M2373 1791 2386 1791M2384 1773 2398 1785M2003 1778 1999 1764M2011 1766 2006 1749M1999 1764 1994 1757M2075 1861 2075 1861M2075 1861 2077 1847M2058 1549 2056 1550M2039 1566 2044 1560M2369 1870 2372 1878M2369 1495 2382 1516M2367 1515 2382 1516M2340 1537 2336 1520M2336 1520 2327 1511M2314 1513 2322 1516M2342 1553 2355 1561M2368 1598 2372 1593M2389 1612 2383 1600M2355 1561 2356 1573M2356 1589 2351 1575M2351 1575 2356 1573M2372 1593 2369 1583M2281 1522 2293 1533M2291 1514 2294 1519M2290 1546 2295 1538M2230 1514 2235 1510M2213 1813 2203 1809M2213 1813 2221 1828M2221 1828 2214 1833M2220 1806 2213 1813M2203 1829 2208 1828M2222 1847 2214 1833M2162 1783 2156 1771M2156 1771 2167 1769M2173 1786 2172 1788M2149 1765 2156 1771M2164 1762 2167 1769M2198 1510 2189 1500M2215 1509 2205 1501M2198 1510 2205 1501M2132 1878 2119 1868M2123 1854 2118 1854M2106 1838 2110 1847M2118 1854 2110 1847M2075 1819 2080 1828M2061 1812 2065 1812M2077 1846 2074 1837M2063 1796 2065 1812M2090 1835 2080 1828M2356 1537 2344 1521M2344 1495 2346 1508M2355 1545 2357 1540M2357 1540 2356 1537M2365 1542 2373 1540M2374 1540 2373 1540M2383 1551 2385 1562M2358 1517 2373 1540M2393 1551 2383 1551M2400 1575 2385 1562M2386 1580 2385 1584M2326 1561 2318 1570M2336 1580 2336 1577M2348 1591 2336 1580M2343 1568 2336 1577M2313 1565 2318 1570M2327 1550 2322 1537M2326 1561 2324 1552M2330 1533 2322 1537M2294 1519 2305 1528M2216 1508 2214 1495M2235 1510 2230 1500M2110 1847 2104 1852M2114 1869 2107 1863M2088 1873 2095 1864M2104 1852 2107 1863" stroke="#3ab548" stroke-width="2.4"/>
<path d="M2202 1699 2199 1700M2201 1713 2214 1724M2315 1853 2310 1840M2310 1840 2300 1836M2306 1854 2298 1845M2268 1787 2266 1786M2265 1791 2271 1809M2268 1787 2275 1777M2263 1697 2266 1683M2250 1690 2245 1678M2209 1682 2205 1679M2205 1679 2197 1683M2233 1703 2229 1706M2094 1611 2102 1612M2102 1612 2099 1593M2099 1593 2085 1590M2104 1594 2102 1592M2110 1617 2102 1612M2174 1691 2160 1670M2156 1683 2153 1673M2197 1723 2196 1714M2212 1737 2215 1730M2231 1732 2226 1738M2215 1730 2226 1738M2237 1755 2236 1755M2096 1623 2092 1628M2092 1628 2094 1636M2094 1636 2105 1645M2075 1604 2069 1601M2084 1598 2075 1604M2173 1670 2182 1679M2171 1656 2170 1657M2160 1669 2156 1660M2182 1695 2174 1691M2160 1669 2160 1670M2197 1683 2188 1677M2158 1648 2152 1639M2172 1647 2171 1656M2172 1647 2161 1633M2152 1639 2161 1633M2331 1799 2335 1793M2335 1793 2331 1782M2331 1782 2322 1771M2322 1771 2315 1777M2305 1822 2298 1806M2029 1691 2011 1682M2030 1704 2016 1700M2016 1700 2010 1691M2031 1688 2029 1691M2009 1674 2016 1669M1996 1871 2008 1880M2024 1854 2032 1854M2024 1854 2028 1868M2013 1875 2025 1890M2285 1718 2281 1708M2272 1718 2269 1716M2346 1801 2335 1793M2233 1671 2230 1657M2301 1638 2312 1647M2294 1641 2301 1655M2307 1659 2314 1655M2331 1657 2329 1651M2331 1657 2327 1670M2315 1676 2322 1678M2311 1727 2309 1734M2321 1749 2312 1741M2309 1734 2312 1741M1996 1871 1993 1864M2029 1884 2025 1871M2009 1865 2012 1864M2012 1864 2013 1848M2170 1845 2163 1852M2163 1852 2172 1865M2182 1861 2184 1872M2104 1594 2116 1594M2099 1585 2102 1572M2126 1661 2124 1657M2126 1644 2137 1649M2126 1644 2120 1635M2156 1660 2141 1644M2137 1649 2141 1644M2127 1612 2123 1617M2139 1620 2145 1635M2129 1629 2140 1641M2145 1635 2140 1641M2115 1613 2123 1617M1997 1650 2001 1650M1990 1629 2000 1637M2000 1637 2001 1650M2009 1674 1998 1664M2042 1674 2039 1665M2028 1679 2031 1672M2064 1662 2051 1660M2052 1641 2060 1647M2049 1658 2051 1660M2005 1585 1993 1584M2025 1606 2019 1588M2025 1606 2014 1606M2046 1627 2052 1641M2046 1627 2033 1624M2041 1646 2038 1642M2080 1668 2087 1675M2185 1702 2182 1713M2310 1787 2320 1806M2313 1811 2317 1820M2314 1834 2311 1828M2370 1837 2363 1830M2358 1838 2363 1830M2364 1804 2366 1817M2090 1787 2082 1783M2087 1764 2096 1775M2071 1760 2064 1763M2056 1740 2067 1747M1982 1672 1996 1682M1993 1696 1998 1684M1998 1684 1996 1682M2049 1760 2054 1754M2064 1763 2074 1782M2052 1770 2066 1781M2079 1766 2071 1760M2045 1867 2054 1874M2033 1789 2036 1785M2036 1785 2034 1776M2266 1786 2258 1774M2275 1777 2268 1767M2263 1763 2268 1767M2192 1621 2193 1624M2182 1610 2178 1593M2159 1627 2146 1615M2167 1623 2175 1623M2167 1623 2166 1622M2181 1649 2167 1623M2142 1589 2149 1605M2142 1589 2148 1586M2257 1788 2248 1776M2241 1775 2242 1774M2271 1809 2265 1809M2237 1755 2242 1774M2307 1581 2305 1585M2289 1569 2288 1565M2306 1590 2299 1595M2285 1573 2293 1591M2256 1552 2261 1548M2261 1562 2275 1571M2275 1571 2275 1571M2276 1551 2273 1542M2273 1542 2269 1537M2257 1538 2261 1548M2273 1542 2283 1540M2295 1556 2290 1546M2290 1546 2283 1540M2283 1540 2276 1525M2198 1616 2192 1598M2212 1573 2196 1563M2199 1579 2193 1583M2193 1583 2197 1596M2347 1642 2354 1640M2361 1666 2350 1652M2335 1647 2341 1652M2282 1624 2289 1636M2224 1607 2225 1606M2325 1628 2316 1614M2303 1615 2305 1612M2299 1595 2305 1612M2296 1626 2306 1623M2284 1768 2289 1782M2276 1761 2268 1767M2276 1761 2284 1768M2310 1787 2306 1784M2308 1806 2300 1787M2305 1757 2295 1751M2295 1751 2291 1740M2321 1769 2310 1758M2290 1723 2285 1718M2276 1730 2272 1718M2224 1607 2227 1622M2266 1683 2269 1683M2254 1634 2258 1648M2258 1648 2247 1647M2222 1636 2218 1623M2240 1657 2237 1646M2341 1699 2338 1681M2355 1709 2360 1705M2360 1705 2356 1692M2343 1681 2356 1692M2338 1681 2328 1672M2341 1652 2349 1668M2317 1693 2321 1697M2340 1700 2332 1695M2296 1724 2296 1706M2263 1697 2264 1698M2269 1683 2277 1690M2299 1706 2300 1704M2258 1648 2266 1657M2329 1712 2339 1716M2349 1735 2349 1735M2341 1713 2339 1716M1998 1856 1997 1855M1997 1855 1999 1838M2170 1845 2170 1840M2170 1840 2173 1839M2182 1861 2190 1857M2173 1839 2180 1843M2063 1635 2066 1645M2079 1650 2080 1641M2079 1650 2074 1651M2067 1627 2066 1627M2047 1622 2063 1635M2086 1641 2080 1641M2091 1662 2098 1658M2087 1675 2092 1671M2091 1662 2092 1671M2021 1623 2022 1624M2022 1624 2019 1641M2014 1641 2019 1641M2000 1602 2004 1619M2029 1628 2022 1624M2030 1649 2019 1641M2017 1653 2014 1641M2205 1749 2208 1755M2225 1763 2222 1767M2236 1755 2223 1753M2163 1852 2152 1836M2096 1705 2100 1709M2106 1706 2100 1709M2105 1645 2111 1661M2111 1661 2108 1666M2169 1700 2163 1707M2157 1703 2163 1707M2140 1521 2131 1522M2147 1557 2138 1548M2147 1557 2153 1554M2134 1539 2135 1535M2126 1517 2122 1501M2109 1508 2117 1516M2022 1741 2029 1735M2022 1741 2026 1751M2033 1738 2029 1735M2043 1737 2052 1745M2043 1737 2033 1738M2052 1770 2048 1777M2037 1770 2027 1753M2026 1727 2029 1735M2016 1700 2016 1702M2087 1764 2084 1758M2067 1747 2071 1746M2102 1765 2099 1755M2084 1758 2088 1748M2035 1723 2037 1719M2056 1740 2053 1730M2053 1730 2037 1719M2035 1710 2046 1711M2070 1701 2066 1699M2058 1676 2053 1680M2073 1683 2072 1686M2081 1701 2096 1705M2081 1701 2074 1695M2049 1694 2055 1701M2163 1852 2154 1854M2172 1865 2170 1879M2154 1854 2154 1866M2154 1866 2170 1879M2185 1873 2185 1888M2134 1846 2139 1855M2134 1846 2143 1842M2164 1890 2151 1873M2145 1879 2151 1873M2151 1873 2151 1867M2081 1796 2076 1783M2041 1861 2045 1848M2032 1833 2044 1843M2023 1557 2026 1556M2189 1641 2201 1648M2185 1633 2189 1641M2218 1683 2216 1669M2216 1669 2204 1661M2220 1647 2217 1642M2201 1648 2205 1647M2230 1657 2220 1647M2222 1636 2217 1642M2138 1548 2131 1555M2323 1860 2315 1853M2345 1843 2338 1849M2331 1844 2338 1849M2327 1846 2331 1844M2275 1571 2276 1580M2303 1615 2289 1604M2292 1622 2284 1605M2289 1604 2284 1605M2299 1506 2311 1516M2311 1516 2314 1513M2316 1601 2328 1601M2328 1601 2316 1585M2334 1622 2337 1618M2376 1651 2375 1648M2375 1648 2381 1638M2382 1626 2378 1627M2348 1591 2350 1606M2350 1606 2364 1612M2371 1622 2364 1612M2167 1532 2172 1543M2152 1538 2167 1550M2168 1529 2185 1533M2172 1543 2175 1546M2194 1567 2185 1563M2175 1546 2185 1563M2185 1563 2180 1570M2215 1569 2212 1558M2193 1554 2202 1551M2185 1533 2185 1533M2262 1524 2249 1517M2258 1610 2255 1621M2274 1617 2271 1618M2236 1610 2239 1608M2239 1608 2255 1621M2254 1634 2260 1631M2271 1644 2265 1635M2226 1578 2230 1576M2216 1552 2227 1560M2227 1560 2230 1576M2256 1552 2249 1548M2240 1571 2242 1575M2249 1529 2246 1518M2235 1532 2229 1533M2229 1533 2234 1549M2230 1560 2232 1550M2246 1561 2240 1571M2238 1707 2254 1710M2259 1726 2257 1714M2248 1695 2254 1710M2370 1712 2376 1724M2382 1731 2376 1724M2368 1735 2364 1724M2357 1732 2353 1722M2371 1749 2383 1759M2387 1742 2383 1759M2376 1724 2364 1724M2341 1713 2353 1722M2355 1709 2357 1714M2360 1705 2370 1712M2369 1676 2362 1670M2362 1670 2358 1673M2367 1694 2361 1689M2361 1666 2362 1670M2384 1697 2377 1690M2349 1668 2358 1673M2356 1692 2361 1689M2286 1680 2279 1668M2335 1734 2339 1745M2338 1750 2339 1745M2338 1750 2342 1763M2354 1777 2350 1789M2342 1763 2347 1767M1999 1838 1996 1831M2014 1836 1998 1823M2001 1805 2004 1811M2265 1809 2268 1826M2268 1826 2279 1834M2279 1834 2282 1843M2323 1877 2324 1880M2293 1851 2297 1865M2066 1627 2050 1612M2040 1610 2044 1614M2061 1584 2058 1582M2012 1516 2026 1529M2029 1515 2031 1525M2006 1559 1995 1550M1998 1535 1986 1534M1995 1550 1986 1534M2102 1572 2100 1569M2117 1569 2105 1562M2099 1782 2108 1790M2097 1802 2107 1804M2107 1804 2110 1795M2092 1671 2106 1681M2108 1666 2108 1667M2108 1667 2106 1681M2106 1681 2111 1692M2161 1813 2157 1806M2161 1813 2170 1819M2147 1798 2143 1799M2147 1798 2157 1806M2159 1828 2155 1821M2190 1836 2180 1843M2153 1523 2149 1509M2185 1533 2179 1517M2166 1516 2177 1515M2355 1747 2349 1751M2353 1762 2349 1751M2347 1767 2353 1762M2383 1759 2384 1761M1996 1707 2008 1723M2009 1749 2005 1730M2102 1723 2090 1719M2108 1740 2102 1742M2090 1719 2084 1724M2081 1701 2090 1719M2103 1753 2099 1755M2103 1753 2102 1742M2077 1716 2084 1724M2118 1774 2108 1758M2064 1715 2072 1732M2082 1736 2072 1732M2133 1865 2137 1874M2132 1878 2137 1874M2018 1817 2029 1826M2004 1797 2016 1802M2070 1877 2062 1871M2061 1851 2060 1866M2054 1874 2062 1871M2073 1894 2070 1877M2050 1841 2060 1848M2045 1848 2060 1866M2081 1796 2081 1807M2011 1516 2004 1507M2011 1516 2007 1528M2046 1514 2036 1500M2060 1515 2055 1520M2055 1520 2046 1514M2343 1858 2341 1867M2344 1876 2341 1867M2341 1877 2344 1876M2255 1590 2254 1586M2276 1580 2269 1586M2353 1617 2364 1629M2349 1607 2353 1617M2335 1601 2333 1603M2375 1648 2367 1640M2165 1563 2166 1574M2166 1574 2179 1591M2179 1591 2179 1591M2167 1550 2170 1561M2192 1598 2179 1591M2178 1593 2179 1591M2232 1550 2215 1537M2199 1533 2213 1543M2294 1659 2301 1674M2271 1644 2281 1652M2301 1655 2294 1659M2311 1681 2301 1674M2218 1896 2207 1877M2198 1881 2200 1876M2200 1876 2207 1877M2212 1874 2227 1887M2212 1874 2207 1877M2192 1859 2200 1876M2044 1576 2039 1582M2058 1531 2054 1537M2046 1530 2054 1537M2088 1495 2093 1509M2253 1820 2246 1807M2239 1800 2234 1803M2259 1804 2246 1807M2265 1827 2268 1826M2226 1780 2217 1779M2234 1803 2226 1802M2217 1779 2226 1802M2217 1779 2214 1778M2209 1769 2196 1762M2196 1762 2194 1767M2194 1767 2196 1776M2214 1778 2207 1787M2140 1831 2142 1829M2124 1823 2123 1811M2143 1799 2128 1784M2134 1846 2126 1840M2123 1825 2124 1823M2219 1854 2207 1843M2219 1854 2221 1861M2221 1861 2207 1860M2207 1843 2198 1845M2198 1845 2201 1854M2227 1868 2228 1884M2234 1851 2236 1848M2248 1885 2242 1873M2222 1847 2219 1854M2222 1847 2234 1851M2108 1667 2123 1683M2123 1683 2123 1694M2125 1664 2131 1683M2134 1685 2131 1683M2106 1706 2118 1718M2115 1694 2123 1710M2178 1727 2185 1740M2182 1713 2185 1720M2387 1825 2377 1810M2384 1761 2401 1772M2126 1779 2127 1777M2127 1777 2122 1760M2147 1798 2145 1782M2127 1777 2145 1782M2160 1793 2158 1790M2158 1790 2146 1781M2015 1788 2003 1778M2133 1865 2123 1854M2104 1819 2111 1833M2021 1798 2030 1806M2030 1806 2038 1802M2060 1848 2062 1839M2047 1827 2054 1825M2062 1839 2054 1825M2036 1785 2049 1794M2052 1785 2063 1796M2082 1558 2077 1555M2100 1569 2088 1558M2060 1515 2074 1527M2058 1531 2071 1541M2070 1564 2068 1579M2077 1555 2067 1556M2070 1564 2067 1556M1992 1504 1995 1517M2004 1507 1992 1504M2007 1528 1995 1517M2378 1869 2385 1876M2385 1876 2387 1880M2282 1862 2280 1863M2253 1855 2250 1840M2259 1843 2254 1838M2248 1857 2253 1855M2280 1863 2265 1853M2092 1528 2088 1511M2095 1546 2092 1529M2074 1527 2077 1524M2071 1487 2077 1504M2207 1787 2210 1792M2226 1802 2220 1805M2187 1829 2193 1822M2183 1792 2189 1806M2183 1792 2189 1786M2199 1799 2203 1809M2207 1843 2203 1829M2254 1869 2260 1875M2135 1707 2137 1692M2147 1718 2150 1716M2134 1717 2139 1713M2123 1760 2135 1763M2146 1781 2143 1772M2169 1741 2176 1747M2177 1760 2179 1752M2166 1727 2169 1741M2155 1736 2159 1740M2194 1767 2179 1752M2121 1723 2117 1730M2151 1752 2147 1759M2135 1763 2131 1746M2213 1526 2203 1518M2179 1517 2186 1516M2186 1516 2194 1522M2377 1810 2382 1804M2380 1775 2386 1791M2009 1749 2006 1749M1991 1733 1996 1744M1996 1744 1993 1751M1993 1751 1994 1757M2111 1833 2106 1838M2095 1830 2106 1838M2062 1839 2077 1846M2047 1547 2041 1549M2057 1566 2049 1564M2041 1549 2044 1560M2049 1564 2044 1560M2029 1539 2041 1549M2379 1496 2388 1506M2322 1516 2330 1533M2340 1537 2339 1537M2327 1511 2324 1502M2340 1537 2355 1545M2383 1600 2372 1593M2356 1573 2369 1583M2371 1578 2369 1583M2342 1553 2337 1557M2351 1575 2343 1568M2343 1568 2337 1557M2294 1519 2293 1533M2293 1533 2295 1538M2217 1524 2215 1509M2246 1518 2235 1510M2203 1809 2208 1828M2162 1783 2172 1788M2173 1786 2168 1770M2183 1792 2173 1786M2185 1500 2186 1516M2074 1837 2080 1828M2074 1837 2061 1822M2061 1822 2061 1812M2081 1807 2075 1819M2358 1517 2356 1537M2344 1521 2344 1509M2346 1508 2344 1509M2364 1512 2358 1516M2330 1498 2344 1509M2365 1542 2379 1566M2364 1561 2379 1566M2376 1529 2374 1540M2326 1561 2336 1577M2328 1581 2323 1576M2328 1581 2336 1580M2323 1576 2318 1570M2316 1585 2323 1576M2335 1601 2328 1581M2305 1564 2313 1565M2327 1550 2324 1552M2309 1547 2308 1546M2295 1538 2308 1546M2088 1853 2092 1840M2095 1864 2106 1881M2088 1853 2095 1864M2119 1868 2114 1869" stroke="#55d865" stroke-width="3"/>
</g>
<path d="M2132 1510 L2128 1565" stroke="#6ae07a" stroke-width="12" opacity="0.7" filter="url(#hb)"/>
<path d="M2050 1610 L2130 1700" stroke="#5ad86a" stroke-width="7" opacity="0.55" filter="url(#hb)"/>
<path d="M2362 1720 L2375 1800" stroke="#5ad86a" stroke-width="9" opacity="0.6" filter="url(#hb)"/>
<path d="M2290 1790 L2300 1840" stroke="#5ad86a" stroke-width="8" opacity="0.55" filter="url(#hb)"/>
</g>
<clipPath id="h3"><rect x="1614.8" y="1882.8" width="375.5" height="370.9"/></clipPath>
<g clip-path="url(#h3)">
<rect x="1614.8" y="1882.8" width="375.5" height="370.9" fill="#163419"/>
<g fill="none" stroke-linecap="round">
<path d="M1834 2136 1835 2127M1661 2151 1657 2144M1673 2149 1672 2136M1661 2139 1658 2130M1658 2130 1671 2125M1672 2136 1677 2130M1856 1876 1866 1881M1866 1881 1876 1877M1614 1987 1623 1988M1609 1994 1618 2004M1633 1981 1623 1988M1635 1997 1627 1998M1622 2012 1619 2004M1966 1920 1956 1920M1956 1920 1948 1925M1948 1925 1953 1935M1949 1940 1936 1942M1923 1909 1934 1915M1914 1915 1914 1918M1914 1918 1924 1923M1924 1923 1934 1915M1925 1930 1924 1923M1925 1930 1936 1930M1938 1915 1934 1915M1942 1904 1937 1902M1923 1909 1924 1908M1903 1909 1911 1900M1935 1951 1934 1944M1934 1944 1936 1942M1949 1940 1951 1945M1934 1944 1919 1943M1906 1931 1899 1944M1910 1971 1915 1972M1910 1971 1914 1957M1930 1963 1928 1959M1905 1973 1902 1982M1936 1967 1948 1959M1807 1955 1817 1949M1807 1955 1807 1955M1807 1955 1809 1964M1809 1964 1821 1965M1848 1885 1860 1894M1699 1925 1710 1927M1698 1913 1695 1921M1727 1921 1726 1911M1696 1908 1703 1902M1627 1931 1620 1934M1631 1948 1631 1949M1631 1949 1622 1958M1639 1912 1643 1921M1628 1928 1622 1920M1613 2164 1603 2172M1619 2175 1610 2181M1630 2164 1622 2167M1610 2181 1610 2181M1646 2139 1639 2136M1621 2138 1614 2148M1614 2148 1617 2153M1656 2129 1646 2139M1656 2129 1658 2130M1660 1979 1661 1983M1636 2020 1635 2013M1646 2024 1653 2012M1619 2017 1620 2027M1620 2027 1625 2028M1625 2028 1636 2020M1648 2028 1649 2028M1660 2023 1649 2028M1717 2061 1708 2069M1714 2088 1699 2095M1714 2088 1721 2091M1699 2095 1708 2105M1727 1921 1741 1918M1727 1933 1735 1935M1610 2046 1610 2043M1840 2116 1830 2111M1809 2130 1807 2122M1807 2122 1813 2117M1800 2109 1812 2109M1843 2137 1854 2126M1870 2124 1861 2129M1878 2126 1881 2129M1862 2138 1875 2140M1875 2140 1881 2129M1763 2093 1754 2101M1746 2094 1754 2083M1973 1910 1983 1899M1987 1900 1983 1899M1966 1920 1974 1915M2000 1895 1993 1886M1984 1889 1981 1894M1981 1894 1983 1899M1981 1921 1994 1923M1896 2022 1891 2020M1896 2022 1910 2014M1966 1941 1959 1949M1977 1941 1978 1950M1981 1937 1977 1941M1954 1959 1960 1953M1994 1957 1988 1958M1978 1950 1995 1944M1995 1944 1999 1947M1981 1966 1988 1958M1965 1896 1963 1898M1981 1894 1965 1896M1942 1904 1950 1897M1903 1956 1901 1952M1912 1998 1917 1991M1917 1991 1929 1988M1934 1999 1925 2005M1908 2010 1913 2000M1900 1998 1900 1984M1931 1985 1932 1978M1807 1979 1816 1977M1807 1979 1802 1971M1809 1964 1802 1971M1821 1965 1821 1973M1887 1946 1886 1955M1850 1971 1840 1965M1850 1971 1848 1978M1848 1979 1834 1978M1840 1965 1831 1974M1831 1974 1834 1978M1792 1969 1791 1970M1803 1984 1789 1981M1789 1981 1791 1970M1803 1939 1801 1935M1771 2000 1781 1999M1785 1995 1782 1985M1782 1985 1775 1984M1821 1897 1823 1901M1806 1909 1800 1902M1902 1909 1895 1916M1895 1916 1898 1927M1821 1937 1816 1944M1821 1937 1836 1937M1710 1927 1706 1940M1699 1925 1690 1938M1699 1942 1706 1940M1771 1953 1786 1953M1990 1873 1976 1878M1878 1890 1882 1881M1878 1890 1880 1894M1861 1897 1871 1903M1912 1878 1915 1886M1912 1878 1899 1875M1896 1891 1909 1892M1882 1881 1895 1880M1891 1902 1892 1895M1851 2108 1858 2108M1870 2124 1870 2117M1881 2086 1867 2091M1813 2072 1815 2060M1829 2069 1832 2060M1831 2057 1822 2056M1838 2042 1840 2050M1822 2056 1818 2048M1813 2072 1801 2072M1803 1984 1802 1991M1785 1995 1799 1994M1799 1994 1802 1991M1887 2098 1898 2092M1968 2121 1959 2117M1975 2115 1976 2108M1962 2108 1976 2108M1896 2121 1902 2113M1891 2107 1900 2109M1858 2045 1856 2035M1842 2050 1840 2050M1833 2026 1824 2032M1833 2026 1839 2028M1705 1892 1716 1893M1711 1882 1716 1880M1715 1904 1722 1900M1704 1892 1705 1892M1729 1873 1724 1879M1639 1912 1642 1907M1623 1911 1625 1914M1634 1938 1646 1933M1646 1933 1650 1925M1630 2164 1631 2164M1631 2164 1640 2157M1627 2188 1630 2186M1631 2164 1635 2171M1648 2207 1657 2199M1665 2208 1668 2198M1669 2157 1678 2164M1678 2164 1679 2167M1669 2152 1669 2157M1658 2168 1652 2168M1652 2168 1647 2174M1664 1968 1664 1973M1664 1973 1680 1977M1678 2028 1688 2023M1607 2061 1616 2062M1610 2085 1621 2083M1621 2083 1624 2080M1626 2059 1636 2068M1624 2075 1636 2068M1647 2062 1639 2068M1626 2059 1642 2052M1647 2055 1642 2052M1664 1973 1660 1979M1708 2069 1713 2075M1689 2062 1684 2067M1708 2069 1708 2069M1727 2074 1713 2075M1694 2047 1692 2037M1706 2035 1698 2034M1668 2056 1660 2067M1682 2051 1673 2056M1678 2164 1689 2155M1677 2130 1688 2135M1767 2109 1754 2101M1754 2101 1746 2107M1684 2119 1693 2122M1693 2122 1701 2118M1693 2122 1695 2131M1697 2110 1708 2105M1701 2118 1708 2120M1665 2080 1667 2071M1714 2088 1711 2081M1721 2091 1732 2084M1732 2084 1734 2084M1721 2091 1721 2091M1746 2094 1740 2094M1744 2080 1754 2081M1754 2081 1754 2083M1744 2080 1744 2072M1796 1878 1800 1867M1813 1873 1812 1882M1801 1885 1809 1884M1783 1881 1796 1878M1746 1881 1731 1885M1762 1922 1751 1916M1761 1923 1748 1930M1755 1949 1765 1943M1755 1955 1755 1949M1771 1942 1765 1943M1643 1957 1636 1965M1633 1979 1640 1973M1642 2052 1636 2043M1815 2079 1808 2086M1815 2079 1814 2073M1808 2086 1797 2084M1800 2108 1785 2113M1785 2113 1782 2102M1782 2102 1795 2099M1808 2086 1811 2093M1777 2101 1776 2097M1783 2089 1776 2097M1777 2101 1767 2109M1832 2090 1839 2098M1823 2081 1826 2089M1800 2109 1800 2108M1812 2109 1819 2105M1830 2111 1829 2107M1842 2098 1839 2098M1875 2140 1875 2141M1920 2170 1929 2164M1946 2185 1951 2181M1967 2141 1966 2130M1970 2126 1981 2127M1985 2135 1981 2127M1984 2151 1975 2144M1997 2158 1985 2159M1990 2121 1988 2121M1990 2121 1999 2129M1967 2154 1959 2155M1969 2165 1954 2164M1969 2165 1973 2163M1954 2163 1954 2164M1982 2162 1973 2163M1974 2144 1967 2154M1967 2141 1956 2146M1956 2146 1959 2155M1949 2170 1954 2164M1910 2194 1917 2189M1910 2194 1904 2193M1917 2189 1920 2177M1921 2177 1920 2177M1926 2190 1917 2189M1912 2168 1899 2175M1826 2162 1838 2161M1713 2237 1703 2234M1703 2234 1702 2229M1719 2230 1714 2222M1703 2212 1696 2213M1718 2196 1710 2201M1616 2252 1631 2249M1636 2254 1634 2250M1652 2212 1645 2224M1634 2223 1631 2211M1627 2196 1623 2203M1623 2203 1629 2210M1609 2198 1612 2203M1623 2203 1612 2203M1619 2217 1629 2210M1942 2257 1937 2257M1980 2266 1978 2257M1872 2034 1874 2029M1874 2029 1885 2026M1886 2035 1877 2040M1865 2049 1858 2045M1865 2049 1876 2040M1856 2035 1872 2034M1896 2022 1903 2031M1886 2048 1877 2040M1898 2042 1899 2035M1855 2012 1864 2013M1890 2019 1882 2017M1874 2029 1869 2021M1882 2017 1869 2021M1867 2021 1869 2021M1954 1959 1957 1965M1969 1964 1962 1967M1934 2012 1940 2018M1940 2018 1927 2026M1919 2018 1919 2025M1952 2015 1951 2008M1951 2008 1942 2004M1910 2014 1919 2018M1900 1971 1895 1965M1883 1959 1886 1955M1854 2002 1861 1996M1866 1997 1873 2005M1882 2017 1879 2005M1848 1987 1857 1989M1863 1985 1863 1976M1885 1964 1877 1973M1862 1964 1862 1964M1816 1977 1822 1987M1829 1989 1822 1987M1831 1874 1823 1884M1839 1887 1826 1887M1826 1887 1823 1884M1779 1917 1786 1912M1771 1916 1779 1917M1820 1931 1811 1929M1821 1937 1820 1931M1838 1924 1840 1933M1813 1911 1815 1915M1829 1902 1839 1898M1838 1924 1840 1923M1840 1923 1841 1912M1860 1895 1842 1899M1853 1908 1861 1897M1895 1916 1883 1917M1884 1931 1892 1930M1876 1923 1883 1917M1891 1902 1881 1909M1881 1909 1872 1906M1834 1947 1843 1949M1687 1951 1671 1948M1654 1962 1663 1950M1651 1945 1652 1942M1716 1943 1729 1947M1735 1935 1736 1942M1744 1962 1734 1969M1744 1962 1738 1954M1724 1960 1728 1955M1959 1883 1957 1878M1921 1886 1927 1881M1921 1886 1930 1893M1927 1881 1941 1880M1931 1893 1930 1893M1941 1888 1941 1880M1926 1873 1927 1881M1943 1877 1941 1880M1937 1902 1931 1893M1892 2047 1899 2057M1848 2094 1851 2086M1851 2086 1861 2082M1833 2026 1831 2018M1818 2020 1831 2018M1794 2042 1797 2054M1811 2046 1801 2055M1818 2032 1809 2040M1785 2043 1794 2042M1786 2057 1797 2054M1803 2060 1801 2055M1754 2081 1758 2078M1744 2072 1748 2064M1767 2077 1774 2071M1783 2089 1780 2083M1765 2093 1772 2084M1758 2078 1767 2077M1769 2065 1774 2071M1760 2065 1758 2066M1766 2015 1777 2015M1787 2030 1782 2023M1773 2037 1782 2037M1782 2023 1782 2023M1979 2105 1987 2105M1993 2091 1995 2097M1962 2108 1962 2096M1991 2112 1989 2116M1991 2112 1987 2105M1964 2085 1969 2081M1932 2114 1926 2107M1913 2114 1921 2107M1926 2107 1921 2107M2003 2099 1995 2097M1994 2059 1986 2066M1994 2059 2004 2059M1993 2073 1999 2076M1899 2057 1907 2057M1907 2057 1910 2063M1915 2073 1908 2078M1915 2073 1916 2066M1910 2063 1916 2066M1907 2057 1910 2053M1945 2074 1942 2069M1691 1884 1701 1877M1670 1877 1681 1881M1651 1890 1639 1886M1639 1886 1632 1898M1674 1905 1657 1907M1679 1917 1672 1912M1658 1914 1667 1914M1669 2198 1681 2200M1699 2190 1690 2190M1684 2206 1691 2208M1681 2200 1690 2190M1688 2176 1683 2184M1668 2176 1657 2184M1646 2177 1657 2184M1679 2167 1688 2171M1656 2041 1658 2038M1672 2044 1665 2051M1665 2051 1654 2050M1637 2042 1656 2041M1649 2028 1658 2038M1674 2027 1665 2036M1668 2056 1665 2051M1651 2110 1653 2120M1650 2122 1653 2120M1666 2116 1653 2120M1656 2129 1650 2122M1639 2128 1642 2124M1656 2067 1650 2076M1665 2080 1653 2082M1638 2083 1641 2077M1645 2101 1649 2095M1631 2115 1628 2107M1631 2115 1633 2115M1645 2106 1645 2101M1662 2095 1649 2095M1623 2095 1627 2095M1664 1999 1673 2009M1666 1987 1668 1995M1661 2014 1673 2009M1676 2015 1674 2009M1694 2004 1685 2002M1681 1981 1684 1984M1719 2053 1724 2051M1704 2130 1709 2125M1745 2143 1734 2136M1739 2122 1729 2114M1721 2126 1727 2133M1733 2133 1727 2133M1749 2118 1739 2122M1752 2118 1755 2127M1708 2139 1719 2139M1719 2139 1727 2133M1801 1885 1791 1893M1800 1902 1792 1900M1790 1902 1792 1900M1898 2162 1911 2164M1903 2194 1889 2181M1903 2194 1904 2193M1889 2181 1889 2181M1870 2159 1870 2172M1851 2171 1856 2163M1891 2167 1885 2164M1875 2141 1890 2142M1890 2142 1887 2154M1956 2146 1951 2146M1951 2132 1948 2140M1948 2140 1951 2146M1948 2140 1934 2140M1909 2246 1898 2242M1896 2238 1901 2229M1901 2229 1911 2231M1917 2215 1911 2215M1906 2211 1911 2215M1895 2201 1903 2194M1900 2211 1906 2211M1911 2231 1920 2223M1920 2223 1917 2215M1929 2150 1929 2142M1929 2164 1928 2152M1919 2134 1921 2139M1841 2236 1836 2244M1821 2235 1826 2244M1748 2166 1741 2167M1738 2172 1745 2178M1767 2112 1773 2118M1781 2118 1773 2118M1703 2234 1697 2237M1691 2222 1692 2220M1719 2230 1722 2230M1722 2230 1731 2220M1731 2216 1722 2213M1751 2221 1741 2230M1731 2220 1741 2230M1731 2216 1738 2212M1767 2211 1767 2211M1760 2220 1751 2221M1680 2231 1677 2231M1677 2231 1672 2219M1661 2212 1666 2218M1666 2236 1677 2231M1666 2236 1667 2248M1667 2248 1682 2246M1666 2249 1653 2251M1647 2256 1649 2261M1667 2248 1666 2249M1677 2262 1683 2247M1642 2234 1646 2226M1645 2224 1646 2226M1628 2227 1628 2237M1613 2227 1617 2225M1877 1988 1884 1989M1900 1984 1889 1985M1863 1985 1875 1984M1876 1923 1869 1923M1869 1923 1863 1914M1840 1923 1850 1921M1850 1921 1860 1914M1843 1949 1852 1941M1850 1935 1858 1929M1865 1928 1858 1929M1683 1936 1673 1941M1683 1936 1682 1925M1673 1941 1665 1936M1665 1936 1665 1928M1694 1942 1687 1951M1671 1948 1673 1941M1652 1942 1665 1936M1667 1914 1667 1927M1713 1952 1703 1955M1703 1955 1699 1960M1708 1973 1702 1978M1685 1971 1690 1971M1684 1984 1695 1978M1701 1964 1701 1964M1724 1963 1710 1973M1734 1969 1734 1975M1756 1992 1753 1983M1753 1983 1751 1982M1751 1982 1739 1990M1756 2004 1752 1997M1745 2012 1739 2010M1739 2000 1742 1998M1841 2080 1841 2077M1845 2065 1856 2060M1856 2060 1859 2060M1870 2077 1862 2081M1872 2067 1860 2062M1881 2080 1870 2077M1859 2060 1860 2062M1826 2006 1835 2014M1843 2002 1836 2013M1843 2002 1838 1994M1836 2013 1835 2014M1848 1987 1838 1994M1814 1999 1828 1997M1794 2008 1798 2017M1799 1994 1798 2004M1826 2006 1814 2011M1784 2009 1794 2008M1777 2015 1782 2023M1782 2023 1798 2017M1818 2020 1813 2013M1944 2091 1938 2090M1944 2091 1949 2098M1934 2101 1944 2103M1952 2083 1947 2074M1935 2084 1938 2090M1908 2078 1909 2087M1902 2113 1913 2114M1921 2107 1918 2099M1962 2070 1957 2062M1957 2062 1960 2055M1980 2050 1974 2058M1947 2074 1962 2070M2002 2030 1993 2028M1989 2018 1993 2028M1920 2051 1925 2048M1934 2053 1933 2048M1948 2023 1948 2019M1957 2036 1950 2041M1950 2041 1953 2052M1956 2029 1957 2036M1947 2056 1953 2052M1980 2048 1971 2041M1989 2042 1986 2033M1980 2048 1980 2050M1960 2055 1959 2053M1896 2257 1886 2250M1884 2250 1886 2250M1865 2255 1862 2261M1909 2247 1901 2257M2009 2221 1995 2227M1993 2227 1995 2227M1618 1897 1610 1897M1610 1897 1606 1889M1612 2109 1601 2111M1726 2000 1720 2011M1701 2014 1713 2009M1696 1989 1702 1984M1694 2004 1700 1998M1713 2009 1709 1997M1737 2061 1746 2061M1745 2012 1750 2020M1772 2030 1762 2028M1761 2019 1762 2028M1730 2021 1743 2025M1725 2032 1727 2037M1743 2029 1743 2025M1743 2029 1731 2036M1750 2020 1743 2025M1727 2037 1727 2037M1733 2053 1744 2045M1741 2152 1745 2143M1731 2149 1720 2150M1697 2155 1703 2152M1697 2155 1697 2166M1655 1880 1652 1877M1626 1881 1621 1876M1637 1879 1626 1881M1742 1908 1749 1903M1768 1884 1762 1890M1890 2142 1893 2141M1919 2134 1910 2133M1896 2121 1896 2126M1915 2118 1905 2128M1978 2213 1983 2204M1967 2202 1972 2199M1972 2199 1981 2200M1983 2204 1981 2200M1981 2216 1978 2213M1981 2216 1991 2217M2002 2178 1991 2177M1985 2185 1991 2177M1926 2208 1936 2210M1956 2199 1955 2198M1963 2216 1954 2214M1862 2247 1869 2241M1854 2246 1853 2235M1854 2246 1849 2249M1841 2236 1853 2235M1836 2244 1839 2247M1831 2223 1817 2219M1821 2235 1819 2235M1741 2167 1741 2153M1766 2126 1768 2130M1814 2145 1809 2143M1804 2135 1809 2143M1797 2156 1796 2152M1704 2252 1705 2253M1714 2241 1704 2252M1719 2257 1720 2264M1714 2241 1723 2243M1723 2243 1723 2251M1879 2208 1885 2202M1872 2186 1873 2195M1860 2186 1858 2198M1736 2238 1737 2237M1718 2196 1726 2197M1732 2186 1726 2197M1726 2197 1728 2199M1909 2247 1921 2254M1937 2257 1935 2244M1981 2216 1973 2228M1985 2231 1975 2230M2003 2236 1995 2242M1981 1968 1991 1976M1972 1977 1984 1984M1991 1980 1988 1983M1998 1969 1991 1976M1964 1979 1972 1977M2003 1983 1991 1980M1960 2001 1968 2003M1968 2003 1978 2000M1984 1984 1973 1990M1868 1938 1876 1940M1856 1956 1860 1951M1852 1941 1858 1943M1874 1958 1871 1949M1887 1946 1876 1942M1884 1931 1876 1940M1994 2053 1999 2046M1989 2018 1982 2019M1974 2034 1974 2024M1956 2029 1968 2022M1983 2001 1978 2011M1605 2125 1610 2136M1619 2120 1617 2120M1612 2109 1617 2120M1639 2128 1622 2129M1712 1989 1714 1993M1712 1989 1718 1979M1732 1978 1718 1979M1702 1984 1712 1989M1754 2036 1753 2036M1754 2036 1766 2042M1766 2042 1767 2050M1765 2050 1767 2050M1744 2045 1746 2044M1743 2029 1753 2036M1727 2164 1727 2163M1709 2170 1709 2169M1697 2166 1709 2169M1704 2179 1709 2170M1762 1905 1769 1907M1776 1894 1763 1893M1749 1903 1760 1902M1771 1916 1769 1907M1975 2185 1975 2177M1975 2177 1966 2174M1972 2199 1972 2187M1945 2219 1947 2230M1930 2225 1932 2230M1936 2210 1937 2218M1920 2223 1930 2225M1963 2223 1952 2230M1935 2244 1936 2243M1884 2228 1892 2224M1879 2208 1881 2212M1856 2232 1853 2224M1869 2209 1866 2210M1819 2252 1809 2251M1809 2251 1803 2252M1832 2174 1823 2170M1854 2200 1853 2211M1858 2198 1854 2200M1817 2219 1817 2213M1829 2206 1833 2208M1765 2169 1781 2165M1763 2172 1765 2169M1765 2143 1764 2143M1765 2143 1772 2154M1779 2139 1787 2142M1779 2130 1786 2124M1787 2150 1780 2155M1798 2120 1790 2124M1723 2251 1735 2251M1754 2235 1741 2233M1770 2245 1760 2255M1771 2240 1755 2241M1764 2175 1752 2186M1745 2178 1744 2184M1953 2243 1955 2238M1953 2243 1954 2247M1955 2238 1971 2235M1970 2244 1971 2235M1952 2230 1955 2238M1978 2248 1970 2244M1978 2248 1985 2240M1990 2253 1994 2250M2001 1994 1988 1997M1996 2010 1984 2001M1984 2001 1988 1997M1983 2001 1984 2001M1754 2235 1764 2227M1773 2237 1777 2236M1795 2218 1798 2217M1787 2224 1787 2227M1806 2225 1799 2235M1798 2202 1787 2206M1798 2202 1806 2204M1777 2213 1786 2208M1779 2221 1787 2224M1817 2213 1806 2210M1797 2156 1793 2166M1767 2211 1773 2199M1767 2192 1773 2199M1823 2170 1815 2183M1804 2175 1815 2183M1760 2255 1765 2262M1754 2253 1748 2256M1790 2177 1780 2176M1764 2175 1772 2182M1767 2192 1772 2185M1772 2182 1772 2185M1798 2185 1802 2190M1787 2194 1787 2187M1797 2195 1802 2190M1789 2185 1787 2187M1844 2187 1842 2190M1850 2171 1843 2183M1844 2199 1842 2190" stroke="#2c9438" stroke-width="1.9"/>
<path d="M1817 2128 1822 2125M1817 2128 1822 2138M1822 2138 1834 2136M1661 2151 1669 2152M1669 2152 1673 2149M1677 2130 1676 2127M1614 1987 1609 1994M1623 1988 1627 1998M1627 1998 1619 2004M1618 2004 1619 2004M1603 1981 1612 1982M1640 1986 1633 1981M1966 1920 1966 1929M1966 1929 1960 1934M1960 1934 1953 1935M1938 1915 1943 1909M1954 1911 1956 1920M1949 1940 1953 1935M1936 1942 1936 1930M1936 1930 1943 1925M1923 1909 1914 1915M1925 1930 1918 1935M1918 1935 1906 1931M1942 1904 1943 1909M1924 1908 1921 1901M1935 1951 1944 1953M1915 1972 1930 1963M1916 1956 1928 1959M1919 1976 1913 1986M1913 1986 1902 1982M1932 1978 1936 1973M1932 1978 1919 1976M1936 1967 1930 1963M1919 1943 1916 1956M1826 1959 1821 1965M1824 1951 1817 1949M1856 1876 1848 1885M1866 1881 1864 1891M1798 1949 1803 1939M1712 1914 1698 1913M1699 1925 1695 1921M1713 1912 1712 1914M1713 1912 1715 1904M1696 1908 1698 1913M1703 1902 1715 1904M1631 1948 1634 1938M1617 1957 1608 1946M1643 1921 1628 1928M1613 2164 1622 2167M1622 2167 1619 2175M1612 2158 1617 2153M1650 2144 1646 2139M1632 2141 1639 2136M1621 2138 1632 2141M1623 2153 1632 2148M1657 2144 1650 2144M1612 2158 1602 2158M1640 1986 1652 1979M1640 1990 1652 1991M1636 2020 1646 2024M1635 2013 1642 2006M1653 2012 1650 2005M1655 2001 1652 1991M1655 2001 1650 2005M1648 2028 1646 2024M1699 2060 1708 2069M1707 2050 1719 2053M1713 2105 1708 2105M1727 1933 1723 1924M1741 1918 1744 1929M1735 1935 1744 1929M1605 1968 1622 1969M1605 1962 1617 1957M1612 1982 1622 1973M1622 1969 1622 1973M1622 1973 1633 1979M1822 2125 1822 2119M1809 2130 1817 2128M1822 2119 1813 2117M1813 2117 1812 2109M1862 2138 1861 2129M1834 2136 1843 2137M1852 2123 1841 2122M1852 2123 1854 2126M1870 2124 1878 2126M1754 2101 1754 2101M1609 2250 1616 2252M1616 2252 1618 2263M1989 1910 1976 1915M2001 1911 1989 1910M1954 1911 1963 1903M1994 1923 2001 1917M1966 1941 1977 1941M1960 1953 1971 1954M1978 1950 1971 1954M1960 1934 1966 1941M1951 1945 1959 1949M1993 1934 1995 1944M1978 1950 1978 1950M1969 1964 1981 1966M1969 1964 1971 1954M2004 1933 1993 1934M1966 1886 1959 1883M1963 1898 1950 1897M1984 1889 1976 1880M1913 2000 1925 2005M1929 1988 1934 1999M1894 2001 1896 2010M1894 2001 1900 1998M1913 1986 1917 1991M1900 1984 1902 1982M1821 1973 1816 1977M1892 1944 1899 1944M1892 1944 1887 1946M1901 1952 1886 1955M1821 1973 1831 1974M1786 1958 1771 1966M1780 1973 1791 1970M1807 1955 1791 1963M1803 1984 1807 1979M1798 1934 1801 1935M1798 1934 1784 1941M1787 1951 1784 1941M1771 2000 1768 1990M1821 1897 1810 1895M1813 1911 1823 1901M1810 1895 1800 1902M1904 1928 1898 1927M1898 1927 1892 1930M1834 1947 1836 1937M1694 1942 1690 1938M1694 1942 1699 1942M1771 1966 1769 1966M1877 1877 1882 1881M1860 1894 1860 1895M1860 1895 1861 1897M1892 1895 1896 1891M1902 1909 1891 1902M1859 2114 1858 2108M1859 2114 1870 2117M1870 2117 1876 2112M1876 2112 1872 2102M1852 2123 1859 2114M1842 2098 1848 2094M1842 2098 1851 2108M1848 2094 1864 2097M1878 2126 1884 2118M1884 2118 1882 2113M1814 2073 1813 2072M1822 2056 1815 2060M1840 2050 1831 2057M1801 2072 1799 2067M1881 2086 1882 2083M1968 2121 1970 2126M1966 2130 1951 2132M1951 2132 1947 2126M1975 2115 1968 2121M1962 2108 1958 2113M1942 2126 1947 2126M1900 2109 1902 2113M1857 2028 1855 2034M1838 2042 1843 2036M1726 1882 1724 1879M1703 1902 1704 1892M1722 1900 1716 1893M1711 1866 1716 1880M1692 1907 1683 1901M1683 1901 1694 1890M1623 1911 1632 1898M1610 2181 1616 2187M1616 2187 1627 2188M1630 2186 1629 2177M1643 2196 1645 2194M1645 2194 1637 2185M1627 2188 1627 2196M1630 2186 1637 2185M1643 2206 1648 2207M1645 2194 1653 2191M1652 2212 1648 2207M1657 2199 1668 2198M1669 2157 1658 2168M1669 2174 1658 2168M1649 2159 1652 2168M1637 2185 1646 2177M1646 2177 1647 2174M1664 1968 1672 1963M1673 2025 1676 2015M1688 2023 1693 2015M1676 2015 1693 2015M1616 2069 1616 2062M1616 2069 1605 2076M1620 2059 1621 2050M1610 2046 1621 2050M1616 2069 1624 2075M1624 2080 1624 2075M1620 2059 1626 2059M1647 2062 1647 2055M1639 2068 1636 2068M1661 1983 1666 1987M1680 1977 1681 1981M1666 1987 1681 1981M1697 2075 1700 2083M1700 2083 1711 2081M1684 2067 1687 2075M1717 2061 1730 2067M1727 2074 1729 2070M1706 2049 1710 2040M1706 2049 1694 2047M1687 2052 1694 2047M1707 2050 1706 2049M1685 2037 1692 2037M1697 2028 1703 2021M1697 2028 1698 2034M1681 2067 1667 2071M1660 2067 1667 2071M1673 2149 1682 2147M1682 2147 1689 2155M1688 2135 1688 2140M1767 2109 1767 2112M1685 2117 1693 2110M1688 2135 1695 2131M1717 2110 1708 2120M1717 2110 1713 2105M1693 2110 1689 2100M1699 2095 1696 2094M1667 2082 1683 2083M1700 2083 1695 2089M1683 2083 1695 2089M1734 2102 1721 2091M1740 2094 1734 2084M1717 2110 1728 2111M1734 2106 1734 2102M1734 2106 1746 2107M1744 2072 1729 2070M1796 1878 1801 1885M1754 1875 1748 1881M1726 1882 1731 1885M1766 1874 1768 1884M1784 1941 1777 1939M1771 1942 1777 1939M1744 1929 1748 1930M1751 1937 1760 1935M1760 1935 1765 1943M1766 1958 1755 1955M1748 1930 1751 1937M1764 1929 1760 1935M1777 1932 1777 1939M1655 1963 1654 1962M1644 1972 1640 1973M1624 1967 1636 1965M1629 2045 1636 2043M1636 2043 1637 2042M1637 2042 1639 2036M1639 2036 1626 2030M1626 2030 1623 2037M1621 2050 1629 2045M1625 2028 1626 2030M1799 2100 1795 2099M1792 2088 1795 2099M1777 2101 1782 2102M1792 2088 1783 2089M1829 2069 1833 2074M1823 2081 1833 2074M1817 2094 1826 2089M1817 2094 1819 2105M1921 2177 1931 2181M1921 2177 1920 2170M1931 2181 1939 2170M1939 2170 1931 2164M1931 2181 1933 2182M1933 2182 1946 2185M1939 2170 1949 2170M1967 2141 1974 2144M1975 2144 1985 2135M1975 2115 1989 2116M1996 2143 1991 2135M1991 2135 1999 2129M1984 2151 1985 2159M1982 2162 1985 2159M1931 2164 1945 2157M1904 2193 1908 2183M1920 2177 1908 2183M1920 2170 1912 2168M1899 2175 1908 2183M1830 2149 1826 2150M1822 2138 1814 2145M1816 2149 1826 2150M1852 2157 1861 2150M1852 2157 1844 2154M1702 2229 1708 2223M1701 2195 1710 2201M1701 2195 1691 2208M1710 2201 1709 2209M1699 2190 1701 2195M1636 2254 1629 2262M1631 2249 1634 2250M1643 2206 1631 2211M1608 2208 1612 2203M1942 2257 1949 2265M1937 2257 1928 2261M1978 2257 1963 2260M1885 2026 1886 2035M1892 2047 1898 2042M1886 2048 1881 2055M1864 2055 1865 2049M1850 2015 1855 2012M1947 1974 1957 1965M1964 1979 1962 1967M1931 1985 1946 1986M1946 1986 1950 1992M1934 1999 1940 2000M1950 1992 1940 2000M1934 2012 1924 2012M1919 2025 1927 2026M1948 2019 1940 2018M1942 2004 1934 2012M1861 1996 1866 1997M1864 2013 1873 2005M1894 2001 1888 2000M1888 2000 1879 2005M1879 2005 1873 2005M1857 1989 1863 1985M1862 1964 1874 1958M1862 1964 1868 1972M1862 1964 1850 1971M1868 1972 1863 1976M1834 1978 1829 1989M1838 1875 1839 1887M1841 1888 1848 1885M1841 1888 1839 1887M1798 1915 1795 1923M1798 1934 1793 1925M1771 1916 1762 1922M1830 1924 1824 1917M1811 1929 1812 1920M1812 1920 1815 1915M1838 1924 1830 1924M1836 1937 1840 1933M1795 1923 1812 1920M1832 1910 1841 1912M1832 1910 1829 1902M1845 1909 1842 1899M1853 1908 1845 1909M1884 1931 1876 1923M1883 1917 1881 1909M1840 1961 1845 1956M1862 1964 1856 1956M1845 1956 1843 1949M1686 1958 1681 1962M1686 1958 1687 1951M1663 1950 1651 1945M1729 1947 1728 1955M1734 1969 1724 1963M1957 1878 1965 1869M1957 1878 1943 1877M1976 1878 1976 1880M1919 1872 1912 1878M1915 1886 1921 1886M1948 1891 1941 1888M1882 2083 1881 2080M1897 2072 1889 2070M1881 2055 1883 2063M1883 2063 1887 2065M1851 2086 1841 2080M1818 2032 1815 2025M1800 2037 1794 2042M1801 2055 1797 2054M1798 2031 1801 2027M1815 2025 1801 2027M1798 2031 1787 2030M1782 2037 1785 2043M1778 2052 1778 2052M1758 2078 1758 2066M1780 2083 1772 2084M1781 2070 1774 2071M1785 2066 1781 2070M1778 2052 1769 2065M1764 2006 1766 2015M1784 2009 1777 2015M1772 2030 1773 2037M1975 2096 1984 2090M1962 2096 1963 2095M1963 2095 1964 2085M1984 2090 1979 2083M1979 2083 1969 2081M1924 2123 1915 2118M1986 2066 1993 2073M1979 2083 1993 2073M1897 2072 1910 2063M1889 2070 1887 2065M1917 2038 1908 2046M1923 2063 1920 2051M1924 2077 1937 2069M1928 2062 1937 2069M1924 2077 1924 2084M1924 2084 1935 2084M1928 2062 1934 2053M1942 2069 1947 2056M1990 2121 2009 2118M1681 1881 1685 1874M1681 1881 1681 1881M1694 1890 1691 1884M1615 1909 1609 1911M1632 1898 1632 1898M1639 1900 1652 1892M1651 1890 1652 1892M1671 1894 1664 1894M1660 1895 1656 1906M1656 1906 1657 1907M1658 1914 1657 1907M1672 1912 1667 1914M1670 1877 1665 1880M1665 1880 1664 1894M1652 1892 1660 1895M1668 2198 1669 2198M1684 2206 1681 2208M1688 2176 1704 2179M1690 2190 1683 2184M1668 2176 1677 2185M1669 2198 1669 2192M1653 2191 1656 2187M1703 2021 1701 2014M1701 2014 1696 2013M1656 2041 1654 2050M1647 2055 1654 2050M1647 2062 1656 2067M1656 2067 1660 2067M1661 2106 1662 2095M1673 2109 1679 2101M1673 2109 1669 2111M1662 2095 1667 2082M1666 2116 1669 2111M1645 2106 1633 2115M1642 2124 1650 2122M1607 2095 1615 2099M1621 2083 1623 2095M1639 2068 1641 2077M1650 2076 1641 2077M1650 2076 1653 2082M1649 2095 1645 2089M1627 2095 1640 2088M1640 2088 1645 2089M1628 2107 1631 2101M1628 2107 1614 2106M1638 2083 1640 2088M1682 1993 1685 2002M1682 1993 1685 1989M1685 1989 1684 1984M1710 2040 1727 2037M1727 2037 1724 2051M1695 2131 1704 2130M1733 2133 1751 2131M1688 2140 1702 2146M1704 2130 1708 2139M1702 2146 1708 2139M1739 2122 1733 2133M1729 2114 1721 2126M1783 1890 1791 1893M1786 1912 1790 1902M1731 1903 1730 1900M1912 2168 1911 2164M1899 2175 1894 2176M1889 2181 1894 2176M1870 2159 1873 2156M1873 2156 1882 2157M1875 2173 1885 2164M1882 2157 1885 2164M1862 2176 1851 2171M1856 2163 1870 2159M1872 2154 1873 2156M1882 2181 1889 2181M1898 2162 1898 2154M1887 2154 1898 2154M1940 2127 1934 2140M1909 2246 1915 2240M1915 2200 1906 2211M1925 2202 1926 2208M1926 2208 1917 2215M1910 2194 1915 2200M1895 2201 1900 2211M1901 2229 1900 2227M1946 2185 1945 2191M1908 2150 1921 2139M1921 2139 1929 2142M1911 2164 1912 2155M1906 2150 1908 2150M1839 2232 1841 2236M1836 2244 1826 2244M1739 2169 1738 2172M1851 2171 1850 2171M1838 2161 1841 2169M1850 2171 1841 2169M1755 2127 1766 2126M1766 2126 1773 2118M1785 2113 1781 2118M1676 2217 1692 2220M1697 2237 1686 2238M1731 2220 1731 2216M1751 2221 1744 2212M1709 2209 1721 2212M1721 2212 1722 2213M1767 2211 1755 2205M1676 2217 1672 2219M1666 2218 1672 2219M1686 2238 1682 2246M1683 2247 1682 2246M1642 2234 1646 2239M1651 2240 1662 2235M1657 2227 1662 2235M1666 2218 1657 2227M1653 2251 1651 2240M1634 2250 1646 2239M1628 2227 1617 2225M1627 2238 1611 2241M1611 2241 1613 2227M1619 2217 1617 2225M1642 2234 1628 2237M1888 1978 1889 1985M1900 1971 1888 1978M1888 2000 1884 1989M1840 1933 1850 1935M1850 1921 1858 1929M1869 1923 1865 1928M1680 1924 1682 1925M1680 1924 1667 1927M1690 1938 1683 1936M1695 1921 1682 1925M1719 1958 1701 1964M1699 1942 1703 1955M1686 1958 1699 1960M1690 1971 1701 1964M1701 1964 1708 1973M1695 1978 1702 1978M1747 1977 1754 1968M1754 1968 1766 1968M1752 1997 1742 1998M1764 1977 1753 1983M1764 2006 1756 2004M1756 2004 1745 2012M1739 2010 1739 2000M1833 2074 1841 2076M1832 2060 1845 2065M1864 2055 1859 2060M1870 2077 1872 2067M1860 2062 1856 2072M1841 2077 1856 2072M1826 2006 1828 1997M1854 2002 1843 2002M1811 2005 1798 2004M1811 2005 1814 2011M1800 2017 1798 2017M1814 1999 1811 2005M1932 2095 1938 2090M1962 2096 1949 2098M1944 2110 1944 2103M1926 2107 1934 2101M1923 2085 1924 2095M1908 2098 1918 2099M1908 2098 1905 2092M1932 2095 1924 2095M1900 2109 1908 2098M1898 2092 1905 2092M1976 2066 1974 2058M1986 2066 1976 2066M1994 2053 1980 2050M1994 2053 1994 2059M1942 2069 1957 2062M1922 2040 1925 2048M1942 2040 1938 2034M1917 2038 1922 2040M1927 2026 1936 2033M1971 2041 1959 2053M1953 2052 1959 2053M1974 2034 1986 2033M1879 2265 1880 2253M1886 2265 1896 2257M1880 2253 1884 2250M1865 2255 1880 2253M1909 2246 1909 2247M1901 2257 1896 2257M1991 2217 1996 2212M1991 2217 1993 2227M1610 1897 1603 1902M1614 2106 1612 2109M1739 2000 1726 2000M1713 2024 1723 2015M1685 1989 1696 1989M1700 1998 1709 1997M1724 2051 1733 2053M1748 2064 1746 2061M1766 2015 1761 2019M1750 2020 1761 2019M1713 2028 1725 2032M1744 2045 1731 2036M1734 2136 1731 2149M1719 2139 1720 2150M1689 2155 1697 2155M1702 2146 1703 2152M1688 2171 1697 2166M1637 1879 1642 1875M1623 1885 1608 1887M1748 1881 1750 1888M1762 1890 1750 1888M1750 1888 1746 1893M1893 2141 1900 2142M1893 2141 1894 2128M1900 2142 1910 2133M1896 2126 1894 2128M1906 2150 1900 2142M1964 2215 1978 2213M1989 2191 2002 2192M1989 2191 1985 2185M1991 2177 1989 2173M1982 2162 1984 2169M1984 2169 1989 2173M1941 2194 1940 2207M1936 2210 1940 2207M1940 2207 1950 2207M1963 2216 1964 2215M1954 2214 1950 2207M1865 2255 1862 2247M1884 2250 1880 2243M1885 2238 1880 2243M1869 2241 1869 2232M1856 2232 1869 2232M1849 2249 1847 2260M1839 2247 1832 2259M1819 2253 1832 2259M1814 2265 1819 2253M1816 2149 1810 2158M1831 2223 1830 2227M1817 2219 1812 2224M1748 2166 1755 2159M1753 2153 1755 2159M1753 2138 1763 2143M1768 2130 1763 2143M1694 2252 1698 2251M1698 2251 1704 2252M1683 2247 1694 2252M1713 2237 1714 2241M1705 2253 1719 2257M1873 2195 1865 2199M1869 2209 1879 2208M1860 2185 1860 2186M1889 2181 1881 2197M1722 2230 1737 2237M1721 2212 1728 2199M1717 2186 1725 2181M1916 2240 1929 2245M1963 2216 1963 2223M1963 2223 1973 2228M1985 2240 1995 2242M1995 2227 2003 2236M1991 1976 1991 1980M1964 1979 1964 1979M1964 1979 1963 1989M1951 2008 1960 2001M1858 1943 1868 1938M1871 1949 1876 1942M1986 2033 1993 2028M1982 2019 1978 2011M1974 2024 1968 2022M1964 2016 1966 2013M1952 2015 1964 2016M1605 2125 1617 2120M1622 2129 1619 2120M1619 2135 1610 2136M1600 2141 1610 2136M1631 2115 1619 2120M1730 1987 1732 1978M1726 2000 1723 1993M1709 1997 1714 1993M1710 1973 1718 1979M1752 2052 1765 2050M1746 2061 1752 2052M1773 2037 1766 2042M1760 2065 1765 2050M1778 2052 1767 2050M1715 2154 1714 2154M1718 2171 1709 2170M1737 2153 1727 2163M1720 2150 1715 2154M1725 2180 1718 2171M1725 2181 1725 2180M1760 1902 1762 1905M1776 1894 1774 1904M1769 1907 1774 1904M1762 1890 1763 1893M1783 1890 1776 1894M1972 2187 1966 2187M1972 2187 1975 2185M1966 2187 1957 2181M1966 2174 1957 2181M1985 2185 1975 2185M1984 2169 1975 2177M1969 2165 1966 2174M1937 2218 1945 2219M1937 2218 1930 2225M1954 2214 1945 2219M1952 2230 1947 2230M1916 2240 1932 2230M1874 2225 1875 2227M1885 2238 1884 2228M1869 2232 1875 2227M1900 2227 1892 2224M1900 2211 1893 2217M1839 2232 1851 2223M1851 2223 1853 2224M1874 2225 1866 2219M1866 2210 1866 2219M1813 2237 1809 2251M1801 2260 1803 2252M1792 2265 1780 2258M1780 2257 1798 2249M1780 2251 1780 2257M1798 2249 1796 2242M1796 2242 1799 2237M1854 2200 1844 2199M1838 2215 1847 2216M1866 2210 1853 2211M1829 2206 1817 2213M1851 2223 1847 2216M1765 2169 1763 2162M1763 2162 1772 2154M1755 2159 1763 2162M1779 2139 1779 2130M1790 2124 1786 2124M1768 2130 1779 2130M1765 2143 1779 2139M1804 2135 1795 2136M1796 2152 1787 2150M1781 2118 1786 2124M1735 2251 1740 2245M1755 2241 1751 2247M1740 2245 1751 2247M1770 2245 1771 2240M1760 2255 1754 2253M1751 2247 1754 2253M1739 2199 1740 2186M1739 2199 1755 2196M1757 2194 1755 2196M1744 2184 1740 2186M1739 2199 1739 2199M1755 2205 1755 2196M1954 2247 1959 2249M1936 2243 1953 2243M1981 2254 1990 2253M1995 2242 1994 2250M1779 2221 1764 2227M1770 2245 1780 2251M1787 2242 1777 2236M1795 2218 1787 2224M1798 2217 1806 2225M1786 2208 1795 2218M1781 2165 1782 2166M1782 2166 1793 2166M1812 2165 1803 2171M1757 2194 1767 2192M1787 2206 1782 2199M1803 2171 1804 2175M1806 2204 1815 2197M1815 2197 1825 2200M1736 2258 1748 2256M1782 2166 1780 2176M1798 2171 1790 2177M1780 2176 1772 2182M1804 2175 1798 2185M1815 2183 1816 2186M1814 2189 1816 2186M1814 2189 1802 2190M1782 2199 1787 2194M1815 2197 1814 2189M1832 2179 1843 2183M1833 2192 1842 2190M1816 2186 1825 2185M1825 2200 1833 2192" stroke="#3ab548" stroke-width="2.4"/>
<path d="M1834 2136 1834 2136M1835 2127 1822 2125M1657 2144 1661 2139M1661 2139 1672 2136M1671 2125 1676 2127M1612 1982 1614 1987M1640 1986 1640 1990M1640 1990 1635 1997M1607 2008 1618 2004M1605 2019 1619 2017M1619 2017 1622 2012M1938 1915 1943 1925M1954 1911 1943 1909M1943 1925 1948 1925M1904 1928 1906 1931M1904 1928 1914 1918M1924 1908 1937 1902M1903 1909 1914 1915M1911 1900 1921 1901M1951 1945 1944 1953M1918 1935 1918 1943M1918 1943 1919 1943M1899 1944 1902 1947M1918 1943 1902 1947M1914 1957 1916 1956M1919 1976 1915 1972M1905 1973 1910 1971M1936 1967 1936 1973M1935 1951 1928 1959M1944 1953 1948 1959M1826 1959 1824 1951M1864 1891 1860 1894M1807 1955 1798 1949M1817 1949 1816 1944M1816 1944 1803 1939M1712 1914 1714 1925M1710 1927 1714 1925M1713 1912 1726 1911M1727 1921 1723 1924M1723 1924 1714 1925M1631 1948 1615 1943M1634 1938 1627 1931M1620 1934 1615 1943M1617 1957 1622 1958M1615 1943 1608 1946M1639 1912 1625 1914M1622 1920 1625 1914M1603 2172 1610 2181M1630 2164 1623 2153M1623 2153 1617 2153M1612 2158 1613 2164M1600 2187 1610 2181M1640 2152 1650 2144M1640 2152 1632 2148M1632 2148 1632 2141M1614 2148 1602 2146M1652 1979 1660 1979M1661 1983 1652 1991M1642 2006 1650 2005M1622 2012 1635 2013M1635 1997 1642 2006M1661 2014 1653 2012M1661 2014 1660 2023M1699 2060 1707 2050M1717 2061 1719 2053M1721 2091 1713 2105M1607 1930 1620 1934M1622 1958 1624 1967M1622 1969 1624 1967M1633 1981 1633 1979M1610 2043 1611 2040M1611 2040 1609 2031M1600 2056 1610 2046M1620 2027 1609 2031M1835 2127 1841 2122M1841 2122 1840 2116M1830 2111 1822 2119M1798 2120 1807 2122M1798 2120 1800 2109M1857 2142 1850 2143M1857 2142 1862 2138M1843 2137 1850 2143M1854 2126 1861 2129M1763 2093 1754 2083M1746 2094 1754 2101M1989 1910 1987 1900M1973 1910 1974 1915M1976 1915 1974 1915M1999 1897 1987 1900M1963 1903 1973 1910M1993 1886 1984 1889M1981 1921 1976 1931M1981 1921 1976 1915M1976 1931 1966 1929M1981 1937 1976 1931M1981 1937 1993 1933M1994 1923 1993 1933M1896 2010 1908 2010M1896 2010 1890 2019M1910 2014 1908 2010M1890 2019 1891 2020M1959 1949 1960 1953M1948 1959 1954 1959M1994 1957 1999 1954M1978 1950 1988 1958M1998 1969 1994 1957M1993 1933 1993 1934M1966 1886 1965 1896M1959 1883 1948 1891M1948 1891 1950 1897M1976 1880 1966 1886M1963 1903 1963 1898M1902 1947 1901 1952M1914 1957 1903 1956M1913 2000 1912 1998M1900 1998 1912 1998M1931 1985 1929 1988M1848 1978 1848 1979M1826 1959 1840 1961M1840 1961 1840 1965M1786 1958 1791 1963M1791 1963 1792 1969M1771 1966 1780 1973M1802 1971 1792 1969M1798 1949 1787 1951M1786 1958 1786 1953M1786 1953 1787 1951M1768 1990 1775 1984M1785 1995 1781 1999M1775 1984 1775 1984M1789 1981 1782 1985M1780 1973 1775 1984M1813 1911 1806 1909M1903 1909 1902 1909M1892 1944 1892 1930M1824 1951 1834 1947M1727 1933 1716 1943M1716 1943 1716 1943M1716 1943 1706 1940M1771 1953 1766 1958M1769 1966 1766 1958M1976 1878 1970 1870M1864 1891 1878 1890M1880 1894 1871 1903M1896 1891 1895 1880M1909 1892 1915 1886M1899 1875 1895 1880M1880 1894 1892 1895M1911 1900 1909 1892M1858 2108 1866 2102M1866 2102 1872 2102M1840 2116 1851 2108M1864 2097 1866 2102M1882 2113 1876 2112M1882 2113 1891 2107M1891 2107 1887 2098M1887 2098 1884 2097M1884 2097 1872 2102M1881 2086 1884 2097M1867 2091 1864 2097M1814 2073 1829 2069M1832 2060 1831 2057M1838 2042 1829 2040M1818 2048 1829 2040M1815 2060 1803 2060M1803 2060 1799 2067M1882 2083 1894 2083M1894 2083 1898 2092M1959 2117 1947 2126M1966 2130 1970 2126M1958 2113 1959 2117M1942 2126 1941 2112M1958 2113 1944 2110M1941 2112 1944 2110M1884 2118 1896 2121M1857 2028 1849 2022M1855 2034 1843 2036M1843 2036 1839 2028M1839 2028 1849 2022M1858 2045 1842 2050M1856 2035 1855 2034M1829 2040 1824 2032M1705 1892 1711 1882M1716 1893 1726 1882M1716 1880 1724 1879M1696 1908 1692 1907M1704 1892 1694 1890M1642 1907 1639 1900M1632 1898 1639 1900M1643 1921 1649 1923M1627 1931 1628 1928M1649 1923 1650 1925M1640 2152 1640 2157M1661 2151 1649 2159M1649 2159 1640 2157M1619 2175 1629 2177M1643 2196 1627 2196M1629 2177 1635 2171M1643 2196 1643 2206M1653 2191 1657 2199M1652 2212 1661 2212M1661 2212 1665 2208M1679 2167 1669 2174M1635 2171 1647 2174M1672 1963 1681 1962M1681 1962 1685 1971M1680 1977 1685 1971M1678 2028 1674 2027M1673 2025 1674 2027M1620 2059 1616 2062M1697 2075 1708 2069M1711 2081 1713 2075M1699 2060 1689 2062M1687 2075 1697 2075M1730 2067 1729 2070M1710 2040 1706 2035M1698 2034 1692 2037M1687 2052 1689 2062M1679 2043 1685 2037M1679 2043 1682 2051M1682 2051 1687 2052M1713 2028 1713 2024M1713 2028 1706 2035M1713 2024 1703 2021M1678 2028 1685 2037M1688 2023 1697 2028M1681 2067 1673 2056M1673 2056 1668 2056M1684 2067 1681 2067M1682 2147 1688 2140M1767 2112 1752 2118M1752 2118 1749 2118M1746 2107 1749 2118M1684 2119 1685 2117M1697 2110 1693 2110M1697 2110 1701 2118M1676 2127 1684 2119M1689 2100 1696 2094M1687 2075 1683 2083M1665 2080 1667 2082M1683 2083 1683 2083M1695 2089 1696 2094M1734 2102 1740 2094M1734 2106 1728 2111M1744 2080 1734 2084M1727 2074 1732 2084M1809 1884 1812 1882M1783 1881 1782 1870M1737 1872 1746 1881M1746 1881 1748 1881M1783 1881 1781 1884M1768 1884 1781 1884M1771 1953 1771 1942M1741 1918 1743 1916M1762 1922 1761 1923M1751 1916 1743 1916M1755 1949 1747 1945M1747 1945 1751 1937M1761 1923 1764 1929M1764 1929 1777 1932M1643 1957 1654 1962M1636 1965 1640 1973M1655 1963 1644 1972M1631 1949 1642 1952M1642 1952 1643 1957M1664 1968 1655 1963M1652 1979 1644 1972M1629 2045 1623 2037M1611 2040 1623 2037M1648 2028 1639 2036M1796 2078 1801 2072M1796 2078 1797 2084M1800 2108 1799 2100M1811 2093 1799 2100M1797 2084 1792 2088M1763 2093 1765 2093M1765 2093 1776 2097M1815 2079 1823 2081M1819 2105 1829 2107M1832 2090 1826 2089M1839 2098 1829 2107M1811 2093 1817 2094M1861 2150 1872 2154M1861 2150 1857 2142M1872 2154 1875 2141M1931 2164 1929 2164M1949 2170 1951 2181M1974 2144 1975 2144M1989 2116 1988 2121M1981 2127 1988 2121M1984 2151 1996 2143M1985 2135 1991 2135M1967 2154 1973 2163M1959 2155 1954 2163M1945 2157 1954 2163M1933 2182 1926 2190M1830 2149 1843 2151M1826 2150 1826 2162M1838 2161 1844 2154M1844 2154 1843 2151M1834 2136 1830 2149M1814 2145 1816 2149M1850 2143 1843 2151M1713 2237 1719 2230M1708 2223 1714 2222M1709 2209 1703 2212M1691 2208 1696 2213M1718 2196 1717 2186M1717 2186 1704 2186M1699 2190 1704 2186M1645 2224 1634 2223M1629 2210 1631 2211M1616 2187 1609 2198M1609 2213 1619 2217M1872 2034 1876 2040M1877 2040 1876 2040M1891 2020 1885 2026M1903 2031 1899 2035M1899 2035 1886 2035M1886 2048 1892 2047M1864 2055 1881 2055M1850 2015 1849 2022M1857 2028 1867 2021M1864 2013 1867 2021M1947 1974 1951 1979M1951 1979 1964 1979M1957 1965 1962 1967M1936 1973 1947 1974M1946 1986 1951 1979M1924 2012 1919 2018M1948 2019 1952 2015M1925 2005 1924 2012M1940 2000 1942 2004M1914 2029 1903 2031M1914 2029 1919 2025M1905 1973 1900 1971M1903 1956 1895 1965M1883 1959 1885 1964M1895 1965 1885 1964M1854 2002 1855 2012M1848 1987 1848 1979M1848 1978 1863 1976M1874 1958 1883 1959M1877 1973 1868 1972M1802 1991 1810 1993M1822 1987 1810 1993M1812 1882 1823 1884M1821 1897 1826 1887M1810 1895 1809 1884M1798 1915 1786 1912M1793 1925 1795 1923M1793 1925 1783 1924M1783 1924 1779 1917M1777 1932 1783 1924M1830 1924 1820 1931M1824 1917 1815 1915M1801 1935 1811 1929M1806 1909 1798 1915M1845 1909 1841 1912M1839 1898 1842 1899M1824 1917 1832 1910M1823 1901 1829 1902M1841 1888 1839 1898M1871 1903 1872 1906M1845 1956 1856 1956M1672 1963 1669 1949M1669 1949 1671 1948M1669 1949 1663 1950M1642 1952 1651 1945M1646 1933 1652 1942M1729 1947 1736 1942M1728 1955 1738 1954M1738 1954 1746 1945M1746 1945 1736 1942M1724 1963 1724 1960M1744 1962 1749 1961M1755 1955 1749 1961M1747 1945 1746 1945M1931 1893 1941 1888M1921 1901 1930 1893M1993 1886 1996 1881M1897 2072 1900 2077M1894 2083 1900 2077M1881 2080 1889 2070M1899 2057 1887 2065M1867 2091 1861 2082M1832 2090 1841 2080M1824 2032 1818 2032M1815 2025 1818 2020M1809 2040 1811 2046M1809 2040 1800 2037M1818 2048 1811 2046M1798 2031 1800 2037M1787 2030 1782 2037M1778 2052 1786 2057M1778 2052 1785 2043M1799 2067 1785 2066M1786 2057 1785 2066M1748 2064 1758 2066M1784 2077 1781 2070M1784 2077 1780 2083M1772 2084 1767 2077M1796 2078 1784 2077M1769 2065 1760 2065M1764 2006 1771 2000M1781 1999 1784 2009M1772 2030 1782 2023M1975 2096 1979 2105M1987 2105 1995 2097M1984 2090 1993 2091M1976 2108 1979 2105M1963 2095 1975 2096M1924 2123 1932 2114M1915 2118 1913 2114M1940 2127 1925 2126M1940 2127 1942 2126M1925 2126 1924 2123M1941 2112 1932 2114M2000 2083 1993 2091M1908 2078 1900 2077M1914 2029 1917 2038M1898 2042 1908 2046M1916 2066 1923 2063M1920 2051 1910 2053M1908 2046 1910 2053M1915 2073 1924 2077M1923 2063 1928 2062M1935 2084 1945 2074M1937 2069 1942 2069M1942 2069 1942 2069M1934 2053 1947 2056M1991 2112 2002 2110M1681 1881 1691 1884M1711 1882 1701 1877M1622 1920 1607 1923M1623 1911 1615 1909M1615 1909 1618 1897M1618 1897 1622 1896M1622 1896 1632 1898M1677 1901 1671 1894M1677 1901 1674 1905M1664 1894 1660 1895M1683 1901 1677 1901M1681 1881 1671 1894M1679 1917 1692 1907M1672 1912 1674 1905M1655 1880 1665 1880M1655 1880 1651 1890M1642 1907 1656 1906M1649 1923 1658 1914M1665 2208 1681 2208M1684 2206 1681 2200M1704 2179 1704 2186M1677 2185 1669 2192M1669 2192 1656 2187M1656 2187 1657 2184M1669 2174 1668 2176M1688 2171 1688 2176M1683 2184 1677 2185M1693 2015 1696 2013M1658 2038 1665 2036M1665 2036 1672 2044M1660 2023 1673 2025M1679 2043 1672 2044M1661 2106 1669 2111M1662 2095 1676 2097M1676 2097 1679 2101M1662 2095 1662 2095M1683 2083 1676 2097M1685 2117 1673 2109M1689 2100 1679 2101M1671 2125 1666 2116M1651 2110 1645 2106M1633 2115 1642 2124M1661 2106 1651 2110M1639 2128 1639 2136M1623 2095 1615 2099M1624 2080 1638 2083M1645 2101 1631 2101M1627 2095 1631 2101M1653 2082 1645 2089M1614 2106 1615 2099M1664 1999 1668 1995M1668 1995 1682 1993M1685 2002 1674 2009M1673 2009 1674 2009M1655 2001 1664 1999M1696 2013 1694 2004M1708 2120 1709 2125M1733 2133 1734 2136M1751 2131 1753 2138M1753 2138 1745 2143M1728 2111 1729 2114M1755 2127 1751 2131M1733 2133 1733 2133M1709 2125 1721 2126M1781 1884 1783 1890M1791 1893 1792 1900M1726 1911 1731 1903M1743 1916 1742 1908M1742 1908 1731 1903M1722 1900 1730 1900M1731 1885 1732 1896M1730 1900 1732 1896M1898 2162 1891 2167M1891 2167 1894 2176M1870 2172 1875 2173M1862 2176 1870 2172M1852 2157 1856 2163M1860 2185 1872 2186M1860 2185 1862 2176M1872 2186 1882 2181M1882 2181 1875 2173M1882 2157 1887 2154M1945 2157 1945 2151M1945 2151 1951 2146M1896 2238 1898 2242M1915 2240 1911 2231M1915 2200 1925 2202M1926 2190 1929 2197M1929 2197 1925 2202M1900 2227 1911 2215M1929 2197 1941 2194M1945 2191 1941 2194M1912 2155 1908 2150M1912 2155 1928 2152M1928 2152 1929 2150M1898 2154 1906 2150M1945 2151 1929 2150M1934 2140 1929 2142M1925 2126 1919 2134M1839 2232 1830 2227M1830 2227 1821 2235M1756 2173 1748 2166M1756 2173 1745 2178M1739 2169 1741 2167M1681 2208 1676 2217M1696 2213 1692 2220M1702 2229 1691 2222M1686 2238 1680 2231M1680 2231 1691 2222M1708 2223 1703 2212M1714 2222 1722 2213M1744 2212 1738 2212M1767 2211 1760 2220M1744 2212 1755 2205M1668 2259 1666 2249M1653 2251 1647 2256M1636 2254 1647 2256M1646 2226 1657 2227M1651 2240 1646 2239M1666 2236 1662 2235M1627 2238 1628 2237M1634 2223 1628 2227M1631 2249 1627 2238M1609 2242 1611 2241M1603 2225 1613 2227M1888 1978 1877 1974M1877 1974 1875 1984M1875 1984 1877 1988M1889 1985 1884 1989M1877 1973 1877 1974M1861 1996 1857 1989M1866 1997 1877 1988M1872 1906 1863 1914M1853 1908 1860 1914M1860 1914 1863 1914M1850 1935 1852 1941M1667 1927 1665 1928M1679 1917 1680 1924M1650 1925 1665 1928M1713 1952 1719 1958M1699 1960 1701 1964M1716 1943 1713 1952M1724 1960 1719 1958M1690 1971 1695 1978M1710 1973 1708 1973M1749 1961 1754 1968M1734 1975 1747 1977M1769 1966 1766 1968M1775 1984 1764 1977M1764 1977 1766 1968M1756 1992 1752 1997M1739 1990 1742 1998M1768 1990 1756 1992M1747 1977 1751 1982M1841 2076 1841 2077M1841 2076 1845 2065M1842 2050 1856 2060M1862 2081 1856 2072M1883 2063 1872 2067M1861 2082 1862 2081M1838 1994 1832 1994M1832 1994 1828 1997M1850 2015 1836 2013M1831 2018 1835 2014M1829 1989 1832 1994M1810 1993 1814 1999M1798 2004 1794 2008M1800 2017 1813 2013M1814 2011 1813 2013M1801 2027 1800 2017M1934 2101 1932 2095M1949 2098 1944 2103M1952 2083 1944 2091M1947 2074 1945 2074M1964 2085 1952 2083M1923 2085 1909 2087M1918 2099 1924 2095M1905 2092 1909 2087M1924 2084 1923 2085M1976 2066 1970 2071M1974 2058 1960 2055M1970 2071 1962 2070M1969 2081 1970 2071M1995 2012 1989 2018M1922 2040 1936 2033M1925 2048 1933 2048M1933 2048 1942 2040M1936 2033 1938 2034M1948 2023 1938 2034M1957 2036 1970 2037M1970 2037 1971 2041M1948 2023 1956 2029M1942 2040 1950 2041M1980 2048 1989 2042M1974 2034 1970 2037M1898 2242 1886 2250M1723 2015 1720 2011M1723 2015 1728 2016M1728 2016 1739 2010M1720 2011 1713 2009M1702 1978 1702 1984M1696 1989 1700 1998M1730 2067 1737 2061M1733 2053 1737 2061M1730 2021 1725 2032M1727 2037 1731 2036M1728 2016 1730 2021M1741 2153 1741 2152M1741 2153 1737 2153M1737 2153 1731 2149M1639 1886 1637 1879M1623 1885 1626 1881M1608 1887 1612 1873M1622 1896 1623 1885M1732 1896 1746 1893M1749 1903 1746 1893M1896 2126 1905 2128M1905 2128 1910 2133M1881 2129 1894 2128M1964 2215 1967 2202M1996 2206 1983 2204M1989 2191 1981 2200M2001 2166 1989 2173M1945 2191 1955 2198M1956 2199 1950 2207M1956 2199 1967 2202M1869 2241 1880 2243M1896 2238 1885 2238M1862 2247 1854 2246M1853 2235 1856 2232M1849 2249 1839 2247M1826 2244 1819 2252M1819 2252 1819 2253M1826 2162 1821 2166M1810 2158 1812 2165M1821 2166 1812 2165M1819 2235 1812 2224M1741 2152 1753 2153M1753 2153 1764 2143M1763 2143 1764 2143M1809 2130 1804 2135M1797 2156 1810 2158M1809 2143 1796 2152M1687 2261 1694 2252M1700 2266 1705 2253M1697 2237 1698 2251M1719 2257 1723 2251M1873 2195 1881 2197M1865 2199 1869 2209M1885 2202 1881 2197M1858 2198 1865 2199M1895 2201 1885 2202M1741 2230 1741 2233M1741 2233 1737 2237M1723 2243 1736 2238M1738 2212 1739 2199M1739 2199 1728 2199M1725 2181 1732 2186M1921 2254 1929 2245M1915 2240 1916 2240M1921 2254 1923 2260M1929 2245 1935 2244M1985 2231 1993 2227M1975 2230 1973 2228M1985 2231 1985 2240M1981 1968 1972 1977M1984 1984 1988 1983M1981 1966 1981 1968M1973 1990 1963 1989M1973 1990 1978 2000M1960 2001 1959 1992M1959 1992 1963 1989M1950 1992 1959 1992M1860 1951 1858 1943M1860 1951 1871 1949M1876 1940 1876 1942M1865 1928 1868 1938M1989 2042 1996 2043M1982 2019 1974 2024M1978 2011 1966 2013M1968 2022 1964 2016M1983 2001 1978 2000M1968 2003 1966 2013M1901 2257 1905 2263M1622 2129 1619 2135M1621 2138 1619 2135M1723 1993 1714 1993M1723 1993 1730 1987M1739 1990 1730 1987M1734 1975 1732 1978M1746 2044 1752 2052M1746 2044 1753 2036M1762 2028 1754 2036M1715 2154 1727 2163M1714 2154 1709 2169M1727 2164 1718 2171M1703 2152 1714 2154M1739 2169 1727 2164M1738 2172 1725 2180M1760 1902 1763 1893M1751 1916 1762 1905M1790 1902 1774 1904M1955 2198 1966 2187M1951 2181 1957 2181M1932 2230 1937 2233M1947 2230 1937 2233M1936 2243 1937 2233M1884 2228 1875 2227M1881 2212 1874 2225M1881 2212 1893 2217M1892 2224 1893 2217M1853 2224 1866 2219M1819 2235 1813 2237M1780 2257 1780 2258M1798 2249 1803 2252M1780 2251 1787 2242M1787 2242 1796 2242M1813 2237 1799 2237M1841 2169 1832 2174M1821 2166 1823 2170M1844 2199 1833 2208M1833 2208 1838 2215M1847 2216 1853 2211M1831 2223 1838 2215M1781 2165 1780 2155M1780 2155 1772 2154M1756 2173 1763 2172M1787 2142 1795 2136M1795 2136 1790 2124M1787 2150 1787 2142M1736 2238 1740 2245M1754 2235 1755 2241M1757 2194 1752 2186M1752 2186 1744 2184M1732 2186 1740 2186M1763 2172 1764 2175M1959 2249 1970 2244M1942 2257 1954 2247M1975 2230 1971 2235M1963 2260 1959 2249M1978 2257 1981 2254M1981 2254 1978 2248M1990 2253 1997 2264M1994 2250 2004 2250M1988 1983 1988 1997M1767 2211 1777 2213M1777 2213 1779 2221M1760 2220 1764 2227M1764 2227 1764 2227M1771 2240 1773 2237M1764 2227 1773 2237M1787 2227 1799 2235M1786 2208 1787 2206M1806 2204 1806 2210M1806 2210 1798 2217M1812 2224 1806 2225M1777 2236 1787 2227M1799 2237 1799 2235M1803 2171 1798 2171M1793 2166 1798 2171M1773 2199 1782 2199M1829 2206 1825 2200M1780 2258 1769 2263M1736 2258 1730 2264M1748 2256 1743 2270M1735 2251 1736 2258M1798 2185 1789 2185M1787 2194 1797 2195M1790 2177 1789 2185M1772 2185 1787 2187M1798 2202 1797 2195M1832 2179 1825 2185M1825 2185 1833 2192M1843 2183 1844 2187M1832 2174 1832 2179M1860 2186 1844 2187" stroke="#55d865" stroke-width="3"/>
</g>
<ellipse cx="1780" cy="2110" rx="18" ry="8" fill="#000" opacity="0.5" filter="url(#hb)"/>
<ellipse cx="1735" cy="2150" rx="10" ry="10" fill="#55d060" opacity="0.5" filter="url(#hb)"/>
</g>
<clipPath id="h4"><rect x="1999" y="1882.8" width="381.8" height="370.9"/></clipPath>
<g clip-path="url(#h4)">
<rect x="1999" y="1882.8" width="381.8" height="370.9" fill="#183a1c"/>
<g fill="none" stroke-linecap="round">
<path d="M2313 1995 2332 2001M2332 2001 2327 1985M2301 2040 2289 2029M2301 2040 2296 2055M2285 2029 2273 2040M2335 2180 2341 2187M2292 2173 2306 2189M2313 2169 2318 2178M2374 2206 2382 2191M2374 2206 2356 2197M2356 2197 2355 2191M2378 2214 2397 2215M2381 2232 2401 2236M2372 2220 2362 2219M2069 2002 2069 2012M2107 2016 2110 2025M2114 2009 2131 2020M2131 2020 2126 2030M2126 2030 2110 2025M2079 2105 2064 2108M2064 2108 2052 2101M2028 2031 2037 2038M2035 2054 2037 2038M2317 1959 2307 1958M2347 1980 2344 1988M2328 2012 2313 2014M2332 2001 2336 2005M2304 2002 2313 2014M2301 2040 2313 2040M2289 2029 2295 2021M2295 2021 2312 2019M2354 2039 2351 2023M2384 2087 2380 2076M2380 2076 2359 2070M2023 2230 2022 2219M2064 2232 2075 2231M2061 2247 2062 2246M2080 2220 2093 2220M2085 2267 2078 2250M2097 2253 2098 2263M2097 2253 2092 2244M2025 2151 2018 2151M2027 2140 2021 2132M2255 1994 2271 2003M2255 1994 2252 2011M2257 2015 2252 2011M2257 2015 2270 2014M2271 2013 2270 2014M2289 2010 2271 2013M2255 1963 2247 1975M2251 1986 2236 1990M2236 2006 2252 2011M2236 2006 2232 2001M2282 1950 2286 1945M2285 1965 2305 1964M2296 1912 2295 1922M2296 1912 2282 1909M2268 1913 2282 1909M1996 2225 1992 2224M1996 2225 2003 2212M2014 2236 2005 2234M2255 2027 2243 2028M2236 2006 2232 2017M2225 2067 2212 2061M2225 2067 2226 2067M2206 2050 2206 2043M2221 2021 2220 2025M2362 2141 2369 2130M2362 2141 2343 2131M2343 2131 2349 2117M2369 2130 2367 2123M2273 2059 2280 2049M2229 2061 2245 2053M2224 2042 2230 2037M2332 2237 2325 2223M2325 2223 2308 2224M2304 2233 2308 2224M2368 2166 2372 2172M2372 2172 2392 2168M2363 2142 2372 2149M2363 2142 2350 2156M2350 2159 2347 2167M2339 2207 2334 2216M2339 2207 2333 2197M2311 2204 2299 2211M2311 2204 2316 2206M2325 2223 2327 2217M2308 2224 2299 2211M2259 2143 2251 2132M2259 2143 2246 2151M2234 2140 2236 2132M2212 2119 2234 2127M2212 2119 2211 2119M2300 2166 2293 2154M2292 2173 2283 2174M2276 2150 2293 2154M2283 2174 2272 2163M2286 2192 2281 2181M2259 2143 2272 2144M2219 2168 2204 2170M2204 2170 2193 2155M2207 2093 2209 2084M2209 2084 2199 2069M2222 2103 2207 2093M2211 2119 2196 2109M2235 2092 2229 2103M2225 2078 2209 2084M2170 2072 2168 2073M2168 2073 2172 2089M2170 2072 2169 2061M2184 2057 2195 2068M2119 1993 2100 1986M2114 2009 2114 2008M2143 2012 2142 2010M2110 1928 2114 1922M2110 1928 2117 1939M2117 1939 2131 1940M2131 1940 2133 1931M2137 1953 2131 1940M2137 1953 2151 1951M2146 1930 2133 1931M2156 1945 2151 1951M2028 2031 2029 2020M2155 2074 2152 2077M2155 2074 2168 2073M2145 2058 2133 2056M2131 2066 2133 2056M2113 2069 2113 2071M2138 2075 2134 2084M2134 2084 2123 2084M2286 2073 2283 2079M2248 2074 2253 2069M2309 2097 2303 2091M2310 2076 2303 2091M2320 2100 2324 2089M2306 2117 2301 2111M2274 2135 2265 2125M2302 2124 2291 2128M2257 2104 2244 2091M2274 2114 2270 2103M2235 2092 2244 2091M2047 2101 2034 2089M2016 2077 2026 2088M2017 2069 2037 2067M2037 2067 2040 2059M2060 2050 2053 2061M2071 2050 2075 2054M2072 2089 2080 2079M2052 2081 2059 2067M2049 2037 2060 2050M2348 2246 2364 2248M2366 2241 2364 2248M2328 2240 2336 2261M2097 2253 2122 2254M2335 1971 2340 1958M2340 1958 2358 1961M2382 2191 2390 2193M2390 1963 2384 1964M2384 1964 2364 1952M2364 1951 2390 1945M2228 1916 2217 1898M2203 1882 2210 1883M2210 1883 2219 1895M2317 1919 2322 1909M2296 1911 2297 1902M2348 2003 2365 2000M2353 2019 2373 2025M2373 2025 2373 2009M2336 2005 2345 2007M2351 2023 2353 2019M2371 1990 2365 2000M2005 2198 2012 2199M1995 2186 2001 2178M2001 2178 2012 2178M2029 2212 2038 2198M1997 2158 2009 2161M2016 2168 2009 2161M2016 2168 2012 2178M2000 2242 2007 2260M2000 2242 1985 2247M2007 2260 1984 2256M2021 2258 2022 2250M2021 2258 2030 2265M2018 2151 2009 2161M2046 2126 2024 2124M2065 2120 2047 2123M2051 2135 2046 2126M2045 2142 2027 2140M2002 2114 2018 2113M2109 2237 2123 2227M2135 2239 2128 2229M2156 2258 2153 2258M2135 2239 2151 2238M2008 2006 2023 2011M2045 2008 2048 2013M2011 2039 1998 2036M1996 2020 1995 2033M1998 2036 1993 2048M2127 1983 2120 1975M2135 1957 2122 1958M2101 1950 2091 1939M2032 1941 2022 1939M2022 1939 2016 1930M2048 1913 2060 1927M2011 1910 2018 1924M2039 1916 2029 1908M2015 1907 2029 1908M2186 1954 2190 1940M2148 1928 2146 1930M2275 1971 2270 1986M2311 1979 2292 1980M2285 1965 2282 1971M2282 1950 2264 1952M2304 2002 2291 1998M2271 2003 2278 1995M2191 1940 2190 1940M2238 1930 2250 1923M2238 1950 2244 1939M2228 1916 2240 1909M2276 1935 2262 1934M2180 2043 2188 2034M2188 2034 2202 2037M2220 2025 2204 2026M2164 2033 2153 2032M2169 2061 2163 2055M2124 2046 2128 2039M2170 2023 2179 2021M2211 2007 2201 2008M2232 2001 2218 1998M2211 2007 2218 1998M2215 1978 2210 1988M2384 2110 2403 2103M2384 2154 2391 2141M2369 2130 2383 2131M2391 2141 2383 2131M2383 2131 2392 2122M2319 2141 2327 2140M2312 2146 2318 2161M2332 2146 2331 2162M2318 2161 2331 2162M2302 2124 2319 2141M2339 2168 2331 2162M2339 2096 2345 2085M2357 2103 2360 2090M2360 2090 2345 2085M2349 2117 2345 2107M2384 2110 2383 2111M2344 2065 2330 2074M2330 2074 2328 2074M2358 2068 2344 2065M2345 2085 2330 2074M2202 2173 2204 2170M2182 2182 2186 2175M2186 2175 2202 2173M2197 2197 2203 2198M2211 2191 2203 2198M2260 2172 2268 2182M2246 2180 2257 2193M2261 2204 2263 2199M2192 2139 2204 2129M2192 2139 2177 2131M2204 2129 2186 2120M2177 2131 2177 2130M2186 2120 2183 2120M2197 2147 2192 2139M2196 2109 2186 2120M2170 2106 2183 2120M2127 1895 2124 1900M2127 1895 2146 1898M2124 1923 2129 1910M2114 1922 2103 1909M2103 1909 2108 1901M2144 1971 2156 1973M2094 2055 2090 2038M2102 2036 2092 2034M2089 2058 2094 2055M2053 2221 2055 2214M2073 2213 2055 2214M2038 2198 2049 2203M2025 2151 2034 2161M2038 2181 2048 2181M2169 2192 2175 2183M2175 2183 2182 2182M2317 1959 2327 1951M2340 1958 2333 1952M2327 1951 2333 1952M2372 1917 2376 1904M2372 1917 2356 1914M2350 1906 2359 1895M2359 1895 2369 1894M2376 1904 2393 1908M2388 1888 2370 1890M2370 1890 2369 1894M2380 1926 2397 1923M2380 1926 2379 1930M2239 1885 2254 1882M1995 2144 1983 2135M2061 2195 2071 2196M2117 2209 2110 2202M2128 2189 2115 2187M2128 2189 2136 2201M2104 2179 2092 2183M2092 2183 2097 2199M2117 1862 2123 1879M2099 1870 2108 1879M2122 1880 2123 1879M2137 1876 2123 1879M2098 1889 2108 1879M2149 1889 2146 1898M2064 1873 2072 1882M2072 1882 2085 1882M2085 1882 2089 1886M2030 1876 2024 1885M2014 1885 2024 1885M1996 1920 1979 1916M2000 1909 1992 1903M1998 1928 2016 1930M2011 1910 2000 1909M2008 2006 2005 2001M2026 1988 2030 2004M2033 1986 2051 1996M2050 1974 2060 1979M2069 2002 2060 1996M2086 1998 2078 1984M2100 1986 2098 1980M2078 1984 2085 1976M2085 1976 2098 1980M2073 1945 2059 1947M2073 1945 2084 1962M2085 1976 2079 1967M2043 1956 2040 1961M2052 1937 2059 1947M2071 1929 2080 1938M2080 1938 2073 1945M2094 1910 2085 1900M2074 1899 2085 1900M2103 1909 2094 1910M2197 1890 2178 1885M2177 1894 2172 1896M2168 1928 2172 1917M2178 1885 2177 1894M2153 1992 2166 1983M2161 2105 2152 2097M2152 2097 2146 2096M2163 2173 2167 2161M2177 2131 2174 2146M2167 2161 2163 2156M2163 2173 2148 2172M2144 2158 2163 2156M2144 2158 2140 2162M2150 2202 2136 2201M2157 2192 2169 2192M2147 2179 2148 2172M2205 2217 2215 2227M2215 2227 2227 2225M2193 2224 2197 2218M2197 2218 2205 2217M2203 2198 2209 2208M2229 2211 2226 2213M2250 2221 2251 2223M2251 2223 2240 2236M2082 2107 2088 2119M2088 2119 2098 2124M2098 2089 2097 2101M2045 2142 2048 2153M2048 2153 2045 2160M2064 2140 2065 2154M2048 2153 2065 2154M2048 2181 2061 2172M2271 2225 2266 2228M2304 2233 2290 2231M2290 2231 2284 2225M2339 1924 2352 1926M2352 1926 2361 1936M2333 1952 2336 1939M2336 1902 2350 1906M2356 1914 2352 1926M2155 2226 2155 2226M2167 2229 2175 2217M2173 2212 2175 2217M2176 2245 2177 2240M2195 2234 2191 2238M2191 2238 2177 2240M2193 2224 2175 2217M2087 2181 2073 2181M2073 2181 2063 2172M2063 2172 2070 2160M2084 2160 2070 2160M2092 2183 2087 2181M2106 2167 2104 2179M2065 2154 2070 2160M2002 1960 2004 1945M1990 1960 2002 1960M1994 1936 2004 1945M2029 1985 2020 1969M2022 1939 2016 1946M2000 1980 2009 1991M2178 1998 2167 1984M2167 1984 2182 1975M2166 1983 2167 1984M2146 2096 2136 2104M2119 2095 2119 2095M2101 2132 2098 2124M2164 2126 2157 2118M2145 2137 2153 2139M2136 2119 2138 2117M2161 2105 2157 2118M2164 2148 2153 2139M2144 2158 2141 2140M2122 2138 2122 2138M2122 2138 2141 2140M2121 2150 2107 2151M2121 2150 2130 2160M2130 2160 2122 2168M2122 2138 2121 2150M2096 2140 2075 2127M2073 2127 2075 2127M2101 2132 2096 2140M2065 2120 2073 2127M2191 2238 2203 2256M2176 2245 2186 2259M2203 2256 2197 2263M2232 2244 2238 2260M2221 2260 2214 2254M2257 2248 2252 2260M2329 1875 2334 1882M2266 2228 2269 2242M2311 2255 2295 2252M2277 2258 2275 2266M2266 2248 2277 2258M2370 1890 2364 1873" stroke="#2c9438" stroke-width="1.9"/>
<path d="M2313 1995 2311 1979M2311 1979 2321 1980M2321 1980 2327 1985M2285 2029 2289 2029M2273 2040 2280 2049M2347 2167 2339 2168M2339 2168 2335 2180M2363 2183 2355 2191M2300 2166 2292 2173M2300 2166 2313 2169M2372 2220 2381 2232M2374 2206 2378 2214M2356 2197 2353 2207M2086 2026 2073 2020M2069 2012 2073 2020M1998 2078 1992 2064M1999 2057 2012 2061M2012 2061 2017 2069M2016 2077 2017 2069M2072 2089 2060 2088M2020 2031 2028 2031M2011 2039 2018 2050M2018 2050 2035 2054M2321 1980 2330 1972M2311 1979 2305 1964M2330 1972 2335 1971M2328 2012 2335 2027M2313 2014 2312 2019M2312 2019 2321 2034M2313 1995 2304 2002M2313 2040 2321 2034M2349 2043 2338 2043M2349 2043 2354 2039M2351 2023 2335 2027M2359 2070 2360 2090M2375 2093 2360 2090M2023 2230 2038 2234M2022 2219 2028 2212M2023 2230 2014 2236M2037 2249 2022 2250M2022 2250 2014 2236M2064 2232 2062 2246M2078 2250 2092 2244M2092 2243 2092 2244M2101 2235 2092 2243M2080 2220 2075 2231M2018 2151 2003 2142M2271 2003 2271 2013M2255 2027 2265 2038M2238 1950 2255 1963M2210 1938 2206 1944M2210 1938 2223 1940M2223 1960 2213 1960M2251 1986 2252 1985M2226 1980 2236 1990M2232 2001 2236 1990M2210 1938 2205 1925M2298 1946 2286 1945M2286 1945 2276 1935M2276 1935 2278 1927M2003 2212 2002 2206M2206 2043 2224 2042M2235 2038 2230 2037M2220 2025 2230 2037M2349 2117 2367 2123M2273 2059 2266 2059M2255 2048 2246 2049M2286 2073 2273 2059M2297 2056 2296 2068M2328 2240 2313 2243M2313 2243 2304 2233M2368 2166 2372 2149M2350 2159 2350 2156M2368 2183 2372 2172M2390 2270 2385 2258M2369 2255 2364 2264M2378 2239 2389 2254M2316 2206 2327 2217M2327 2196 2333 2197M2251 2132 2236 2132M2239 2113 2250 2115M2239 2113 2234 2127M2234 2127 2236 2132M2246 2151 2234 2140M2229 2103 2222 2103M2222 2103 2211 2119M2276 2150 2272 2163M2283 2174 2281 2181M2247 2155 2262 2164M2272 2144 2276 2150M2272 2163 2262 2164M2212 2119 2209 2129M2234 2140 2218 2142M2222 2162 2216 2148M2222 2162 2219 2168M2197 2147 2216 2148M2238 2164 2222 2162M2216 2148 2218 2142M2195 2068 2199 2069M2196 2109 2191 2097M2235 2092 2225 2078M2170 2072 2185 2077M2172 2089 2180 2097M2180 2097 2191 2097M2225 2067 2225 2078M2093 1997 2100 1986M2086 1998 2093 1997M2131 2020 2141 2018M2141 2018 2143 2012M2135 1984 2140 1988M2127 1983 2119 1993M2140 1988 2142 2010M2124 1923 2114 1922M2146 1930 2156 1945M2069 2012 2048 2013M2073 2020 2062 2028M2055 2028 2048 2019M2055 2028 2049 2037M2155 2089 2152 2077M2145 2058 2155 2074M2152 2077 2138 2075M2131 2066 2113 2069M2113 2071 2123 2084M2266 2059 2261 2069M2226 2067 2248 2074M2245 2053 2253 2069M2261 2069 2253 2069M2290 2089 2286 2099M2290 2089 2303 2091M2301 2111 2293 2108M2320 2100 2309 2097M2324 2089 2323 2078M2310 2076 2323 2078M2327 2108 2324 2120M2327 2108 2320 2100M2324 2120 2306 2117M2274 2114 2284 2118M2272 2144 2274 2135M2293 2154 2301 2144M2259 2123 2265 2125M2302 2124 2306 2117M2293 2108 2284 2118M2263 2088 2252 2084M2263 2088 2271 2101M2271 2101 2270 2103M2244 2091 2252 2084M2250 2115 2257 2104M2274 2079 2263 2088M2286 2099 2271 2101M2052 2101 2047 2101M2026 2088 2034 2089M2043 2080 2037 2067M2059 2067 2053 2061M2091 2080 2093 2078M2040 2059 2053 2061M2341 2240 2352 2227M2341 2240 2348 2246M2356 2226 2352 2227M2334 2216 2352 2227M2346 2261 2348 2246M2362 2219 2356 2226M2101 2235 2109 2237M2364 1976 2358 1961M2381 2028 2391 2019M2381 1973 2393 1984M2371 1990 2388 1994M2362 2058 2358 2068M2362 2058 2372 2056M2388 2065 2372 2056M2354 2039 2372 2042M2372 2056 2372 2042M2203 1905 2217 1898M2203 1905 2200 1903M2203 1882 2197 1890M2200 1903 2197 1890M2217 1898 2219 1895M2330 1892 2336 1902M2315 1871 2304 1879M2296 1912 2296 1911M2345 2007 2353 2019M2345 2007 2348 2003M2373 2009 2365 2000M2344 1988 2348 2003M2376 2027 2373 2025M2012 2199 2025 2189M2002 2206 2005 2198M2028 2212 2012 2199M2033 2190 2025 2189M1994 2165 1997 2158M2021 2258 2010 2262M2005 2234 2000 2242M2037 2249 2048 2264M1997 2158 1995 2153M1995 2153 1995 2144M1995 2153 1974 2151M2042 2112 2021 2108M2018 2113 2021 2108M2018 2100 2026 2088M2007 2132 1995 2119M2123 2227 2128 2229M2135 2245 2135 2239M2160 2251 2151 2238M2020 2031 2005 2016M2120 1975 2122 1958M2117 1939 2111 1951M2122 1958 2111 1951M2111 1951 2101 1950M2094 1931 2091 1939M2041 1931 2038 1925M2038 1925 2039 1916M2048 1913 2039 1916M1994 1889 2011 1889M2005 1874 2014 1885M2014 1885 2011 1889M2168 1946 2171 1935M2148 1928 2168 1928M2168 1946 2156 1945M2191 1940 2189 1923M2203 1882 2189 1869M2219 1875 2210 1883M2282 1971 2292 1980M2292 1980 2291 1998M2278 1995 2291 1998M2264 1952 2260 1962M2260 1962 2275 1971M2200 1963 2209 1964M2209 1964 2215 1978M2244 1939 2238 1930M2258 1940 2262 1934M2250 1923 2256 1925M2226 1924 2238 1930M2266 1912 2268 1913M2219 1895 2238 1896M2243 1902 2238 1896M2180 2043 2185 2051M2202 2037 2204 2026M2153 2032 2148 2040M2153 2052 2163 2055M2180 2043 2170 2039M2141 2018 2153 2032M2128 2039 2126 2030M2133 2056 2124 2046M2143 2012 2155 2010M2204 2026 2197 2018M2197 2018 2181 2017M2179 2021 2181 2017M2197 2018 2201 2008M2218 1998 2210 1988M2400 2092 2384 2087M2375 2093 2384 2110M2363 2142 2362 2141M2369 2114 2383 2111M2383 2111 2392 2122M2319 2141 2312 2146M2332 2131 2324 2120M2332 2131 2327 2140M2313 2169 2318 2161M2343 2131 2332 2131M2343 2107 2339 2096M2327 2108 2343 2107M2320 2061 2328 2074M2338 2043 2338 2051M2297 2056 2320 2061M2286 2192 2281 2203M2299 2211 2286 2209M2250 2221 2229 2211M2250 2221 2251 2210M2229 2211 2231 2198M2202 2173 2211 2191M2268 2182 2259 2194M2257 2193 2259 2194M2238 2164 2246 2177M2263 2199 2259 2194M2227 2193 2231 2198M2231 2198 2257 2193M2251 2210 2261 2204M2177 2130 2183 2120M2180 2097 2170 2106M2145 1917 2155 1907M2108 1901 2124 1900M2151 1951 2161 1963M2175 1963 2161 1963M2108 2059 2116 2045M2116 2045 2102 2036M2092 2034 2090 2038M2124 2046 2116 2045M2074 2042 2090 2038M2086 2026 2092 2034M2033 2190 2038 2181M2049 2203 2061 2195M2313 2243 2311 2255M2197 2197 2186 2204M2327 1951 2311 1938M2317 1919 2324 1928M2311 1938 2324 1928M2356 1914 2350 1906M2380 1926 2372 1917M2251 1863 2256 1880M1982 2099 1998 2100M1995 2082 2003 2095M2003 2095 1998 2100M2002 2114 1998 2100M1995 2119 1989 2118M2073 2198 2071 2196M2116 2217 2117 2209M2095 2217 2092 2203M2092 2203 2097 2199M2123 2227 2116 2217M2140 2222 2133 2205M2093 2220 2095 2217M2136 2201 2133 2205M2104 2179 2115 2187M2073 2198 2092 2203M2108 1901 2098 1889M2127 1895 2122 1880M2087 1873 2085 1882M2044 1874 2052 1892M2050 1896 2052 1892M2053 1908 2048 1913M2015 1907 2011 1889M2033 1986 2050 1974M2060 1996 2051 1996M2045 2008 2051 1996M2026 1988 2029 1985M2029 1985 2033 1986M2120 1975 2104 1972M2098 1980 2104 1972M2101 1950 2097 1960M2104 1972 2097 1960M2084 1962 2079 1967M2058 1952 2059 1947M2040 1961 2050 1974M2060 1927 2071 1929M2091 1939 2080 1938M2043 1956 2032 1941M2094 1910 2087 1918M2087 1918 2072 1914M2089 1886 2085 1900M2071 1929 2072 1914M2149 1889 2157 1887M2166 1910 2172 1896M2194 1904 2177 1894M2189 1923 2185 1919M2157 1887 2172 1896M2140 1988 2153 1992M2153 1992 2160 2004M2181 2017 2175 2005M2160 2004 2175 2005M2170 2106 2161 2105M2186 2175 2178 2165M2193 2155 2185 2154M2178 2165 2185 2154M2174 2146 2185 2154M2164 2148 2163 2156M2140 2162 2148 2172M2157 2192 2150 2202M2128 2189 2130 2184M2209 2208 2226 2213M2227 2225 2226 2213M2197 2218 2186 2204M2097 2101 2112 2115M2034 2161 2045 2160M2051 2135 2064 2140M2045 2160 2061 2172M2331 1930 2339 1924M2361 1936 2361 1945M2333 1906 2339 1924M2155 2226 2167 2229M2154 2207 2173 2212M2140 2222 2155 2226M2160 2251 2176 2245M2177 2240 2167 2229M2150 2202 2154 2207M2177 2204 2173 2212M2071 2196 2073 2181M2106 2167 2086 2159M2061 2172 2063 2172M2002 1960 2013 1968M2016 1946 2004 1945M2000 1980 2013 1968M2040 1961 2027 1962M2189 1998 2196 1986M2189 1998 2178 1998M2188 1977 2182 1975M2175 1963 2182 1975M2200 1963 2188 1977M2123 2084 2119 2095M2136 2104 2119 2095M2098 2089 2119 2095M2122 2138 2101 2132M2122 2138 2121 2119M2177 2130 2164 2126M2136 2104 2138 2117M2106 2167 2107 2151M2140 2162 2130 2160M2096 2142 2085 2147M2070 2139 2073 2127M2107 2151 2096 2142M2088 2119 2075 2127M2216 2243 2214 2254M2216 2243 2232 2244M2240 2237 2257 2248M2330 1892 2334 1882M2359 1895 2344 1883M2269 2242 2288 2241M2257 2248 2266 2248M2269 2242 2266 2248M2285 2258 2277 2258M2295 2252 2285 2258" stroke="#3ab548" stroke-width="2.4"/>
<path d="M2280 2049 2296 2055M2347 2167 2363 2183M2355 2191 2341 2187M2318 2178 2316 2184M2306 2189 2316 2184M2363 2183 2368 2183M2382 2191 2368 2183M2378 2214 2372 2220M2353 2207 2362 2219M2086 2026 2093 2014M2093 2014 2085 1999M2069 2002 2085 1999M2107 2016 2114 2009M1998 2078 2016 2077M1999 2057 1992 2064M2079 2105 2072 2089M2060 2088 2052 2101M2020 2031 2011 2039M2311 1979 2311 1979M2317 1959 2330 1972M2307 1958 2305 1964M2327 1985 2344 1988M2335 1971 2347 1980M2335 2027 2329 2036M2321 2034 2329 2036M2336 2005 2328 2012M2338 2043 2329 2036M2384 2087 2375 2093M2038 2234 2045 2222M2045 2222 2029 2212M2028 2212 2029 2212M2037 2249 2043 2241M2043 2241 2038 2234M2062 2246 2078 2250M2075 2231 2092 2243M2061 2247 2043 2241M2053 2221 2045 2222M2053 2221 2064 2232M2101 2235 2093 2220M2025 2151 2027 2140M2003 2142 2007 2132M2007 2132 2021 2132M2285 2029 2270 2014M2255 2027 2257 2015M2265 2038 2273 2040M2295 2021 2289 2010M2223 1960 2235 1971M2223 1960 2233 1950M2235 1971 2247 1975M2233 1950 2238 1950M2223 1940 2233 1950M2213 1960 2206 1944M2235 1971 2226 1980M2247 1975 2252 1985M2251 1986 2255 1994M2213 1919 2205 1925M2213 1919 2224 1921M2223 1940 2226 1924M2224 1921 2226 1924M2305 1938 2298 1946M2305 1938 2295 1922M2295 1922 2278 1927M2282 1950 2285 1965M2307 1958 2298 1946M2278 1927 2268 1913M1979 2203 2002 2206M2022 2219 2003 2212M2005 2234 1996 2225M2243 2028 2232 2017M2212 2061 2206 2050M2226 2067 2229 2061M2229 2061 2224 2042M2243 2028 2235 2038M2232 2017 2221 2021M2265 2038 2255 2048M2266 2059 2255 2048M2235 2038 2246 2049M2246 2049 2245 2053M2286 2073 2296 2068M2296 2055 2297 2056M2332 2237 2328 2240M2372 2149 2384 2154M2384 2154 2394 2163M2350 2159 2368 2166M2385 2258 2389 2254M2369 2255 2385 2258M2378 2239 2381 2232M2316 2206 2327 2196M2327 2217 2334 2216M2304 2193 2311 2204M2304 2193 2306 2189M2316 2184 2327 2196M2341 2187 2333 2197M2353 2207 2339 2207M2335 2180 2318 2178M2251 2132 2259 2123M2259 2123 2250 2115M2229 2103 2239 2113M2304 2193 2286 2192M2247 2155 2246 2151M2209 2129 2218 2142M2193 2155 2197 2147M2247 2155 2238 2164M2207 2093 2194 2093M2194 2093 2185 2077M2185 2077 2195 2068M2191 2097 2194 2093M2212 2061 2199 2069M2169 2061 2184 2057M2206 2050 2185 2051M2184 2057 2185 2051M2114 2008 2093 1997M2114 2008 2119 1995M2119 1995 2119 1993M2086 1998 2085 1999M2107 2016 2093 2014M2142 2010 2119 1995M2135 1984 2127 1983M2124 1923 2133 1931M2055 2028 2062 2028M2048 2019 2048 2013M2049 2037 2037 2038M2048 2019 2029 2020M2172 2089 2155 2089M2131 2066 2138 2075M2283 2079 2274 2079M2274 2079 2261 2069M2309 2097 2301 2111M2286 2099 2293 2108M2283 2079 2290 2089M2310 2076 2296 2068M2274 2135 2290 2132M2265 2125 2274 2114M2290 2132 2291 2128M2291 2128 2284 2118M2301 2144 2290 2132M2257 2104 2270 2103M2248 2074 2252 2084M2060 2088 2052 2081M2034 2089 2043 2080M2043 2080 2052 2081M2018 2050 2012 2061M2035 2054 2040 2059M2073 2072 2059 2067M2073 2072 2075 2054M2060 2050 2071 2050M2080 2079 2073 2072M2080 2079 2091 2080M2089 2058 2075 2054M2089 2058 2093 2078M2062 2028 2074 2042M2074 2042 2071 2050M2356 2226 2366 2241M2332 2237 2341 2240M2369 2255 2364 2248M2378 2239 2366 2241M2153 2258 2142 2266M2153 2258 2135 2245M2135 2245 2122 2253M2125 2264 2122 2254M2122 2253 2122 2254M2109 2237 2122 2253M2364 1976 2363 1979M2363 1979 2347 1980M2364 1952 2364 1951M2364 1976 2381 1973M2381 1973 2384 1964M2358 1961 2364 1952M2398 2039 2381 2028M2363 1979 2371 1990M2358 2068 2359 2070M2380 2076 2388 2065M2376 2027 2372 2042M2376 2027 2381 2028M2392 2050 2372 2042M2349 2043 2362 2058M2213 1919 2203 1905M2224 1921 2228 1916M2312 1890 2304 1879M2312 1890 2308 1897M2308 1897 2297 1902M2304 1879 2297 1877M2297 1877 2284 1887M2284 1887 2297 1902M2330 1892 2312 1890M2322 1909 2308 1897M2322 1909 2333 1906M2333 1906 2336 1902M2317 1919 2296 1911M2277 1885 2274 1883M2277 1885 2284 1887M2274 1883 2272 1865M2277 1885 2273 1896M2273 1896 2282 1909M2372 2042 2372 2042M2388 2010 2373 2009M2005 2198 1995 2186M2025 2189 2012 2178M1981 2184 1995 2186M2033 2190 2038 2198M1994 2165 2001 2178M2061 2247 2061 2257M2048 2264 2061 2257M2003 2142 1995 2144M2047 2123 2042 2112M2047 2123 2046 2126M2024 2124 2018 2113M2064 2108 2065 2120M2047 2101 2042 2112M2051 2135 2045 2142M2021 2132 2024 2124M2018 2100 2021 2108M2002 2114 1995 2119M2160 2251 2156 2258M2005 2016 2008 2006M2029 2020 2023 2011M2045 2008 2030 2004M2023 2011 2030 2004M2005 2016 1996 2020M1998 2036 1995 2033M1999 2057 1993 2048M2144 1971 2135 1957M2144 1971 2135 1984M2135 1957 2137 1953M2110 1928 2094 1931M2032 1941 2041 1931M2018 1924 2016 1930M2018 1924 2038 1925M2041 1931 2052 1937M2052 1937 2060 1927M2011 1910 2015 1907M2186 1954 2177 1955M2177 1955 2168 1946M2171 1935 2190 1940M2171 1935 2168 1928M2205 1925 2189 1923M2206 1944 2191 1940M2282 1971 2275 1971M2270 1986 2278 1995M2291 1998 2291 1998M2255 1963 2260 1962M2252 1985 2270 1986M2289 2010 2291 1998M2213 1960 2209 1964M2186 1954 2200 1963M2226 1980 2215 1978M2244 1939 2258 1940M2262 1934 2256 1925M2264 1952 2258 1940M2240 1909 2250 1923M2266 1912 2256 1925M2266 1912 2258 1905M2273 1896 2263 1898M2258 1905 2263 1898M2240 1909 2243 1902M2258 1905 2243 1902M2206 2043 2202 2037M2164 2033 2170 2039M2170 2039 2163 2055M2148 2040 2153 2052M2128 2039 2148 2040M2145 2058 2153 2052M2164 2033 2170 2023M2170 2023 2155 2010M2188 2034 2179 2021M2221 2021 2211 2007M2369 2114 2367 2123M2332 2146 2327 2140M2301 2144 2312 2146M2350 2156 2332 2146M2343 2107 2345 2107M2345 2107 2357 2103M2324 2089 2339 2096M2369 2114 2357 2103M2360 2090 2360 2090M2338 2051 2321 2056M2338 2051 2344 2065M2321 2056 2320 2061M2313 2040 2321 2056M2323 2078 2328 2074M2281 2203 2286 2209M2251 2210 2231 2198M2219 2168 2229 2183M2229 2183 2227 2193M2227 2193 2211 2191M2182 2182 2197 2197M2260 2172 2246 2177M2246 2180 2246 2177M2281 2181 2268 2182M2262 2164 2260 2172M2281 2203 2263 2199M2229 2183 2246 2180M2231 2198 2231 2198M2209 2129 2204 2129M2124 1900 2129 1910M2129 1910 2145 1917M2146 1898 2155 1907M2148 1928 2145 1917M2177 1955 2175 1963M2161 1963 2156 1973M2108 2059 2094 2055M2113 2069 2108 2059M2113 2071 2093 2078M2110 2025 2102 2036M2080 2220 2073 2213M2055 2214 2049 2203M2016 2168 2031 2168M2038 2181 2031 2168M2031 2168 2034 2161M2048 2181 2061 2195M2311 2255 2314 2259M2169 2192 2177 2204M2177 2204 2186 2204M2305 1938 2311 1938M2376 1904 2369 1894M2379 1930 2390 1945M2232 1878 2239 1885M2256 1880 2254 1882M2274 1883 2256 1880M2238 1896 2239 1885M2263 1898 2254 1882M2061 2257 2077 2270M1995 2082 1985 2082M1998 2078 1995 2082M2018 2100 2003 2095M2073 2213 2073 2198M2116 2217 2095 2217M2110 2202 2097 2199M2128 2229 2140 2222M2133 2205 2117 2209M2115 2187 2110 2202M2108 1879 2122 1880M2137 1876 2149 1889M2098 1889 2089 1886M2050 1896 2032 1892M2024 1885 2032 1892M2072 1882 2067 1891M2067 1891 2052 1892M2053 1908 2050 1896M2029 1908 2032 1892M1996 1920 2000 1909M1998 1928 1996 1920M2026 1988 2009 1991M2005 2001 2009 1991M1998 1928 1994 1936M2060 1996 2060 1979M2060 1979 2060 1979M2078 1984 2060 1979M2068 1965 2079 1967M2068 1965 2058 1952M2060 1979 2068 1965M2043 1956 2058 1952M2097 1960 2084 1962M2074 1899 2070 1913M2070 1913 2072 1914M2094 1931 2087 1918M2067 1891 2074 1899M2053 1908 2070 1913M2158 1873 2157 1887M2187 1869 2178 1884M2178 1884 2178 1885M2172 1917 2185 1919M2172 1917 2166 1910M2185 1919 2194 1904M2155 1907 2166 1910M2200 1903 2194 1904M2158 1873 2178 1884M2155 2010 2160 2004M2156 1973 2166 1983M2155 2089 2152 2097M2134 2084 2146 2096M2175 2183 2163 2173M2167 2161 2178 2165M2174 2146 2164 2148M2157 2192 2147 2179M2130 2184 2147 2179M2205 2217 2209 2208M2212 2238 2195 2234M2212 2238 2215 2227M2195 2234 2193 2224M2240 2236 2227 2225M2097 2101 2082 2107M2112 2115 2098 2124M2079 2105 2082 2107M2091 2080 2098 2089M2286 2209 2284 2225M2261 2204 2271 2225M2271 2225 2284 2225M2251 2223 2266 2228M2331 1930 2336 1939M2336 1939 2361 1945M2324 1928 2331 1930M2364 1951 2361 1945M2379 1930 2361 1936M2155 2226 2154 2207M2151 2238 2155 2226M2087 2181 2084 2160M2086 2159 2084 2160M2027 1962 2020 1969M2027 1962 2016 1946M2013 1968 2020 1969M1988 1977 2000 1980M1995 2033 1976 2029M1996 2020 1979 2008M2005 2001 1989 1997M2196 1986 2188 1977M2201 2008 2189 1998M2210 1988 2196 1986M2175 2005 2178 1998M2112 2115 2114 2115M2119 2095 2114 2115M2121 2119 2114 2115M2164 2126 2153 2139M2157 2118 2138 2117M2145 2137 2136 2119M2141 2140 2145 2137M2121 2119 2136 2119M2122 2168 2106 2167M2130 2184 2122 2168M2106 2167 2106 2167M2096 2142 2096 2140M2085 2147 2070 2139M2086 2159 2085 2147M2064 2140 2070 2139M2156 2258 2168 2269M2212 2238 2216 2243M2203 2256 2214 2254M2240 2236 2240 2237M2240 2237 2232 2244M2344 1883 2334 1882M2290 2231 2288 2241M2295 2252 2288 2241M2285 2258 2299 2273M2393 1879 2383 1869M2344 1883 2355 1873" stroke="#55d865" stroke-width="3"/>
</g>
</g>
<rect x="2295.4" y="2223.7" width="65.2" height="9.8" fill="#fff"/>
<text x="1821" y="1498" textLength="115" lengthAdjust="spacingAndGlyphs" text-anchor="middle" font-size="74">WT</text>
<text x="2192" y="1493" textLength="357.8" lengthAdjust="spacingAndGlyphs" text-anchor="middle" font-size="74">CCL24 KO</text>
<text transform="translate(1590 1691) rotate(-90)" textLength="193.3" lengthAdjust="spacingAndGlyphs" text-anchor="middle" font-size="74">Sham</text>
<text transform="translate(1590 2021.5) rotate(-90)" textLength="142.5" lengthAdjust="spacingAndGlyphs" text-anchor="middle" font-size="74">TAC</text>
<rect x="2668.2" y="1435.3" width="114.4" height="24.9" fill="#fff" stroke="#231F20" stroke-width="3"/>
<text x="2848" y="1467.3" textLength="90.9" lengthAdjust="spacingAndGlyphs">WT</text>
<rect x="2991.6" y="1435.3" width="113.7" height="24.9" fill="#FDD27A" stroke="#231F20" stroke-width="3"/>
<text x="3171.4" y="1467.3" textLength="282.9" lengthAdjust="spacingAndGlyphs">CCL24 KO</text>
<rect x="2800.3" y="1986.3" width="71.8" height="214.5" fill="#fff" stroke="#1a1a1a" stroke-width="3.2"/>
<rect x="2908.1" y="2022.3" width="71.9" height="178.5" fill="#FDD27A" stroke="#1a1a1a" stroke-width="3.2"/>
<rect x="3087.8" y="1905.4" width="71.6" height="295.4" fill="#fff" stroke="#1a1a1a" stroke-width="3.2"/>
<rect x="3195.6" y="1771.8" width="71.6" height="429" fill="#FDD27A" stroke="#1a1a1a" stroke-width="3.2"/>
<line x1="2762.7" y1="1658.1" x2="2762.7" y2="2203.3" stroke="#000" stroke-width="5"/>
<line x1="2721.5" y1="2200.8" x2="2762.7" y2="2200.8" stroke="#000" stroke-width="5"/>
<text x="2706" y="2219.8" textLength="82" lengthAdjust="spacingAndGlyphs" text-anchor="end" font-size="59">0.0</text>
<line x1="2721.5" y1="2092.8" x2="2762.7" y2="2092.8" stroke="#000" stroke-width="5"/>
<text x="2706" y="2111.8" textLength="82" lengthAdjust="spacingAndGlyphs" text-anchor="end" font-size="59">0.5</text>
<line x1="2721.5" y1="1984.7" x2="2762.7" y2="1984.7" stroke="#000" stroke-width="5"/>
<text x="2706" y="2003.7" textLength="82" lengthAdjust="spacingAndGlyphs" text-anchor="end" font-size="59">1.0</text>
<line x1="2721.5" y1="1876.7" x2="2762.7" y2="1876.7" stroke="#000" stroke-width="5"/>
<text x="2706" y="1895.7" textLength="82" lengthAdjust="spacingAndGlyphs" text-anchor="end" font-size="59">1.5</text>
<line x1="2721.5" y1="1768.6" x2="2762.7" y2="1768.6" stroke="#000" stroke-width="5"/>
<text x="2706" y="1787.6" textLength="82" lengthAdjust="spacingAndGlyphs" text-anchor="end" font-size="59">2.0</text>
<line x1="2721.5" y1="1660.6" x2="2762.7" y2="1660.6" stroke="#000" stroke-width="5"/>
<text x="2706" y="1679.6" textLength="82" lengthAdjust="spacingAndGlyphs" text-anchor="end" font-size="59">2.5</text>
<line x1="2721.5" y1="2200.8" x2="3302.9" y2="2200.8" stroke="#000" stroke-width="5"/>
<line x1="2889.3" y1="2200.8" x2="2889.3" y2="2244.2" stroke="#000" stroke-width="5"/>
<line x1="3176.4" y1="2200.8" x2="3176.4" y2="2244.2" stroke="#000" stroke-width="5"/>
<line x1="2835.3" y1="1956.1" x2="2835.3" y2="2016.2" stroke="#000" stroke-width="3"/>
<line x1="2817.3" y1="1956.1" x2="2853.3" y2="1956.1" stroke="#000" stroke-width="3"/>
<line x1="2817.3" y1="2016.2" x2="2853.3" y2="2016.2" stroke="#000" stroke-width="3"/>
<circle cx="2835.3" cy="1918.1" r="10" fill="#fff" stroke="#000" stroke-width="3"/>
<circle cx="2835.3" cy="1956.1" r="10" fill="#fff" stroke="#000" stroke-width="3"/>
<circle cx="2835.3" cy="2023" r="10" fill="#fff" stroke="#000" stroke-width="3"/>
<circle cx="2835.3" cy="2048" r="10" fill="#fff" stroke="#000" stroke-width="3"/>
<line x1="2943.7" y1="2004" x2="2943.7" y2="2039.5" stroke="#000" stroke-width="3"/>
<line x1="2925.7" y1="2004" x2="2961.7" y2="2004" stroke="#000" stroke-width="3"/>
<line x1="2925.7" y1="2039.5" x2="2961.7" y2="2039.5" stroke="#000" stroke-width="3"/>
<circle cx="2943.7" cy="1977" r="10" fill="#fff" stroke="#000" stroke-width="3"/>
<circle cx="2943.7" cy="2013.7" r="10" fill="#fff" stroke="#000" stroke-width="3"/>
<circle cx="2943.7" cy="2035.8" r="10" fill="#fff" stroke="#000" stroke-width="3"/>
<circle cx="2943.7" cy="2060.3" r="10" fill="#fff" stroke="#000" stroke-width="3"/>
<line x1="3123.4" y1="1888.2" x2="3123.4" y2="1921.3" stroke="#000" stroke-width="3"/>
<line x1="3105.4" y1="1888.2" x2="3141.4" y2="1888.2" stroke="#000" stroke-width="3"/>
<line x1="3105.4" y1="1921.3" x2="3141.4" y2="1921.3" stroke="#000" stroke-width="3"/>
<circle cx="3122.8" cy="1823" r="10" fill="#fff" stroke="#000" stroke-width="3"/>
<circle cx="3098.1" cy="1871.6" r="10" fill="#fff" stroke="#000" stroke-width="3"/>
<circle cx="3148.3" cy="1865.4" r="10" fill="#fff" stroke="#000" stroke-width="3"/>
<circle cx="3098.1" cy="1917.6" r="10" fill="#fff" stroke="#000" stroke-width="3"/>
<circle cx="3148.3" cy="1914.5" r="10" fill="#fff" stroke="#000" stroke-width="3"/>
<circle cx="3098.1" cy="1940.2" r="10" fill="#fff" stroke="#000" stroke-width="3"/>
<circle cx="3148.3" cy="1942.6" r="10" fill="#fff" stroke="#000" stroke-width="3"/>
<circle cx="3098.1" cy="1962.3" r="10" fill="#fff" stroke="#000" stroke-width="3"/>
<line x1="3231.2" y1="1752.7" x2="3231.2" y2="1789.5" stroke="#000" stroke-width="3"/>
<line x1="3213.2" y1="1752.7" x2="3249.2" y2="1752.7" stroke="#000" stroke-width="3"/>
<line x1="3213.2" y1="1789.5" x2="3249.2" y2="1789.5" stroke="#000" stroke-width="3"/>
<circle cx="3230.4" cy="1734.3" r="10" fill="#fff" stroke="#000" stroke-width="3"/>
<circle cx="3205.9" cy="1794.4" r="10" fill="#fff" stroke="#000" stroke-width="3"/>
<circle cx="3255.7" cy="1784.6" r="10" fill="#fff" stroke="#000" stroke-width="3"/>
<text x="2974.6" y="1609.4" textLength="237.4" lengthAdjust="spacingAndGlyphs">5.50E-03</text>
<line x1="2949.7" y1="1618.7" x2="3235.4" y2="1618.7" stroke="#000" stroke-width="3"/>
<text x="3059.8" y="1691" textLength="237.4" lengthAdjust="spacingAndGlyphs">4.09E-02</text>
<line x1="3123.8" y1="1700.4" x2="3231.9" y2="1700.4" stroke="#000" stroke-width="3"/>
<text x="2865.8" y="1751.6" textLength="237.4" lengthAdjust="spacingAndGlyphs">1.05E-01</text>
<line x1="2836" y1="1760.8" x2="3123.8" y2="1760.8" stroke="#000" stroke-width="3"/>
<text x="2812.5" y="1872.4" textLength="148" lengthAdjust="spacingAndGlyphs">&gt;0.99</text>
<line x1="2837.4" y1="1879.5" x2="2944" y2="1879.5" stroke="#000" stroke-width="3"/>
<text transform="translate(2517.5 1941.7) rotate(-90)" textLength="354.3" lengthAdjust="spacingAndGlyphs" text-anchor="middle">Myocyte CSA</text>
<text transform="translate(2595 1941.7) rotate(-90)" textLength="360.9" lengthAdjust="spacingAndGlyphs" text-anchor="middle">(Fold change)</text>
<text x="2889.3" y="2309.5" textLength="152.8" lengthAdjust="spacingAndGlyphs" text-anchor="middle">Sham</text>
<text x="3176.4" y="2309.5" textLength="112.7" lengthAdjust="spacingAndGlyphs" text-anchor="middle">TAC</text>
<text x="3046" y="2409" textLength="188.6" lengthAdjust="spacingAndGlyphs" text-anchor="middle">1-week</text>
<text x="3647.7" y="2409" textLength="217.8" lengthAdjust="spacingAndGlyphs" text-anchor="middle">4-weeks</text>
<rect x="3552.9" y="1845.6" width="76.3" height="355.9" fill="#fff" stroke="#1a1a1a" stroke-width="3.2"/>
<rect x="3669.2" y="1847.7" width="76" height="353.8" fill="#FDD27A" stroke="#1a1a1a" stroke-width="3.2"/>
<line x1="3513.7" y1="1658.8" x2="3513.7" y2="2204" stroke="#000" stroke-width="5"/>
<line x1="3471.4" y1="2201.5" x2="3513.7" y2="2201.5" stroke="#000" stroke-width="5"/>
<text x="3456" y="2220.5" textLength="82" lengthAdjust="spacingAndGlyphs" text-anchor="end" font-size="59">0.0</text>
<line x1="3471.4" y1="2021.4" x2="3513.7" y2="2021.4" stroke="#000" stroke-width="5"/>
<text x="3456" y="2040.4" textLength="82" lengthAdjust="spacingAndGlyphs" text-anchor="end" font-size="59">0.5</text>
<line x1="3471.4" y1="1841.4" x2="3513.7" y2="1841.4" stroke="#000" stroke-width="5"/>
<text x="3456" y="1860.4" textLength="82" lengthAdjust="spacingAndGlyphs" text-anchor="end" font-size="59">1.0</text>
<line x1="3471.4" y1="1661.3" x2="3513.7" y2="1661.3" stroke="#000" stroke-width="5"/>
<text x="3456" y="1680.3" textLength="82" lengthAdjust="spacingAndGlyphs" text-anchor="end" font-size="59">1.5</text>
<line x1="3471.4" y1="2201.5" x2="3786.3" y2="2201.5" stroke="#000" stroke-width="5"/>
<line x1="3647.7" y1="2201.5" x2="3647.7" y2="2244.2" stroke="#000" stroke-width="5"/>
<line x1="3590.2" y1="1822.5" x2="3590.2" y2="1845.6" stroke="#000" stroke-width="3"/>
<line x1="3572.2" y1="1822.5" x2="3608.2" y2="1822.5" stroke="#000" stroke-width="3"/>
<line x1="3572.2" y1="1845.6" x2="3608.2" y2="1845.6" stroke="#000" stroke-width="3"/>
<circle cx="3590" cy="1741.9" r="10" fill="#fff" stroke="#000" stroke-width="3"/>
<circle cx="3563.5" cy="1846.5" r="10" fill="#fff" stroke="#000" stroke-width="3"/>
<circle cx="3580.8" cy="1858.1" r="10" fill="#fff" stroke="#000" stroke-width="3"/>
<circle cx="3563.5" cy="1876.9" r="10" fill="#fff" stroke="#000" stroke-width="3"/>
<circle cx="3599" cy="1870.8" r="10" fill="#fff" stroke="#000" stroke-width="3"/>
<circle cx="3618.3" cy="1868.8" r="10" fill="#fff" stroke="#000" stroke-width="3"/>
<line x1="3706.2" y1="1825.4" x2="3706.2" y2="1869.2" stroke="#000" stroke-width="3"/>
<line x1="3688.2" y1="1825.4" x2="3724.2" y2="1825.4" stroke="#000" stroke-width="3"/>
<line x1="3688.2" y1="1869.2" x2="3724.2" y2="1869.2" stroke="#000" stroke-width="3"/>
<circle cx="3706.2" cy="1808.7" r="10" fill="#fff" stroke="#000" stroke-width="3"/>
<circle cx="3678.8" cy="1825.4" r="10" fill="#fff" stroke="#000" stroke-width="3"/>
<circle cx="3734.2" cy="1826.9" r="10" fill="#fff" stroke="#000" stroke-width="3"/>
<circle cx="3706.2" cy="1841.3" r="10" fill="#fff" stroke="#000" stroke-width="3"/>
<circle cx="3706.2" cy="1932.3" r="10" fill="#fff" stroke="#000" stroke-width="3"/>
<text x="3529" y="1698" textLength="237.4" lengthAdjust="spacingAndGlyphs">4.29E-01</text>
<line x1="3590.8" y1="1709" x2="3704.5" y2="1709" stroke="#000" stroke-width="3"/>
<text x="3646" y="2309.5" textLength="112.7" lengthAdjust="spacingAndGlyphs" text-anchor="middle">TAC</text>
<text x="17" y="2645.6" font-size="85" font-weight="bold">E</text>
<path d="M390.0 3197.7 L403.1 3197.7 L403.1 3270.5 L390.0 3270.5Z" fill="#b88a84"/>
<path d="M449.7 3189.0 C453.1 3187.5 464.2 3192.3 473.0 3194.8 C481.7 3197.2 491.9 3199.1 502.1 3203.5 C512.3 3207.9 529.7 3217.1 534.1 3221.0 C538.5 3224.9 533.6 3227.3 528.3 3226.8 C523.0 3226.3 511.3 3220.5 502.1 3218.1 C492.9 3215.6 481.2 3214.7 473.0 3212.2 C464.7 3209.8 456.5 3207.4 452.6 3203.5 C448.7 3199.6 446.3 3190.4 449.7 3189.0Z" fill="#b88a84"/>
<path d="M344.8 3189.0 C341.9 3187.5 332.7 3192.3 324.4 3194.8 C316.2 3197.2 306.0 3199.1 295.3 3203.5 C284.7 3207.9 265.2 3217.1 260.4 3221.0 C255.5 3224.9 260.4 3227.3 266.2 3226.8 C272.0 3226.3 285.6 3220.5 295.3 3218.1 C305.0 3215.6 316.7 3214.7 324.4 3212.2 C332.2 3209.8 338.5 3207.4 341.9 3203.5 C345.3 3199.6 347.7 3190.4 344.8 3189.0Z" fill="#b88a84"/>
<path d="M291.0 2926.9 L276.4 2919.6 L264.8 2913.8 L257.5 2902.1 L263.9 2900.7 L267.7 2890.5 L272.6 2894.8 L276.4 2886.1 L280.8 2891.9 L286.0 2889.0 L286.6 2902.1 L293.9 2913.8Z" fill="#b88a84" stroke="#b88a84" stroke-width="1.5" stroke-linejoin="round"/>
<path d="M506.5 2926.9 L521.0 2919.6 L532.7 2913.8 L539.9 2902.1 L533.5 2900.7 L529.7 2890.5 L524.8 2894.8 L521.0 2886.1 L516.6 2891.9 L511.4 2889.0 L510.8 2902.1 L503.5 2913.8Z" fill="#b88a84" stroke="#b88a84" stroke-width="1.5" stroke-linejoin="round"/>
<ellipse cx="340.5" cy="2881.7" rx="14" ry="18" fill="#b88a84"/>
<ellipse cx="455.5" cy="2877.4" rx="14" ry="18" fill="#b88a84"/>
<path d="M398.7 2806.0 C404.0 2806.0 409.6 2811.6 414.7 2817.7 C419.8 2823.7 424.4 2835.1 429.3 2842.4 C434.1 2849.7 440.2 2855.5 443.8 2861.3 C447.5 2867.2 449.4 2871.3 451.1 2877.4 C452.8 2883.4 454.7 2891.0 454.0 2897.7 C453.4 2904.5 444.7 2913.3 447.3 2918.1 C450.0 2923.0 459.2 2928.1 470.1 2926.9 C480.9 2925.7 503.3 2910.9 512.3 2910.9 C521.3 2910.9 530.0 2919.1 523.9 2926.9 C517.9 2934.6 486.3 2948.7 475.9 2957.4 C465.4 2966.2 464.2 2968.4 461.3 2979.3 C458.4 2990.2 458.2 3008.4 458.4 3023.0 C458.6 3037.5 458.9 3055.0 462.8 3066.6 C466.7 3078.3 476.8 3084.1 481.7 3092.9 C486.6 3101.6 490.9 3109.8 491.9 3119.1 C492.9 3128.3 491.2 3140.4 487.5 3148.2 C483.9 3155.9 474.4 3158.1 470.1 3165.7 C465.7 3173.2 468.6 3188.2 461.3 3193.3 C454.0 3198.4 436.8 3194.5 426.4 3196.2 C415.9 3197.9 408.4 3203.5 398.7 3203.5 C389.0 3203.5 378.6 3197.9 368.1 3196.2 C357.7 3194.5 342.9 3198.4 336.1 3193.3 C329.3 3188.2 332.0 3173.2 327.4 3165.7 C322.8 3158.1 312.6 3155.9 308.4 3148.2 C304.3 3140.4 301.9 3128.3 302.6 3119.1 C303.3 3109.8 307.7 3101.6 312.8 3092.9 C317.9 3084.1 328.8 3078.3 333.2 3066.6 C337.6 3055.0 338.5 3037.5 339.0 3023.0 C339.5 3008.4 339.0 2990.2 336.1 2979.3 C333.2 2968.4 332.0 2966.2 321.5 2957.4 C311.1 2948.7 279.6 2934.6 273.5 2926.9 C267.4 2919.1 276.2 2910.9 285.1 2910.9 C294.1 2910.9 316.4 2925.7 327.4 2926.9 C338.3 2928.1 348.0 2923.0 350.7 2918.1 C353.3 2913.3 344.1 2904.5 343.4 2897.7 C342.6 2891.0 344.3 2883.4 346.3 2877.4 C348.2 2871.3 351.4 2867.2 355.0 2861.3 C358.7 2855.5 363.5 2849.7 368.1 2842.4 C372.7 2835.1 377.6 2823.7 382.7 2817.7 C387.8 2811.6 393.4 2806.0 398.7 2806.0Z" fill="#4a4341"/>
<path d="M350.7 2918.1 C351.1 2914.2 365.9 2907.5 374.0 2903.6 C382.0 2899.7 390.5 2894.8 398.7 2894.8 C407.0 2894.8 415.4 2899.7 423.5 2903.6 C431.6 2907.5 446.9 2914.2 447.3 2918.1 C447.8 2922.0 434.5 2924.9 426.4 2926.9 C418.3 2928.8 407.9 2929.8 398.7 2929.8 C389.5 2929.8 379.1 2928.8 371.0 2926.9 C363.0 2924.9 350.2 2922.0 350.7 2918.1Z" fill="#3a3432" opacity="0.5"/>
<ellipse cx="398.7" cy="2808.1" rx="6" ry="4" fill="#b88a84"/>
<g stroke="#777" stroke-width="1" fill="none">
<line x1="398.7" y1="2811.8" x2="357.9" y2="2806" stroke="#888" stroke-width="1"/>
<line x1="398.7" y1="2811.8" x2="355" y2="2814.8" stroke="#888" stroke-width="1"/>
<line x1="398.7" y1="2811.8" x2="363.8" y2="2823.5" stroke="#888" stroke-width="1"/>
<line x1="398.7" y1="2811.8" x2="439.5" y2="2806" stroke="#888" stroke-width="1"/>
<line x1="398.7" y1="2811.8" x2="442.4" y2="2814.8" stroke="#888" stroke-width="1"/>
<line x1="398.7" y1="2811.8" x2="433.7" y2="2823.5" stroke="#888" stroke-width="1"/>
</g>
<circle cx="376.9" cy="3108.9" r="19" fill="#8a5a5a" opacity="0.6"/>
<circle cx="376.9" cy="3108.9" r="9" fill="#d03030" opacity="0.8"/>
<line x1="375.4" y1="3113.2" x2="357.9" y2="3177.3" stroke="#333" stroke-width="1.5"/>
<g transform="translate(353.6 3180.2) rotate(15)">
<rect x="-6" y="0" width="12" height="36" fill="#4a9a7a"/>
<rect x="-9" y="34" width="18" height="6" fill="#3d8a6a"/>
<rect x="-11" y="40" width="22" height="92" fill="#d6e8f3" stroke="#6a8fa9" stroke-width="1.5"/>
<rect x="-7" y="44" width="9" height="84" fill="#a9cbe6"/>
</g>
<text x="984.5" y="2701.5" textLength="564.7" lengthAdjust="spacingAndGlyphs" text-anchor="middle" font-size="60">50ug/dose CCL24 Ab</text>
<path d="M648 2741V2707.7H1307.6V2741" fill="none" stroke="#8a8a8a" stroke-width="3"/>
<text x="657" y="2801" textLength="186.6" lengthAdjust="spacingAndGlyphs" text-anchor="middle" font-size="59.5">Dose 1</text>
<text x="987" y="2801" textLength="186.6" lengthAdjust="spacingAndGlyphs" text-anchor="middle" font-size="59.5">Dose 2</text>
<text x="1312" y="2801" textLength="186.6" lengthAdjust="spacingAndGlyphs" text-anchor="middle" font-size="59.5">Dose 3</text>
<line x1="648" y1="2825" x2="648" y2="2955" stroke="#1f5f7f" stroke-width="6"/>
<path d="M648 2976L634.5 2949L661.5 2949Z" fill="#1f5f7f"/>
<line x1="976.9" y1="2825" x2="976.9" y2="2955" stroke="#1f5f7f" stroke-width="6"/>
<path d="M976.9 2976L963.4 2949L990.4 2949Z" fill="#1f5f7f"/>
<line x1="1304.7" y1="2825" x2="1304.7" y2="2955" stroke="#1f5f7f" stroke-width="6"/>
<path d="M1304.7 2976L1291.2 2949L1318.2 2949Z" fill="#1f5f7f"/>
<line x1="638.5" y1="2989.7" x2="1773" y2="2989.7" stroke="#000" stroke-width="5"/>
<line x1="640.4" y1="2989.7" x2="640.4" y2="3025" stroke="#000" stroke-width="5"/>
<line x1="812.5" y1="2989.7" x2="812.5" y2="3025" stroke="#000" stroke-width="5"/>
<line x1="976.9" y1="2989.7" x2="976.9" y2="3025" stroke="#000" stroke-width="5"/>
<line x1="1130.8" y1="2989.7" x2="1130.8" y2="3025" stroke="#000" stroke-width="5"/>
<line x1="1301.8" y1="2989.7" x2="1301.8" y2="3025" stroke="#000" stroke-width="5"/>
<line x1="1465.3" y1="2989.7" x2="1465.3" y2="3025" stroke="#000" stroke-width="5"/>
<line x1="1617.3" y1="2989.7" x2="1617.3" y2="3025" stroke="#000" stroke-width="5"/>
<line x1="1770.2" y1="2989.7" x2="1770.2" y2="3025" stroke="#000" stroke-width="5"/>
<text x="639.5" y="3101" textLength="53.4" lengthAdjust="spacingAndGlyphs" text-anchor="middle" font-size="60">-1</text>
<text x="812.5" y="3101" textLength="33.4" lengthAdjust="spacingAndGlyphs" text-anchor="middle" font-size="60">0</text>
<text x="975" y="3101" textLength="33.4" lengthAdjust="spacingAndGlyphs" text-anchor="middle" font-size="60">1</text>
<text x="1128" y="3101" textLength="33.4" lengthAdjust="spacingAndGlyphs" text-anchor="middle" font-size="60">2</text>
<text x="1297" y="3101" textLength="33.4" lengthAdjust="spacingAndGlyphs" text-anchor="middle" font-size="60">3</text>
<text x="1465" y="3101" textLength="33.4" lengthAdjust="spacingAndGlyphs" text-anchor="middle" font-size="60">4</text>
<text x="1620" y="3101" textLength="33.4" lengthAdjust="spacingAndGlyphs" text-anchor="middle" font-size="60">5</text>
<text x="1768" y="3101" textLength="33.4" lengthAdjust="spacingAndGlyphs" text-anchor="middle" font-size="60">6</text>
<text x="1742" y="2959.5" textLength="176.7" lengthAdjust="spacingAndGlyphs" text-anchor="middle" font-size="60">(Days)</text>
<line x1="815.3" y1="3145" x2="815.3" y2="3273.6" stroke="#9b3a9b" stroke-width="6"/>
<path d="M815.3 3122L801.8 3150L828.8 3150Z" fill="#9b3a9b"/>
<line x1="1770.2" y1="3145" x2="1770.2" y2="3273.6" stroke="#9b3a9b" stroke-width="6"/>
<path d="M1770.2 3122L1756.7 3150L1783.7 3150Z" fill="#9b3a9b"/>
<text x="828" y="3346" textLength="115.5" lengthAdjust="spacingAndGlyphs" text-anchor="middle" font-size="60">TAC</text>
<text x="1781.7" y="3346" textLength="223.4" lengthAdjust="spacingAndGlyphs" text-anchor="middle" font-size="60">Analysis</text>
<rect x="2091.3" y="2624.4" width="116.5" height="25.4" fill="#fff" stroke="#231F20" stroke-width="3"/>
<text x="2272.5" y="2655" textLength="182" lengthAdjust="spacingAndGlyphs">Vehicle</text>
<rect x="2525.9" y="2624.4" width="115.9" height="25.4" fill="url(#hatch)" stroke="#231F20" stroke-width="3"/>
<text x="2707.6" y="2655" textLength="258" lengthAdjust="spacingAndGlyphs">CCL24 Ab</text>
<rect x="2259.2" y="3068.6" width="73.8" height="229.8" fill="#fff" stroke="#1a1a1a" stroke-width="3.2"/>
<rect x="2373.7" y="2970" width="74.1" height="328.4" fill="url(#hatch)" stroke="#1a1a1a" stroke-width="3.2"/>
<line x1="2218.5" y1="2762.1" x2="2218.5" y2="3300.9" stroke="#000" stroke-width="5"/>
<line x1="2177.6" y1="3298.4" x2="2218.5" y2="3298.4" stroke="#000" stroke-width="5"/>
<text x="2162" y="3317.4" textLength="31.5" lengthAdjust="spacingAndGlyphs" text-anchor="end" font-size="59">0</text>
<line x1="2177.6" y1="3191.6" x2="2218.5" y2="3191.6" stroke="#000" stroke-width="5"/>
<text x="2162" y="3210.6" textLength="63" lengthAdjust="spacingAndGlyphs" text-anchor="end" font-size="59">20</text>
<line x1="2177.6" y1="3084.9" x2="2218.5" y2="3084.9" stroke="#000" stroke-width="5"/>
<text x="2162" y="3103.9" textLength="63" lengthAdjust="spacingAndGlyphs" text-anchor="end" font-size="59">40</text>
<line x1="2177.6" y1="2978.1" x2="2218.5" y2="2978.1" stroke="#000" stroke-width="5"/>
<text x="2162" y="2997.1" textLength="63" lengthAdjust="spacingAndGlyphs" text-anchor="end" font-size="59">60</text>
<line x1="2177.6" y1="2871.4" x2="2218.5" y2="2871.4" stroke="#000" stroke-width="5"/>
<text x="2162" y="2890.4" textLength="63" lengthAdjust="spacingAndGlyphs" text-anchor="end" font-size="59">80</text>
<line x1="2177.6" y1="2764.6" x2="2218.5" y2="2764.6" stroke="#000" stroke-width="5"/>
<text x="2162" y="2783.6" textLength="94.5" lengthAdjust="spacingAndGlyphs" text-anchor="end" font-size="59">100</text>
<line x1="2177.6" y1="3298.4" x2="2486.5" y2="3298.4" stroke="#000" stroke-width="5"/>
<line x1="2351.7" y1="3298.4" x2="2351.7" y2="3340" stroke="#000" stroke-width="5"/>
<path d="M2268.8 3010.1L2279.3 3028.9L2258.3 3028.9Z" fill="#fff" stroke="#000" stroke-width="2.5" stroke-linejoin="miter"/>
<path d="M2322.9 2997.1L2333.4 3015.9L2312.4 3015.9Z" fill="#fff" stroke="#000" stroke-width="2.5" stroke-linejoin="miter"/>
<path d="M2295.4 3070.6L2305.9 3089.4L2284.9 3089.4Z" fill="#fff" stroke="#000" stroke-width="2.5" stroke-linejoin="miter"/>
<path d="M2295.4 3156.2L2305.9 3175.1L2284.9 3175.1Z" fill="#fff" stroke="#000" stroke-width="2.5" stroke-linejoin="miter"/>
<line x1="2295.4" y1="3031.4" x2="2295.4" y2="3103" stroke="#000" stroke-width="3"/>
<line x1="2275.4" y1="3031.4" x2="2315.4" y2="3031.4" stroke="#000" stroke-width="3"/>
<line x1="2275.4" y1="3103" x2="2315.4" y2="3103" stroke="#000" stroke-width="3"/>
<path d="M2410.2 2836.7L2420.7 2855.5L2399.7 2855.5Z" fill="#fff" stroke="#000" stroke-width="2.5" stroke-linejoin="miter"/>
<path d="M2410.2 2880.6L2420.7 2899.4L2399.7 2899.4Z" fill="#fff" stroke="#000" stroke-width="2.5" stroke-linejoin="miter"/>
<path d="M2423.8 2879.6L2434.3 2898.4L2413.3 2898.4Z" fill="#fff" stroke="#000" stroke-width="2.5" stroke-linejoin="miter"/>
<path d="M2396.7 2890L2407.2 2908.8L2386.2 2908.8Z" fill="#fff" stroke="#000" stroke-width="2.5" stroke-linejoin="miter"/>
<path d="M2396.7 2911.9L2407.2 2930.8L2386.2 2930.8Z" fill="#fff" stroke="#000" stroke-width="2.5" stroke-linejoin="miter"/>
<path d="M2410.2 2919.2L2420.7 2938L2399.7 2938Z" fill="#fff" stroke="#000" stroke-width="2.5" stroke-linejoin="miter"/>
<path d="M2423.8 2912.9L2434.3 2931.8L2413.3 2931.8Z" fill="#fff" stroke="#000" stroke-width="2.5" stroke-linejoin="miter"/>
<path d="M2383.1 2943.2L2393.6 2962L2372.6 2962Z" fill="#fff" stroke="#000" stroke-width="2.5" stroke-linejoin="miter"/>
<path d="M2396.7 2937L2407.2 2955.8L2386.2 2955.8Z" fill="#fff" stroke="#000" stroke-width="2.5" stroke-linejoin="miter"/>
<path d="M2438.4 2943.2L2448.9 2962L2427.9 2962Z" fill="#fff" stroke="#000" stroke-width="2.5" stroke-linejoin="miter"/>
<path d="M2410.2 2954.7L2420.7 2973.5L2399.7 2973.5Z" fill="#fff" stroke="#000" stroke-width="2.5" stroke-linejoin="miter"/>
<path d="M2423.8 2950.6L2434.3 2969.4L2413.3 2969.4Z" fill="#fff" stroke="#000" stroke-width="2.5" stroke-linejoin="miter"/>
<path d="M2396.7 2961L2407.2 2979.8L2386.2 2979.8Z" fill="#fff" stroke="#000" stroke-width="2.5" stroke-linejoin="miter"/>
<path d="M2402.9 2984L2413.4 3002.8L2392.4 3002.8Z" fill="#fff" stroke="#000" stroke-width="2.5" stroke-linejoin="miter"/>
<path d="M2416.5 2982.9L2427 3001.8L2406 3001.8Z" fill="#fff" stroke="#000" stroke-width="2.5" stroke-linejoin="miter"/>
<path d="M2396.7 3008L2407.2 3026.8L2386.2 3026.8Z" fill="#fff" stroke="#000" stroke-width="2.5" stroke-linejoin="miter"/>
<path d="M2410.2 3010.1L2420.7 3028.9L2399.7 3028.9Z" fill="#fff" stroke="#000" stroke-width="2.5" stroke-linejoin="miter"/>
<path d="M2423.8 3010.1L2434.3 3028.9L2413.3 3028.9Z" fill="#fff" stroke="#000" stroke-width="2.5" stroke-linejoin="miter"/>
<path d="M2423.8 3055L2434.3 3073.8L2413.3 3073.8Z" fill="#fff" stroke="#000" stroke-width="2.5" stroke-linejoin="miter"/>
<path d="M2410.2 3075.9L2420.7 3094.8L2399.7 3094.8Z" fill="#fff" stroke="#000" stroke-width="2.5" stroke-linejoin="miter"/>
<path d="M2410.2 3113.5L2420.7 3132.3L2399.7 3132.3Z" fill="#fff" stroke="#000" stroke-width="2.5" stroke-linejoin="miter"/>
<line x1="2409.7" y1="2968" x2="2409.7" y2="2984" stroke="#000" stroke-width="3"/>
<line x1="2389.7" y1="2968" x2="2429.7" y2="2968" stroke="#000" stroke-width="3"/>
<line x1="2389.7" y1="2984" x2="2429.7" y2="2984" stroke="#000" stroke-width="3"/>
<text x="2233" y="2787.3" textLength="228" lengthAdjust="spacingAndGlyphs">1.90E-02</text>
<line x1="2295" y1="2796.4" x2="2411" y2="2796.4" stroke="#000" stroke-width="3"/>
<text transform="translate(2031 3052.7) rotate(-90)" textLength="176" lengthAdjust="spacingAndGlyphs" text-anchor="middle" font-size="63">EF (%)</text>
<text x="2343" y="3407.4" textLength="108.2" lengthAdjust="spacingAndGlyphs" text-anchor="middle">TAC</text>
<rect x="2751.7" y="3107.2" width="74.7" height="190.2" fill="#fff" stroke="#1a1a1a" stroke-width="3.2"/>
<rect x="2866" y="2997.7" width="74.6" height="299.7" fill="url(#hatch)" stroke="#1a1a1a" stroke-width="3.2"/>
<line x1="2712" y1="2760.5" x2="2712" y2="3299.9" stroke="#000" stroke-width="5"/>
<line x1="2669.9" y1="3297.4" x2="2712" y2="3297.4" stroke="#000" stroke-width="5"/>
<text x="2654" y="3316.4" textLength="31.5" lengthAdjust="spacingAndGlyphs" text-anchor="end" font-size="59">0</text>
<line x1="2669.9" y1="3119.3" x2="2712" y2="3119.3" stroke="#000" stroke-width="5"/>
<text x="2654" y="3138.3" textLength="63" lengthAdjust="spacingAndGlyphs" text-anchor="end" font-size="59">20</text>
<line x1="2669.9" y1="2941.1" x2="2712" y2="2941.1" stroke="#000" stroke-width="5"/>
<text x="2654" y="2960.1" textLength="63" lengthAdjust="spacingAndGlyphs" text-anchor="end" font-size="59">40</text>
<line x1="2669.9" y1="2763" x2="2712" y2="2763" stroke="#000" stroke-width="5"/>
<text x="2654" y="2782" textLength="63" lengthAdjust="spacingAndGlyphs" text-anchor="end" font-size="59">60</text>
<line x1="2669.9" y1="3297.4" x2="2979.9" y2="3297.4" stroke="#000" stroke-width="5"/>
<line x1="2844" y1="3297.4" x2="2844" y2="3340" stroke="#000" stroke-width="5"/>
<path d="M2760.9 3052.6L2771.4 3071.4L2750.4 3071.4Z" fill="#fff" stroke="#000" stroke-width="2.5" stroke-linejoin="miter"/>
<path d="M2815.3 3039L2825.8 3057.8L2804.8 3057.8Z" fill="#fff" stroke="#000" stroke-width="2.5" stroke-linejoin="miter"/>
<path d="M2787.6 3111.9L2798.1 3130.8L2777.1 3130.8Z" fill="#fff" stroke="#000" stroke-width="2.5" stroke-linejoin="miter"/>
<path d="M2787.6 3186.1L2798.1 3204.9L2777.1 3204.9Z" fill="#fff" stroke="#000" stroke-width="2.5" stroke-linejoin="miter"/>
<line x1="2787.7" y1="3071.9" x2="2787.7" y2="3139.8" stroke="#000" stroke-width="3"/>
<line x1="2767.7" y1="3071.9" x2="2807.7" y2="3071.9" stroke="#000" stroke-width="3"/>
<line x1="2767.7" y1="3139.8" x2="2807.7" y2="3139.8" stroke="#000" stroke-width="3"/>
<path d="M2902.5 2814.1L2913 2832.9L2892 2832.9Z" fill="#fff" stroke="#000" stroke-width="2.5" stroke-linejoin="miter"/>
<path d="M2889.4 2889.5L2899.9 2908.3L2878.9 2908.3Z" fill="#fff" stroke="#000" stroke-width="2.5" stroke-linejoin="miter"/>
<path d="M2916.6 2889.5L2927.1 2908.3L2906.1 2908.3Z" fill="#fff" stroke="#000" stroke-width="2.5" stroke-linejoin="miter"/>
<path d="M2902.5 2904.2L2913 2923.1L2892 2923.1Z" fill="#fff" stroke="#000" stroke-width="2.5" stroke-linejoin="miter"/>
<path d="M2889.4 2938.9L2899.9 2957.8L2878.9 2957.8Z" fill="#fff" stroke="#000" stroke-width="2.5" stroke-linejoin="miter"/>
<path d="M2916.6 2940.1L2927.1 2958.9L2906.1 2958.9Z" fill="#fff" stroke="#000" stroke-width="2.5" stroke-linejoin="miter"/>
<path d="M2902.5 2947.6L2913 2966.4L2892 2966.4Z" fill="#fff" stroke="#000" stroke-width="2.5" stroke-linejoin="miter"/>
<path d="M2916.6 2967.2L2927.1 2986.1L2906.1 2986.1Z" fill="#fff" stroke="#000" stroke-width="2.5" stroke-linejoin="miter"/>
<path d="M2875.8 2979.7L2886.3 2998.5L2865.3 2998.5Z" fill="#fff" stroke="#000" stroke-width="2.5" stroke-linejoin="miter"/>
<path d="M2930.2 2979.7L2940.7 2998.5L2919.7 2998.5Z" fill="#fff" stroke="#000" stroke-width="2.5" stroke-linejoin="miter"/>
<path d="M2889.4 2988.2L2899.9 3007.1L2878.9 3007.1Z" fill="#fff" stroke="#000" stroke-width="2.5" stroke-linejoin="miter"/>
<path d="M2916.6 2992L2927.1 3010.8L2906.1 3010.8Z" fill="#fff" stroke="#000" stroke-width="2.5" stroke-linejoin="miter"/>
<path d="M2902.5 2995.7L2913 3014.5L2892 3014.5Z" fill="#fff" stroke="#000" stroke-width="2.5" stroke-linejoin="miter"/>
<path d="M2894.4 3021.7L2904.9 3040.5L2883.9 3040.5Z" fill="#fff" stroke="#000" stroke-width="2.5" stroke-linejoin="miter"/>
<path d="M2909.9 3020.5L2920.4 3039.3L2899.4 3039.3Z" fill="#fff" stroke="#000" stroke-width="2.5" stroke-linejoin="miter"/>
<path d="M2889.4 3053.8L2899.9 3072.6L2878.9 3072.6Z" fill="#fff" stroke="#000" stroke-width="2.5" stroke-linejoin="miter"/>
<path d="M2902.5 3056.2L2913 3075.1L2892 3075.1Z" fill="#fff" stroke="#000" stroke-width="2.5" stroke-linejoin="miter"/>
<path d="M2916.6 3053.8L2927.1 3072.6L2906.1 3072.6Z" fill="#fff" stroke="#000" stroke-width="2.5" stroke-linejoin="miter"/>
<path d="M2916.6 3103.2L2927.1 3122.1L2906.1 3122.1Z" fill="#fff" stroke="#000" stroke-width="2.5" stroke-linejoin="miter"/>
<path d="M2902.5 3115.6L2913 3134.4L2892 3134.4Z" fill="#fff" stroke="#000" stroke-width="2.5" stroke-linejoin="miter"/>
<path d="M2902.5 3152.7L2913 3171.5L2892 3171.5Z" fill="#fff" stroke="#000" stroke-width="2.5" stroke-linejoin="miter"/>
<line x1="2903" y1="2981.7" x2="2903" y2="3016.3" stroke="#000" stroke-width="3"/>
<line x1="2883" y1="2981.7" x2="2923" y2="2981.7" stroke="#000" stroke-width="3"/>
<line x1="2883" y1="3016.3" x2="2923" y2="3016.3" stroke="#000" stroke-width="3"/>
<text x="2730.8" y="2787.3" textLength="229" lengthAdjust="spacingAndGlyphs">3.80E-02</text>
<line x1="2787.4" y1="2795.3" x2="2903.4" y2="2795.3" stroke="#000" stroke-width="3"/>
<text transform="translate(2556.5 3052) rotate(-90)" textLength="172" lengthAdjust="spacingAndGlyphs" text-anchor="middle" font-size="63">FS (%)</text>
<text x="2835.7" y="3407.4" textLength="108.2" lengthAdjust="spacingAndGlyphs" text-anchor="middle">TAC</text>
</svg></body></html>
